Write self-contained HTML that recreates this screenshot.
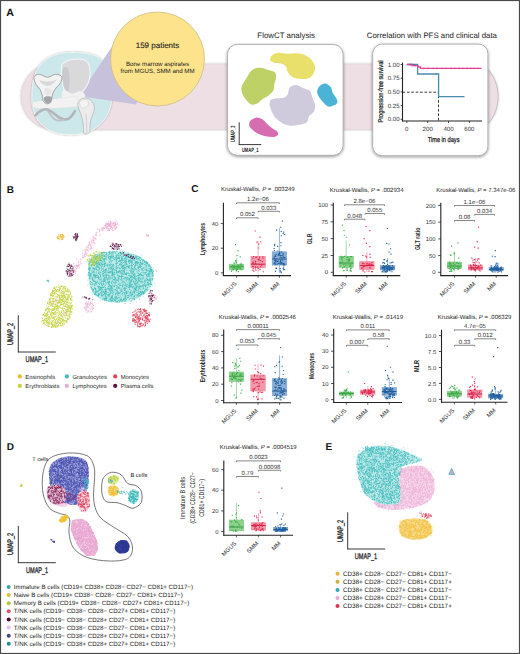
<!DOCTYPE html>
<html><head><meta charset="utf-8"><style>
html,body{margin:0;padding:0;background:#fff;}
body{width:520px;height:654px;overflow:hidden;}
svg{display:block;font-family:"Liberation Sans", sans-serif;text-rendering:geometricPrecision;}
</style></head><body>
<svg width="520" height="654" viewBox="0 0 520 654">
<defs>
<filter id="sh" x="-10%" y="-10%" width="120%" height="120%"><feGaussianBlur in="SourceAlpha" stdDeviation="1.6"/><feOffset dx="0" dy="0.6" result="b"/><feComponentTransfer><feFuncA type="linear" slope="0.45"/></feComponentTransfer><feMerge><feMergeNode/><feMergeNode in="SourceGraphic"/></feMerge></filter>
<filter id="sh2" x="-10%" y="-10%" width="120%" height="120%"><feGaussianBlur in="SourceAlpha" stdDeviation="1.2"/><feComponentTransfer><feFuncA type="linear" slope="0.3"/></feComponentTransfer><feMerge><feMergeNode/><feMergeNode in="SourceGraphic"/></feMerge></filter>
<filter id="soft" x="-5%" y="-5%" width="110%" height="110%"><feGaussianBlur stdDeviation="0.35"/></filter>
</defs>
<text x="6.3" y="15.8" font-size="10.6" text-anchor="start" fill="#111" font-weight="bold">A</text>
<path d="M53.7 64 H474.4 A23.8 32.7 0 0 1 474.4 129.4 H53.7 A32.7 32.7 0 0 1 53.7 64Z" fill="#eedfe5" stroke="#d9cdd2" stroke-width="0.5" filter="url(#sh2)"/>
<path d="M32 95C32.2 89.7 32.7 81.5 34.5 76C36.3 70.5 39.1 65.7 43 62C46.9 58.3 52.2 55.6 58 54C63.8 52.4 71.7 52.3 78 52.6C84.3 52.9 91.2 53.8 96 56C100.8 58.2 104.3 61.3 107 66C109.7 70.7 111.3 77.7 112 84C112.7 90.3 112.3 98 111 104C109.7 110 107.5 115.5 104 120C100.5 124.5 95.7 128.6 90 131C84.3 133.4 76.5 134.6 70 134.6C63.5 134.6 56.2 133.3 51 131C45.8 128.7 41.5 124.8 38.5 121C35.5 117.2 34.1 112.3 33 108C31.9 103.7 31.8 100.3 32 95Z" fill="#cce8ea" stroke="#eef2f2" stroke-width="1" filter="url(#sh2)"/>
<path d="M79 96 L113 45 L160 58 L136 104.5 Z" fill="#c8c1dc"/>
<path d="M61.6 65.5C62.1 63.1 63.5 63.1 65 62.1C66.5 61.1 68.4 60.3 70.4 59.8C72.4 59.3 74.9 59 77.1 59C79.3 59 82 59.2 83.8 59.8C85.6 60.4 86.9 61.2 87.9 62.8C88.9 64.4 89.6 66.8 89.9 69.5C90.2 72.2 90.1 76.1 89.5 78.9C88.9 81.7 87.7 84.2 86.5 86.3C85.3 88.4 84.1 90.2 82.5 91.7C80.9 93.2 79.1 94.4 77.1 95.1C75.1 95.8 72.3 96.2 70.4 95.7C68.5 95.2 66.9 94.1 65.7 92.4C64.5 90.7 63.6 88.3 63 85.6C62.4 82.9 62.1 79.5 61.9 76.2C61.7 72.9 61.1 67.8 61.6 65.5Z" fill="#d9d9dc" stroke="#f5f5f6" stroke-width="1.1"/>
<path d="M62.5 70C63 68.5 64.5 67 65.5 67C66.5 67 67.8 67.8 68.5 70C69.2 72.2 69.5 76.5 69.5 80C69.5 83.5 69.2 89.3 68.5 91C67.8 92.7 66.4 91.2 65.5 90C64.6 88.8 63.7 86.3 63.2 84C62.7 81.7 62.4 78.3 62.3 76C62.2 73.7 62 71.5 62.5 70Z" fill="#c9cacd"/>
<path d="M63.6 90C65.3 89.4 69.3 93.3 72 93.5C74.7 93.7 77.8 90.8 80 91C82.2 91.2 84.3 93 85 95C85.7 97 85.5 101.2 84 103C82.5 104.8 79 105.6 76 106C73 106.4 68.3 107 66 105.5C63.7 104 62.4 99.6 62 97C61.6 94.4 61.9 90.6 63.6 90Z" fill="#f1f1f2"/>
<path d="M32.7 101.8 C45 100 62 97.5 77.1 96.4 L81.1 105.8 C72 107.5 60 108.6 43.5 108.6 C38 108.5 35 108 32.7 107.2Z" fill="#f2f2f3" stroke="#d8d8da" stroke-width="0.4"/>
<path d="M35.4 115.3 C39 111.5 43 108.8 47 109.4 C51 110.5 54 113.5 57 116 C61 119.3 65 120.3 68.5 118.8 C71.5 117 73 113.8 75 111.2" fill="none" stroke="#b3b5b8" stroke-width="2.6" stroke-linecap="round"/>
<path d="M47.5 110.5 C50 114.5 52 117.5 55 119.5 C58 121 61.5 120.8 64 119.5" fill="none" stroke="#bfc1c4" stroke-width="1.8" stroke-linecap="round"/>
<path d="M34 76.9C34.6 75.2 37.1 74.2 39.4 74.3C41.6 74.3 44.8 77.2 47.5 77.2C50.2 77.2 53.2 74.4 55.6 74.3C58 74.2 60.8 75.1 61.6 76.5C62.4 77.9 61.5 80.7 60.6 82.6C59.7 84.5 57.2 86.4 56 88C54.8 89.6 53.9 90.8 53.2 92.4C52.5 94 52.3 96.1 51.8 97.8C51.3 99.5 51.3 101.5 50.4 102.5C49.5 103.5 47.6 104.1 46.4 103.8C45.2 103.5 43.7 102 43 100.5C42.3 99 42.7 96.9 42.2 95.1C41.7 93.3 41 91.3 40 89.5C39 87.7 37 86.4 36 84.3C35 82.2 33.4 78.6 34 76.9Z" fill="#f3f3f4" stroke="#9a9ca0" stroke-width="0.9"/>
<path d="M39 80 C44 82 52 82 57 79.5 C54 84 50 86 47 86 C43.5 85.5 41 83 39 80Z" fill="#d9d9dc"/>
<path d="M44 97.5C44.6 96.6 46.7 96.2 48 96.2C49.3 96.2 51.5 96.2 52 97.2C52.5 98.2 51.8 101 51 102C50.2 103 48.6 103.6 47.5 103.5C46.4 103.4 45.1 102.5 44.5 101.5C43.9 100.5 43.4 98.4 44 97.5Z" fill="#a3a4a8"/>
<path d="M44.5 89C45 88.1 46.8 87.9 48 88C49.2 88.1 51 88.5 51.5 89.5C52 90.5 51.5 93 50.8 94C50.1 95 48.5 95.6 47.5 95.5C46.5 95.4 45.3 94.6 44.8 93.5C44.3 92.4 44 89.9 44.5 89Z" fill="#e6e6e8"/>
<path d="M78.5 101.5C79.3 100.4 80.9 98.8 82.5 98.3C84.1 97.8 86.4 98 88 98.5C89.6 99 91 100.2 92 101.5C93 102.8 94 104.2 94.3 106C94.6 107.8 94.3 110.1 93.8 112C93.3 113.9 92.1 115.5 91.5 117.5C90.9 119.5 90.3 121.5 90 124C89.7 126.5 90.6 130.9 89.6 132.5C88.6 134.1 85 134.8 84 133.5C83 132.2 83.7 127.8 83.3 125C82.9 122.2 82.5 119.5 81.8 117C81.1 114.5 80 112 79.3 110C78.6 108 77.9 106.4 77.8 105C77.7 103.6 77.7 102.6 78.5 101.5Z" fill="#ececee" stroke="#b8b9bc" stroke-width="0.8"/>
<path d="M85.8 114 C86.8 120 86.8 127 86.6 133" fill="none" stroke="#d3d4d7" stroke-width="1.2"/>
<path d="M79.5 102.5C79.8 101.2 81.8 100 83 99.6C84.2 99.2 86.1 99.5 87 100.2C87.9 100.9 88.7 102.8 88.5 104C88.3 105.2 87.2 106.9 86 107.5C84.8 108.1 82.6 108.3 81.5 107.5C80.4 106.7 79.2 103.8 79.5 102.5Z" fill="#f4f4f5" stroke="#c6c7ca" stroke-width="0.5"/>
<path d="M487.6 69.6 A23.8 32.7 0 0 1 487.6 123.8" fill="none" stroke="#c4babf" stroke-width="0.8"/>
<circle cx="157.5" cy="59" r="47" fill="#fde38b" stroke="#cdbd8c" stroke-width="0.8"/>
<text x="157.5" y="47.8" font-size="8" text-anchor="middle" fill="#222" stroke="#222" stroke-width="0.12">159 patients</text>
<text x="157.6" y="65.6" font-size="6.15" text-anchor="middle" fill="#222">Bone marrow aspirates</text>
<text x="157.6" y="72.9" font-size="6.15" text-anchor="middle" fill="#222">from MGUS, SMM and MM</text>
<text x="286.2" y="37.8" font-size="7.9" text-anchor="middle" fill="#222">FlowCT analysis</text>
<rect x="227.4" y="44.4" width="115.7" height="110.9" rx="10" fill="#fff" stroke="#a9a9a9" stroke-width="0.9" filter="url(#sh)"/>
<path d="M271.8 55.4C273 54.2 274.9 53.2 277.5 52.9C280.1 52.6 284 53.7 287.3 53.7C290.6 53.8 294.4 53.1 297.1 53.2C299.8 53.3 301.6 53.7 303.7 54.5C305.8 55.3 307.8 56.4 309.4 57.8C311 59.2 312.6 60.9 313.5 62.7C314.4 64.5 315.2 66.4 315.1 68.4C315 70.5 313.7 73.4 312.6 75C311.5 76.6 310.4 77.5 308.6 78.2C306.8 78.9 304.2 79 302 79C299.8 79 297.4 78.7 295.5 78.2C293.6 77.7 292 77 290.6 75.8C289.2 74.6 288.1 72.5 287.3 70.9C286.5 69.3 286.8 67.2 285.7 66C284.6 64.8 282.7 64 280.8 63.5C278.9 63 276 63.2 274.2 62.7C272.4 62.2 270.5 61.5 270.1 60.3C269.7 59.1 270.6 56.6 271.8 55.4Z" fill="#e9e06c" filter="url(#soft)"/>
<path d="M249.7 72.5C250.8 71.3 252.5 69.2 254.6 68.4C256.6 67.6 259.7 67.6 262 67.9C264.3 68.2 266.3 69.3 268.5 70.1C270.7 70.9 273.8 71.2 275 72.5C276.2 73.8 276 76.2 275.9 78.2C275.8 80.2 274.6 82.8 274.2 84.8C273.8 86.8 274.3 88.7 273.4 90.5C272.4 92.3 270.3 94 268.5 95.4C266.7 96.8 264.7 97.3 262.8 98.7C260.9 100.1 259 102.6 257.1 103.6C255.2 104.5 253.1 105 251.3 104.4C249.5 103.9 247.9 102.1 246.4 100.3C244.9 98.5 243.2 96 242.4 93.8C241.6 91.6 241.1 89.4 241.5 87.2C241.9 85 243.7 82.6 244.8 80.7C245.9 78.8 247.3 77.2 248.1 75.8C248.9 74.4 248.6 73.7 249.7 72.5Z" fill="#bdd166" filter="url(#soft)"/>
<path d="M289.8 87.3C291.2 85.9 293.9 84.9 296.2 85.1C298.5 85.2 301.2 87.2 303.5 88.2C305.8 89.2 308.4 89.3 309.9 91C311.4 92.7 311.7 95.9 312.6 98.3C313.5 100.7 315.2 103.3 315.3 105.6C315.4 107.9 314.6 110.2 313.5 112C312.4 113.8 310 114.8 308.9 116.5C307.8 118.2 308.6 120.6 307.1 122C305.6 123.4 302.5 124.2 299.8 124.8C297.1 125.4 293.4 125.9 290.7 125.7C288 125.5 285.7 124.9 283.4 123.8C281.1 122.7 278.8 121.1 277 119.3C275.2 117.5 273.6 115.2 272.4 112.9C271.2 110.6 270 107.7 269.7 105.6C269.4 103.5 269.4 101.3 270.6 100.1C271.8 98.9 274.7 98.8 277 98.3C279.3 97.8 282.5 98.2 284.3 97.4C286.1 96.6 287 95.4 287.9 93.7C288.8 92 288.4 88.7 289.8 87.3Z" fill="#cfcbdd" filter="url(#soft)"/>
<path d="M321.7 84.6C323.1 83.8 324.8 83.2 326.3 83.7C327.8 84.2 329.8 85.8 330.9 87.3C332 88.8 331.8 91 332.7 92.8C333.6 94.6 335.5 96.6 336.3 98.3C337.1 100 337.8 101.6 337.3 102.8C336.9 104 335.1 105 333.6 105.6C332.1 106.2 329.8 107 328.1 106.5C326.4 106 325 104.2 323.6 102.8C322.2 101.4 321 100 319.9 98.3C318.8 96.6 317.5 94.5 317.2 92.8C316.9 91.1 317.4 89.6 318.1 88.2C318.9 86.8 320.3 85.3 321.7 84.6Z" fill="#4cb4d6" filter="url(#soft)"/>
<path d="M252.3 119.3C253.5 118.5 255.2 117.4 256.9 117.4C258.6 117.4 260.7 118.2 262.4 119.3C264.1 120.4 265.2 122.3 266.9 123.8C268.6 125.3 270.7 127.2 272.4 128.4C274.1 129.6 276.1 130.1 277 131.2C277.9 132.3 278.4 133.8 277.9 134.8C277.4 135.8 276 136.7 274.2 137C272.4 137.3 269.2 137 266.9 136.6C264.6 136.2 262.6 135.7 260.5 134.8C258.4 133.9 255.9 132.6 254.1 131.2C252.3 129.8 250.3 128.1 249.6 126.6C248.8 125.1 249.1 123.2 249.6 122C250.1 120.8 251.1 120.1 252.3 119.3Z" fill="#d66db1" filter="url(#soft)"/>
<line x1="239.2" y1="122.3" x2="239.2" y2="145" stroke="#222" stroke-width="0.9"/>
<line x1="238.8" y1="144.6" x2="261.2" y2="144.6" stroke="#222" stroke-width="0.9"/>
<text x="235.2" y="133.7" font-size="6.3" text-anchor="middle" fill="#222" font-weight="bold" transform="rotate(-90 235.2 133.7)" textLength="16.5" lengthAdjust="spacingAndGlyphs">UMAP_2</text>
<text x="241.9" y="152.4" font-size="6.3" text-anchor="start" fill="#222" font-weight="bold" textLength="16.6" lengthAdjust="spacingAndGlyphs">UMAP_1</text>
<text x="431.9" y="38.2" font-size="7.83" text-anchor="middle" fill="#222">Correlation with PFS and clinical data</text>
<rect x="372.7" y="44.1" width="115.2" height="111.6" rx="9.5" fill="#fff" stroke="#a9a9a9" stroke-width="0.9" filter="url(#sh)"/>
<line x1="402.5" y1="62.5" x2="402.5" y2="121.5" stroke="#222" stroke-width="1.1"/>
<line x1="402" y1="121" x2="482" y2="121" stroke="#222" stroke-width="1.1"/>
<line x1="400.6" y1="64.5" x2="402.5" y2="64.5" stroke="#222" stroke-width="0.8"/>
<text x="399.6" y="66.6" font-size="6.1" text-anchor="end" fill="#333">1.00</text>
<line x1="400.6" y1="78.2" x2="402.5" y2="78.2" stroke="#222" stroke-width="0.8"/>
<text x="399.6" y="80.3" font-size="6.1" text-anchor="end" fill="#333">0.75</text>
<line x1="400.6" y1="91.9" x2="402.5" y2="91.9" stroke="#222" stroke-width="0.8"/>
<text x="399.6" y="94" font-size="6.1" text-anchor="end" fill="#333">0.50</text>
<line x1="400.6" y1="105.6" x2="402.5" y2="105.6" stroke="#222" stroke-width="0.8"/>
<text x="399.6" y="107.7" font-size="6.1" text-anchor="end" fill="#333">0.25</text>
<line x1="400.6" y1="119.3" x2="402.5" y2="119.3" stroke="#222" stroke-width="0.8"/>
<text x="399.6" y="121.4" font-size="6.1" text-anchor="end" fill="#333">0.00</text>
<line x1="406.8" y1="121" x2="406.8" y2="123" stroke="#222" stroke-width="0.8"/>
<text x="406.8" y="131.4" font-size="6.1" text-anchor="middle" fill="#333">0</text>
<line x1="427.7" y1="121" x2="427.7" y2="123" stroke="#222" stroke-width="0.8"/>
<text x="427.7" y="131.4" font-size="6.1" text-anchor="middle" fill="#333">200</text>
<line x1="448.5" y1="121" x2="448.5" y2="123" stroke="#222" stroke-width="0.8"/>
<text x="448.5" y="131.4" font-size="6.1" text-anchor="middle" fill="#333">400</text>
<line x1="469.4" y1="121" x2="469.4" y2="123" stroke="#222" stroke-width="0.8"/>
<text x="469.4" y="131.4" font-size="6.1" text-anchor="middle" fill="#333">600</text>
<text x="443.6" y="141.8" font-size="7.2" text-anchor="middle" fill="#1a1a1a" textLength="31.7" lengthAdjust="spacingAndGlyphs" stroke="#1a1a1a" stroke-width="0.25">Time in days</text>
<text x="383.3" y="91.5" font-size="7.0" text-anchor="middle" fill="#1a1a1a" transform="rotate(-90 383.3 91.5)" textLength="62" lengthAdjust="spacingAndGlyphs" stroke="#1a1a1a" stroke-width="0.25">Progression-free survival</text>
<path d="M402.5 92.2 H438.5 V121" fill="none" stroke="#222" stroke-width="0.9" stroke-dasharray="2.6 1.8"/>
<path d="M406.8 64.5 H417.6 V74 H438.6 V96.6 H464.5" fill="none" stroke="#4d8ab0" stroke-width="1.3"/>
<path d="M406.8 64.5 H412 V65.6 H418 V67 H420.5 V68.4 H481.5" fill="none" stroke="#e4449a" stroke-width="1.4"/>
<path d="M424 67.6v1.6M428 67.6v1.6M433 67.6v1.6M437 67.6v1.6M442 67.6v1.6M446 67.6v1.6M451 67.6v1.6M455 67.6v1.6M459 67.6v1.6M463 67.6v1.6M467 67.6v1.6M471 67.6v1.6M474 67.6v1.6M478 67.6v1.6M410 63.7v1.6M415 64.8v1.6" stroke="#c0307a" stroke-width="0.6"/>
<path d="M411 63.8v1.4M414 63.8v1.4M436 73.3v1.4" stroke="#2a5a80" stroke-width="0.6"/>
<text x="6.8" y="192.7" font-size="10" text-anchor="start" fill="#111" font-weight="bold">B</text>
<path d="M80.4 264h0M70.5 272.5h0M71.2 273.5h0M82.8 257.6h0M82.3 257h0M73.5 263.6h0M82.7 253.8h0M72.1 273h0M75.1 270.7h0M93.7 242.8h0M86.5 250h0M72.8 273.7h0M87.8 247.4h0M85.1 251.2h0M91.9 240.7h0M82.9 250.8h0M89.4 249h0M71 272.2h0M73.8 269.5h0M88.9 245.2h0M93.6 240.6h0M85.1 249.6h0M95.2 239.3h0M90.9 248.4h0M91.1 248h0M76.2 265.3h0M69.7 275.3h0M75.8 272h0M73.6 272h0M95.9 239.4h0M87.6 250.4h0M93.9 240.5h0M83.1 257.9h0M74.7 270.6h0M74.4 266.2h0M79 264.7h0M76.7 258.5h0M87.1 246.1h0M92.2 248.1h0M93.9 240.4h0M80.4 259.6h0M88.3 249h0M76.6 268.3h0M72.4 273.7h0M72.6 271.9h0M93.8 237.8h0M76.2 266.4h0M76.4 266.6h0M82.4 256h0M72.2 272.7h0M93.4 240.7h0M95.7 234.9h0M87.1 253h0M99 232.1h0M76.7 265.5h0M88.9 242.2h0M79.7 264.7h0M99.3 231.3h0M92.8 239.7h0M84.3 254h0M70.6 276h0M91.1 245.8h0M100.2 235.4h0M80.4 261.4h0M76.1 269.7h0M96.2 235.7h0M88.5 247.3h0M90.9 246.1h0M90 243.9h0M90.7 244.6h0M95.9 235.2h0M96.4 234.3h0M75.6 273.4h0M94.4 243.7h0M96.6 232.6h0M85.5 252.6h0M96 232.7h0M93.2 237.2h0M93.4 241.7h0M78.3 265.5h0M76.5 265.3h0M94.4 238.3h0M87.7 250h0M93.7 236.5h0M86.4 253.7h0M78 268.2h0M72.3 269h0M84.7 253.8h0M85.7 251.4h0M85.7 253.2h0M89.6 242.7h0M92.8 242.4h0M85.2 249.6h0M87.5 246.8h0M85.7 254.6h0M95.7 237.9h0M88.5 250.9h0M75.1 271.3h0M72.1 273.5h0M89.5 243.9h0M73.8 267.1h0M77.1 267h0M77.7 266.1h0M86.7 254.9h0M72.8 269.9h0M80 262.7h0M92.2 245.2h0M83.8 257.2h0M86.9 249.1h0M98.6 229.5h0M72.9 271.9h0M91.7 243.3h0M84.3 256.3h0M79.4 267.8h0M85.8 250.8h0M71 272h0M74.1 272h0M95.2 243.1h0M73 271.8h0M76 260.2h0M78.8 265.9h0M77.4 266.3h0M71.8 275.2h0M78.6 261.6h0M84.6 255.8h0M70.5 275.5h0M89.5 244.2h0M84 255.3h0M91.2 241.6h0M91.9 241.3h0M90.7 246.3h0M92.7 238h0M81 259h0M76 271.5h0M77.5 265.6h0M95.2 238.1h0M78 265.2h0M83.8 257.7h0M81.5 263.7h0M85.5 256.6h0M78.6 262.7h0M78.8 259.9h0M75.5 267.4h0M78.8 265.5h0M72.5 274.4h0M74.8 265h0M89.6 241.6h0M93.5 239.1h0M99.1 235.7h0M90.9 249.2h0M93.2 235.8h0M94 242.6h0M85.6 251.8h0M90.2 238.8h0M88.7 245.6h0M71.9 275.8h0M74 269.7h0M85.9 247.3h0M86.6 255h0M89 243.8h0M90.9 248.7h0M78.2 265.7h0M91.2 247.2h0M95.8 234.1h0M82.3 252.9h0M86.9 249h0M74.1 272.3h0M78.3 262.8h0M71.4 275.8h0M88.8 245.1h0M111.2 225.6h0M110.6 222.2h0M115.7 223h0M105.2 225.6h0M110.4 223.7h0M107.5 226.8h0M106.7 226.2h0M114.8 226.1h0M115.6 228h0M107.8 230h0M110.8 221.2h0M105 225.9h0M110.4 224h0M106.7 224.4h0M108.8 229.4h0M116.1 228.1h0M115.8 223.9h0M109.5 224.9h0M109.3 225.3h0M108.4 230.4h0M108 223.7h0M111.1 222.9h0M109.5 230.6h0M115.6 229.1h0M112.6 230.1h0M116.3 226.5h0M113.8 225.5h0M114 227.4h0M108.4 221.5h0M110.7 224.4h0M108.6 228.4h0M112.9 224h0M111.7 224.9h0M107 222.6h0M111 223.2h0M110.4 222.4h0M109.1 221.9h0M107.9 223.6h0M111.8 229.9h0M114 225.1h0M110 226.2h0M109.5 224.4h0M105.7 223.8h0M111 227.3h0M115.4 223.2h0M108.3 223.5h0M109.8 225.5h0M115.7 225.7h0M109.7 230.3h0M114.9 229.6h0M111.3 227.8h0M116.3 228.2h0M112.8 228.6h0M110.5 226.5h0M107.8 230.2h0M112.7 224h0M106.5 223.5h0M112.6 228h0M111.3 226.8h0M109.7 223.2h0M112.2 221.1h0M108.6 225.6h0M116.5 227.4h0M115.6 225.8h0M107.8 223.5h0M111 227.7h0M110 223.6h0M113 230.3h0M109.1 225.2h0M113.2 223h0M114.6 228.4h0M111.1 223.1h0M114.8 223.3h0M107.7 228.6h0M108.5 230.5h0M110.9 222.9h0M107.7 225.2h0M113 230.5h0M106.8 224.9h0M105.7 224.9h0M116.2 224.3h0M113 224.8h0M109.5 224.3h0M108.4 224.5h0M109.3 229.2h0M114.9 225.3h0M105.6 225.7h0M109.5 230.2h0M107.3 224.6h0M109.9 229.1h0M93.2 304.1h0M91.5 311.8h0M87.4 304.3h0M93.6 308.4h0M86.6 309.6h0M87.2 304.3h0M93.2 308.6h0M86.3 306.7h0M87.9 304h0M88.3 306.9h0M92 309.9h0M92.2 310.3h0M90.1 304.9h0M87.2 305.3h0M86 310h0M84.3 307.6h0M86.6 302h0M85 307h0M91.1 306.4h0M86.3 306h0M90.2 309.1h0M91.5 311.2h0M90.6 302.5h0M92.4 304.5h0M89.7 305.5h0M91.4 303.4h0M86.5 303.9h0M89.8 304.9h0M89.1 303.8h0M92.1 308.8h0M88.7 310.8h0M85.2 303.3h0M93.7 308h0M93.3 305.5h0M92.7 306.4h0M86.6 310.3h0M90 308.4h0M86.2 305.4h0M85.4 303.4h0M86.5 308.2h0M90.5 303.4h0M90.8 303.2h0M87.1 303.4h0M92 307.6h0M88 307.6h0M90.4 302.1h0M85.6 309.3h0M88.1 304.4h0M87.1 312.4h0M87.1 307.8h0M87.6 306h0M87.6 303.4h0M91.3 303.4h0M88.2 310.8h0M88.1 311.6h0M88.6 303h0M84.1 307.6h0M90.4 311.9h0M84.9 308.5h0M87.7 307.1h0M85.5 304.4h0M89.2 312.1h0M85.1 306.9h0M86 302.5h0M88.8 301.6h0M93.3 305.7h0M93 308.4h0M92.2 302.9h0M91.9 303.7h0M88 311.2h0M115.3 224.1h0M106 226.7h0M102.3 230.9h0M117.6 223.2h0M115.9 224.5h0M100.9 228.2h0M110.9 226.2h0M108.9 226.1h0M107.8 226.5h0M110.3 225.1h0M114 222.6h0M102.7 228.7h0M101.8 229.2h0M107.6 226.4h0M113.2 225.9h0M113.6 223.8h0M107 228h0M104.9 225.8h0M113.5 223.4h0M114.7 222.3h0M117.6 224.5h0M117.8 223h0M115 226.1h0M105.2 227.2h0M109.8 225.6h0M103.7 227.9h0M101 230.4h0M115.8 220.2h0M103.2 228.1h0M108.8 224.9h0M114.2 222.5h0M118.9 225.2h0M109.6 226.3h0M106.3 227.8h0M106.6 225.8h0M103.2 228.2h0M114.7 225.2h0M116.2 221.2h0M105.9 227.5h0M101.7 228h0M109.7 225.5h0M103.9 228h0M99.7 230.4h0M106.7 228.7h0M111.1 226.9h0M110.4 228.3h0M104.7 228.5h0M112.9 223.4h0M107.2 227h0M110.6 224.4h0M109 225.8h0M113.2 226.7h0M99.6 229.4h0M106.2 228.8h0M97.5 229h0M103.1 230.4h0M107.7 224.2h0M102.8 229.5h0M102.5 228.3h0M115.2 224.4h0M148.2 235.4h0M148.2 235.4h0M146.7 234.3h0M147 236.2h0M148.1 236.5h0M148.1 234.8h0M147.7 235.3h0M148.4 235.6h0M146.8 235.9h0M146.8 234.7h0M67 311.3h0M67.5 311.3h0M65 313.6h0M66.5 312.8h0M65.9 313.4h0M66.8 313.4h0M65.7 312.9h0M66.3 311.2h0M64.8 312.5h0M65.4 310.6h0M155.8 297.8h0M155.8 298.4h0M153.3 297.5h0M154.5 298.9h0M153.4 295.2h0M156.4 298.9h0M155.5 299h0M155.5 295.7h0M156 295.2h0M154.3 296.5h0M154.1 298.3h0M154.5 295.9h0M156.9 297h0M156.4 297.7h0M153.1 296.5h0M54.8 301h0M55.5 299.9h0M58.7 300h0M53.7 303.8h0M56.7 299.7h0M53.2 301.7h0M52.2 303.7h0M56.8 301.6h0M54 304.5h0M56.1 302.4h0M52.9 302.9h0M56.1 298.8h0" stroke="#eeaad2" stroke-width="0.9" stroke-linecap="round"/>
<path d="M54.1 301.7h0M69.9 306.3h0M53.4 323h0M48.9 304.5h0M58.2 317.3h0M65.2 312.6h0M52.5 298.7h0M46.4 321.2h0M62.4 316.8h0M65.9 309.7h0M69.4 294.9h0M63.6 321.2h0M49.3 298.7h0M57.9 291.5h0M51.8 292.7h0M64.6 303.4h0M47.7 312.3h0M54.1 318.9h0M63.3 306.3h0M61.4 304.7h0M46 310.8h0M54.2 316.7h0M70.1 303.2h0M59.6 317.1h0M54.8 294.4h0M64.2 322.8h0M65.9 315h0M68.4 314.1h0M61.7 304.2h0M51.4 311.8h0M66.1 315.5h0M61.3 295.4h0M54.8 304.3h0M61.1 302.3h0M62.8 325h0M47.3 313h0M66 301.4h0M56.9 326.9h0M46.6 318.5h0M71.1 307.1h0M58.5 315.7h0M57.6 312.3h0M67.6 307.2h0M54.4 325.7h0M48.1 314.3h0M53.9 317.7h0M50.1 301.9h0M54.7 314.9h0M52.6 296h0M48.6 316.8h0M71.1 307.4h0M48.4 319.4h0M53.8 293.7h0M45.6 318.3h0M67 312.1h0M56.3 308.9h0M48.6 326.4h0M52.6 312.3h0M67.3 320h0M56.2 297.3h0M58.8 289.9h0M67.8 299.9h0M68.3 296.1h0M53.3 295.5h0M54.9 292.6h0M50.4 295.2h0M51 305.4h0M55 312.2h0M62.3 300.3h0M43.3 320.5h0M45.9 320.7h0M61.4 285.2h0M62.2 295.4h0M48.9 318.3h0M52.4 291.1h0M46.8 323.3h0M60.7 318.5h0M62.6 323.4h0M66.3 321h0M47.7 314.6h0M58.2 316.8h0M55.3 322.9h0M59 296h0M57 287h0M56.2 290.8h0M57 306.2h0M58.5 322h0M41.7 321.1h0M56.2 309h0M62.5 321.1h0M53.3 302.7h0M61.6 312.2h0M63 325h0M51.9 327.2h0M57.6 305.6h0M64.1 311.7h0M52.2 322h0M53 305.1h0M58.1 318h0M48.1 303.4h0M54.8 308.6h0M67.5 297.2h0M67.6 302.1h0M57.4 296.3h0M57.5 326.9h0M62.1 318.9h0M51.9 298.3h0M50.9 310h0M61.5 318.6h0M42.8 315.9h0M69.4 308.2h0M70.5 311h0M62.2 318.8h0M70.2 311.1h0M60.9 311.8h0M63.4 310.4h0M63 293.7h0M62.5 304.4h0M65.5 288.9h0M62.2 300.5h0M67.4 318.7h0M59.2 295.7h0M51 302.8h0M51.5 303.2h0M61.7 325.1h0M67 309.5h0M70.4 303.9h0M60.1 325.3h0M72.4 305.2h0M54.5 288.9h0M61.8 293.7h0M44.3 322.3h0M64.2 295h0M64.6 292.7h0M43.1 318.2h0M64 321.7h0M64.5 288.2h0M61.3 315.4h0M56 325.1h0M49.5 326.4h0M67.2 288h0M51.3 316.2h0M46.7 322h0M56.8 287.1h0M53.1 309.5h0M55.3 313.9h0M46.1 319.2h0M52.9 312.6h0M61.3 302.7h0M53.7 318.7h0M59.4 297.2h0M63.7 320.5h0M52 310.9h0M60.4 297.9h0M55 323.1h0M53.4 314.3h0M60.5 323.5h0M66.9 296.8h0M54.8 310h0M42.8 320.7h0M59.5 296.4h0M68.3 319.6h0M63.1 324.2h0M58.9 319.2h0M47.8 317.1h0M70.8 294.7h0M60.6 314h0M56.2 293.5h0M49.5 317.2h0M66.4 304.5h0M44.3 319.6h0M65.8 294.6h0M59.8 323.5h0M69.4 307.2h0M56.5 310.1h0M47.2 315h0M52.9 309.1h0M54.2 307h0M72.9 300.8h0M44.8 312h0M66.3 291.3h0M60.3 299.5h0M68.8 305.7h0M59.4 295.9h0M66 303h0M59.1 322.4h0M55.9 325.7h0M60.3 301.8h0M49.6 309.1h0M62.6 301.6h0M55.6 291.4h0M49.6 299.8h0M66.3 315.4h0M62.8 297.5h0M60.1 317.5h0M56.7 291.8h0M64.1 293h0M48.4 325.1h0M68 311.8h0M55.7 299.3h0M67.4 305.3h0M61.3 290.7h0M64 308.6h0M46.1 322.4h0M49.9 302.4h0M67.9 299.1h0M46.8 305.9h0M51.5 323.8h0M43.3 323.4h0M62.6 293.7h0M56.5 297h0M53 327.6h0M64.4 297.3h0M66.9 299.3h0M67.7 307.4h0M47.4 303.4h0M70.2 294h0M59.5 290.5h0M47.2 318h0M63.9 293.1h0M60.7 306.1h0M60.8 315.3h0M67.1 309.9h0M64.6 302.3h0M64.2 286.9h0M67 299.1h0M70.2 305.2h0M69 296.1h0M47.4 320.7h0M53.1 291.6h0M53.2 310.4h0M55.5 306.9h0M45.3 315.6h0M51.6 315.4h0M53.5 317.2h0M43.4 322.5h0M71.6 306h0M57.7 307.6h0M58.4 285.4h0M49.4 320h0M63.5 293h0M59.7 307.2h0M63.6 289h0M68.9 315.7h0M57 306.3h0M54.3 290.5h0M60.1 322h0M46.1 309.4h0M65 291.6h0M53.7 302.8h0M68 307.4h0M54 325.4h0M66 299.2h0M49.1 299.1h0M55.2 327.2h0M67.2 321.4h0M49.4 302.9h0M61.4 300.4h0M58.2 287.5h0M55.1 306.5h0M71 312h0M61.7 296.1h0M62.9 296.4h0M58.6 324.7h0M61.1 295.4h0M57.9 303.4h0M71.5 297h0M51.1 312.7h0M45.3 310.4h0M71.6 306.8h0M50 304.8h0M58.3 291h0M50.7 302.2h0M50.6 295.1h0M68 311h0M59.5 312.8h0M47.8 315.4h0M56 308.3h0M60.8 304.9h0M51.3 295h0M48.5 306.8h0M53.6 310h0M68.6 294.9h0M59 305.9h0M50.8 318.1h0M68.9 303.6h0M55.4 316.5h0M52.6 313.9h0M60.9 321.5h0M67.4 307h0M64.8 316.8h0M65.4 305.2h0M66.2 315.3h0M65.6 310h0M57.2 326.4h0M59.5 302.7h0M66.2 322.5h0M60.6 301h0M55.7 304.4h0M64.3 297.2h0M53.8 308.7h0M53.6 298.5h0M66.3 321.5h0M57.2 303.8h0M46.1 309.5h0M59.8 288.3h0M70.5 298.6h0M54.9 324.1h0M59.3 306.1h0M57.8 307h0M63.1 301.4h0M52.8 310.4h0M52.6 325.7h0M62.8 307.3h0M54.1 308.9h0M59.6 322.8h0M71.9 305.7h0M55.4 311.7h0M58.2 320h0M57.6 289.3h0M69.7 314.5h0M69.5 302.8h0M57.6 306.5h0M61.3 310.7h0M61.6 286.3h0M54.5 318.8h0M51.2 314.5h0M68 310h0M62.5 293.1h0M57.2 308.6h0M49.9 312.6h0M59.6 302.4h0M65.4 289.1h0M58 320.3h0M60.8 319.6h0M65.8 298.5h0M64 299.9h0M44.6 323.8h0M59.8 299.7h0M55.7 301.3h0M43.2 323.2h0M59.9 326.2h0M55.3 311.5h0M51.4 323.6h0M67.2 297.7h0M57.1 325.8h0M49.2 301.5h0M64.1 294.1h0M51.2 322.6h0M56.8 319h0M52.8 292.6h0M72.1 297.1h0M59.2 289.5h0M58.3 301.3h0M54.2 287.3h0M45.4 320.4h0M52.6 295.2h0M62.4 299.4h0M46.4 315.2h0M67.8 290.1h0M55.5 320.9h0M66.9 291.4h0M52.6 315.9h0M53.4 326.2h0M48.1 325.9h0M57.4 294.4h0M55.8 290.2h0M63.8 295.8h0M69.8 310.1h0M53.1 295.2h0M60.7 293.7h0M69 289.8h0M57.7 308.1h0M50 318.1h0M53.6 313.1h0M59.4 298h0M53.8 288.2h0M47.1 321.5h0M51.6 313.3h0M52.9 306.3h0M51.3 294.3h0M45.5 315.7h0M50.4 302h0M70.1 318.2h0M62.4 299.8h0M54.5 313.2h0M63.5 295.3h0M68.2 299.8h0M61.3 292.4h0M45.1 324.2h0M64.6 315.5h0M51 301.1h0M61.6 292.3h0M67.9 309.3h0M64.1 295.6h0M55.2 314.3h0M67.8 318.3h0M68.4 310.9h0M45 318.9h0M48.1 324.3h0M65.1 288.2h0M63.4 301.6h0M65 320.6h0M71.3 302.9h0M70.8 314.6h0M64.8 320.6h0M61.3 304.2h0M43.2 314.9h0M55 306.8h0M65.5 286.4h0M63.6 319.5h0M49.7 308.3h0M72 312.2h0M58.6 295.4h0M54.5 293.3h0M63.8 313.7h0M57.7 303.9h0M71 299.8h0M50.9 323h0M46 309h0M52 320h0M58.8 317.6h0M46.8 313.5h0M60.4 304.6h0M65.6 320.7h0M52.9 293.5h0M47.7 315h0M55.6 289.4h0M51.7 304.9h0M52.9 291.8h0M44.1 315.7h0M72.4 309h0M55.2 292.8h0M70.5 312.5h0M61.3 325.2h0M62.1 295.4h0M42.4 318.2h0M67.9 297.4h0M47.4 312.3h0M46.8 318.6h0M67.7 316.8h0M51.8 292.5h0M67.5 298.4h0M53.1 308.5h0M53.1 320.7h0M59.4 311.8h0M67.3 315.2h0M57.1 306.2h0M59.8 288h0M63.2 291.6h0M55.5 326.7h0M55.3 292.8h0M66.3 303h0M50.4 313.3h0M57.7 302.8h0M52.2 303.6h0M62.5 320.4h0M70 291.7h0M50.8 303.8h0M59.2 299.6h0M51.7 304.5h0M71.8 311.5h0M62.8 311h0M50.9 309.3h0M71.5 305.4h0M61.9 297.5h0M52.3 323h0M62.9 304h0M44.2 313.2h0M53.2 309.8h0M54.6 307.6h0M59.3 301.7h0M69.5 308.3h0M45 322h0M58.2 295.4h0M56.9 308.6h0M48.6 309.4h0M60 288h0M54.4 287.7h0M55.3 322.1h0M58.8 315.6h0M65.3 289.5h0M44.7 320.6h0M53.8 291.9h0M71.7 309h0M65.9 290.5h0M65.9 287h0M49 300.7h0M63.8 303h0M69.5 311.5h0M69 309h0M46.8 316.9h0M52.3 317.7h0M62.9 320.4h0M64.2 286.4h0M60.5 288.8h0M58.8 319.4h0M45.1 324.8h0M62.8 295.6h0M47.6 303.9h0M67.9 309.8h0M45 319.3h0M47.3 308.6h0M50.6 314.4h0M53.5 290.8h0M69.1 307.9h0M63.2 319.7h0M52.3 291.1h0M57.3 322.5h0M47.2 320.1h0M62.9 301.6h0M56.5 291.4h0M68.1 301.6h0M69 311.1h0M48.3 323.4h0M60.1 286.4h0M56.2 309.6h0M53.7 299.9h0M56 327.4h0M62.6 296.4h0M50.1 306.3h0M49.8 309.2h0M58.1 326.1h0M59.2 318h0M69 318.2h0M61.4 312.1h0M52.9 296.7h0M66.6 322.5h0M71.1 314.1h0M51.1 317.7h0M64.8 306.6h0M61.5 299.7h0M58.8 302.2h0M51.7 327.5h0M56.7 300.5h0M52.5 290.4h0M55.8 303.9h0M59.4 297.7h0M51 297.9h0M64.4 308.5h0M71 299.3h0M70.5 309.9h0M52.7 318.2h0M55 322.3h0M69.8 296.5h0M63.7 294h0M54.1 293.2h0M60.5 322.1h0M61.9 293.1h0M60.4 287.9h0M47.4 307.9h0M69.1 312.3h0M70.6 293.7h0M51.8 317.1h0M61.9 302.1h0M62.9 299.2h0M52 306h0M60.3 295.7h0M70.6 309h0M60.8 316h0M65.7 288.4h0M67.1 302.9h0M58.5 310.1h0M59 313.1h0M60.4 298.9h0M64.8 295.7h0M63.9 317.7h0M65.9 298h0M55.8 296.6h0M58 325.4h0M56.5 313h0M65.9 300.3h0M65.3 288.4h0M59 292.4h0M71.1 300.4h0M64.7 324.6h0M66 295.1h0M72.4 306.2h0M61.5 299.5h0M66.7 304.5h0M51.7 323.8h0M44.9 316.4h0M54.2 322.1h0M54.4 324.5h0M71.3 311.8h0M49.8 303.4h0M65.4 312.5h0M48.3 309.3h0M46.4 322h0M68.9 296.1h0M65.2 320.3h0M50.4 298.9h0M56.8 323.3h0M46.6 314.2h0M60.3 304.2h0M59.7 322.9h0M48.1 322.9h0M52.9 318.4h0M68.7 292.4h0M46.3 316.5h0M63 288.4h0M52.2 324.5h0M64.1 322.9h0M48.9 319h0M63.2 286.1h0M57.4 294.6h0M55.1 289.1h0M51.5 322.7h0M47.1 314.3h0M46.2 316.6h0M57.3 289.4h0M52.6 306.1h0M70.4 299.7h0M48.3 326.6h0M69.3 316.3h0M54.4 308.7h0M63.2 312.9h0M58.6 308.4h0M69 315.7h0M54.1 298.3h0M54.7 326.8h0M53.7 301.3h0M54.4 290.7h0M60.6 324.8h0M49.5 311.1h0M53.4 295h0M68.1 318.6h0M63.4 298.6h0M61.9 308.4h0M51.4 326.8h0M68.4 306.7h0M48.9 311.9h0M64.9 301h0M63.9 301.6h0M58.1 311.2h0M62.8 298.5h0M61.3 308.1h0M48.5 311.1h0M49.8 324h0M56.4 315.9h0M57.9 305.2h0M70.7 307.5h0M58 307.4h0M67.1 294.9h0M46.9 320.3h0M56 312.4h0M53.5 320.7h0M67.3 289.9h0M66.8 307.2h0M55.8 288.3h0M63.4 304h0M56.6 319.2h0M65.4 291h0M62.9 300.5h0M57.9 294.8h0M53.2 299.3h0M47.8 309.3h0M64.1 296.4h0M51.7 295h0M67.8 288.5h0M61.5 321.9h0M47.9 302.9h0M66.5 311.4h0M55.4 300.5h0M63.9 297.3h0M54.3 312.7h0M67 299.8h0M53.6 309.7h0M70.6 292.8h0M53.2 313.5h0M65.3 301h0M58.1 306.1h0M69.9 317.4h0M56.1 304.6h0M67.9 302.5h0M56.4 323.2h0M55.4 305.9h0M57.6 320.4h0M62.6 316.7h0M62.9 308.6h0M65.7 318h0M43.9 320.1h0M65.2 309.1h0M43.2 314.1h0M63.9 305.5h0M43.2 314.6h0M54.7 309.9h0M69 290.8h0M52 307h0M50.2 295.9h0M51.4 295.6h0M68.6 308.7h0M57.6 302.8h0M68.8 319.4h0M68.5 295.7h0M58.4 300.8h0M56.1 305.8h0M59.9 300.4h0M66.7 293.2h0M70.5 308.7h0M58.3 302.3h0M59.3 298.6h0M50.1 319.1h0M50.7 315.4h0M66.8 310.3h0M55.8 325.2h0M55.5 322.7h0M61.6 286.6h0M60.3 292.3h0M70.6 308.9h0M66.7 306.2h0M62.7 313.9h0M50.8 293.7h0M67.9 290.8h0M70.4 293.5h0M54.6 313.2h0M49.6 323.9h0M63.1 291.2h0M43.3 314.8h0M42.8 320.9h0M50.7 294.6h0M59.8 298.4h0M59.2 291.2h0M70.2 298.6h0M68 291.1h0M53.5 312.4h0M48.5 308.2h0M64.4 303.2h0M62.9 289.5h0M67.6 289.8h0M71.1 307.4h0M50.7 299.6h0M65.1 306.1h0M56.8 322.1h0M60.3 308h0M50 323.3h0M68.1 294.4h0M52.3 325.6h0M62.2 286.7h0M52 304.1h0M49.3 316.8h0M47.1 318.8h0M59.1 288.7h0M58.9 318.8h0M60.3 304.6h0M44.6 312.6h0M45.7 309.6h0M52.6 300.8h0M62.4 291.6h0M46.8 325.5h0M51.9 321.1h0M69 305.4h0M57.1 307.8h0M46.7 307.8h0M57.5 300.5h0M47.7 302.1h0M49.1 322.4h0M57.3 323.2h0M56.9 318.9h0M59.5 314.5h0M48.7 317.1h0M57.8 297.2h0M59.7 294.7h0M60.3 318.6h0M63.9 287.2h0M49.2 310.6h0M61 314.6h0M67.2 299.4h0M67 304.6h0M71.1 302.4h0M54.3 288.3h0M49.2 316.4h0M62.9 291.1h0M52.3 290.6h0M51.9 327h0M56.6 306.1h0M65.2 312.2h0M47.8 311.7h0M68.1 318.7h0M44.4 315.7h0M52.5 291.6h0M65 290.4h0M70 316.9h0M67.7 319.4h0M60.1 303.4h0M67.5 318.6h0M68.9 297.5h0M71.8 307.6h0M49.4 321h0M55.9 294.8h0M57 324h0M63.1 315.4h0M53.8 318.6h0M66.5 314.2h0M54.3 288.3h0M62.1 320.9h0M52.2 310.4h0M67.8 319h0M67.1 302.7h0M60.5 304.4h0M52.1 293.8h0M52.6 321.2h0M61 297.2h0M63.6 303.7h0M62.3 319.6h0M45.3 314.2h0M42.8 320.3h0M71.7 300.3h0M48.6 323.2h0M60.7 323.4h0M53.9 306.2h0M71.6 306.5h0M67.7 291.6h0M47 325.6h0M55.8 319.7h0M49.4 299.8h0M68.7 306.9h0M53.4 324.9h0M69.7 313.5h0M55.5 326.2h0M52.9 313.3h0M61.4 300.9h0M57.9 313.9h0M70.1 306.2h0M53 327h0M43.3 320.8h0M63 308.7h0M55.6 317.2h0M69.6 316.2h0M46.1 310.1h0M59.7 286.5h0M53.9 317h0M61.7 296.7h0M65.5 297.2h0M58.6 302.8h0M66.9 313.9h0M53.5 326.4h0M63.9 314.6h0M59.6 320.4h0M66.5 299.6h0M69.1 291.6h0M64.8 291.9h0M50.9 301.2h0M51.6 303.6h0M53.9 301.3h0M71.9 296.1h0M47.9 324h0M55.7 320.9h0M61.6 318.4h0M65.3 305h0M59.1 313.7h0M65.2 296.5h0M52.9 324.4h0M58.2 297h0M61.4 295.8h0M67.5 309.1h0M52.6 325.4h0M65.2 314h0M54.5 319.6h0M61.5 314.6h0M65.9 301.7h0M52.3 301.6h0M66.9 299.7h0M47.4 322.4h0M58.3 307.2h0M62.6 323.7h0M57.3 321.6h0M62.5 309.6h0M54.2 309.5h0M50.1 321.2h0M66.3 321h0M46.3 313.7h0M65.3 306.3h0M64.9 320.2h0M61.9 322.7h0M45.6 315.1h0M63.7 311.1h0M60.5 320.4h0M66.8 300.1h0M63.5 287.6h0M67.9 298.6h0M59 319.6h0M42.7 320.5h0M61.3 299.3h0M51.9 309.2h0M48.4 319h0M48.1 321h0M67 307.9h0M42.5 318.3h0M54.9 287.2h0M61.3 316h0M59.9 301.9h0M57.6 310.1h0M48.6 322.2h0M71.8 298.8h0M56.6 290.3h0M55.8 314.2h0M63.8 304.3h0M52.3 292.8h0M54.2 296.8h0" stroke="#c2d43c" stroke-width="0.95" stroke-linecap="round"/>
<path d="M88.8 262C89.9 259 92.6 256.7 95 255C97.4 253.3 99.2 252.6 103 252C106.8 251.4 113 251.1 117.5 251.3C122 251.5 126.2 252.1 130 253C133.8 253.9 136.9 255.3 140 257C143.1 258.7 146.2 260.7 148.5 263C150.8 265.3 152.8 267.7 153.5 271C154.2 274.3 153.6 279.5 152.5 283C151.4 286.5 150.1 289.2 147 292C143.9 294.8 138.9 298.2 134 300C129.1 301.8 122.7 302.4 117.5 302.5C112.3 302.6 106.9 301.9 103 300.5C99.1 299.1 96.2 296.6 94 294C91.8 291.4 90.5 288.5 89.5 285C88.5 281.5 88.4 276.8 88.3 273C88.2 269.2 87.6 265 88.8 262Z" fill="#bdeae7" filter="url(#soft)"/>
<path d="M101 289h0M122 273.8h0M101.2 287.3h0M101.1 264.9h0M124.8 287.2h0M135.4 288.1h0M92.4 261.8h0M135.4 283.6h0M105.5 269.5h0M99 283.7h0M91.2 260.3h0M111.5 297.3h0M140.8 274.6h0M95 256.8h0M98.3 291.1h0M119 302h0M119.4 293.4h0M96.7 256.9h0M125 277.3h0M101.9 264.2h0M152.2 273.7h0M136.1 271h0M141.2 294.4h0M102.3 281.3h0M113 251.8h0M142.4 291.5h0M118.5 253.5h0M146.3 278.7h0M92.9 267.9h0M129 296.6h0M119.9 284h0M101.7 263.8h0M147.4 270.9h0M95.1 281.6h0M96.5 261.5h0M118.1 281.3h0M129.8 287.5h0M117 254.8h0M119 271.8h0M132.2 287.8h0M103.9 284.6h0M133.4 275.5h0M127.4 254.5h0M103.2 271.4h0M139.7 293.5h0M129.6 289.3h0M104 299h0M102.6 285.7h0M149 284h0M148.2 264.8h0M137.7 256.6h0M100.5 292.6h0M98.9 277.5h0M95.2 291.6h0M124.5 293.4h0M121.1 283h0M127.1 292.2h0M123.9 266.2h0M114.2 251.7h0M142.4 292.9h0M118.2 257.6h0M130.7 261.9h0M116.3 257h0M152 279.3h0M111.3 256.1h0M135.9 294.8h0M112.3 266.8h0M138 258.9h0M93.2 257.1h0M133.4 282h0M122.2 274.6h0M114.9 282.6h0M130.6 298.2h0M136.1 292.1h0M132.7 294.8h0M116.4 296.3h0M117.1 287.5h0M104.8 266.7h0M111 267.9h0M94.5 274h0M137.4 265.3h0M104.6 272.4h0M89.7 263.1h0M109.7 290.7h0M138.8 296.9h0M140.1 278.5h0M95.1 293.6h0M108.8 283.4h0M112.2 278.8h0M122.9 284.6h0M123.4 299.3h0M114.9 298.1h0M94.1 262.2h0M107 297.7h0M89.2 264.6h0M99.8 273.7h0M133.1 286.7h0M136.9 289.9h0M104.5 264.5h0M101.9 264.6h0M151.2 284.2h0M126.8 284.9h0M127.3 286.9h0M108.1 254.6h0M111.9 258.6h0M95.7 276.6h0M106.1 290.7h0M99.9 256.4h0M108.1 272.2h0M133.3 274.1h0M135.8 256.2h0M149.1 268.8h0M142.3 262.9h0M144 292.4h0M132 265.5h0M131.3 281.4h0M131.4 260.5h0M97.7 256.3h0M152.4 270.9h0M130.8 280.5h0M102.9 254.6h0M112 288.3h0M97.3 291.6h0M104.7 270.1h0M122.4 257h0M104.5 292.1h0M106.9 270.8h0M138.2 262.8h0M100.9 262.5h0M113.3 270h0M130.1 275.5h0M131.6 294.1h0M103.6 252.8h0M116.9 257.2h0M118.3 287.7h0M94.4 257.3h0M119.6 260.2h0M103.3 273.8h0M96 254.8h0M111.8 275.3h0M149.4 279.7h0M93 262.7h0M136.8 280.1h0M149.8 278.2h0M103.9 260h0M144.7 262.2h0M93.7 264.9h0M148.6 274.9h0M117.8 267.6h0M101.7 285.2h0M111.9 257.4h0M152.5 276h0M130.9 277.7h0M89.9 275.4h0M136.6 278.8h0M103.6 276.8h0M127.7 284.6h0M97.8 292.4h0M144.2 270.1h0M103.1 281.9h0M102.4 253.1h0M116.9 258.5h0M100.8 289.6h0M126.3 299.4h0M114.5 286.1h0M103.5 275.7h0M121.7 299.9h0M128.8 262.4h0M142.7 261.6h0M109.3 272.1h0M110.7 285.5h0M89.8 270.4h0M98.9 293.7h0M105.1 274.6h0M124.9 287.7h0M97.3 263.6h0M98 258.3h0M122.3 281.1h0M103.6 259.9h0M126.5 274.5h0M115 296.8h0M131.4 295.3h0M149.7 272.2h0M107.2 266.1h0M115.7 278.4h0M143.6 292.6h0M130.9 277.6h0M95.9 263.8h0M131.2 281.3h0M125.5 260.6h0M133.4 264.4h0M103.7 270.1h0M122.5 286h0M93.1 289.3h0M129 275.5h0M132.1 292.2h0M88.9 275.6h0M132.5 287.6h0M130.5 260.5h0M103.5 273.3h0M115 300.5h0M147 263.2h0M136.2 269.7h0M131.5 290.6h0M96.6 262.7h0M102.3 264.9h0M114.8 272.8h0M93.4 281.1h0M149.7 280.8h0M111.5 287.4h0M116.8 260.3h0M119.7 252.2h0M132.4 259.5h0M112.4 300.6h0M138.3 294.1h0M130.2 283.8h0M101.1 290.5h0M107.9 264.4h0M141.9 282.1h0M126.7 261.5h0M89.3 278.7h0M135.6 265.2h0M99.6 286.9h0M105.6 287.7h0M110.2 278h0M109.2 272.7h0M119.5 264.5h0M98.9 256h0M129 287h0M105.4 291.8h0M135.8 268.8h0M120.4 260.9h0M148.9 280h0M91.6 259.2h0M133.5 271h0M135 263h0M140.3 292.4h0M94.4 281.3h0M100.8 287.5h0M140.7 291.8h0M103.4 256.1h0M131.6 280.2h0M97.3 261.2h0M126.3 256.8h0M129.6 263.6h0M105.2 273h0M123.1 288.4h0M102.7 266.2h0M130 286.7h0M128.4 297.5h0M101.6 267.2h0M131.5 264.7h0M98.6 262.9h0M138.6 293.6h0M140.1 267.2h0M108.9 288.2h0M91.9 282.5h0M121.8 259h0M118.4 261.4h0M96.1 277.2h0M122.3 269.9h0M135 278.4h0M138.9 256.7h0M92.9 271.1h0M119.8 264.2h0M131.9 262.7h0M109 275.7h0M134.7 290.7h0M112.5 274.2h0M128.6 256.7h0M118 283.9h0M106.5 253.2h0M96.7 275.2h0M128.7 266.7h0M92.8 289.7h0M138.6 273.7h0M93.9 271.5h0M91.6 266h0M138.4 258.2h0M95.2 254.9h0M99 278.5h0M142.6 260h0M99.6 290.5h0M116.1 268.6h0M96.3 263.7h0M105.2 289.2h0M119.1 300.3h0M127.7 266.1h0M118.6 288h0M136.2 257.9h0M95.3 292.9h0M110.4 264h0M104.9 275.3h0M144 267.7h0M99.6 289.4h0M110.6 260.9h0M115.6 293.4h0M144.6 280.7h0M127.8 297.3h0M150.4 268h0M143.6 293.2h0M105.6 270h0M112.7 269.4h0M113 256.9h0M103.1 297.9h0M115.1 283.9h0M146.2 290h0M104.2 298.4h0M135.8 289.9h0M141.3 264.3h0M131.1 270.8h0M123.5 268.5h0M141.8 269h0M132.4 284.7h0M124 274.6h0M110.4 291.4h0M139.3 295.8h0M102.3 268.7h0M104.6 256.4h0M109.6 252.6h0M140.2 262.9h0M136.6 261.5h0M118.4 271.9h0M108.5 283.7h0M146.6 275.4h0M147 288.9h0M108.6 296h0M125.7 256.7h0M126.6 293.8h0M122.1 276.1h0M115.5 296.4h0M131.7 261.9h0M111.9 269.9h0M90.6 281.6h0M116.5 288h0M116.3 256h0M122.4 293.3h0M139.7 269.6h0M102.8 289.4h0M140.6 262.5h0M116.6 270.8h0M134.6 298.9h0M101.5 266.8h0M109.8 288.8h0M100.5 279.3h0M120.9 285.5h0M140.1 260.7h0M147.6 279.5h0M137.8 295.8h0M111.9 298.6h0M101.8 252.5h0M121.1 297.3h0M121.6 299.1h0M124.8 258.7h0M129.4 292.4h0M115.9 282.1h0M105.2 265.4h0M115.7 277.6h0M118.8 256h0M88.7 268.7h0M135 289.6h0M103.8 264.4h0M122 260.3h0M127.6 297.6h0M101.5 281.3h0M135.3 289.7h0M134.7 287.7h0M106.1 294.2h0M149.9 274h0M140.3 286h0M97.6 274.9h0M110.2 290.5h0M104.3 261.5h0M98.8 272.3h0M128.6 266.8h0M98.9 262.5h0M93.8 261.2h0M108.9 277.1h0M100.3 275.9h0M117 301.1h0M120 299.7h0M119 261.4h0M126.9 258.7h0M99.3 255.1h0M114.6 269.4h0M116 269.3h0M133.3 271.4h0M98.2 295.6h0M143.7 288.6h0M111.4 283.6h0M148.3 271.9h0M116.5 266.6h0M124.4 285.2h0M97.8 270h0M143.8 291.8h0M126.8 286h0M110.5 299.7h0M124.1 271.9h0M100.2 257.2h0M90 267.8h0M119.6 276.7h0M112 297.1h0M111.1 278.5h0M148.9 284h0M119.4 268.3h0M113.5 282.5h0M139.5 264.6h0M112.5 271.2h0M112 298h0M123.4 265.4h0M110 293.4h0M98.7 286.6h0M89.7 261.2h0M97.9 263h0M92.1 264.8h0M136.1 288.2h0M124.2 298.5h0M116.6 261.2h0M137.1 295.3h0M113.5 256.1h0M145.2 289.9h0M134.5 283.6h0M95.6 259.6h0M100.1 282.5h0M111.8 301.4h0M116.6 271.3h0M104.8 263.2h0M134.3 260.3h0M100 259.1h0M111.2 289h0M92.1 278.4h0M117 291.8h0M125.8 274.4h0M145.8 282.1h0M110.3 271.6h0M147.9 280h0M97.6 260.3h0M113.3 286.7h0M139.5 277.7h0M115.3 285.6h0M125.5 288.6h0M115 300.4h0M128.4 267.5h0M112.9 265.1h0M139.7 293.3h0M109.1 290.1h0M105.4 282.6h0M98.6 295.2h0M120.2 265.4h0M98 290.3h0M125.7 297.7h0M126.5 273.2h0M106.3 257.1h0M145.1 273.9h0M135.7 264.4h0M135.9 284.5h0M94.7 276.6h0M135.4 262.3h0M131 265.5h0M112.5 298.4h0M116.1 280.6h0M141 290.1h0M118 295.5h0M114.5 299.9h0M119.1 257.4h0M137.1 258.7h0M152.7 279h0M136.6 258h0M129.8 270.6h0M104.5 293h0M90.5 275.8h0M118.6 275.3h0M135.2 288.6h0M110.7 299.1h0M100.4 258.3h0M100.4 276.9h0M110.2 259.7h0M148.9 275.6h0M139.5 264.1h0M147.8 262.6h0M147.4 282.7h0M129.4 278.6h0M144 274h0M140.8 286.2h0M136.9 263.2h0M118.5 293.4h0M98.8 286.3h0M124.4 272h0M99.2 258.3h0M119 276.5h0M105.8 270.1h0M124.4 290.3h0M126.7 259.6h0M146.1 270.1h0M97.5 281.1h0M151.3 271h0M124 267.4h0M90.2 261.8h0M96.4 265.9h0M129.3 280.1h0M150.1 286.4h0M111.9 299.9h0M129.6 279.1h0M144.5 285.6h0M111.8 282.3h0M107.9 300.9h0M124.4 261.8h0M121.4 257.3h0M142.9 285.6h0M132.9 298.7h0M91.5 273.1h0M115.4 297.5h0M126.7 293.5h0M89.2 261.7h0M100 293.9h0M105.7 296.4h0M121.9 267.9h0M151.3 272h0M133.8 254.7h0M95.5 289.5h0M105.9 258.9h0M112 285.2h0M130.9 259.5h0M135.6 279.5h0M111.7 297.4h0M104.9 258.6h0M98.6 258.9h0M126.7 292.3h0M98.7 277h0M125.8 280h0M115.2 279.1h0M115.9 263.4h0M137.6 263.7h0M142 263.7h0M94.3 275.7h0M113.6 268.5h0M138.2 262.7h0M132 294h0M117.8 277.1h0M148.5 282.2h0M100.1 254.9h0M93.7 268.3h0M94.1 284.5h0M115.9 267.1h0M121.7 299.3h0M104.2 259.2h0M108.2 267.9h0M147.6 287.5h0M116.3 259.8h0M143.6 284.5h0M98.5 283.3h0M92.1 277.3h0M110.2 256.5h0M136.7 288h0M121.6 259.9h0M132 273.5h0M131.4 256h0M102.8 271.7h0M101.2 255.8h0M110.1 264.9h0M132 262.7h0M114.4 286.5h0M116.4 259.3h0M92.9 279.1h0M94.8 277h0M120.1 261.2h0M132 276.7h0M141 266.2h0M119.2 258.5h0M119.8 257.8h0M133 287h0M91.2 287.9h0M109.3 254.1h0M126.3 288.3h0M111 286.9h0M112.2 287.8h0M116.9 251.5h0M94.3 288.5h0M144.7 283.9h0M98.4 295.9h0M135 257.2h0M113.1 285.7h0M111.4 296.1h0M144.7 281.4h0M151.5 284.3h0M150.1 280.3h0M101.1 277.9h0M119.8 268.6h0M112.7 277.4h0M126.6 262.7h0M106.4 277h0M121.2 272.7h0M131.6 260.8h0M123 265.4h0M138.5 287.3h0M139.2 277.8h0M104.5 298.7h0M121.6 270.5h0M107.2 271.9h0M134.5 293.2h0M119.8 288.7h0M102.2 274.4h0M111.6 267h0M111.7 289.9h0M136.1 261.9h0M103.5 291.5h0M131 285.9h0M129.7 286.8h0M106.1 254.4h0M111.8 253h0M151 278.2h0M140.7 263h0M110.3 256.9h0M140.2 289h0M120.1 270.2h0M105.9 276.2h0M134.7 297.1h0M116.9 272.9h0M108.8 301.2h0M100.3 259.4h0M106.6 298.5h0M143.9 268.3h0M116.2 261.1h0M138.7 270.5h0M117 271.7h0M127.1 264.4h0M89.6 271.3h0M113 251.9h0M112.5 290.3h0M110 286.1h0M129 260.9h0M128.1 266.3h0M101.4 295.1h0M147.6 263.2h0M126.5 280.7h0M109.3 253.2h0M109.5 284.3h0M127.5 277.4h0M96.3 262.2h0M108.6 272.6h0M112 297.5h0M104 295.2h0M104.2 281.4h0M112.9 253.2h0M140.2 292.8h0M105.9 291h0M119.5 301.8h0M91.8 270.8h0M103.2 283.3h0M139 294.4h0M124.1 271.1h0M105.3 289.8h0M117 302.1h0M94.2 274.9h0M94.4 256h0M112.4 273.4h0M121.4 266.1h0M134.1 277.7h0M121.6 276.6h0M112.5 295.4h0M102 296.2h0M111.6 268.5h0M128.4 280.1h0M106.8 255.6h0M150.6 270.2h0M95.8 284.9h0M123 268.1h0M109.7 294.6h0M110.4 272.7h0M150.7 269.8h0M114.5 259.6h0M131.5 285.3h0M117.4 272.1h0M103.5 291.7h0M118.1 293.9h0M112.7 288.9h0M90.2 262.5h0M132.4 276.7h0M119.1 261.4h0M99.6 284.3h0M133.5 264.5h0M130.3 258.3h0M128.3 260.1h0M121.5 267.4h0M124.2 258.2h0M119.8 282.9h0M97.1 267.1h0M132.5 279.3h0M128.5 291.2h0M125.6 262.7h0M117.2 293.8h0M125.2 289.9h0M112 274.3h0M130.9 256.8h0M128.2 253h0M135.8 265h0M143.4 260.4h0M142.3 278h0M117 293.8h0M133.2 278.6h0M144.5 261.7h0M146.9 268.6h0M90 268.5h0M129 257.5h0M98.7 266.3h0M106.5 298.4h0M152.8 273.8h0M140.2 265.7h0M136 263h0M124.3 282.7h0M133.9 275.1h0M139.6 274.6h0M106.6 289.4h0M142.5 264h0M133.6 271.6h0M102.9 262.4h0M150.5 270.2h0M121.5 277h0M136.9 296.1h0M111.6 262h0M111 288.8h0M131.2 272.1h0M122.5 259.2h0M148.2 275.5h0M121.3 291.6h0M101.2 288.3h0M111.3 292.9h0M94.5 265.4h0M129.7 276h0M112.9 280.9h0M102.5 273.7h0M104.9 293.8h0M124.3 282.1h0M129.1 257.7h0M139 266.3h0M144.6 291.6h0M132.5 293h0M116.8 285.8h0M94.9 272.4h0M121.5 258.9h0M102.7 295.7h0M113.6 258.9h0M100.2 280.9h0M100.7 275.6h0M123.4 273.8h0M121.1 294.1h0M101.3 253.3h0M138.3 280.5h0M123.4 262.4h0M139.2 267h0M135.7 263h0M125.6 284.5h0M112.5 275.9h0M92.6 284.2h0M133.4 259.2h0M124.2 288.8h0M94.9 294.3h0M104.5 255.6h0M104.8 255.7h0M120.2 264.1h0M107.9 274.9h0M112.5 291.7h0M135.4 257.1h0M109.8 256.8h0M133.8 291.3h0M115.1 299h0M113.9 267.3h0M121.7 273.9h0M116.8 290.7h0M142.5 275.7h0M99.9 272.1h0M146.4 272.2h0M131.4 280h0M118.4 280.7h0M104.3 279.8h0M112.4 296.4h0M129.2 283.7h0M143.3 275.4h0M96.8 266.7h0M134.8 288.6h0M101.6 284.2h0M131.1 285h0M89.7 273.9h0M109.5 281.9h0M110.3 257.9h0M132 266h0M139.9 267h0M123.9 292.7h0M95.8 288.7h0M112.3 260.5h0M114.1 277h0M115.4 257.6h0M122.4 266.7h0M151.4 270.9h0M116.7 263h0M151.5 267.8h0M130.4 293.9h0M113.9 290h0M106.5 256.9h0M91.1 274.3h0M145.3 261.7h0M117 290.4h0M106.3 259.1h0M122.2 273.1h0M103.8 280h0M115.4 253h0M117.3 298.2h0M108 281.3h0M108 288h0M89.6 270.5h0M96.6 275.5h0M102.8 255.5h0M94.2 261.3h0M122.1 258.3h0M141.8 272.6h0M104.7 263.6h0M136.7 256.3h0M149.9 272.2h0M127.3 295.5h0M133.5 281.4h0M135.3 265.5h0M120.7 260.9h0M116.8 265.7h0M126.5 266.6h0M106.2 284.2h0M93.9 292.3h0M120.6 263h0M95.8 277.3h0M121.2 288.1h0M112.7 272.4h0M146.5 265.3h0M105.1 293h0M128.2 261.7h0M141.1 279.9h0M99.7 264.6h0M128.5 261.2h0M118.5 287.8h0M94.6 285.1h0M95.1 275.7h0M130.6 286.5h0M91.1 261.1h0M150.9 271.3h0M116 270.5h0M133.7 289.2h0M130.7 271.9h0M125.4 277.7h0M153 275.1h0M143 263.6h0M136.7 287.9h0M145.6 265h0M139.6 275.6h0M108.7 270.2h0M140.4 294.4h0M143.4 285.6h0M99.4 259.3h0M125.3 262.2h0M110.2 256.5h0M98.4 288h0M102.9 294.7h0M109.8 294.8h0M108 265h0M114 251.9h0M116.7 270.8h0M104.8 252.5h0M94.8 287.6h0M126.2 277.1h0M104.4 266h0M151.5 270.4h0M96.4 294.7h0M141.1 286.9h0M124.1 292.9h0M98.4 278.9h0M105.6 271.7h0M100.8 287.6h0M125.7 291.2h0M129.3 282h0M125.3 268h0M148.8 270.3h0M95 268.4h0M134.4 299h0M130.4 285.2h0M117.3 274.9h0M137.8 267.6h0M95.5 283h0M141 264h0M132.9 297h0M96.6 258.2h0M120.4 268.4h0M117.4 291.9h0M129.5 260.2h0M93.3 274.5h0M89.5 275.9h0M115.2 300.2h0M115.3 294.8h0M139.1 281.3h0M103.8 266.9h0M120.3 271.5h0M130.4 277.2h0M109.4 282.4h0M110.2 251.9h0M115.9 294.1h0M142.9 281.3h0M113.3 264.7h0M128.8 254.7h0M123.7 270.5h0M120.4 272h0M95 288.8h0M140.5 281.9h0M95.8 282h0M145.6 285.3h0M106.3 298.4h0M104.4 280.8h0M113 266.5h0M137.9 282.9h0M109.9 279.1h0M148.8 280.3h0M147.9 280.3h0M118.3 279.6h0M128.9 275.8h0M129.7 278.6h0M134.3 299.8h0M89.2 267.7h0M130.6 292.3h0M103.8 270.8h0M103.1 287.4h0M122.8 282.3h0M109.5 281.3h0M121.9 271h0M110.9 292.4h0M99.7 279.9h0M89.5 265.2h0M120.4 299.2h0M98.9 294.3h0M114.2 279.3h0M109.8 259.3h0M97 266.8h0M134 281h0M96.2 292.3h0M121.4 258.6h0M141.8 293.3h0M102.4 299.4h0M141.1 263h0M138.3 290.9h0M129.6 293.9h0M108.7 286.3h0M132.9 294.8h0M125.3 265.4h0M104.7 279.1h0M97.1 295.3h0M146.3 263.7h0M133.8 285.8h0M96.2 291.2h0M138.3 267h0M94.7 265.7h0M138.6 275.2h0M141.5 259.5h0M95.2 269.2h0M93.1 289.8h0M94.3 285.5h0M93.7 263.9h0M131.6 296h0M115 274.3h0M90.3 268.7h0M104.1 291.7h0M134.9 291.5h0M123 287.1h0M96.6 271h0M107.4 265.7h0M136.5 262.3h0M109.5 265.8h0M144.6 284h0M119.6 270.7h0M117.6 280.3h0M144.5 264.4h0M105.2 256.6h0M121 290.6h0M98.5 273.4h0M152.9 275.9h0M113.2 294.3h0M146.5 270.6h0M96.4 283.9h0M131.3 267.1h0M121.9 266h0M117.4 275.3h0M148.7 275.8h0M148.4 284.1h0M145.2 272.5h0M143.6 293.3h0M112.7 293.7h0M102.2 289.8h0M118.8 272.3h0M101.1 292.3h0M136 255.9h0M112.8 272.5h0M125.9 296.9h0M149.9 283.7h0M112.1 256.8h0M92.8 277.9h0M126.3 274.2h0M152.4 272.5h0M111.2 272.7h0M126.8 279.1h0M116.1 264.1h0M108.9 276.6h0M117.4 301.4h0M125 261.9h0M91.8 259.4h0M110.8 291.4h0M146.3 263.4h0M139.2 273.9h0M123.3 278.6h0M131.8 286.6h0M113.1 298.4h0M141.8 266.8h0M92.7 279.6h0M131 262.8h0M91.2 276.2h0M129.1 265.6h0M117.4 263.2h0M100.4 260.6h0M141.5 274.5h0M135 269.1h0M140.9 281.8h0M130.9 271.4h0M124.9 261.1h0M123 284h0M94.8 268.4h0M103.3 294.5h0M89.1 274.1h0M144.9 291.4h0M135.2 266.7h0M103.4 287.4h0M107.8 288.3h0M111.1 290.2h0M125.7 293.1h0M152.6 270.7h0M123.9 271.2h0M138.5 267.4h0M101.9 291.4h0M124.2 290h0M120.2 253.2h0M138.6 262.5h0M105.2 285.4h0M138.1 283.9h0M117.2 288.8h0M131.9 261.8h0M123.2 281.9h0M135.8 261.4h0M108.6 268.9h0M94.6 269.1h0M135.9 280.9h0M99.6 288.8h0M95.9 289.8h0M97.9 256.2h0M104.7 277.7h0M105.9 296.6h0M149.5 265.8h0M137.2 286.9h0M124.9 264.4h0M89.2 268.2h0M109.2 261.5h0M116.4 297.3h0M108.4 252h0M147 265.2h0M102.1 257.3h0M112.2 257.4h0M100 264.1h0M126 274.1h0M108.2 278.2h0M138.8 288.4h0M110.7 298.3h0M139.9 280.1h0M119.3 268.2h0M128 256.3h0M103.8 278.7h0M142.7 269.2h0M120.8 285.4h0M100.8 283.4h0M116 301.6h0M100.5 287.7h0M91 265.3h0M96 258.9h0M122.7 260.2h0M128.9 295.4h0M96.6 262.4h0M138.2 275.4h0M149.1 268.6h0M114.2 300.3h0M110.7 300.8h0M146.4 261.6h0M123.9 299.5h0M96 294.8h0M138.8 289.7h0M127.5 256.4h0M139.4 288.3h0M109 286.4h0M115.1 289.7h0M113.4 292.4h0M119 292.9h0M107.9 279.2h0M89.9 276.4h0M132.5 273.1h0M134.2 288.6h0M148.5 273.8h0M127.1 293h0M106.2 252.8h0M148.5 265.2h0M102 258.8h0M146.8 285.3h0M126.3 258h0M115.2 299.8h0M88.5 272.8h0M143.1 288.8h0M91.1 286.9h0M120.4 276.5h0M97.8 277.5h0M140.6 258h0M145.4 272.8h0M105.7 263.5h0M118.3 284.5h0M125.5 296.9h0M121.6 277.5h0M89.4 268.1h0M108.7 257.6h0M115.6 253.1h0M148.3 276.1h0M145.6 287h0M135.9 290.1h0M108 288.6h0M101.7 279.7h0M127.1 291h0M99.2 268.9h0M142 292.5h0M102 256.8h0M135.5 289.5h0M130.6 291.2h0M121.9 280.1h0M148.4 284.5h0M131.1 281.4h0M120.5 290.1h0M125.6 257.9h0M116.1 272.9h0M116.5 280h0M111.9 271.3h0M116.1 270.3h0M114.1 274.3h0M126.9 270.1h0M103.9 252.1h0M106.9 275.1h0M109.4 254.3h0M104 264.3h0M133.8 292.1h0M118.9 271.1h0M103.5 292.2h0M95.8 281.7h0M118.2 258.7h0M92.2 288.8h0M131.7 275.5h0M128.5 256.4h0M126.7 272.9h0M104.6 298.8h0M135.9 257.5h0M103.2 268.8h0M125.7 267.9h0M117 292.9h0M100.2 288.2h0M109.9 299.7h0M150.4 268.1h0M127.8 257h0M115.1 283.2h0M129.9 268.8h0M124.8 260.1h0M108.3 283h0M147 277.7h0M104.9 281.3h0M106.3 291.4h0M98.5 264.7h0M116.9 297.8h0M99.1 261.1h0M96.9 262.2h0M110 271.5h0M137.8 272h0M119.3 271.6h0M116 298.5h0M122.6 286.2h0M113.2 265.2h0M111.7 287.1h0M118.3 278.3h0M101.8 260.4h0M110.2 286.2h0M134.6 273.5h0M92.8 264.6h0M102.1 293.4h0M124.2 268h0M104.5 266.2h0M106.6 269h0M139.9 291.7h0M133.8 296.6h0M130.9 257.1h0M91.2 259.7h0M105.1 278.3h0M141.9 281.3h0M116.3 263.7h0M110.5 253.7h0M130.9 269.5h0M146.3 266.5h0M94.9 261.5h0M130.2 286.2h0M106.7 265.3h0M91.1 282.7h0M111.1 260.9h0M116.7 299h0M104.5 259.7h0M129.3 284.9h0M121.6 260.5h0M99.7 263.7h0M121.8 275.7h0M124.4 288.5h0M146.6 275.3h0M89.5 267.6h0M97.6 282.1h0M139.3 257.9h0M107.5 294.9h0M133.2 256.9h0M133.1 292h0M114.9 259.3h0M131.3 267.6h0M97 259.7h0M114.5 257.8h0M113.4 279.5h0M124.3 272h0M109.8 299.1h0M138.2 278.7h0M139.6 280.6h0M96 264.4h0M109.3 272.2h0M123.4 256.5h0M134.3 292h0M109 258.7h0M138 286.8h0M112.5 268.9h0M98.3 293.9h0M118.3 292.9h0M110.4 267.7h0M121.8 289.5h0M145.9 269.4h0M133.5 272h0M144.5 290.2h0M124.5 269.9h0M106.1 296.6h0M140.5 266.9h0M93.8 261.3h0M141.1 278.4h0M124.4 278.9h0M115 279.8h0M95 258.4h0M132.1 284.1h0M140.9 286.8h0M89 263.4h0M139.1 259.1h0M122.9 290.7h0M98.5 278.3h0M147 289.6h0M114.2 275.8h0M106.4 300.5h0M139.3 286.1h0M108.1 288.8h0M120 292.2h0M112 296.4h0M132.9 274.4h0M125 292.5h0M122.8 300.5h0M134.9 276.4h0M110.3 287.9h0M142 270.4h0M93.3 280.5h0M109.3 264.7h0M117.5 255.3h0M124.7 274.1h0M108.4 282.2h0M110.9 301.2h0M96.4 269h0M96.5 272.9h0M102.8 252.5h0M106.1 254.2h0M122.7 266.7h0M132.2 280h0M127.2 266.7h0M136.2 286.6h0M134.9 275.4h0M118.5 265.9h0M90.9 275.2h0M128.5 260.8h0M144 293.1h0M120.1 260.3h0M106 289.1h0M88.7 269.4h0M111.1 281.9h0M95.6 294.5h0M110.3 297.8h0M109.8 266.9h0M126.7 293.6h0M92.4 279.1h0M123.2 300.3h0M104.8 252.6h0M124.9 269.8h0M126 299.1h0M105 293.3h0M89.5 272.6h0M112.2 281.1h0M103.7 287.6h0M130.8 256.2h0M133.7 269.1h0M97.7 255.3h0M118.2 292h0M123 265.4h0M122.1 301.5h0M135.9 285.6h0M143.3 272.2h0M124.7 294.8h0M101.3 295.3h0M89.9 278.8h0M125.8 258.8h0M148.4 273.8h0M100.4 272.4h0M126.9 273.3h0M134.8 258.1h0M105 292.6h0M137.5 282h0M112.1 252.2h0M116.4 263.4h0M101.9 255.1h0M133.6 256.8h0M102.8 273.8h0M108.9 275.6h0M98.9 271.9h0M134 267.9h0M140.2 260.7h0M94.9 283.4h0M117.8 298.3h0M95.2 289.5h0M132 270.3h0M96.7 282.6h0M137.7 275.5h0M119.1 286.4h0M128 273h0M100.4 275h0M124.1 297.2h0M109.7 262.7h0M129.4 289.1h0M104.5 286.6h0M153.4 271.3h0M149.5 273.7h0M130.8 295.7h0M101.6 269h0M108.3 275.7h0M136.9 283.6h0M148.9 285.6h0M90.7 273.4h0M90.1 278.2h0M129.5 261.7h0M144.1 272.5h0M150.9 269.6h0M128.7 279h0M105.4 291.2h0M109.2 296.5h0M120.9 253.2h0M107.8 282.5h0M139.1 271.3h0M122.5 272.9h0M116.9 302h0M136.3 287.1h0M142.5 285.8h0M129.4 267.3h0M105.7 298.4h0M123 252.3h0M110.5 269.2h0M88.6 272.7h0M95.6 288.5h0M141.1 291.7h0M139.9 257.5h0M143.2 293.8h0M122 263.3h0M152.4 272.5h0M138.6 292.3h0M137.2 262.9h0M109.5 268.8h0M116.7 257.9h0M134.1 277.9h0M138.3 268.5h0M115.3 289.4h0M134.1 296.7h0M108.5 294.7h0M136.4 280.7h0M114.9 280.3h0M108.6 257.6h0M91.5 288h0M136 282.8h0M101.7 288.3h0M142.1 283h0M103.1 280.2h0M114 265.1h0M98 295.6h0M129.5 299.1h0M99.5 264.8h0M121.5 254.3h0M108 279h0M119.7 297.9h0M125.9 283.9h0M126.5 291.5h0M96.6 257h0M102.8 285h0M105.2 270.9h0M105.3 263.8h0M109.4 272.5h0M111.8 267.9h0M136.4 276.5h0M147 274.7h0M101.7 293.3h0M121 280h0M95.9 267.7h0M128.6 285.8h0M129.3 283.1h0M112.9 254.8h0M93.3 290.7h0M99.5 269h0M101.4 295.3h0M141.7 293.9h0M113.2 299.2h0M105.3 280.7h0M132.2 263.3h0M113.2 256.4h0M140.2 260.7h0M97.2 265.5h0M130 283.9h0M122.5 295h0M137.4 262h0M123.2 260h0M104.1 258.8h0M93.3 269.2h0M146.1 284.9h0M94 262.5h0M126.9 278.4h0M125.2 282.1h0M93.5 290.9h0M104 281.5h0M122.8 268.7h0M150 271.6h0M115.9 279h0M138.5 278.9h0M135 284h0M137.9 262.4h0M125.4 273.8h0M103.4 291.3h0M102.7 287.6h0M120.2 273.2h0M134.4 288.4h0M140.5 264.8h0M131.9 276.7h0M149.6 274.2h0M111.6 252.6h0M119 278.6h0M108.4 256.7h0M119.9 254.9h0M99.5 274h0M111 276.9h0M122.9 271.2h0M124.8 301h0M106.6 269.3h0M109.1 289.3h0M120.5 292.1h0M101.7 270.2h0M114.3 271h0M151.3 273.8h0M125.8 300.6h0M130.2 281.7h0M142.3 268.4h0M123.1 281.1h0M92.6 289.4h0M112.7 284.2h0M106.8 298.3h0M112.3 265.4h0M146.6 262.7h0M106 276.2h0M102 292h0M93.2 272.5h0M139.4 287.8h0M140 257.3h0M146.3 269.6h0M141.4 275.4h0M146.4 275.8h0M105.1 259h0M120.7 253.9h0M99 296.1h0M125.7 295.5h0M98.1 275.9h0M118.9 256.8h0M105.5 298.5h0M135.5 277.4h0M128 295.4h0M150.5 281.7h0M99 263.6h0M97.2 277.5h0M126.3 274.9h0M118.9 258.5h0M135.1 278.8h0M108.4 294h0M113.6 274.3h0M105 289.4h0M121.3 300.8h0M146.2 274.4h0M95.1 274.7h0M122 291.5h0M100.4 265.6h0M128.1 256.2h0M137.2 273h0M145.5 263h0M93.3 271.2h0M151.7 269.5h0M121.9 278.9h0M94.7 281h0M117.4 268.1h0M142.4 286.7h0M96.1 256.7h0M91.7 264.8h0M96.4 291.8h0M138 275.5h0M96 262.4h0M96.8 282.6h0M129 295.2h0M105.5 295.7h0M95.6 291.9h0M146.8 280.1h0M127.9 282.7h0M138.6 277.8h0M95.7 262.7h0M130.9 255.4h0M95.3 264.1h0M140.2 279.3h0M111.6 300.6h0M126.2 263.5h0M125.2 295.1h0M112.3 273.5h0M129.9 260.6h0M126.2 267.8h0M119.2 287.8h0M89.6 277.3h0M108.8 282h0M141.8 275.2h0M129.4 266.1h0M105 277.4h0M123 262.7h0M138.2 276.9h0M111.5 264.3h0M92.9 283.6h0M132.6 268.6h0M117.1 286.3h0M98.7 270h0M139.6 286.2h0M126.5 256.6h0M102.5 264.4h0M90.4 284.1h0M125.6 298.6h0M124.4 298.3h0M118.9 277.8h0M106.6 275.1h0M149.4 276.3h0M101.2 283.2h0M121.5 275.7h0M134 281.9h0M130.8 276.9h0M90.6 274.4h0M142.8 282.1h0M147.3 279.2h0M99 287.5h0M130.4 292.6h0M94 275h0M141.1 268.8h0M97.7 295.6h0M92.4 279.8h0M150.5 282.9h0M125.9 260.6h0M109.9 258.9h0M118.5 253.7h0M131.1 284.4h0M147.3 290.6h0M123.7 299.2h0M120.4 255.5h0M134.2 260.2h0M152.5 278.9h0M147.1 276.5h0M109.6 285.2h0M134.6 274.9h0M106.3 272.8h0M134.9 263h0M98.6 276.1h0M131.2 254.7h0M105.7 290.8h0M108.2 255.7h0M120 295.8h0M134.2 283.1h0M119.7 285.3h0M122.3 260.7h0M133.6 257.9h0M108.5 294.9h0M125.3 277.5h0M134.6 276.5h0M113.3 279.6h0M89.8 269.3h0M147.5 284.8h0M98.6 295.1h0M106.8 292.5h0M130.8 282.3h0M136.6 265h0M142.7 279.1h0M137.7 294.3h0M104.9 272.3h0M111.9 255.2h0M145.4 286.4h0M120.2 279.2h0M111.6 286.4h0M123.2 276.8h0M105.2 262.7h0M132 268.8h0M121.8 256.6h0M111.7 255.1h0M121 300.3h0M138 269.9h0M106.3 299h0M150.3 284.4h0M113.7 273.1h0M128 278.3h0M109.6 251.7h0M139.1 284.5h0M131 255.1h0M112 275.5h0M129.7 254.5h0M124.9 289.1h0M98.6 290.2h0M135 279.3h0M142 292.6h0M129.3 285.5h0M99.9 268.6h0M109.5 295.3h0M139.3 266.2h0M92.3 268.1h0M111.7 271.2h0M144 278.6h0M129.4 273.8h0M118.3 300.3h0M106.4 278.2h0M119.5 258.5h0M97.8 277.2h0M140.4 273.4h0M91.2 284.6h0M97.8 264.6h0M115.8 290h0M116.7 272.7h0M114.5 278h0M106.6 300.1h0M100.7 258.1h0M124.1 269.3h0M132.4 270h0M148.8 266.7h0M116.5 267.6h0M123.1 265.7h0M132 272.4h0M134.5 266.2h0M118.1 279.8h0M135.1 284.7h0M116.3 255.7h0M95.6 258.8h0M100.3 260.7h0M131.5 268.8h0M147.5 263.3h0M104.3 260.7h0M97.7 286.2h0M126 264.2h0M141.1 285.9h0M116.2 282.4h0M131.1 273.9h0M94.3 270h0M150 270.4h0M130 255.8h0M138.8 295.5h0M112.6 270.3h0M121.7 264.2h0M102 257.9h0M133.1 277.4h0M145.3 282.8h0M128.7 273.6h0M116 258.8h0M124 265.4h0M125.8 296.2h0M107.5 280.8h0M106.3 293.8h0M101.9 284.5h0M124.5 268h0M93.5 276.2h0M122.4 293.2h0M101.5 260.8h0M108.2 292.4h0M103.4 283.8h0M134.5 276.7h0M95.6 275.5h0M149.6 271.3h0M124.6 272.8h0M121.3 253.5h0M145.9 281h0M110.9 265.9h0M143.1 270.7h0M127.6 279.6h0M101.4 253h0M136.2 259.6h0M130.9 282.7h0M122.3 252h0M150.8 276.3h0M142.8 275.7h0M102.4 272.1h0M93.2 281h0M102.6 287.2h0M99.6 286.6h0M128.6 287.7h0M150.3 266.4h0M132.8 271.6h0M138.1 282h0M105.4 297.8h0M110.4 293.4h0M132.6 294.3h0M140.6 274.6h0M114.1 292h0M131 278.9h0M89.2 275.1h0M94.6 294.4h0M103 258.2h0M137.4 286h0M115.1 281.8h0M124.4 299.9h0M121.4 278.9h0M118.4 272.4h0M133.3 257h0M133.4 298.8h0M137.9 279.1h0M111.3 256.3h0M94.3 278.9h0M100.3 289.7h0M140.9 275.9h0M144.3 260.9h0M110.2 277.6h0M135.7 274.3h0M108 295.7h0M113.9 272.8h0M102.9 276h0M134.3 269.8h0M131.5 276.6h0M107.1 279.2h0M92.5 261.8h0M98.3 294.9h0M122 253.4h0M106 277.5h0M99.7 267h0M147.3 274.1h0M103.5 281.9h0M95.7 277.9h0M130.5 255.8h0M124.1 267.1h0M136.9 282.8h0M147.6 282.4h0M100.2 260.8h0M134.2 292.8h0M92.4 272.6h0M106.7 275.2h0M145.2 280h0M136.8 290.5h0M106.4 283h0M112.8 275.6h0M122.9 285.5h0M99.3 294.2h0M98.8 267.3h0M112.2 300h0M101.4 253.1h0M138 259.6h0M96.4 269.6h0M93.8 275.4h0M110.9 289.1h0M120.4 300.7h0M143.3 260.1h0M125.1 278.3h0M99.4 267.7h0M102.7 261.3h0M128.3 267.9h0M138.4 280.6h0M143.5 277.3h0M129.5 263.5h0M133.7 272.1h0M135.3 281.2h0M97.4 266.7h0M129.5 279.2h0M134.9 268.1h0M119.4 275.7h0M121.6 264.6h0M126.7 264.6h0M101.7 263.2h0M146.6 269.9h0M145.7 289h0M105.8 279.7h0M129.4 257.1h0M122.1 276.7h0M132 266.1h0M147.6 283.2h0M146 266.9h0M134.7 295.3h0M142.9 264h0M140.6 286.5h0M118.7 297.5h0M150.8 280.7h0M136.2 285.6h0M114.4 276.8h0M121.4 262.3h0M105.3 294.5h0M143.5 287h0M133.2 277.4h0M125.7 285.4h0M88.8 274h0M118.8 255.3h0M104.9 293.5h0M140.3 295.7h0M105.1 299h0M112.5 274.4h0M150.3 279.2h0M132.7 257h0M95.2 293.5h0M104.6 300.3h0M132.5 261.1h0M134.6 267.6h0M122.7 255.2h0M142.6 291.6h0M126.2 286.7h0M110.5 257.8h0M109.5 289.2h0M125 258.2h0M104 275.6h0M117.6 258.2h0M137.2 292h0M108.9 279.1h0M113.5 301.3h0M105.2 300.2h0M108.5 272.9h0M108.9 284.7h0M145.8 286.6h0" stroke="#3dbcb9" stroke-width="0.95" stroke-linecap="round"/>
<path d="M149.6 264.7h0M92.8 297.2h0M121.3 249.4h0M91.3 255.5h0M92.2 294.4h0M143.4 296.9h0M100.8 301h0M130.6 303.5h0M111.6 248.9h0M139.7 298.9h0M155.2 286h0M124.7 251.5h0M87.5 280.1h0M90.6 259.3h0M87.5 275.2h0M99 251h0M152.2 285.8h0M120.4 250.4h0M139.2 299.3h0M154.8 283.4h0M131.4 300.7h0M91.1 292.9h0M153.2 268.1h0M136.3 302.2h0M125.4 303.2h0M123 250.2h0M97.8 252.8h0M124.9 303.6h0M141.4 254.9h0M156.7 271.4h0M153.3 274.2h0M141.3 257.1h0M93.7 252.8h0M87.8 285h0M151.9 284.3h0M89.2 258.9h0M156.2 270.3h0M89 283.3h0M131.1 301.6h0M115.4 249.1h0M143.8 294.1h0M92.3 291.7h0M109.2 301.8h0M86 262.1h0" stroke="#3dbcb9" stroke-width="0.8" stroke-linecap="round" stroke-opacity="0.7"/>
<path d="M99.9 252.3h0M94.7 254.9h0M89 255.3h0M98.8 260.4h0M89.1 255.9h0M99.1 258.8h0M90.3 255.4h0M90.1 261.2h0M96.5 259.5h0M99.4 259.7h0M92 261.9h0M102.2 252.3h0M94.8 253.7h0M99 258.2h0M99.8 256.7h0M98.9 260.7h0M98.9 258.5h0M89 260.2h0M91.2 255.6h0M94 258.5h0M93.9 257h0M91.8 262.5h0M98.5 256.5h0M89.2 265.6h0M93.9 255.8h0M93 259.7h0M95.4 256.1h0M88 261.3h0M93.3 264.8h0M87.3 260.1h0M95.4 255h0M95.4 251.6h0M101.2 252.6h0M97.5 259.4h0M95.6 264.5h0M88.9 264.2h0M92.1 265.8h0M99.1 257.6h0M95.4 263.6h0M87.9 259.9h0M96.1 262.6h0M92.5 260.9h0M98.8 257.4h0M92.9 259.7h0M94.7 264.5h0M91.3 255.9h0M93.3 261.6h0M89.5 266.7h0M95 262.8h0M93.2 260.4h0M96.4 258.6h0M92.4 261.6h0M89.8 259h0M91.3 260.3h0M98 259.5h0M99 261.2h0M88.3 261.7h0M94.7 263.3h0M102 256.9h0M100.6 255.1h0M100.2 258.4h0M94.3 259.2h0M93 255.1h0M98.1 261.2h0M87.9 255.7h0M101.9 255.9h0M91.7 260.5h0M102.7 253.5h0M90.6 254.2h0M94.1 255.9h0M88.8 256.3h0M89.1 258.2h0M92.8 262.8h0M93.7 261.5h0M89.1 261h0M99.2 252.5h0M96.9 251.9h0M96.9 257.2h0M92.3 264.1h0M93.8 258.4h0M92 262.7h0M100.7 257.7h0M93.8 263.9h0M95.5 257.5h0M92.8 263.6h0M97.8 261.9h0M94.8 252.9h0M94.6 260.2h0M99.9 259.2h0M94.6 259h0M92.4 263.5h0M93 261.9h0M93 265.4h0M93.1 256.9h0M93.9 260.9h0M87.5 260h0M101.9 252.5h0M93.7 253.3h0M98.5 254.9h0M95 259.5h0M92.8 259.1h0M101.5 254.3h0M99.3 257.4h0M96.6 260.2h0M98.8 256.2h0M97.8 257.2h0M99.5 259.2h0M101.2 257.5h0M92.8 258h0M92.9 256.8h0M93.6 264.6h0M99.6 260.2h0M97.3 256.1h0M93.1 259.2h0M90.5 255.4h0M94.2 261.4h0M92.7 260.4h0M90 259.9h0M92.2 255.6h0M98.8 257.1h0M96.3 262.1h0M96.9 257.8h0M96.5 251.6h0M97 257.9h0M96.2 264.4h0M89.1 264.6h0M92 255.4h0M91.3 259.7h0M102 254.2h0M91.6 257.3h0" stroke="#c2d43c" stroke-width="0.95" stroke-linecap="round"/>
<path d="M144.2 315h0M144.7 311.3h0M132.8 319.2h0M145.8 311h0M132.9 320.9h0M145.1 311.5h0M139.8 309.5h0M133.7 315h0M146.3 320.3h0M143.1 318h0M144.5 317.7h0M139.6 324h0M137.7 316h0M144.9 326.3h0M138.5 316.5h0M139.6 312.4h0M138.7 323.1h0M135.6 317.3h0M137.4 319.2h0M146.7 310.6h0M141.2 312h0M144.3 321h0M136.2 312.8h0M137.8 314.6h0M147 315.8h0M140.7 312.2h0M140.7 326.1h0M133.7 315.8h0M135.7 324.1h0M137.7 317.5h0M133 321.3h0M141.8 323.3h0M145.7 322.3h0M137 313.1h0M143.4 309.4h0M149.8 321.8h0M141.4 315.2h0M133.5 318.8h0M146.7 310.7h0M133.9 321.2h0M140.9 323.1h0M139.8 326.7h0M148.6 314.4h0M142.2 319.4h0M140.6 323.6h0M145.4 323.6h0M136.8 317.8h0M142.3 319.3h0M140.5 311.4h0M148.2 318.8h0M146.1 322.2h0M143.8 325.4h0M133.1 314.7h0M135.1 320.3h0M134.6 311.7h0M142.3 316.9h0M140.8 308.7h0M142 313.2h0M134.9 315.9h0M135.2 317.1h0M135.1 322.1h0M148.6 314.5h0M133.6 320.5h0M146.4 317.4h0M145.7 325.3h0M140.3 318h0M148.1 315.5h0M135.9 311.1h0M149.7 314.2h0M138.7 326.5h0M145.1 316.5h0M134 315.3h0M137.5 326h0M140 326.5h0M137.1 309.4h0M147 319.5h0M137.4 323.9h0M140.2 326.7h0M142.6 326h0M149.7 315.5h0M145.1 322h0M144.4 308.9h0M145.1 322.6h0M135.7 310.3h0M133.3 318.6h0M145.9 316.4h0M135.5 316.4h0M143.5 324.4h0M148.9 314.5h0M132.4 320.8h0M145.1 320.5h0M147.3 323.5h0M143.9 323.7h0M144.7 310.2h0M135.2 320.4h0M137.8 325.8h0M137.3 317.5h0M141.6 325.9h0M137.8 325h0M145.7 319h0M146.2 318.6h0M132.8 312.6h0M144.4 310.7h0M144.2 314.9h0M139.4 323.7h0M148 322.3h0M140.5 318.4h0M143.5 310h0M134.2 320.7h0M135.7 322.4h0M145 311.6h0M147.2 317.3h0M145.2 310h0M139.1 321.5h0M139 311.6h0M140.7 311.1h0M141 310.3h0M145.8 312.4h0M144 320.4h0M135.8 320.1h0M142.4 319.9h0M135.5 317.3h0M147.9 319.9h0M136.6 314.7h0M141.1 318h0M140.6 313.9h0M140.6 309.5h0M146.4 312.1h0M138 309.9h0M138 318.1h0M146.3 317.9h0M142.8 309.3h0M134.6 320.9h0M142.5 319.5h0M134.3 314.7h0M139 322.1h0M146.9 321.4h0M135.4 317h0M138.6 319.9h0M145.1 317h0M142 324h0M133.8 319.6h0M138 322.5h0M145.6 316.2h0M134.9 322.6h0M145.3 318.9h0M136.6 321.3h0M147.3 313.4h0M149.2 314.3h0M150.2 319.3h0M146.9 315.4h0M140.7 319.4h0M147.3 316.2h0M149.1 312.5h0M141.9 311.2h0M135.2 313.9h0M132.9 319h0M143.8 315.8h0M147.2 318.6h0M145 310.1h0M138.3 308.9h0M135 324.2h0M134.6 319.5h0M139.2 320.9h0M139.6 326.8h0M146.5 313.6h0M138.2 318.2h0M148.9 320.9h0M143.3 316h0M139.2 316h0M145.6 316.7h0M145.6 324.7h0M147.5 316h0M140.1 319.6h0M137.5 324.8h0M146.3 313.2h0M139.7 316.2h0M145.5 313.8h0M138.7 317.8h0M136.5 316.4h0M146.2 317.8h0M133.1 315h0M142.8 312.8h0M139.4 318.9h0M138.9 311.9h0M142.5 318.6h0M139.8 320.1h0M148.8 314.4h0M133.1 312.2h0M148.7 319.6h0M146.3 315.7h0M138.2 321.3h0M142.8 325.4h0M135.1 314.8h0M145.1 325.3h0M140.9 323.1h0M134.1 320.3h0M138.3 321.3h0M137.6 312h0M137.1 321.9h0M145.5 325.4h0M139.9 309.7h0M147.4 313.2h0M145.6 317.5h0M140.4 309.1h0M136.3 322.3h0M140.7 324.8h0M147.3 318.4h0M139.6 318.4h0M134.8 319.2h0M137.2 315.6h0M140.8 313.9h0M135.3 320.8h0M143.9 310h0M136.2 313.7h0M138.9 317.6h0M142.9 320h0M136.9 315.1h0M140.5 324.9h0M146.8 317.4h0M133.3 315.1h0M147.5 316.5h0M139.4 320.3h0M132.8 320.5h0M145 310.6h0M139.9 324.3h0M137 318.3h0M138.6 318.7h0M139.4 314.9h0M149.6 321.3h0M140.9 315.3h0M148.5 315.3h0M144.9 311.8h0M142.3 313.5h0M149.4 315.3h0M150.1 319h0M138.5 318.7h0M149.7 321.3h0M147.7 319h0M143.7 311.1h0M147.8 320.3h0M144.3 314.1h0M146.5 318.3h0M138.1 326.8h0M146.7 321.1h0M148 321.4h0M139.3 326.2h0M149.2 320.9h0M140.3 317.8h0M147.8 319.5h0M140.9 323.4h0M132.4 315.9h0M136.8 319.7h0M138.7 319.7h0M149.1 316.1h0M147.9 317.2h0M140.4 309.1h0M138.1 317.3h0M142.9 312.6h0M144.3 320.3h0" stroke="#e0435e" stroke-width="0.95" stroke-linecap="round"/>
<path d="M59 234.5h0M59 235.2h0M58.9 238.6h0M63 238.9h0M57 237.6h0M63.3 237.8h0M61.4 236.5h0M63.1 237.2h0M59.5 237h0M60.4 235h0M61.9 239.1h0M59.9 238.7h0M57.8 237h0M62 237.2h0M62.2 234.9h0M61.4 237.2h0M62.3 234.5h0M63.4 235h0M62.3 236.2h0M62.1 238.3h0M59.9 239.9h0M60.1 236.8h0M62.2 234.8h0M63.6 235.9h0M57.7 237.6h0M58.6 236.6h0M58.3 238.4h0M62.4 238.2h0M61.2 234.3h0M62.2 237.3h0M61.8 239.1h0M60.7 235.7h0M57.3 238.3h0M61.9 237.8h0M60.7 236.7h0M63.8 236.2h0M62.6 239.5h0M64.3 236.6h0M58 237h0M60.5 236.3h0M62.8 235.4h0M59 239.1h0M58.6 238.4h0M58.9 236.4h0M60.4 235.4h0" stroke="#ecb92c" stroke-width="1.0" stroke-linecap="round"/>
<path d="M73.2 236.5h0M77.4 237.4h0M77.1 235.1h0M75.4 233.5h0M75.4 239h0M74.9 234.5h0M76.2 240.2h0M76.9 233.9h0M75.6 234.8h0M77.9 236.3h0M75.7 240h0M74.8 236.6h0M76.2 238.2h0M75 238h0M75.5 239.6h0M76.3 238.8h0M76.4 238.6h0M75.3 234.2h0M75.2 235.6h0M76.1 236.8h0M77.2 233.5h0M73.8 238.7h0M76 240.7h0M78.2 236.3h0M75.1 236.5h0M77.6 236.7h0M77.5 237.1h0M77.5 237h0M76.5 236.4h0M76.4 237.5h0M73.6 237.5h0M77.6 235h0M77.3 235.3h0M76.6 239.2h0M76.1 235h0M74.8 237.4h0M77.4 234.4h0M76.8 236.2h0M77.6 238.8h0M75.2 237.7h0M67.2 271.5h0M71.2 266.3h0M71.3 264.9h0M73.8 270.7h0M73.4 272.4h0M67.7 273.3h0M70.9 268.3h0M71.5 273.6h0M71.4 266.1h0M69.5 276h0M67.5 266.4h0M69.9 265h0M67.9 273.3h0M66.1 271.6h0M69.3 272.9h0M68.1 269.7h0M72.9 268.1h0M68.4 276.1h0M69 270.6h0M67.1 268.8h0M73 274.5h0M67 272.1h0M70.4 268.2h0M71.7 266.1h0M70.9 268.8h0M67.1 273.9h0M67.5 274.2h0M72.1 269.1h0M69.6 265.9h0M67.1 272.7h0M69 270.9h0M68.9 266.7h0M67.3 273.7h0M69.5 265.1h0M67.8 265.2h0M70.5 273.9h0M71.6 274.6h0M69.4 269.1h0M66.8 266.7h0M73 267h0M69.4 274.7h0M68.5 266.4h0M66.2 270.5h0M70.4 266h0M68.1 271.9h0M67.4 274h0M73 268.9h0M67 271h0M68.4 264.5h0M71.7 270.8h0M68.2 266.5h0M71.8 275.8h0M68.8 271.2h0M67.8 269.5h0M70.6 267.3h0M70.8 270.6h0M69.3 265.1h0M70.4 271.3h0M71 275.4h0M70.9 273.8h0M73.4 271.3h0M72.6 270.7h0M69.5 265.2h0M69.8 273h0M72.4 275.5h0M70.1 276.2h0M69 263.3h0M69.4 270.6h0M72.2 266.3h0M67.5 274.9h0M116.8 243.5h0M116.3 247.9h0M117.1 247.2h0M117.2 249h0M116.4 245h0M114.8 245.3h0M120.6 244.5h0M118.3 246.5h0M113.4 248.9h0M113.1 244.6h0M112.3 247.4h0M118.3 245.1h0M111.4 246.7h0M114 246.4h0M112.7 245.5h0M120 244.7h0M117.2 249.3h0M118.7 248.9h0M114.2 249.2h0M120.8 244.4h0M119.3 248.9h0M112.6 245.2h0M119.2 246.5h0M121 245.5h0M115.4 243.7h0M113.3 248.6h0M113.1 248.8h0M119.6 246.5h0M113.4 249.1h0M115.3 245.1h0M118.1 244.5h0M113.2 243.8h0M116.9 244.7h0M112.6 248.6h0M110.1 246.4h0M110.4 246.4h0M110.3 245.8h0M117.4 246.3h0M112.6 248.4h0M114.4 246.3h0M115 248h0M112 244.1h0M115.4 246.3h0M116.2 246.7h0M120.1 244.8h0M117.3 249.2h0M121.7 246.5h0M114.1 247.1h0M118.8 247.3h0M118.1 245.2h0M118.6 245h0M112.8 243.2h0M116.6 243.7h0M113.4 244.6h0M114.5 245.4h0M154.3 297.4h0M151.8 295.4h0M151.8 302h0M151.6 297.2h0M150.6 292h0M151 298.2h0M149.2 301.1h0M151.2 299h0M151.1 301.7h0M152.6 290.9h0M151.8 293.2h0M153 294.9h0M150 303.9h0M148.8 295.6h0M151.1 299.9h0M150.4 290.4h0M150.1 298.9h0M150.1 303.2h0M152 295.4h0M149.8 298.9h0M148.8 297h0M150.2 295.6h0M152.2 300.8h0M152.6 295.9h0M150.5 299h0M151.3 303.9h0M151.7 298.4h0M152.5 296.7h0M151.5 299.6h0M150.3 296.9h0M151.8 293.9h0M149.6 295.7h0M151.1 295.9h0M150 296.7h0M151.9 290.6h0M152.5 300.4h0M149.7 293h0M148.7 296.5h0M152.6 295.6h0M152 298.7h0M151.5 303.8h0M152.7 296.1h0M150.1 291.1h0M152.4 301.2h0M150.9 290.4h0M150.2 300.3h0M153.1 295.4h0M153.8 295.2h0M153.8 300.3h0M149 293.6h0M126.6 255.4h0M132.4 258.4h0M120.7 252.4h0M131.7 256.1h0M130.6 257.2h0M128.5 256.8h0M123.6 252.5h0M124 255.1h0M123.3 253.4h0M133.5 256.6h0M125.9 255.3h0M128.2 254.5h0M134.7 258.5h0M130.6 256.5h0M133.2 257.9h0M126.1 254.7h0M125.2 254.9h0M134.4 258.4h0M128 254.8h0M126.9 255.6h0M124.5 255.1h0M129.9 257.5h0M132.9 256.4h0M131.7 258.5h0M132.2 257.5h0M86.8 298.2h0M84.4 296.9h0M85.9 297.9h0M86.2 298.3h0M88.9 299.3h0M89.9 298.2h0M92.8 299.7h0M86.7 297.3h0M82.8 297.1h0M89.1 299.2h0M85 297h0M85 297.4h0M89.3 298.5h0M88.9 298.5h0M86.1 297.8h0" stroke="#5e1446" stroke-width="0.9" stroke-linecap="round"/>
<path d="M47.5 280.4h0M48.7 282h0M48 280.7h0M48.5 281.4h0M47.7 280.3h0M47.8 280.7h0M46.9 281h0M49 280.3h0" stroke="#36b5bd" stroke-width="0.8" stroke-linecap="round"/>
<line x1="18.3" y1="315.2" x2="18.3" y2="352.3" stroke="#222" stroke-width="0.9"/>
<line x1="17.9" y1="352" x2="55.8" y2="352" stroke="#222" stroke-width="0.9"/>
<text x="13.4" y="334" font-size="8.2" text-anchor="middle" fill="#222" transform="rotate(-90 13.4 334)" textLength="22" lengthAdjust="spacingAndGlyphs" stroke="#222" stroke-width="0.3">UMAP_2</text>
<text x="25.6" y="362.2" font-size="8.2" text-anchor="start" fill="#222" textLength="22.5" lengthAdjust="spacingAndGlyphs" stroke="#222" stroke-width="0.3">UMAP_1</text>
<circle cx="19.8" cy="376.4" r="2.1" fill="#ecb92c"/>
<text x="25.3" y="378.5" font-size="5.85" text-anchor="start" fill="#2a2a2a">Eosinophils</text>
<circle cx="66.9" cy="376.4" r="2.1" fill="#3dbcb9"/>
<text x="72.4" y="378.5" font-size="5.85" text-anchor="start" fill="#2a2a2a">Granulocytes</text>
<circle cx="115.2" cy="376.4" r="2.1" fill="#e0435e"/>
<text x="120.7" y="378.5" font-size="5.85" text-anchor="start" fill="#2a2a2a">Monocytes</text>
<circle cx="19.8" cy="385.9" r="2.1" fill="#c2d43c"/>
<text x="25.3" y="388" font-size="5.85" text-anchor="start" fill="#2a2a2a">Erythroblasts</text>
<circle cx="66.9" cy="385.9" r="2.1" fill="#eeaad2"/>
<text x="72.4" y="388" font-size="5.85" text-anchor="start" fill="#2a2a2a">Lymphocytes</text>
<circle cx="115.2" cy="385.9" r="2.1" fill="#5e1446"/>
<text x="120.7" y="388" font-size="5.85" text-anchor="start" fill="#2a2a2a">Plasma cells</text>
<text x="191.3" y="192.2" font-size="10" text-anchor="start" fill="#111" font-weight="bold">C</text>
<text x="221" y="191.1" font-size="6" fill="#222">Kruskal-Wallis, <tspan font-style="italic">P</tspan> = .003249</text>
<line x1="236.6" y1="258.5" x2="236.6" y2="264.2" stroke="#7fc785" stroke-width="0.7"/>
<line x1="236.6" y1="269.8" x2="236.6" y2="272.3" stroke="#7fc785" stroke-width="0.7"/>
<rect x="229.4" y="264.2" width="14.4" height="5.6" fill="#8fd28f" stroke="#7cc67e" stroke-width="0.6"/>
<line x1="229.4" y1="266.8" x2="243.8" y2="266.8" stroke="#2f8f3a" stroke-width="0.9"/>
<path d="M237.8 271.1h1.15v1.15h-1.15zM237.9 265h1.15v1.15h-1.15zM236.2 269h1.15v1.15h-1.15zM237.4 268.7h1.15v1.15h-1.15zM232.2 267.3h1.15v1.15h-1.15zM235.6 268.6h1.15v1.15h-1.15zM235.7 269.8h1.15v1.15h-1.15zM237.1 268.1h1.15v1.15h-1.15zM232.8 265.8h1.15v1.15h-1.15zM234 267.5h1.15v1.15h-1.15zM235.5 265.8h1.15v1.15h-1.15zM235 260.1h1.15v1.15h-1.15zM235.6 262h1.15v1.15h-1.15zM232.2 264.9h1.15v1.15h-1.15zM231.7 267.2h1.15v1.15h-1.15zM237.1 264.6h1.15v1.15h-1.15zM239.1 267.4h1.15v1.15h-1.15zM231.4 265.8h1.15v1.15h-1.15zM239.4 267.1h1.15v1.15h-1.15zM240.6 269.1h1.15v1.15h-1.15zM237.9 266.6h1.15v1.15h-1.15zM238.5 265.7h1.15v1.15h-1.15zM236.7 266.1h1.15v1.15h-1.15zM233.8 266.3h1.15v1.15h-1.15zM238.3 266.6h1.15v1.15h-1.15zM237.9 266.4h1.15v1.15h-1.15zM232.9 269.1h1.15v1.15h-1.15zM238.2 266.8h1.15v1.15h-1.15zM234.3 265.9h1.15v1.15h-1.15zM240 268.1h1.15v1.15h-1.15zM235.6 266.8h1.15v1.15h-1.15zM236.4 267.7h1.15v1.15h-1.15zM240.5 263.1h1.15v1.15h-1.15zM239.4 264.2h1.15v1.15h-1.15zM232.5 267.5h1.15v1.15h-1.15zM231.5 269.4h1.15v1.15h-1.15zM235.5 260.9h1.15v1.15h-1.15zM233 262.4h1.15v1.15h-1.15zM235.6 270.2h1.15v1.15h-1.15zM233.9 264.9h1.15v1.15h-1.15zM240.1 264.7h1.15v1.15h-1.15zM239.4 266.8h1.15v1.15h-1.15zM241 264.5h1.15v1.15h-1.15zM234.1 262.7h1.15v1.15h-1.15zM230.9 270.8h1.15v1.15h-1.15zM235 244h1.15v1.15h-1.15zM237.6 250.1h1.15v1.15h-1.15zM236.4 255.1h1.15v1.15h-1.15zM239.6 256.3h1.15v1.15h-1.15z" fill="#3aae48" fill-opacity="0.95"/>
<line x1="258.1" y1="240.9" x2="258.1" y2="256.4" stroke="#ee8fa2" stroke-width="0.7"/>
<line x1="258.1" y1="267.7" x2="258.1" y2="272.6" stroke="#ee8fa2" stroke-width="0.7"/>
<rect x="250.9" y="256.4" width="14.4" height="11.3" fill="#f39aaa" stroke="#ec8598" stroke-width="0.6"/>
<line x1="250.9" y1="264.2" x2="265.3" y2="264.2" stroke="#c0183c" stroke-width="0.9"/>
<path d="M262.8 271.2h1.15v1.15h-1.15zM252.1 266.1h1.15v1.15h-1.15zM257.5 267.6h1.15v1.15h-1.15zM259 256.6h1.15v1.15h-1.15zM254.7 268.2h1.15v1.15h-1.15zM252.2 269.7h1.15v1.15h-1.15zM255.1 266.5h1.15v1.15h-1.15zM261.8 260.9h1.15v1.15h-1.15zM259.4 269h1.15v1.15h-1.15zM256.1 256.6h1.15v1.15h-1.15zM252.5 257.4h1.15v1.15h-1.15zM252.6 268h1.15v1.15h-1.15zM255.2 256.7h1.15v1.15h-1.15zM255.2 263.2h1.15v1.15h-1.15zM258.4 259.6h1.15v1.15h-1.15zM252 262.9h1.15v1.15h-1.15zM258.1 243.6h1.15v1.15h-1.15zM254.9 260.8h1.15v1.15h-1.15zM261.3 264.6h1.15v1.15h-1.15zM258.1 247.4h1.15v1.15h-1.15zM257.6 259.1h1.15v1.15h-1.15zM260.2 241.2h1.15v1.15h-1.15zM254.9 262.6h1.15v1.15h-1.15zM255.4 269.6h1.15v1.15h-1.15zM253.1 255.9h1.15v1.15h-1.15zM256.4 241.6h1.15v1.15h-1.15zM262.3 256.2h1.15v1.15h-1.15zM256.8 266.7h1.15v1.15h-1.15zM253 262.6h1.15v1.15h-1.15zM260.7 264.3h1.15v1.15h-1.15zM253.4 270.5h1.15v1.15h-1.15zM252.5 261.6h1.15v1.15h-1.15zM258.2 267.6h1.15v1.15h-1.15zM262.5 257.7h1.15v1.15h-1.15zM258.7 264.1h1.15v1.15h-1.15zM252.7 265.7h1.15v1.15h-1.15zM258.6 258.3h1.15v1.15h-1.15zM254.6 266.2h1.15v1.15h-1.15zM260 266.2h1.15v1.15h-1.15zM260.1 260h1.15v1.15h-1.15zM254.7 230.4h1.15v1.15h-1.15zM259.3 236.6h1.15v1.15h-1.15z" fill="#e6214b" fill-opacity="0.95"/>
<line x1="279.4" y1="227.9" x2="279.4" y2="251.8" stroke="#6e98c8" stroke-width="0.7"/>
<line x1="279.4" y1="265.1" x2="279.4" y2="272.9" stroke="#6e98c8" stroke-width="0.7"/>
<rect x="272.2" y="251.8" width="14.4" height="13.3" fill="#8aaed6" stroke="#7ba0cc" stroke-width="0.6"/>
<line x1="272.2" y1="259" x2="286.6" y2="259" stroke="#1d4f86" stroke-width="0.9"/>
<path d="M274.1 261.9h1.15v1.15h-1.15zM273.6 247.9h1.15v1.15h-1.15zM282.3 263.4h1.15v1.15h-1.15zM279.7 261.9h1.15v1.15h-1.15zM277.9 260.4h1.15v1.15h-1.15zM281.2 262.5h1.15v1.15h-1.15zM280.8 256.9h1.15v1.15h-1.15zM279.1 254.7h1.15v1.15h-1.15zM276.1 229.6h1.15v1.15h-1.15zM284.2 264.3h1.15v1.15h-1.15zM274.8 259.8h1.15v1.15h-1.15zM278.8 253h1.15v1.15h-1.15zM277.4 250.4h1.15v1.15h-1.15zM274.1 243.8h1.15v1.15h-1.15zM284.1 233.9h1.15v1.15h-1.15zM279 263.2h1.15v1.15h-1.15zM278.7 253.7h1.15v1.15h-1.15zM284.1 268.9h1.15v1.15h-1.15zM274.8 263.3h1.15v1.15h-1.15zM283 269.2h1.15v1.15h-1.15zM282.3 257.4h1.15v1.15h-1.15zM282.6 256.2h1.15v1.15h-1.15zM273.5 257.7h1.15v1.15h-1.15zM275.9 267.8h1.15v1.15h-1.15zM282.6 253.1h1.15v1.15h-1.15zM280.7 272.1h1.15v1.15h-1.15zM284.3 256.8h1.15v1.15h-1.15zM275 255.8h1.15v1.15h-1.15zM280.1 254.9h1.15v1.15h-1.15zM278.1 262.8h1.15v1.15h-1.15zM279.1 252.6h1.15v1.15h-1.15zM274.5 257.9h1.15v1.15h-1.15zM274.3 257.9h1.15v1.15h-1.15zM279.8 262.4h1.15v1.15h-1.15zM274.2 259.6h1.15v1.15h-1.15zM279.2 251.4h1.15v1.15h-1.15zM274.7 254.9h1.15v1.15h-1.15zM280.7 230.8h1.15v1.15h-1.15zM279.7 268h1.15v1.15h-1.15zM280.9 262.1h1.15v1.15h-1.15zM274.9 260.6h1.15v1.15h-1.15zM278.7 253.7h1.15v1.15h-1.15zM276.9 261h1.15v1.15h-1.15zM283.4 257.2h1.15v1.15h-1.15zM281.7 259.5h1.15v1.15h-1.15zM283.8 263.8h1.15v1.15h-1.15zM274.9 270.8h1.15v1.15h-1.15zM279.7 260.7h1.15v1.15h-1.15zM277 245.8h1.15v1.15h-1.15zM274.5 260h1.15v1.15h-1.15zM277.7 254.9h1.15v1.15h-1.15zM280.1 259.7h1.15v1.15h-1.15zM281.1 263.1h1.15v1.15h-1.15zM280.4 242h1.15v1.15h-1.15zM280.3 245.2h1.15v1.15h-1.15zM281.2 251.5h1.15v1.15h-1.15zM275.6 267.5h1.15v1.15h-1.15zM281.6 262.4h1.15v1.15h-1.15zM275.6 253.9h1.15v1.15h-1.15zM283.1 266.5h1.15v1.15h-1.15zM277.9 253.8h1.15v1.15h-1.15zM273.6 262.9h1.15v1.15h-1.15zM273.7 256.3h1.15v1.15h-1.15zM282.8 264.4h1.15v1.15h-1.15zM283.3 262.8h1.15v1.15h-1.15zM279.6 270.2h1.15v1.15h-1.15zM279.9 260.8h1.15v1.15h-1.15zM283.2 231.6h1.15v1.15h-1.15zM282.7 268h1.15v1.15h-1.15zM279.7 256.4h1.15v1.15h-1.15zM282.6 233.1h1.15v1.15h-1.15zM276.6 263.5h1.15v1.15h-1.15zM283 263h1.15v1.15h-1.15zM280.3 271.1h1.15v1.15h-1.15zM279 253.8h1.15v1.15h-1.15zM273.8 249.9h1.15v1.15h-1.15zM282.6 254.4h1.15v1.15h-1.15zM275.5 261.4h1.15v1.15h-1.15zM274.7 264.2h1.15v1.15h-1.15zM281.6 254.9h1.15v1.15h-1.15zM276.2 260.2h1.15v1.15h-1.15zM280.7 235.2h1.15v1.15h-1.15zM280.3 263.7h1.15v1.15h-1.15zM274 245.1h1.15v1.15h-1.15zM275.5 267.5h1.15v1.15h-1.15zM281.9 220.6h1.15v1.15h-1.15zM280.1 226.7h1.15v1.15h-1.15z" fill="#1c5e9e" fill-opacity="0.95"/>
<line x1="223.4" y1="202.8" x2="223.4" y2="276.1" stroke="#222" stroke-width="1.1"/>
<line x1="222.9" y1="275.6" x2="291" y2="275.6" stroke="#222" stroke-width="1.1"/>
<line x1="220.8" y1="272.9" x2="223.4" y2="272.9" stroke="#222" stroke-width="0.8"/>
<text x="218.2" y="275" font-size="5.9" text-anchor="end" fill="#333">0</text>
<line x1="220.8" y1="248.2" x2="223.4" y2="248.2" stroke="#222" stroke-width="0.8"/>
<text x="218.2" y="250.3" font-size="5.9" text-anchor="end" fill="#333">20</text>
<line x1="220.8" y1="223.6" x2="223.4" y2="223.6" stroke="#222" stroke-width="0.8"/>
<text x="218.2" y="225.7" font-size="5.9" text-anchor="end" fill="#333">40</text>
<line x1="236.6" y1="275.6" x2="236.6" y2="277.8" stroke="#222" stroke-width="0.7"/>
<line x1="258.1" y1="275.6" x2="258.1" y2="277.8" stroke="#222" stroke-width="0.7"/>
<line x1="279.4" y1="275.6" x2="279.4" y2="277.8" stroke="#222" stroke-width="0.7"/>
<text x="237" y="284.2" font-size="6.0" text-anchor="end" fill="#333" transform="rotate(-45 237 284.2)">MGUS</text>
<text x="258.5" y="284.2" font-size="6.0" text-anchor="end" fill="#333" transform="rotate(-45 258.5 284.2)">SMM</text>
<text x="279.8" y="284.2" font-size="6.0" text-anchor="end" fill="#333" transform="rotate(-45 279.8 284.2)">MM</text>
<path d="M236.6 204 V202.8 H279.4 V204" fill="none" stroke="#555" stroke-width="0.7"/>
<text x="258" y="201.2" font-size="6" text-anchor="middle" fill="#333">1.2e−06</text>
<path d="M258.1 212.5 V211.3 H279.4 V212.5" fill="none" stroke="#555" stroke-width="0.7"/>
<text x="268.8" y="209.7" font-size="6" text-anchor="middle" fill="#333">0.033</text>
<path d="M236.6 219 V217.8 H258.1 V219" fill="none" stroke="#555" stroke-width="0.7"/>
<text x="247.4" y="216.2" font-size="6" text-anchor="middle" fill="#333">0.052</text>
<text x="205.3" y="239" font-size="7.2" text-anchor="middle" fill="#222" font-weight="bold" transform="rotate(-90 205.3 239)" textLength="31.8" lengthAdjust="spacingAndGlyphs">Lymphocytes</text>
<text x="329.8" y="191.7" font-size="6" fill="#222">Kruskal-Wallis, <tspan font-style="italic">P</tspan> = .002934</text>
<line x1="346.2" y1="240.6" x2="346.2" y2="256.3" stroke="#7fc785" stroke-width="0.7"/>
<line x1="346.2" y1="267.5" x2="346.2" y2="271.5" stroke="#7fc785" stroke-width="0.7"/>
<rect x="339" y="256.3" width="14.4" height="11.2" fill="#8fd28f" stroke="#7cc67e" stroke-width="0.6"/>
<line x1="339" y1="263" x2="353.4" y2="263" stroke="#2f8f3a" stroke-width="0.9"/>
<path d="M347.3 256.5h1.15v1.15h-1.15zM340.7 258.4h1.15v1.15h-1.15zM343.1 264.1h1.15v1.15h-1.15zM348.9 244.4h1.15v1.15h-1.15zM346.8 269.5h1.15v1.15h-1.15zM350.3 265h1.15v1.15h-1.15zM341.1 257.8h1.15v1.15h-1.15zM343.6 266.6h1.15v1.15h-1.15zM340.5 261.6h1.15v1.15h-1.15zM343.5 270h1.15v1.15h-1.15zM349 265.8h1.15v1.15h-1.15zM350.6 267.8h1.15v1.15h-1.15zM350.9 256.1h1.15v1.15h-1.15zM349.9 267.7h1.15v1.15h-1.15zM340.4 262.9h1.15v1.15h-1.15zM340.3 264.6h1.15v1.15h-1.15zM346.5 256.5h1.15v1.15h-1.15zM345.1 264.5h1.15v1.15h-1.15zM350.8 270.6h1.15v1.15h-1.15zM348.9 259.8h1.15v1.15h-1.15zM343.8 266.2h1.15v1.15h-1.15zM348.1 258.6h1.15v1.15h-1.15zM348.1 260.5h1.15v1.15h-1.15zM342 267.5h1.15v1.15h-1.15zM347.5 264.3h1.15v1.15h-1.15zM342.7 270.2h1.15v1.15h-1.15zM344 255.8h1.15v1.15h-1.15zM348.9 258.6h1.15v1.15h-1.15zM347.6 260.7h1.15v1.15h-1.15zM344.5 263.2h1.15v1.15h-1.15zM347.3 256.9h1.15v1.15h-1.15zM349.6 269.6h1.15v1.15h-1.15zM349.3 264.4h1.15v1.15h-1.15zM341.9 261.7h1.15v1.15h-1.15zM341.3 256.7h1.15v1.15h-1.15zM346.3 259h1.15v1.15h-1.15zM350 268h1.15v1.15h-1.15zM346.6 267.7h1.15v1.15h-1.15zM342.5 256.5h1.15v1.15h-1.15zM340.4 255.8h1.15v1.15h-1.15zM349.6 270.4h1.15v1.15h-1.15zM349.6 256h1.15v1.15h-1.15zM347.8 259.6h1.15v1.15h-1.15zM341.8 259.4h1.15v1.15h-1.15zM350.1 263.7h1.15v1.15h-1.15zM341.9 224.6h1.15v1.15h-1.15zM343.4 230h1.15v1.15h-1.15zM345.8 236.7h1.15v1.15h-1.15zM343.8 234.7h1.15v1.15h-1.15z" fill="#3aae48" fill-opacity="0.95"/>
<line x1="366.9" y1="252" x2="366.9" y2="261.7" stroke="#ee8fa2" stroke-width="0.7"/>
<line x1="366.9" y1="269.4" x2="366.9" y2="272" stroke="#ee8fa2" stroke-width="0.7"/>
<rect x="359.7" y="261.7" width="14.4" height="7.7" fill="#f39aaa" stroke="#ec8598" stroke-width="0.6"/>
<line x1="359.7" y1="265.5" x2="374.1" y2="265.5" stroke="#c0183c" stroke-width="0.9"/>
<path d="M363.7 265h1.15v1.15h-1.15zM369.7 264.4h1.15v1.15h-1.15zM369.7 265.3h1.15v1.15h-1.15zM371 263.8h1.15v1.15h-1.15zM364.1 271.4h1.15v1.15h-1.15zM370.1 264.6h1.15v1.15h-1.15zM366.5 265.4h1.15v1.15h-1.15zM362.3 254.9h1.15v1.15h-1.15zM361.9 263h1.15v1.15h-1.15zM369.6 256.8h1.15v1.15h-1.15zM363.3 265.1h1.15v1.15h-1.15zM365.3 255.5h1.15v1.15h-1.15zM371.8 271.1h1.15v1.15h-1.15zM369.9 264.4h1.15v1.15h-1.15zM366.1 262.7h1.15v1.15h-1.15zM369.3 263.1h1.15v1.15h-1.15zM364.2 265.9h1.15v1.15h-1.15zM369.3 267.1h1.15v1.15h-1.15zM362.7 270.4h1.15v1.15h-1.15zM369.5 267.5h1.15v1.15h-1.15zM362.7 266h1.15v1.15h-1.15zM361 267.6h1.15v1.15h-1.15zM368.5 264.2h1.15v1.15h-1.15zM371.1 271.1h1.15v1.15h-1.15zM362.2 263h1.15v1.15h-1.15zM371.4 261.9h1.15v1.15h-1.15zM361.5 264.9h1.15v1.15h-1.15zM369.3 253.8h1.15v1.15h-1.15zM362.3 263.2h1.15v1.15h-1.15zM367.1 263.3h1.15v1.15h-1.15zM362.3 269.4h1.15v1.15h-1.15zM365.7 264.2h1.15v1.15h-1.15zM362.2 262.4h1.15v1.15h-1.15zM368.4 270.5h1.15v1.15h-1.15zM363 265.1h1.15v1.15h-1.15zM365.9 256.6h1.15v1.15h-1.15zM371.6 264h1.15v1.15h-1.15zM362.2 267.3h1.15v1.15h-1.15zM363.4 263.2h1.15v1.15h-1.15zM367.9 264.2h1.15v1.15h-1.15zM365.6 225.9h1.15v1.15h-1.15zM369.2 230h1.15v1.15h-1.15zM363.6 238.1h1.15v1.15h-1.15zM369.2 246.1h1.15v1.15h-1.15zM365.8 242.8h1.15v1.15h-1.15z" fill="#e6214b" fill-opacity="0.95"/>
<line x1="387.6" y1="258" x2="387.6" y2="265.6" stroke="#6e98c8" stroke-width="0.7"/>
<line x1="387.6" y1="270" x2="387.6" y2="272.2" stroke="#6e98c8" stroke-width="0.7"/>
<rect x="380.4" y="265.6" width="14.4" height="4.4" fill="#8aaed6" stroke="#7ba0cc" stroke-width="0.6"/>
<line x1="380.4" y1="268" x2="394.8" y2="268" stroke="#1d4f86" stroke-width="0.9"/>
<path d="M384.4 270.3h1.15v1.15h-1.15zM389.5 262.3h1.15v1.15h-1.15zM392 268.2h1.15v1.15h-1.15zM385.4 271.6h1.15v1.15h-1.15zM390.7 268.9h1.15v1.15h-1.15zM386.1 260.7h1.15v1.15h-1.15zM383.4 259h1.15v1.15h-1.15zM386.1 266.4h1.15v1.15h-1.15zM381.9 267h1.15v1.15h-1.15zM382.1 267.3h1.15v1.15h-1.15zM388.7 269h1.15v1.15h-1.15zM387 264h1.15v1.15h-1.15zM387.9 265.3h1.15v1.15h-1.15zM383 270.2h1.15v1.15h-1.15zM386.7 270.6h1.15v1.15h-1.15zM387.8 267.5h1.15v1.15h-1.15zM382.4 271.4h1.15v1.15h-1.15zM386.1 270.1h1.15v1.15h-1.15zM386.4 268.6h1.15v1.15h-1.15zM383.2 267.1h1.15v1.15h-1.15zM385.7 265.2h1.15v1.15h-1.15zM383 265h1.15v1.15h-1.15zM392.3 261.6h1.15v1.15h-1.15zM389.1 269.2h1.15v1.15h-1.15zM383.1 265.2h1.15v1.15h-1.15zM384.8 270.9h1.15v1.15h-1.15zM391.8 267.8h1.15v1.15h-1.15zM387.4 269.4h1.15v1.15h-1.15zM389.4 265.8h1.15v1.15h-1.15zM384.1 259h1.15v1.15h-1.15zM384 265.9h1.15v1.15h-1.15zM388.8 266.1h1.15v1.15h-1.15zM386.1 266.2h1.15v1.15h-1.15zM382.5 265.3h1.15v1.15h-1.15zM382.1 268h1.15v1.15h-1.15zM388.3 268.9h1.15v1.15h-1.15zM386.2 266.8h1.15v1.15h-1.15zM383.2 265.3h1.15v1.15h-1.15zM385.2 265.9h1.15v1.15h-1.15zM383.7 267.7h1.15v1.15h-1.15zM387 268.1h1.15v1.15h-1.15zM386.4 271.1h1.15v1.15h-1.15zM389.1 265.2h1.15v1.15h-1.15zM382.4 266.3h1.15v1.15h-1.15zM386.7 268.9h1.15v1.15h-1.15zM384.3 271.3h1.15v1.15h-1.15zM384.1 268.9h1.15v1.15h-1.15zM386.6 269.1h1.15v1.15h-1.15zM391 269.2h1.15v1.15h-1.15zM384 262.8h1.15v1.15h-1.15zM391.7 265.1h1.15v1.15h-1.15zM392.1 268.9h1.15v1.15h-1.15zM384.5 269.3h1.15v1.15h-1.15zM392.5 266.2h1.15v1.15h-1.15zM386.8 260.1h1.15v1.15h-1.15zM391.4 271.2h1.15v1.15h-1.15zM387.2 266h1.15v1.15h-1.15zM391.1 262.1h1.15v1.15h-1.15zM391.6 267.3h1.15v1.15h-1.15zM390.4 268.5h1.15v1.15h-1.15zM389.1 268.1h1.15v1.15h-1.15zM390.4 267.3h1.15v1.15h-1.15zM385.6 264.9h1.15v1.15h-1.15zM390.9 267.4h1.15v1.15h-1.15zM384.3 267.1h1.15v1.15h-1.15zM381.6 271h1.15v1.15h-1.15zM388 265.6h1.15v1.15h-1.15zM382.4 270.2h1.15v1.15h-1.15zM386.3 267.7h1.15v1.15h-1.15zM384.1 266.6h1.15v1.15h-1.15zM389.4 270.3h1.15v1.15h-1.15zM384.6 266h1.15v1.15h-1.15zM391.6 268.8h1.15v1.15h-1.15zM382.6 266.2h1.15v1.15h-1.15zM389.4 266.7h1.15v1.15h-1.15zM383.1 261.9h1.15v1.15h-1.15zM384.6 265.7h1.15v1.15h-1.15zM383.4 267.2h1.15v1.15h-1.15zM388.5 269h1.15v1.15h-1.15zM384.8 266.4h1.15v1.15h-1.15zM388.7 269.5h1.15v1.15h-1.15zM382.1 262.3h1.15v1.15h-1.15zM383.6 268.5h1.15v1.15h-1.15zM389 267.9h1.15v1.15h-1.15zM391.6 268h1.15v1.15h-1.15zM386.8 227.9h1.15v1.15h-1.15zM386.2 242.8h1.15v1.15h-1.15zM388.5 243.4h1.15v1.15h-1.15zM390 248.2h1.15v1.15h-1.15zM388.5 251.5h1.15v1.15h-1.15zM390.4 253.5h1.15v1.15h-1.15z" fill="#1c5e9e" fill-opacity="0.95"/>
<line x1="333.3" y1="202.8" x2="333.3" y2="276.1" stroke="#222" stroke-width="1.1"/>
<line x1="332.8" y1="275.6" x2="400.3" y2="275.6" stroke="#222" stroke-width="1.1"/>
<line x1="330.7" y1="272.3" x2="333.3" y2="272.3" stroke="#222" stroke-width="0.8"/>
<text x="328.1" y="274.4" font-size="5.9" text-anchor="end" fill="#333">0</text>
<line x1="330.7" y1="255.5" x2="333.3" y2="255.5" stroke="#222" stroke-width="0.8"/>
<text x="328.1" y="257.6" font-size="5.9" text-anchor="end" fill="#333">25</text>
<line x1="330.7" y1="238.6" x2="333.3" y2="238.6" stroke="#222" stroke-width="0.8"/>
<text x="328.1" y="240.7" font-size="5.9" text-anchor="end" fill="#333">50</text>
<line x1="330.7" y1="221.8" x2="333.3" y2="221.8" stroke="#222" stroke-width="0.8"/>
<text x="328.1" y="223.9" font-size="5.9" text-anchor="end" fill="#333">75</text>
<line x1="330.7" y1="205" x2="333.3" y2="205" stroke="#222" stroke-width="0.8"/>
<text x="328.1" y="207.1" font-size="5.9" text-anchor="end" fill="#333">100</text>
<line x1="346.2" y1="275.6" x2="346.2" y2="277.8" stroke="#222" stroke-width="0.7"/>
<line x1="366.9" y1="275.6" x2="366.9" y2="277.8" stroke="#222" stroke-width="0.7"/>
<line x1="387.6" y1="275.6" x2="387.6" y2="277.8" stroke="#222" stroke-width="0.7"/>
<text x="346.6" y="284.2" font-size="6.0" text-anchor="end" fill="#333" transform="rotate(-45 346.6 284.2)">MGUS</text>
<text x="367.3" y="284.2" font-size="6.0" text-anchor="end" fill="#333" transform="rotate(-45 367.3 284.2)">SMM</text>
<text x="388" y="284.2" font-size="6.0" text-anchor="end" fill="#333" transform="rotate(-45 388 284.2)">MM</text>
<path d="M344.4 206 V204.8 H384.5 V206" fill="none" stroke="#555" stroke-width="0.7"/>
<text x="364.4" y="203.2" font-size="6" text-anchor="middle" fill="#333">2.8e−06</text>
<path d="M365 214.7 V213.5 H384.5 V214.7" fill="none" stroke="#555" stroke-width="0.7"/>
<text x="374.8" y="211.9" font-size="6" text-anchor="middle" fill="#333">0.055</text>
<path d="M344.4 220.4 V219.2 H365 V220.4" fill="none" stroke="#555" stroke-width="0.7"/>
<text x="354.7" y="217.6" font-size="6" text-anchor="middle" fill="#333">0.048</text>
<text x="312" y="239" font-size="7.2" text-anchor="middle" fill="#222" font-weight="bold" transform="rotate(-90 312 239)" textLength="10.7" lengthAdjust="spacingAndGlyphs">GLR</text>
<text x="436.3" y="191.7" font-size="6" fill="#222">Kruskal-Wallis, <tspan font-style="italic">P</tspan> = 7.347e-06</text>
<line x1="454.5" y1="252" x2="454.5" y2="262" stroke="#7fc785" stroke-width="0.7"/>
<line x1="454.5" y1="268.5" x2="454.5" y2="271.5" stroke="#7fc785" stroke-width="0.7"/>
<rect x="447.3" y="262" width="14.4" height="6.5" fill="#8fd28f" stroke="#7cc67e" stroke-width="0.6"/>
<line x1="447.3" y1="266" x2="461.7" y2="266" stroke="#2f8f3a" stroke-width="0.9"/>
<path d="M451.2 270.8h1.15v1.15h-1.15zM449.7 262.8h1.15v1.15h-1.15zM451.7 267.6h1.15v1.15h-1.15zM459.2 267.4h1.15v1.15h-1.15zM457.5 269h1.15v1.15h-1.15zM449.1 261.5h1.15v1.15h-1.15zM457.9 263h1.15v1.15h-1.15zM453.8 267h1.15v1.15h-1.15zM448.9 263.6h1.15v1.15h-1.15zM459.1 267.6h1.15v1.15h-1.15zM453.3 252.4h1.15v1.15h-1.15zM449.1 268.4h1.15v1.15h-1.15zM456.6 262h1.15v1.15h-1.15zM449 270.9h1.15v1.15h-1.15zM450.4 270.3h1.15v1.15h-1.15zM457.1 267.8h1.15v1.15h-1.15zM455.7 262.6h1.15v1.15h-1.15zM450.1 264.3h1.15v1.15h-1.15zM454.4 264.6h1.15v1.15h-1.15zM452.3 267.9h1.15v1.15h-1.15zM450.2 265h1.15v1.15h-1.15zM455.6 267.7h1.15v1.15h-1.15zM450.6 265.4h1.15v1.15h-1.15zM449.4 270.8h1.15v1.15h-1.15zM450.6 269h1.15v1.15h-1.15zM450.3 267h1.15v1.15h-1.15zM450.7 264.7h1.15v1.15h-1.15zM448.7 267.9h1.15v1.15h-1.15zM450.3 262.7h1.15v1.15h-1.15zM453.6 267.6h1.15v1.15h-1.15zM457.9 266h1.15v1.15h-1.15zM450.4 254.8h1.15v1.15h-1.15zM458.1 257.5h1.15v1.15h-1.15zM449.7 266.6h1.15v1.15h-1.15zM452.4 262.2h1.15v1.15h-1.15zM458.7 265.7h1.15v1.15h-1.15zM452.9 265.2h1.15v1.15h-1.15zM448.5 263.1h1.15v1.15h-1.15zM457.2 266.1h1.15v1.15h-1.15zM452.9 269.2h1.15v1.15h-1.15zM459.4 263h1.15v1.15h-1.15zM454.3 264.1h1.15v1.15h-1.15zM453 263.3h1.15v1.15h-1.15zM458.2 267.3h1.15v1.15h-1.15zM450.9 264.4h1.15v1.15h-1.15zM457.5 242.3h1.15v1.15h-1.15zM451 245.6h1.15v1.15h-1.15zM453.8 253.3h1.15v1.15h-1.15zM450 254.3h1.15v1.15h-1.15z" fill="#3aae48" fill-opacity="0.95"/>
<line x1="475.5" y1="258" x2="475.5" y2="265" stroke="#ee8fa2" stroke-width="0.7"/>
<line x1="475.5" y1="270" x2="475.5" y2="272" stroke="#ee8fa2" stroke-width="0.7"/>
<rect x="468.3" y="265" width="14.4" height="5" fill="#f39aaa" stroke="#ec8598" stroke-width="0.6"/>
<line x1="468.3" y1="268" x2="482.7" y2="268" stroke="#c0183c" stroke-width="0.9"/>
<path d="M469.6 266.7h1.15v1.15h-1.15zM474.6 266.9h1.15v1.15h-1.15zM473 264.7h1.15v1.15h-1.15zM476 264.9h1.15v1.15h-1.15zM477.2 267.1h1.15v1.15h-1.15zM476.4 266.9h1.15v1.15h-1.15zM478.6 262.3h1.15v1.15h-1.15zM478.4 265.5h1.15v1.15h-1.15zM479.6 270.4h1.15v1.15h-1.15zM473.4 269h1.15v1.15h-1.15zM471.3 268.4h1.15v1.15h-1.15zM469.8 264.5h1.15v1.15h-1.15zM474.1 259h1.15v1.15h-1.15zM475 269.1h1.15v1.15h-1.15zM474.5 270h1.15v1.15h-1.15zM477.2 267.4h1.15v1.15h-1.15zM472.8 267.3h1.15v1.15h-1.15zM471.3 257.6h1.15v1.15h-1.15zM478.7 269.3h1.15v1.15h-1.15zM474.4 269.1h1.15v1.15h-1.15zM476.2 267.7h1.15v1.15h-1.15zM472.9 263.7h1.15v1.15h-1.15zM476.9 259.6h1.15v1.15h-1.15zM472.7 267.6h1.15v1.15h-1.15zM473.7 262.1h1.15v1.15h-1.15zM477.6 258.2h1.15v1.15h-1.15zM474.5 264.5h1.15v1.15h-1.15zM470.5 269.4h1.15v1.15h-1.15zM470.8 267.1h1.15v1.15h-1.15zM476.2 261.4h1.15v1.15h-1.15zM473 265.2h1.15v1.15h-1.15zM474.9 265.4h1.15v1.15h-1.15zM471 268.2h1.15v1.15h-1.15zM477 267h1.15v1.15h-1.15zM470.8 265.5h1.15v1.15h-1.15zM478.2 266.3h1.15v1.15h-1.15zM477.6 266.1h1.15v1.15h-1.15zM480.1 264.6h1.15v1.15h-1.15zM472.5 259.6h1.15v1.15h-1.15zM478.1 265.5h1.15v1.15h-1.15zM478 226.6h1.15v1.15h-1.15zM476.6 241h1.15v1.15h-1.15zM474.1 246.6h1.15v1.15h-1.15zM477.6 247.6h1.15v1.15h-1.15zM478.4 258.3h1.15v1.15h-1.15zM472.4 261.7h1.15v1.15h-1.15z" fill="#e6214b" fill-opacity="0.95"/>
<line x1="496.2" y1="263" x2="496.2" y2="267.5" stroke="#6e98c8" stroke-width="0.7"/>
<line x1="496.2" y1="270.5" x2="496.2" y2="272.2" stroke="#6e98c8" stroke-width="0.7"/>
<rect x="489" y="267.5" width="14.4" height="3" fill="#8aaed6" stroke="#7ba0cc" stroke-width="0.6"/>
<line x1="489" y1="269.5" x2="503.4" y2="269.5" stroke="#1d4f86" stroke-width="0.9"/>
<path d="M501 267.4h1.15v1.15h-1.15zM498.3 270.6h1.15v1.15h-1.15zM495.8 267.1h1.15v1.15h-1.15zM499.5 268.3h1.15v1.15h-1.15zM492.5 267.7h1.15v1.15h-1.15zM500.1 268.5h1.15v1.15h-1.15zM495.1 268.3h1.15v1.15h-1.15zM494.3 267.5h1.15v1.15h-1.15zM493.7 267.5h1.15v1.15h-1.15zM495.4 269.7h1.15v1.15h-1.15zM495.8 267h1.15v1.15h-1.15zM495.3 267.3h1.15v1.15h-1.15zM498.2 268h1.15v1.15h-1.15zM490.7 267.1h1.15v1.15h-1.15zM496.3 268.7h1.15v1.15h-1.15zM498 268h1.15v1.15h-1.15zM492.6 268.5h1.15v1.15h-1.15zM490.2 268.4h1.15v1.15h-1.15zM501 271.3h1.15v1.15h-1.15zM495.3 265.6h1.15v1.15h-1.15zM494.7 269h1.15v1.15h-1.15zM496.8 267.3h1.15v1.15h-1.15zM491.8 271.2h1.15v1.15h-1.15zM491.6 268.8h1.15v1.15h-1.15zM497.1 266.6h1.15v1.15h-1.15zM498.6 268.6h1.15v1.15h-1.15zM496.7 268.9h1.15v1.15h-1.15zM497.5 265.9h1.15v1.15h-1.15zM496.8 269.6h1.15v1.15h-1.15zM491.3 270.5h1.15v1.15h-1.15zM500.8 267.6h1.15v1.15h-1.15zM493.8 269.6h1.15v1.15h-1.15zM493.7 268.7h1.15v1.15h-1.15zM491.2 265.2h1.15v1.15h-1.15zM495.6 267.3h1.15v1.15h-1.15zM497.5 267.9h1.15v1.15h-1.15zM497.6 269.4h1.15v1.15h-1.15zM490.5 269.4h1.15v1.15h-1.15zM500.6 267h1.15v1.15h-1.15zM501 269.4h1.15v1.15h-1.15zM490.4 269.6h1.15v1.15h-1.15zM494.4 271.3h1.15v1.15h-1.15zM495.6 265.9h1.15v1.15h-1.15zM491 267.4h1.15v1.15h-1.15zM492.2 268.5h1.15v1.15h-1.15zM493.4 267.2h1.15v1.15h-1.15zM495.9 267.4h1.15v1.15h-1.15zM492.5 269.6h1.15v1.15h-1.15zM500.7 266.6h1.15v1.15h-1.15zM490.9 269h1.15v1.15h-1.15zM490.5 265.5h1.15v1.15h-1.15zM494 267.2h1.15v1.15h-1.15zM493.7 266h1.15v1.15h-1.15zM496.1 269.9h1.15v1.15h-1.15zM500.2 267.2h1.15v1.15h-1.15zM497.2 269.9h1.15v1.15h-1.15zM495.4 267.3h1.15v1.15h-1.15zM497.1 264.9h1.15v1.15h-1.15zM490.3 268h1.15v1.15h-1.15zM491.1 267.5h1.15v1.15h-1.15zM501.1 269.2h1.15v1.15h-1.15zM492.4 271.3h1.15v1.15h-1.15zM499.5 270.6h1.15v1.15h-1.15zM495.9 267.8h1.15v1.15h-1.15zM498.1 267.7h1.15v1.15h-1.15zM497.3 271.6h1.15v1.15h-1.15zM496.6 268.3h1.15v1.15h-1.15zM496.4 269.7h1.15v1.15h-1.15zM495 264.6h1.15v1.15h-1.15zM495.4 267.9h1.15v1.15h-1.15zM491.4 268.2h1.15v1.15h-1.15zM500.2 269.6h1.15v1.15h-1.15zM495.5 268.7h1.15v1.15h-1.15zM496 267.8h1.15v1.15h-1.15zM490.9 268.6h1.15v1.15h-1.15zM492.2 268.8h1.15v1.15h-1.15zM499.9 269.7h1.15v1.15h-1.15zM498.4 268.5h1.15v1.15h-1.15zM494.2 269h1.15v1.15h-1.15zM496.6 269.1h1.15v1.15h-1.15zM494 268.1h1.15v1.15h-1.15zM495 268.3h1.15v1.15h-1.15zM497 267.8h1.15v1.15h-1.15zM497.3 263.3h1.15v1.15h-1.15zM497.4 268.8h1.15v1.15h-1.15zM494.8 250h1.15v1.15h-1.15zM491.7 255.7h1.15v1.15h-1.15zM494.5 256h1.15v1.15h-1.15zM495.8 262.4h1.15v1.15h-1.15zM496.7 263.4h1.15v1.15h-1.15z" fill="#1c5e9e" fill-opacity="0.95"/>
<line x1="440.8" y1="202.8" x2="440.8" y2="276.1" stroke="#222" stroke-width="1.1"/>
<line x1="440.3" y1="275.6" x2="508" y2="275.6" stroke="#222" stroke-width="1.1"/>
<line x1="438.2" y1="272.3" x2="440.8" y2="272.3" stroke="#222" stroke-width="0.8"/>
<text x="435.6" y="274.4" font-size="5.9" text-anchor="end" fill="#333">0</text>
<line x1="438.2" y1="255.6" x2="440.8" y2="255.6" stroke="#222" stroke-width="0.8"/>
<text x="435.6" y="257.7" font-size="5.9" text-anchor="end" fill="#333">50</text>
<line x1="438.2" y1="238.9" x2="440.8" y2="238.9" stroke="#222" stroke-width="0.8"/>
<text x="435.6" y="241" font-size="5.9" text-anchor="end" fill="#333">100</text>
<line x1="438.2" y1="222.1" x2="440.8" y2="222.1" stroke="#222" stroke-width="0.8"/>
<text x="435.6" y="224.2" font-size="5.9" text-anchor="end" fill="#333">150</text>
<line x1="438.2" y1="205.4" x2="440.8" y2="205.4" stroke="#222" stroke-width="0.8"/>
<text x="435.6" y="207.5" font-size="5.9" text-anchor="end" fill="#333">200</text>
<line x1="454.5" y1="275.6" x2="454.5" y2="277.8" stroke="#222" stroke-width="0.7"/>
<line x1="475.5" y1="275.6" x2="475.5" y2="277.8" stroke="#222" stroke-width="0.7"/>
<line x1="496.2" y1="275.6" x2="496.2" y2="277.8" stroke="#222" stroke-width="0.7"/>
<text x="454.9" y="284.2" font-size="6.0" text-anchor="end" fill="#333" transform="rotate(-45 454.9 284.2)">MGUS</text>
<text x="475.9" y="284.2" font-size="6.0" text-anchor="end" fill="#333" transform="rotate(-45 475.9 284.2)">SMM</text>
<text x="496.6" y="284.2" font-size="6.0" text-anchor="end" fill="#333" transform="rotate(-45 496.6 284.2)">MM</text>
<path d="M454.5 206.7 V205.5 H494.5 V206.7" fill="none" stroke="#555" stroke-width="0.7"/>
<text x="474.5" y="203.9" font-size="6" text-anchor="middle" fill="#333">1.1e−06</text>
<path d="M474.6 215.6 V214.4 H494.5 V215.6" fill="none" stroke="#555" stroke-width="0.7"/>
<text x="484.6" y="212.8" font-size="6" text-anchor="middle" fill="#333">0.034</text>
<path d="M454.5 221.7 V220.5 H474.6 V221.7" fill="none" stroke="#555" stroke-width="0.7"/>
<text x="464.6" y="218.9" font-size="6" text-anchor="middle" fill="#333">0.08</text>
<text x="420.1" y="238.8" font-size="7.2" text-anchor="middle" fill="#222" font-weight="bold" transform="rotate(-90 420.1 238.8)" textLength="22.2" lengthAdjust="spacingAndGlyphs">GLT ratio</text>
<text x="218.8" y="318.5" font-size="6" fill="#222">Kruskal-Wallis, <tspan font-style="italic">P</tspan> = .0002546</text>
<line x1="236.4" y1="358.2" x2="236.4" y2="372" stroke="#7fc785" stroke-width="0.7"/>
<line x1="236.4" y1="381.4" x2="236.4" y2="397.3" stroke="#7fc785" stroke-width="0.7"/>
<rect x="229.2" y="372" width="14.4" height="9.4" fill="#8fd28f" stroke="#7cc67e" stroke-width="0.6"/>
<line x1="229.2" y1="376.2" x2="243.6" y2="376.2" stroke="#2f8f3a" stroke-width="0.9"/>
<path d="M237.5 366.7h1.15v1.15h-1.15zM231.8 378.9h1.15v1.15h-1.15zM235.3 364.4h1.15v1.15h-1.15zM241.3 389.5h1.15v1.15h-1.15zM236.9 372h1.15v1.15h-1.15zM241.3 373.6h1.15v1.15h-1.15zM234.3 374.2h1.15v1.15h-1.15zM231.8 373.8h1.15v1.15h-1.15zM234.3 367.8h1.15v1.15h-1.15zM240.1 380.6h1.15v1.15h-1.15zM236.4 379.6h1.15v1.15h-1.15zM235.1 363.7h1.15v1.15h-1.15zM233 376.8h1.15v1.15h-1.15zM240 360.7h1.15v1.15h-1.15zM238.2 379h1.15v1.15h-1.15zM234.3 365.6h1.15v1.15h-1.15zM231.5 373.6h1.15v1.15h-1.15zM239.4 374.4h1.15v1.15h-1.15zM235.9 376.1h1.15v1.15h-1.15zM232.6 377.9h1.15v1.15h-1.15zM240 383.5h1.15v1.15h-1.15zM232 372.3h1.15v1.15h-1.15zM233.8 372.7h1.15v1.15h-1.15zM234.7 362.8h1.15v1.15h-1.15zM231.3 382h1.15v1.15h-1.15zM232.2 362.1h1.15v1.15h-1.15zM241.1 378.4h1.15v1.15h-1.15zM235.4 378.1h1.15v1.15h-1.15zM234.1 374.4h1.15v1.15h-1.15zM231.3 378.9h1.15v1.15h-1.15zM230.7 378.3h1.15v1.15h-1.15zM237.5 366.1h1.15v1.15h-1.15zM239.6 373.3h1.15v1.15h-1.15zM239.3 357.8h1.15v1.15h-1.15zM236.9 372.1h1.15v1.15h-1.15zM239.6 379.3h1.15v1.15h-1.15zM236 372.8h1.15v1.15h-1.15zM238.1 381.4h1.15v1.15h-1.15zM232.1 375h1.15v1.15h-1.15zM233.6 376.5h1.15v1.15h-1.15zM238.3 370.1h1.15v1.15h-1.15zM234 377.5h1.15v1.15h-1.15zM235 376.6h1.15v1.15h-1.15zM241.2 379.4h1.15v1.15h-1.15zM233.7 394.5h1.15v1.15h-1.15zM235.8 373.5h1.15v1.15h-1.15zM240.4 392.5h1.15v1.15h-1.15zM230.9 385.6h1.15v1.15h-1.15zM239.9 374.5h1.15v1.15h-1.15zM238.8 365.1h1.15v1.15h-1.15zM237.6 348.5h1.15v1.15h-1.15zM236 396.7h1.15v1.15h-1.15zM235.4 397.5h1.15v1.15h-1.15z" fill="#3aae48" fill-opacity="0.95"/>
<line x1="258" y1="363.5" x2="258" y2="375" stroke="#ee8fa2" stroke-width="0.7"/>
<line x1="258" y1="391" x2="258" y2="399.4" stroke="#ee8fa2" stroke-width="0.7"/>
<rect x="250.8" y="375" width="14.4" height="16" fill="#f39aaa" stroke="#ec8598" stroke-width="0.6"/>
<line x1="250.8" y1="379.3" x2="265.2" y2="379.3" stroke="#c0183c" stroke-width="0.9"/>
<path d="M258.2 372.1h1.15v1.15h-1.15zM260.4 364.6h1.15v1.15h-1.15zM253.3 379.6h1.15v1.15h-1.15zM253.9 388.3h1.15v1.15h-1.15zM254.1 374.3h1.15v1.15h-1.15zM255.6 382.2h1.15v1.15h-1.15zM262.3 378.7h1.15v1.15h-1.15zM257.4 398.4h1.15v1.15h-1.15zM256.6 375.4h1.15v1.15h-1.15zM252.6 390.3h1.15v1.15h-1.15zM262.6 375.2h1.15v1.15h-1.15zM258.9 385.5h1.15v1.15h-1.15zM256.6 381.8h1.15v1.15h-1.15zM252.6 380.8h1.15v1.15h-1.15zM257.9 398.6h1.15v1.15h-1.15zM253.5 382.7h1.15v1.15h-1.15zM253.1 396.2h1.15v1.15h-1.15zM259.6 376.4h1.15v1.15h-1.15zM252.6 388.4h1.15v1.15h-1.15zM257.7 392h1.15v1.15h-1.15zM261.5 398.3h1.15v1.15h-1.15zM256.7 385.9h1.15v1.15h-1.15zM262.2 381.8h1.15v1.15h-1.15zM257.9 385.6h1.15v1.15h-1.15zM254.7 368.4h1.15v1.15h-1.15zM259.5 391.3h1.15v1.15h-1.15zM253.8 375.3h1.15v1.15h-1.15zM262 391.7h1.15v1.15h-1.15zM252.5 389.3h1.15v1.15h-1.15zM258.5 383h1.15v1.15h-1.15zM262.9 365.5h1.15v1.15h-1.15zM254.7 387.4h1.15v1.15h-1.15zM257.1 371.2h1.15v1.15h-1.15zM258.1 388.5h1.15v1.15h-1.15zM260.2 373.1h1.15v1.15h-1.15zM261.1 391.8h1.15v1.15h-1.15zM252.7 391.2h1.15v1.15h-1.15zM260.3 377.9h1.15v1.15h-1.15zM256 396.3h1.15v1.15h-1.15zM254.4 364.7h1.15v1.15h-1.15zM257 399.1h1.15v1.15h-1.15z" fill="#e6214b" fill-opacity="0.95"/>
<line x1="279.6" y1="355.4" x2="279.6" y2="378.7" stroke="#6e98c8" stroke-width="0.7"/>
<line x1="279.6" y1="395.6" x2="279.6" y2="400.3" stroke="#6e98c8" stroke-width="0.7"/>
<rect x="272.4" y="378.7" width="14.4" height="16.9" fill="#8aaed6" stroke="#7ba0cc" stroke-width="0.6"/>
<line x1="272.4" y1="391" x2="286.8" y2="391" stroke="#1d4f86" stroke-width="0.9"/>
<path d="M282.7 390.6h1.15v1.15h-1.15zM279.9 396.5h1.15v1.15h-1.15zM279.4 387.4h1.15v1.15h-1.15zM282.5 392.4h1.15v1.15h-1.15zM276.1 395.5h1.15v1.15h-1.15zM280.3 398.8h1.15v1.15h-1.15zM276 364.8h1.15v1.15h-1.15zM277.7 383.2h1.15v1.15h-1.15zM281.4 396.5h1.15v1.15h-1.15zM279.1 378.5h1.15v1.15h-1.15zM282.9 369.9h1.15v1.15h-1.15zM274 394.9h1.15v1.15h-1.15zM281.8 381.5h1.15v1.15h-1.15zM280.7 389.4h1.15v1.15h-1.15zM277.1 388.5h1.15v1.15h-1.15zM280.5 389h1.15v1.15h-1.15zM274.4 390.1h1.15v1.15h-1.15zM283.7 393.1h1.15v1.15h-1.15zM281.7 378h1.15v1.15h-1.15zM279.4 387.1h1.15v1.15h-1.15zM278.3 377.3h1.15v1.15h-1.15zM278.2 387.2h1.15v1.15h-1.15zM280.3 399.4h1.15v1.15h-1.15zM274.9 387.2h1.15v1.15h-1.15zM280.9 392h1.15v1.15h-1.15zM283.8 380.8h1.15v1.15h-1.15zM274.1 366.2h1.15v1.15h-1.15zM277.9 384.9h1.15v1.15h-1.15zM275.1 382.8h1.15v1.15h-1.15zM278.3 386.9h1.15v1.15h-1.15zM275.3 397.4h1.15v1.15h-1.15zM280.9 387.6h1.15v1.15h-1.15zM277.5 390.7h1.15v1.15h-1.15zM276.3 397.8h1.15v1.15h-1.15zM282.8 388.7h1.15v1.15h-1.15zM282.6 373.9h1.15v1.15h-1.15zM276.8 382.3h1.15v1.15h-1.15zM278.9 361.2h1.15v1.15h-1.15zM274.7 378.4h1.15v1.15h-1.15zM282.2 391.6h1.15v1.15h-1.15zM284.4 380.9h1.15v1.15h-1.15zM280 391.6h1.15v1.15h-1.15zM274.6 372h1.15v1.15h-1.15zM274 398.4h1.15v1.15h-1.15zM278.6 361.6h1.15v1.15h-1.15zM279.8 387.5h1.15v1.15h-1.15zM279.3 392.5h1.15v1.15h-1.15zM275.6 386.6h1.15v1.15h-1.15zM281.8 390.3h1.15v1.15h-1.15zM284.2 383h1.15v1.15h-1.15zM280.2 381.3h1.15v1.15h-1.15zM280.8 379.4h1.15v1.15h-1.15zM281 380.5h1.15v1.15h-1.15zM281.8 356.4h1.15v1.15h-1.15zM273.7 379.1h1.15v1.15h-1.15zM283.5 390.5h1.15v1.15h-1.15zM274 380.7h1.15v1.15h-1.15zM275.6 383.6h1.15v1.15h-1.15zM280.5 395.5h1.15v1.15h-1.15zM274.9 389.2h1.15v1.15h-1.15zM276.5 394.8h1.15v1.15h-1.15zM284.5 389.3h1.15v1.15h-1.15zM280.9 380.1h1.15v1.15h-1.15zM277.8 397.8h1.15v1.15h-1.15zM279.5 395.3h1.15v1.15h-1.15zM282.1 393.6h1.15v1.15h-1.15zM280.1 384.6h1.15v1.15h-1.15zM284.4 379.2h1.15v1.15h-1.15zM275.2 380.5h1.15v1.15h-1.15zM275.1 393.5h1.15v1.15h-1.15zM282 394.1h1.15v1.15h-1.15zM280.9 382.9h1.15v1.15h-1.15zM276 396h1.15v1.15h-1.15zM283.3 388.2h1.15v1.15h-1.15zM281.5 382.6h1.15v1.15h-1.15zM273.6 379.9h1.15v1.15h-1.15zM278.6 387.9h1.15v1.15h-1.15zM275.8 381.3h1.15v1.15h-1.15zM279 384.9h1.15v1.15h-1.15zM281.7 365.7h1.15v1.15h-1.15zM274.1 386.4h1.15v1.15h-1.15zM277.8 381.3h1.15v1.15h-1.15zM276.8 393.9h1.15v1.15h-1.15zM277.6 379.3h1.15v1.15h-1.15zM283.4 397.6h1.15v1.15h-1.15zM280 346.9h1.15v1.15h-1.15z" fill="#1c5e9e" fill-opacity="0.95"/>
<line x1="223.7" y1="329.6" x2="223.7" y2="403.2" stroke="#222" stroke-width="1.1"/>
<line x1="223.2" y1="402.7" x2="291" y2="402.7" stroke="#222" stroke-width="1.1"/>
<line x1="221.1" y1="400.5" x2="223.7" y2="400.5" stroke="#222" stroke-width="0.8"/>
<text x="218.5" y="402.6" font-size="5.9" text-anchor="end" fill="#333">0</text>
<line x1="221.1" y1="384.2" x2="223.7" y2="384.2" stroke="#222" stroke-width="0.8"/>
<text x="218.5" y="386.3" font-size="5.9" text-anchor="end" fill="#333">20</text>
<line x1="221.1" y1="367.9" x2="223.7" y2="367.9" stroke="#222" stroke-width="0.8"/>
<text x="218.5" y="370" font-size="5.9" text-anchor="end" fill="#333">40</text>
<line x1="221.1" y1="351.6" x2="223.7" y2="351.6" stroke="#222" stroke-width="0.8"/>
<text x="218.5" y="353.7" font-size="5.9" text-anchor="end" fill="#333">60</text>
<line x1="221.1" y1="335.3" x2="223.7" y2="335.3" stroke="#222" stroke-width="0.8"/>
<text x="218.5" y="337.4" font-size="5.9" text-anchor="end" fill="#333">80</text>
<line x1="236.4" y1="402.7" x2="236.4" y2="404.9" stroke="#222" stroke-width="0.7"/>
<line x1="258" y1="402.7" x2="258" y2="404.9" stroke="#222" stroke-width="0.7"/>
<line x1="279.6" y1="402.7" x2="279.6" y2="404.9" stroke="#222" stroke-width="0.7"/>
<text x="236.8" y="411.3" font-size="6.0" text-anchor="end" fill="#333" transform="rotate(-45 236.8 411.3)">MGUS</text>
<text x="258.4" y="411.3" font-size="6.0" text-anchor="end" fill="#333" transform="rotate(-45 258.4 411.3)">SMM</text>
<text x="280" y="411.3" font-size="6.0" text-anchor="end" fill="#333" transform="rotate(-45 280 411.3)">MM</text>
<path d="M236.4 330.8 V329.6 H279.6 V330.8" fill="none" stroke="#555" stroke-width="0.7"/>
<text x="258" y="328" font-size="6" text-anchor="middle" fill="#333">0.00011</text>
<path d="M258 339.9 V338.7 H279.6 V339.9" fill="none" stroke="#555" stroke-width="0.7"/>
<text x="268.8" y="337.1" font-size="6" text-anchor="middle" fill="#333">0.045</text>
<path d="M236.4 346.2 V345 H258 V346.2" fill="none" stroke="#555" stroke-width="0.7"/>
<text x="247.2" y="343.4" font-size="6" text-anchor="middle" fill="#333">0.053</text>
<text x="204.9" y="365.9" font-size="7.2" text-anchor="middle" fill="#222" font-weight="bold" transform="rotate(-90 204.9 365.9)" textLength="32.5" lengthAdjust="spacingAndGlyphs">Erythroblasts</text>
<text x="332.7" y="318.8" font-size="6" fill="#222">Kruskal-Wallis, <tspan font-style="italic">P</tspan> = .01419</text>
<line x1="346.4" y1="389" x2="346.4" y2="392" stroke="#7fc785" stroke-width="0.7"/>
<line x1="346.4" y1="395.2" x2="346.4" y2="398" stroke="#7fc785" stroke-width="0.7"/>
<rect x="339.2" y="392" width="14.4" height="3.2" fill="#8fd28f" stroke="#7cc67e" stroke-width="0.6"/>
<line x1="339.2" y1="393.5" x2="353.6" y2="393.5" stroke="#2f8f3a" stroke-width="0.9"/>
<path d="M349.5 392.8h1.15v1.15h-1.15zM342.8 391.9h1.15v1.15h-1.15zM342.3 394.8h1.15v1.15h-1.15zM345.4 393.6h1.15v1.15h-1.15zM346.8 392.8h1.15v1.15h-1.15zM351 392.7h1.15v1.15h-1.15zM347.2 392.5h1.15v1.15h-1.15zM344.9 389.8h1.15v1.15h-1.15zM342.8 397h1.15v1.15h-1.15zM344.2 392.4h1.15v1.15h-1.15zM350.4 395.6h1.15v1.15h-1.15zM341.7 394.2h1.15v1.15h-1.15zM349.8 391.5h1.15v1.15h-1.15zM345.4 389.9h1.15v1.15h-1.15zM343.7 389.6h1.15v1.15h-1.15zM349.2 394.4h1.15v1.15h-1.15zM349.5 393.8h1.15v1.15h-1.15zM347.5 391.8h1.15v1.15h-1.15zM345 389.9h1.15v1.15h-1.15zM342.8 392h1.15v1.15h-1.15zM341.6 397.4h1.15v1.15h-1.15zM340.7 393h1.15v1.15h-1.15zM347.9 392.4h1.15v1.15h-1.15zM347.1 392.6h1.15v1.15h-1.15zM349.5 397.4h1.15v1.15h-1.15zM347 393.2h1.15v1.15h-1.15zM344.5 393.3h1.15v1.15h-1.15zM349.9 393.6h1.15v1.15h-1.15zM350.9 396.5h1.15v1.15h-1.15zM349.4 393.3h1.15v1.15h-1.15zM345.9 391.4h1.15v1.15h-1.15zM344.7 395.2h1.15v1.15h-1.15zM346.3 389.8h1.15v1.15h-1.15zM345.3 394.1h1.15v1.15h-1.15zM344.7 390.5h1.15v1.15h-1.15zM340.9 392.4h1.15v1.15h-1.15zM343.6 391.6h1.15v1.15h-1.15zM342.5 397.3h1.15v1.15h-1.15zM345.3 392.6h1.15v1.15h-1.15zM342.1 394h1.15v1.15h-1.15zM347.4 392.3h1.15v1.15h-1.15zM349.7 393h1.15v1.15h-1.15zM341.1 392h1.15v1.15h-1.15zM343 396.5h1.15v1.15h-1.15zM345.7 388.9h1.15v1.15h-1.15zM347.7 371.6h1.15v1.15h-1.15zM346.6 387.7h1.15v1.15h-1.15z" fill="#3aae48" fill-opacity="0.95"/>
<line x1="367.8" y1="386" x2="367.8" y2="390" stroke="#ee8fa2" stroke-width="0.7"/>
<line x1="367.8" y1="394.2" x2="367.8" y2="397" stroke="#ee8fa2" stroke-width="0.7"/>
<rect x="360.6" y="390" width="14.4" height="4.2" fill="#f39aaa" stroke="#ec8598" stroke-width="0.6"/>
<line x1="360.6" y1="392" x2="375" y2="392" stroke="#c0183c" stroke-width="0.9"/>
<path d="M363.8 389.6h1.15v1.15h-1.15zM365 389h1.15v1.15h-1.15zM363.9 392.1h1.15v1.15h-1.15zM370.3 389.1h1.15v1.15h-1.15zM370.9 395.8h1.15v1.15h-1.15zM361.9 392.5h1.15v1.15h-1.15zM372.6 394.9h1.15v1.15h-1.15zM369.5 394.9h1.15v1.15h-1.15zM361.8 392h1.15v1.15h-1.15zM369.5 390.5h1.15v1.15h-1.15zM370.1 387.9h1.15v1.15h-1.15zM364.5 390h1.15v1.15h-1.15zM366.3 392.6h1.15v1.15h-1.15zM365.2 394.6h1.15v1.15h-1.15zM368.1 391.2h1.15v1.15h-1.15zM361.8 393.3h1.15v1.15h-1.15zM372 394.6h1.15v1.15h-1.15zM369.3 389.5h1.15v1.15h-1.15zM369.1 392.9h1.15v1.15h-1.15zM369.2 392.2h1.15v1.15h-1.15zM368.9 390.2h1.15v1.15h-1.15zM363.5 389.6h1.15v1.15h-1.15zM367.5 389.8h1.15v1.15h-1.15zM370 390.7h1.15v1.15h-1.15zM368.3 393.8h1.15v1.15h-1.15zM372.6 387.9h1.15v1.15h-1.15zM365.3 390.4h1.15v1.15h-1.15zM364.5 390.1h1.15v1.15h-1.15zM370.2 392.8h1.15v1.15h-1.15zM368.7 392.6h1.15v1.15h-1.15zM371.2 389.5h1.15v1.15h-1.15zM365.1 390.5h1.15v1.15h-1.15zM371.8 396.3h1.15v1.15h-1.15zM366.9 396h1.15v1.15h-1.15zM363.3 390.4h1.15v1.15h-1.15zM365.2 390h1.15v1.15h-1.15zM371.1 390.7h1.15v1.15h-1.15zM371.1 391.6h1.15v1.15h-1.15zM367.7 392.5h1.15v1.15h-1.15zM370.5 393.2h1.15v1.15h-1.15zM364 382.9h1.15v1.15h-1.15zM370.9 386.1h1.15v1.15h-1.15zM367.8 389.3h1.15v1.15h-1.15z" fill="#e6214b" fill-opacity="0.95"/>
<line x1="389.3" y1="378" x2="389.3" y2="387.5" stroke="#6e98c8" stroke-width="0.7"/>
<line x1="389.3" y1="395.2" x2="389.3" y2="399" stroke="#6e98c8" stroke-width="0.7"/>
<rect x="382.1" y="387.5" width="14.4" height="7.7" fill="#8aaed6" stroke="#7ba0cc" stroke-width="0.6"/>
<line x1="382.1" y1="391.5" x2="396.5" y2="391.5" stroke="#1d4f86" stroke-width="0.9"/>
<path d="M383.6 388.6h1.15v1.15h-1.15zM385.2 397.3h1.15v1.15h-1.15zM386.6 391.3h1.15v1.15h-1.15zM389.4 393.6h1.15v1.15h-1.15zM391.2 392.3h1.15v1.15h-1.15zM388.5 394.3h1.15v1.15h-1.15zM386.5 387.4h1.15v1.15h-1.15zM388.8 390.2h1.15v1.15h-1.15zM383.8 392.2h1.15v1.15h-1.15zM383.5 391.4h1.15v1.15h-1.15zM391.3 393.2h1.15v1.15h-1.15zM391.5 388.2h1.15v1.15h-1.15zM387.8 378.2h1.15v1.15h-1.15zM385.5 392.3h1.15v1.15h-1.15zM392 396.9h1.15v1.15h-1.15zM390.6 383.9h1.15v1.15h-1.15zM387.3 389h1.15v1.15h-1.15zM386.3 396.9h1.15v1.15h-1.15zM394 382.3h1.15v1.15h-1.15zM387 392.6h1.15v1.15h-1.15zM390.6 382h1.15v1.15h-1.15zM385.2 391h1.15v1.15h-1.15zM391.4 390.1h1.15v1.15h-1.15zM390.3 388.4h1.15v1.15h-1.15zM383.4 393.7h1.15v1.15h-1.15zM391.5 393.3h1.15v1.15h-1.15zM387.6 390.9h1.15v1.15h-1.15zM385.7 387.6h1.15v1.15h-1.15zM386.4 379.2h1.15v1.15h-1.15zM390.4 392.3h1.15v1.15h-1.15zM383.4 389.6h1.15v1.15h-1.15zM386.4 396.1h1.15v1.15h-1.15zM384.9 390.7h1.15v1.15h-1.15zM385.3 387.7h1.15v1.15h-1.15zM384.4 389.5h1.15v1.15h-1.15zM387.8 378h1.15v1.15h-1.15zM386.5 387.4h1.15v1.15h-1.15zM386.1 392.2h1.15v1.15h-1.15zM390.2 393.9h1.15v1.15h-1.15zM391.9 388.6h1.15v1.15h-1.15zM392.6 379.7h1.15v1.15h-1.15zM383.5 390.6h1.15v1.15h-1.15zM385.5 388.8h1.15v1.15h-1.15zM386.7 398.2h1.15v1.15h-1.15zM389.6 395.8h1.15v1.15h-1.15zM388.9 393.9h1.15v1.15h-1.15zM389 393h1.15v1.15h-1.15zM388.4 392.4h1.15v1.15h-1.15zM384.9 389.2h1.15v1.15h-1.15zM389.7 394.4h1.15v1.15h-1.15zM389.6 388.4h1.15v1.15h-1.15zM393.2 394.5h1.15v1.15h-1.15zM394 393.1h1.15v1.15h-1.15zM387.4 398.2h1.15v1.15h-1.15zM392 392.2h1.15v1.15h-1.15zM386.9 397.7h1.15v1.15h-1.15zM393.8 396.9h1.15v1.15h-1.15zM392.7 391.7h1.15v1.15h-1.15zM384.8 397.3h1.15v1.15h-1.15zM390.4 389.4h1.15v1.15h-1.15zM384.5 392h1.15v1.15h-1.15zM389.3 389.1h1.15v1.15h-1.15zM385.7 398.2h1.15v1.15h-1.15zM389.7 393.5h1.15v1.15h-1.15zM384.7 384.2h1.15v1.15h-1.15zM388.2 388.6h1.15v1.15h-1.15zM393.1 393.6h1.15v1.15h-1.15zM393.8 394.6h1.15v1.15h-1.15zM393.6 393.7h1.15v1.15h-1.15zM390.1 396h1.15v1.15h-1.15zM388.5 395.9h1.15v1.15h-1.15zM392 388.1h1.15v1.15h-1.15zM387.9 392.3h1.15v1.15h-1.15zM384.2 395.7h1.15v1.15h-1.15zM385.5 388.9h1.15v1.15h-1.15zM393 390.7h1.15v1.15h-1.15zM388.1 396.3h1.15v1.15h-1.15zM386.5 387.9h1.15v1.15h-1.15zM389.8 394.2h1.15v1.15h-1.15zM392 394.4h1.15v1.15h-1.15zM383.6 389.8h1.15v1.15h-1.15zM392.3 395.5h1.15v1.15h-1.15zM389.4 397.6h1.15v1.15h-1.15zM389.8 387.2h1.15v1.15h-1.15zM391.7 390.9h1.15v1.15h-1.15zM389.2 390.3h1.15v1.15h-1.15zM389.9 388.5h1.15v1.15h-1.15zM385.7 388.1h1.15v1.15h-1.15zM384.4 386h1.15v1.15h-1.15zM383.6 390.1h1.15v1.15h-1.15zM386.7 345.7h1.15v1.15h-1.15zM389.9 366.7h1.15v1.15h-1.15zM384.9 370h1.15v1.15h-1.15zM392.4 371.6h1.15v1.15h-1.15zM387 374.8h1.15v1.15h-1.15zM387.5 376.4h1.15v1.15h-1.15zM392.3 379.6h1.15v1.15h-1.15z" fill="#1c5e9e" fill-opacity="0.95"/>
<line x1="333.7" y1="328.8" x2="333.7" y2="403" stroke="#222" stroke-width="1.1"/>
<line x1="333.2" y1="402.5" x2="402" y2="402.5" stroke="#222" stroke-width="1.1"/>
<line x1="331.1" y1="399.6" x2="333.7" y2="399.6" stroke="#222" stroke-width="0.8"/>
<text x="328.5" y="401.7" font-size="5.9" text-anchor="end" fill="#333">0</text>
<line x1="331.1" y1="383.5" x2="333.7" y2="383.5" stroke="#222" stroke-width="0.8"/>
<text x="328.5" y="385.6" font-size="5.9" text-anchor="end" fill="#333">10</text>
<line x1="331.1" y1="367.3" x2="333.7" y2="367.3" stroke="#222" stroke-width="0.8"/>
<text x="328.5" y="369.4" font-size="5.9" text-anchor="end" fill="#333">20</text>
<line x1="331.1" y1="351.2" x2="333.7" y2="351.2" stroke="#222" stroke-width="0.8"/>
<text x="328.5" y="353.3" font-size="5.9" text-anchor="end" fill="#333">30</text>
<line x1="331.1" y1="335" x2="333.7" y2="335" stroke="#222" stroke-width="0.8"/>
<text x="328.5" y="337.1" font-size="5.9" text-anchor="end" fill="#333">40</text>
<line x1="346.4" y1="402.5" x2="346.4" y2="404.7" stroke="#222" stroke-width="0.7"/>
<line x1="367.8" y1="402.5" x2="367.8" y2="404.7" stroke="#222" stroke-width="0.7"/>
<line x1="389.3" y1="402.5" x2="389.3" y2="404.7" stroke="#222" stroke-width="0.7"/>
<text x="346.8" y="411.1" font-size="6.0" text-anchor="end" fill="#333" transform="rotate(-45 346.8 411.1)">MGUS</text>
<text x="368.2" y="411.1" font-size="6.0" text-anchor="end" fill="#333" transform="rotate(-45 368.2 411.1)">SMM</text>
<text x="389.7" y="411.1" font-size="6.0" text-anchor="end" fill="#333" transform="rotate(-45 389.7 411.1)">MM</text>
<path d="M346.4 331.1 V329.9 H389.3 V331.1" fill="none" stroke="#555" stroke-width="0.7"/>
<text x="367.9" y="328.3" font-size="6" text-anchor="middle" fill="#333">0.011</text>
<path d="M367.8 340 V338.8 H389.3 V340" fill="none" stroke="#555" stroke-width="0.7"/>
<text x="378.6" y="337.2" font-size="6" text-anchor="middle" fill="#333">0.58</text>
<path d="M346.4 346.5 V345.3 H367.8 V346.5" fill="none" stroke="#555" stroke-width="0.7"/>
<text x="357.1" y="343.7" font-size="6" text-anchor="middle" fill="#333">0.007</text>
<text x="314.3" y="366" font-size="7.2" text-anchor="middle" fill="#222" font-weight="bold" transform="rotate(-90 314.3 366)" textLength="26.2" lengthAdjust="spacingAndGlyphs">Monocytes</text>
<text x="437.7" y="318.8" font-size="6" fill="#222">Kruskal-Wallis, <tspan font-style="italic">P</tspan> = .006329</text>
<line x1="454.4" y1="387" x2="454.4" y2="391.3" stroke="#7fc785" stroke-width="0.7"/>
<line x1="454.4" y1="396.2" x2="454.4" y2="398.5" stroke="#7fc785" stroke-width="0.7"/>
<rect x="447.2" y="391.3" width="14.4" height="4.9" fill="#8fd28f" stroke="#7cc67e" stroke-width="0.6"/>
<line x1="447.2" y1="393.8" x2="461.6" y2="393.8" stroke="#2f8f3a" stroke-width="0.9"/>
<path d="M453.5 391.4h1.15v1.15h-1.15zM454.7 392.3h1.15v1.15h-1.15zM448.8 388.2h1.15v1.15h-1.15zM453.1 394.9h1.15v1.15h-1.15zM450.8 391.9h1.15v1.15h-1.15zM455.7 392.3h1.15v1.15h-1.15zM449.9 395.7h1.15v1.15h-1.15zM457 397.6h1.15v1.15h-1.15zM449.2 394.1h1.15v1.15h-1.15zM457.6 391.8h1.15v1.15h-1.15zM456.3 396.7h1.15v1.15h-1.15zM455.4 390.3h1.15v1.15h-1.15zM455.8 392.5h1.15v1.15h-1.15zM449.3 393h1.15v1.15h-1.15zM453 394h1.15v1.15h-1.15zM451.5 395.4h1.15v1.15h-1.15zM450.4 393.1h1.15v1.15h-1.15zM458.1 389.7h1.15v1.15h-1.15zM458.3 395.2h1.15v1.15h-1.15zM450 387.2h1.15v1.15h-1.15zM456 391.2h1.15v1.15h-1.15zM452.2 393h1.15v1.15h-1.15zM456.3 395.7h1.15v1.15h-1.15zM452.8 387.7h1.15v1.15h-1.15zM457.6 396.3h1.15v1.15h-1.15zM453.5 387.4h1.15v1.15h-1.15zM452.7 393.5h1.15v1.15h-1.15zM459.2 389.6h1.15v1.15h-1.15zM452.5 397.5h1.15v1.15h-1.15zM452.2 391.3h1.15v1.15h-1.15zM450.2 390.6h1.15v1.15h-1.15zM455.1 392.7h1.15v1.15h-1.15zM458 392h1.15v1.15h-1.15zM456.3 394.5h1.15v1.15h-1.15zM454.8 388.6h1.15v1.15h-1.15zM448.8 396.2h1.15v1.15h-1.15zM456.6 397.2h1.15v1.15h-1.15zM458 396.1h1.15v1.15h-1.15zM454.4 395.4h1.15v1.15h-1.15zM450.1 386.7h1.15v1.15h-1.15zM452.6 394h1.15v1.15h-1.15zM449.1 395.1h1.15v1.15h-1.15zM456.1 387.4h1.15v1.15h-1.15zM451.9 391.9h1.15v1.15h-1.15zM451.4 393.3h1.15v1.15h-1.15zM454.2 384.8h1.15v1.15h-1.15zM452.1 386.1h1.15v1.15h-1.15zM450.8 385.4h1.15v1.15h-1.15z" fill="#3aae48" fill-opacity="0.95"/>
<line x1="474.8" y1="385" x2="474.8" y2="390" stroke="#ee8fa2" stroke-width="0.7"/>
<line x1="474.8" y1="397.1" x2="474.8" y2="399" stroke="#ee8fa2" stroke-width="0.7"/>
<rect x="467.6" y="390" width="14.4" height="7.1" fill="#f39aaa" stroke="#ec8598" stroke-width="0.6"/>
<line x1="467.6" y1="394" x2="482" y2="394" stroke="#c0183c" stroke-width="0.9"/>
<path d="M479.2 397h1.15v1.15h-1.15zM476.6 391.3h1.15v1.15h-1.15zM476.8 386.3h1.15v1.15h-1.15zM472 396.5h1.15v1.15h-1.15zM474.7 389.5h1.15v1.15h-1.15zM473.3 391.5h1.15v1.15h-1.15zM470.8 392h1.15v1.15h-1.15zM469 394.2h1.15v1.15h-1.15zM474 385.7h1.15v1.15h-1.15zM473.2 394.2h1.15v1.15h-1.15zM474.3 392.3h1.15v1.15h-1.15zM473.4 396.4h1.15v1.15h-1.15zM472 395.4h1.15v1.15h-1.15zM470 397.3h1.15v1.15h-1.15zM470.9 391.4h1.15v1.15h-1.15zM473.9 389.1h1.15v1.15h-1.15zM472.1 397.8h1.15v1.15h-1.15zM470.8 393.6h1.15v1.15h-1.15zM471.1 397.7h1.15v1.15h-1.15zM474 398.4h1.15v1.15h-1.15zM468.9 386.7h1.15v1.15h-1.15zM478.8 391.9h1.15v1.15h-1.15zM470.5 396.2h1.15v1.15h-1.15zM469.3 389.5h1.15v1.15h-1.15zM471.2 396.6h1.15v1.15h-1.15zM471.3 396h1.15v1.15h-1.15zM476.4 394.4h1.15v1.15h-1.15zM478.2 396h1.15v1.15h-1.15zM474.7 388.5h1.15v1.15h-1.15zM475.8 396.8h1.15v1.15h-1.15zM472.2 391.8h1.15v1.15h-1.15zM477.1 395.2h1.15v1.15h-1.15zM469 393.1h1.15v1.15h-1.15zM479.3 390.6h1.15v1.15h-1.15zM471.6 393.1h1.15v1.15h-1.15zM472.1 384.5h1.15v1.15h-1.15zM472.8 394.7h1.15v1.15h-1.15zM470.1 386.1h1.15v1.15h-1.15zM470.4 390h1.15v1.15h-1.15zM471.1 393.5h1.15v1.15h-1.15zM471.7 376.5h1.15v1.15h-1.15zM474.4 378.4h1.15v1.15h-1.15zM473.8 381h1.15v1.15h-1.15zM474.1 382.9h1.15v1.15h-1.15z" fill="#e6214b" fill-opacity="0.95"/>
<line x1="495.7" y1="390" x2="495.7" y2="394.2" stroke="#6e98c8" stroke-width="0.7"/>
<line x1="495.7" y1="398" x2="495.7" y2="399.4" stroke="#6e98c8" stroke-width="0.7"/>
<rect x="488.5" y="394.2" width="14.4" height="3.8" fill="#8aaed6" stroke="#7ba0cc" stroke-width="0.6"/>
<line x1="488.5" y1="396" x2="502.9" y2="396" stroke="#1d4f86" stroke-width="0.9"/>
<path d="M489.8 394.2h1.15v1.15h-1.15zM497.4 396.6h1.15v1.15h-1.15zM493 394.9h1.15v1.15h-1.15zM497.5 391.2h1.15v1.15h-1.15zM492.1 393.8h1.15v1.15h-1.15zM499.2 395.3h1.15v1.15h-1.15zM500.6 398.4h1.15v1.15h-1.15zM490.6 393.1h1.15v1.15h-1.15zM496.4 394.2h1.15v1.15h-1.15zM490.5 394h1.15v1.15h-1.15zM494.1 396h1.15v1.15h-1.15zM497.3 396h1.15v1.15h-1.15zM491.5 398h1.15v1.15h-1.15zM491.9 389.6h1.15v1.15h-1.15zM496.5 395.9h1.15v1.15h-1.15zM495.9 395.6h1.15v1.15h-1.15zM497.6 397.5h1.15v1.15h-1.15zM491 395.1h1.15v1.15h-1.15zM498.6 398.3h1.15v1.15h-1.15zM494 394h1.15v1.15h-1.15zM498.5 394h1.15v1.15h-1.15zM490.1 395.1h1.15v1.15h-1.15zM490 398.8h1.15v1.15h-1.15zM492.4 397.3h1.15v1.15h-1.15zM499.8 397.4h1.15v1.15h-1.15zM498.4 396.2h1.15v1.15h-1.15zM493.7 393.6h1.15v1.15h-1.15zM494.5 398.8h1.15v1.15h-1.15zM496.3 395.1h1.15v1.15h-1.15zM500.1 397.1h1.15v1.15h-1.15zM493.1 393.6h1.15v1.15h-1.15zM499.2 396.5h1.15v1.15h-1.15zM492.1 397.2h1.15v1.15h-1.15zM494.6 395.1h1.15v1.15h-1.15zM497.9 397.1h1.15v1.15h-1.15zM492.7 394.5h1.15v1.15h-1.15zM498.2 396.1h1.15v1.15h-1.15zM491.8 389.8h1.15v1.15h-1.15zM494.7 397.2h1.15v1.15h-1.15zM494.7 398.6h1.15v1.15h-1.15zM496.7 396.6h1.15v1.15h-1.15zM500.1 390.6h1.15v1.15h-1.15zM496.7 396.9h1.15v1.15h-1.15zM490.5 396.9h1.15v1.15h-1.15zM498.6 395.5h1.15v1.15h-1.15zM490.6 396.6h1.15v1.15h-1.15zM497.5 395.4h1.15v1.15h-1.15zM497.2 396.9h1.15v1.15h-1.15zM493.9 395.6h1.15v1.15h-1.15zM491.6 390.7h1.15v1.15h-1.15zM498.5 394.6h1.15v1.15h-1.15zM494.2 397.8h1.15v1.15h-1.15zM492.1 393.5h1.15v1.15h-1.15zM500.6 389.7h1.15v1.15h-1.15zM490 397.3h1.15v1.15h-1.15zM498.6 398.7h1.15v1.15h-1.15zM492.2 394.2h1.15v1.15h-1.15zM492.1 393.1h1.15v1.15h-1.15zM493 396h1.15v1.15h-1.15zM490.8 396.9h1.15v1.15h-1.15zM494.8 395.2h1.15v1.15h-1.15zM498.1 392.6h1.15v1.15h-1.15zM498.3 396.7h1.15v1.15h-1.15zM497.7 394.5h1.15v1.15h-1.15zM499.4 391.7h1.15v1.15h-1.15zM498.6 394.6h1.15v1.15h-1.15zM495.9 397.7h1.15v1.15h-1.15zM494 396.4h1.15v1.15h-1.15zM497.3 396.5h1.15v1.15h-1.15zM492.5 396.3h1.15v1.15h-1.15zM493.4 394.3h1.15v1.15h-1.15zM493.1 394h1.15v1.15h-1.15zM495.2 394.9h1.15v1.15h-1.15zM492.9 393h1.15v1.15h-1.15zM499.4 394h1.15v1.15h-1.15zM499.6 398.5h1.15v1.15h-1.15zM490.6 394.3h1.15v1.15h-1.15zM490.6 396.5h1.15v1.15h-1.15zM492 393.9h1.15v1.15h-1.15zM500 396.1h1.15v1.15h-1.15zM490.3 394.5h1.15v1.15h-1.15zM489.6 393.8h1.15v1.15h-1.15zM494.6 395.7h1.15v1.15h-1.15zM490.6 391.5h1.15v1.15h-1.15zM500.4 396.3h1.15v1.15h-1.15zM497.1 347.1h1.15v1.15h-1.15zM493 356.1h1.15v1.15h-1.15zM493.9 386.1h1.15v1.15h-1.15zM494.6 387.3h1.15v1.15h-1.15zM494.6 388.6h1.15v1.15h-1.15z" fill="#1c5e9e" fill-opacity="0.95"/>
<line x1="441.5" y1="329.8" x2="441.5" y2="402.7" stroke="#222" stroke-width="1.1"/>
<line x1="441" y1="402.2" x2="507.5" y2="402.2" stroke="#222" stroke-width="1.1"/>
<line x1="438.9" y1="399.4" x2="441.5" y2="399.4" stroke="#222" stroke-width="0.8"/>
<text x="436.3" y="401.5" font-size="5.9" text-anchor="end" fill="#333">0.0</text>
<line x1="438.9" y1="383.4" x2="441.5" y2="383.4" stroke="#222" stroke-width="0.8"/>
<text x="436.3" y="385.6" font-size="5.9" text-anchor="end" fill="#333">2.5</text>
<line x1="438.9" y1="367.5" x2="441.5" y2="367.5" stroke="#222" stroke-width="0.8"/>
<text x="436.3" y="369.6" font-size="5.9" text-anchor="end" fill="#333">5.0</text>
<line x1="438.9" y1="351.5" x2="441.5" y2="351.5" stroke="#222" stroke-width="0.8"/>
<text x="436.3" y="353.6" font-size="5.9" text-anchor="end" fill="#333">7.5</text>
<line x1="438.9" y1="335.6" x2="441.5" y2="335.6" stroke="#222" stroke-width="0.8"/>
<text x="436.3" y="337.7" font-size="5.9" text-anchor="end" fill="#333">10.0</text>
<line x1="454.4" y1="402.2" x2="454.4" y2="404.4" stroke="#222" stroke-width="0.7"/>
<line x1="474.8" y1="402.2" x2="474.8" y2="404.4" stroke="#222" stroke-width="0.7"/>
<line x1="495.7" y1="402.2" x2="495.7" y2="404.4" stroke="#222" stroke-width="0.7"/>
<text x="454.8" y="410.8" font-size="6.0" text-anchor="end" fill="#333" transform="rotate(-45 454.8 410.8)">MGUS</text>
<text x="475.2" y="410.8" font-size="6.0" text-anchor="end" fill="#333" transform="rotate(-45 475.2 410.8)">SMM</text>
<text x="496.1" y="410.8" font-size="6.0" text-anchor="end" fill="#333" transform="rotate(-45 496.1 410.8)">MM</text>
<path d="M454.4 331.1 V329.9 H495.7 V331.1" fill="none" stroke="#555" stroke-width="0.7"/>
<text x="475" y="328.3" font-size="6" text-anchor="middle" fill="#333">4.7e−05</text>
<path d="M474.8 340 V338.8 H495.7 V340" fill="none" stroke="#555" stroke-width="0.7"/>
<text x="485.2" y="337.2" font-size="6" text-anchor="middle" fill="#333">0.012</text>
<path d="M454.4 346.5 V345.3 H474.8 V346.5" fill="none" stroke="#555" stroke-width="0.7"/>
<text x="464.6" y="343.7" font-size="6" text-anchor="middle" fill="#333">0.33</text>
<text x="418.8" y="365.9" font-size="7.2" text-anchor="middle" fill="#222" font-weight="bold" transform="rotate(-90 418.8 365.9)" textLength="12" lengthAdjust="spacingAndGlyphs">MLR</text>
<text x="219.7" y="449.3" font-size="6" fill="#222">Kruskal-Wallis, <tspan font-style="italic">P</tspan> = .0004519</text>
<line x1="236.4" y1="503" x2="236.4" y2="520" stroke="#7fc785" stroke-width="0.7"/>
<line x1="236.4" y1="530.8" x2="236.4" y2="531.5" stroke="#7fc785" stroke-width="0.7"/>
<rect x="229.2" y="520" width="14.4" height="10.8" fill="#8fd28f" stroke="#7cc67e" stroke-width="0.6"/>
<line x1="229.2" y1="527" x2="243.6" y2="527" stroke="#2f8f3a" stroke-width="0.9"/>
<path d="M230.6 521.1h1.15v1.15h-1.15zM241.1 519h1.15v1.15h-1.15zM232.6 526.8h1.15v1.15h-1.15zM234 519.5h1.15v1.15h-1.15zM232.9 530.6h1.15v1.15h-1.15zM232.5 525.3h1.15v1.15h-1.15zM235.2 529.5h1.15v1.15h-1.15zM231.7 514.7h1.15v1.15h-1.15zM235.2 514.2h1.15v1.15h-1.15zM232.4 526.5h1.15v1.15h-1.15zM234.9 521.1h1.15v1.15h-1.15zM236 512.6h1.15v1.15h-1.15zM237 526.5h1.15v1.15h-1.15zM237 521.7h1.15v1.15h-1.15zM235.7 517.2h1.15v1.15h-1.15zM230.8 525.8h1.15v1.15h-1.15zM241 527.9h1.15v1.15h-1.15zM235.6 521.6h1.15v1.15h-1.15zM231.5 529.8h1.15v1.15h-1.15zM239.1 524.7h1.15v1.15h-1.15zM238.1 523.5h1.15v1.15h-1.15zM231.1 521.4h1.15v1.15h-1.15zM236.2 530.6h1.15v1.15h-1.15zM234.7 530.8h1.15v1.15h-1.15zM231.2 529.4h1.15v1.15h-1.15zM238 505.1h1.15v1.15h-1.15z" fill="#3aae48" fill-opacity="0.95"/>
<line x1="258.4" y1="513" x2="258.4" y2="522.7" stroke="#ee8fa2" stroke-width="0.7"/>
<line x1="258.4" y1="530" x2="258.4" y2="531.5" stroke="#ee8fa2" stroke-width="0.7"/>
<rect x="251.2" y="522.7" width="14.4" height="7.3" fill="#f39aaa" stroke="#ec8598" stroke-width="0.6"/>
<line x1="251.2" y1="525.5" x2="265.6" y2="525.5" stroke="#c0183c" stroke-width="0.9"/>
<path d="M255.1 526h1.15v1.15h-1.15zM255.9 515.4h1.15v1.15h-1.15zM261.5 528.6h1.15v1.15h-1.15zM255.5 523.2h1.15v1.15h-1.15zM261.7 525.8h1.15v1.15h-1.15zM263.1 530.2h1.15v1.15h-1.15zM255.2 524.4h1.15v1.15h-1.15zM253.7 525.5h1.15v1.15h-1.15zM262 529.2h1.15v1.15h-1.15zM257.7 528.4h1.15v1.15h-1.15zM254.5 527.2h1.15v1.15h-1.15zM255.6 525.8h1.15v1.15h-1.15zM259.4 523.4h1.15v1.15h-1.15zM252.9 525.4h1.15v1.15h-1.15zM261.4 522.8h1.15v1.15h-1.15zM255.6 528h1.15v1.15h-1.15zM253.9 515.6h1.15v1.15h-1.15zM261.3 523.9h1.15v1.15h-1.15zM258.8 524.1h1.15v1.15h-1.15zM253.2 524.1h1.15v1.15h-1.15zM254.1 523.7h1.15v1.15h-1.15zM258.9 525.4h1.15v1.15h-1.15zM259.1 527.1h1.15v1.15h-1.15zM253.9 528.4h1.15v1.15h-1.15zM262.3 522.2h1.15v1.15h-1.15zM261.6 516.4h1.15v1.15h-1.15zM262.2 528.9h1.15v1.15h-1.15zM256.9 524.2h1.15v1.15h-1.15zM256.3 517h1.15v1.15h-1.15zM262.5 524.9h1.15v1.15h-1.15zM262.2 527.9h1.15v1.15h-1.15zM257.8 519.5h1.15v1.15h-1.15zM261.2 529h1.15v1.15h-1.15zM259.5 529.5h1.15v1.15h-1.15zM255.9 529.6h1.15v1.15h-1.15zM253.5 524h1.15v1.15h-1.15zM252.5 525.5h1.15v1.15h-1.15zM255.4 530.1h1.15v1.15h-1.15zM258.9 524.4h1.15v1.15h-1.15zM260.2 530.1h1.15v1.15h-1.15zM258.4 491.7h1.15v1.15h-1.15zM260.3 497.9h1.15v1.15h-1.15zM259.7 510.3h1.15v1.15h-1.15zM259.9 512.3h1.15v1.15h-1.15z" fill="#e6214b" fill-opacity="0.95"/>
<line x1="280.6" y1="524" x2="280.6" y2="527.3" stroke="#6e98c8" stroke-width="0.7"/>
<line x1="280.6" y1="530.8" x2="280.6" y2="531.5" stroke="#6e98c8" stroke-width="0.7"/>
<rect x="273.4" y="527.3" width="14.4" height="3.5" fill="#8aaed6" stroke="#7ba0cc" stroke-width="0.6"/>
<line x1="273.4" y1="529.5" x2="287.8" y2="529.5" stroke="#1d4f86" stroke-width="0.9"/>
<path d="M275.8 528h1.15v1.15h-1.15zM284.7 530.3h1.15v1.15h-1.15zM282.2 527.3h1.15v1.15h-1.15zM279.4 528h1.15v1.15h-1.15zM281.8 528.5h1.15v1.15h-1.15zM281.4 530.9h1.15v1.15h-1.15zM278.3 528.5h1.15v1.15h-1.15zM282.2 530.6h1.15v1.15h-1.15zM284.3 530.7h1.15v1.15h-1.15zM284.3 529.2h1.15v1.15h-1.15zM277.6 529.6h1.15v1.15h-1.15zM280.6 529.7h1.15v1.15h-1.15zM277.4 525.4h1.15v1.15h-1.15zM277.3 529.9h1.15v1.15h-1.15zM282.4 528.6h1.15v1.15h-1.15zM283.1 526.9h1.15v1.15h-1.15zM284.7 527.9h1.15v1.15h-1.15zM275.5 529.4h1.15v1.15h-1.15zM282 529.4h1.15v1.15h-1.15zM274.8 530.7h1.15v1.15h-1.15zM277.2 530.3h1.15v1.15h-1.15zM275.6 528.5h1.15v1.15h-1.15zM278.2 527.2h1.15v1.15h-1.15zM283.4 527.1h1.15v1.15h-1.15zM284.3 527.4h1.15v1.15h-1.15zM277.9 530h1.15v1.15h-1.15zM279 528.6h1.15v1.15h-1.15zM283.3 524.8h1.15v1.15h-1.15zM283.8 527.9h1.15v1.15h-1.15zM281.1 523.5h1.15v1.15h-1.15zM279 530.6h1.15v1.15h-1.15zM279.7 530.3h1.15v1.15h-1.15zM283.2 529.8h1.15v1.15h-1.15zM280.5 529.5h1.15v1.15h-1.15zM283 527.6h1.15v1.15h-1.15zM277.4 530.2h1.15v1.15h-1.15zM277.4 529.5h1.15v1.15h-1.15zM276.4 530.8h1.15v1.15h-1.15zM277.5 530.4h1.15v1.15h-1.15zM281.5 529.5h1.15v1.15h-1.15zM283.5 529.1h1.15v1.15h-1.15zM280.3 529.8h1.15v1.15h-1.15zM276.9 529.7h1.15v1.15h-1.15zM274.7 529.2h1.15v1.15h-1.15zM279.5 528.6h1.15v1.15h-1.15zM275.8 529.7h1.15v1.15h-1.15zM275.4 530.4h1.15v1.15h-1.15zM279.6 527.2h1.15v1.15h-1.15zM276 528.3h1.15v1.15h-1.15zM279.4 524.1h1.15v1.15h-1.15zM275.9 529.1h1.15v1.15h-1.15zM275.4 530.5h1.15v1.15h-1.15zM278.5 528.9h1.15v1.15h-1.15zM283.5 530.4h1.15v1.15h-1.15zM275.2 526.1h1.15v1.15h-1.15zM278.7 528.6h1.15v1.15h-1.15zM275.8 528.8h1.15v1.15h-1.15zM285.5 528.2h1.15v1.15h-1.15zM281.9 530.1h1.15v1.15h-1.15zM280.9 529.9h1.15v1.15h-1.15zM283.3 530.6h1.15v1.15h-1.15zM284.8 523.4h1.15v1.15h-1.15zM275.3 529h1.15v1.15h-1.15zM276 530.5h1.15v1.15h-1.15zM284.4 530.4h1.15v1.15h-1.15zM279.4 528.7h1.15v1.15h-1.15zM280.2 530.5h1.15v1.15h-1.15zM275.7 527.9h1.15v1.15h-1.15zM282.1 527.7h1.15v1.15h-1.15zM285.2 527.3h1.15v1.15h-1.15zM281.2 487.6h1.15v1.15h-1.15zM276.7 512.3h1.15v1.15h-1.15zM282.9 513.4h1.15v1.15h-1.15zM282.1 515.4h1.15v1.15h-1.15zM280.9 518.5h1.15v1.15h-1.15z" fill="#1c5e9e" fill-opacity="0.95"/>
<line x1="223.8" y1="460.4" x2="223.8" y2="535.7" stroke="#222" stroke-width="1.1"/>
<line x1="223.3" y1="535.2" x2="293" y2="535.2" stroke="#222" stroke-width="1.1"/>
<line x1="221.2" y1="531.5" x2="223.8" y2="531.5" stroke="#222" stroke-width="0.8"/>
<text x="218.6" y="533.6" font-size="5.9" text-anchor="end" fill="#333">0</text>
<line x1="221.2" y1="510.9" x2="223.8" y2="510.9" stroke="#222" stroke-width="0.8"/>
<text x="218.6" y="513" font-size="5.9" text-anchor="end" fill="#333">20</text>
<line x1="221.2" y1="490.2" x2="223.8" y2="490.2" stroke="#222" stroke-width="0.8"/>
<text x="218.6" y="492.3" font-size="5.9" text-anchor="end" fill="#333">40</text>
<line x1="221.2" y1="469.6" x2="223.8" y2="469.6" stroke="#222" stroke-width="0.8"/>
<text x="218.6" y="471.7" font-size="5.9" text-anchor="end" fill="#333">60</text>
<line x1="236.4" y1="535.2" x2="236.4" y2="537.4" stroke="#222" stroke-width="0.7"/>
<line x1="258.4" y1="535.2" x2="258.4" y2="537.4" stroke="#222" stroke-width="0.7"/>
<line x1="280.6" y1="535.2" x2="280.6" y2="537.4" stroke="#222" stroke-width="0.7"/>
<text x="236.8" y="543.8" font-size="6.0" text-anchor="end" fill="#333" transform="rotate(-45 236.8 543.8)">MGUS</text>
<text x="258.8" y="543.8" font-size="6.0" text-anchor="end" fill="#333" transform="rotate(-45 258.8 543.8)">SMM</text>
<text x="281" y="543.8" font-size="6.0" text-anchor="end" fill="#333" transform="rotate(-45 281 543.8)">MM</text>
<path d="M236.4 462.1 V460.9 H280.6 V462.1" fill="none" stroke="#555" stroke-width="0.7"/>
<text x="258.5" y="459.3" font-size="6" text-anchor="middle" fill="#333">0.0023</text>
<path d="M258.4 471.5 V470.3 H280.6 V471.5" fill="none" stroke="#555" stroke-width="0.7"/>
<text x="269.5" y="468.7" font-size="6" text-anchor="middle" fill="#333">0.00098</text>
<path d="M236.4 477.7 V476.5 H258.4 V477.7" fill="none" stroke="#555" stroke-width="0.7"/>
<text x="247.4" y="474.9" font-size="6" text-anchor="middle" fill="#333">0.79</text>
<text x="185.4" y="498" font-size="7.0" text-anchor="middle" fill="#222" transform="rotate(-90 185.4 498)" textLength="42.2" lengthAdjust="spacingAndGlyphs">Immature B cells</text>
<text x="195" y="498" font-size="7.0" text-anchor="middle" fill="#222" transform="rotate(-90 195 498)" textLength="51.2" lengthAdjust="spacingAndGlyphs">(CD38+ CD28− CD27−</text>
<text x="204.3" y="497.8" font-size="7.0" text-anchor="middle" fill="#222" transform="rotate(-90 204.3 497.8)" textLength="37.7" lengthAdjust="spacingAndGlyphs">CD81+ CD117−)</text>
<text x="6.7" y="450" font-size="10" text-anchor="start" fill="#111" font-weight="bold">D</text>
<path d="M49.6 458.5C53.9 455 62.2 453.4 68.5 453C74.8 452.6 83 453.6 87.3 455.8C91.5 458.1 92.8 462.5 94 466.5C95.2 470.5 94.6 475.4 94.5 480C94.4 484.6 93.4 489.5 93.5 494C93.6 498.5 93.8 503 95 507C96.2 511 97.6 514.6 100.8 518C104 521.4 109.7 524.4 114.2 527.5C118.7 530.6 124.7 533.1 127.7 536.5C130.8 539.9 132.5 544.3 132.5 548C132.5 551.7 131.6 556.3 127.7 558.5C123.8 560.7 115.6 561.2 108.9 561C102.2 560.8 93.2 559.7 87.3 557.5C81.4 555.3 76.5 552.1 73.5 548C70.5 543.9 69.6 537.5 69 533C68.4 528.5 70.1 523.9 69.8 521C69.5 518.1 68.6 516.7 67 515.5C65.4 514.3 63.3 514.9 60.4 513.7C57.5 512.5 52.5 511.6 49.6 508.3C46.7 505 44.3 499.7 43.2 494C42.1 488.3 41.8 479.9 42.9 474C44 468.1 45.3 462 49.6 458.5Z" fill="none" stroke="#555" stroke-width="0.8"/>
<path d="M104.5 476.5C106.1 474.8 108.8 472.6 111.5 472.3C114.2 472 118.3 472.7 121 474.6C123.7 476.5 125.2 481.7 127.7 483.5C130.2 485.3 133.7 484.3 136 485.6C138.3 486.9 140.4 488.7 141.3 491.5C142.2 494.3 142.6 499.7 141.2 502.5C139.8 505.3 135.7 507.7 133 508.2C130.3 508.7 127.7 506.2 125 505.3C122.3 504.4 120.2 503.3 117 502.7C113.8 502.1 108.5 503 106 501.5C103.5 500 102.7 496.6 102 493.5C101.3 490.4 101.6 485.5 102 482.7C102.4 479.9 102.9 478.2 104.5 476.5Z" fill="none" stroke="#555" stroke-width="0.8"/>
<text x="32.3" y="461" font-size="5.6" text-anchor="start" fill="#222">T cells</text>
<text x="130.4" y="477.3" font-size="5.8" text-anchor="start" fill="#222">B cells</text>
<path d="M52 463C53.8 461 57 459.1 60 458C63 456.9 66.7 456.6 70 456.5C73.3 456.4 77.2 456.7 80 457.5C82.8 458.3 85 459.4 86.5 461.5C88 463.6 88.4 466.9 88.7 470C89 473.1 88.8 476.7 88.5 480C88.2 483.3 87.8 487 87 490C86.2 493 85.2 495.8 84 498C82.8 500.2 82 502.3 80 503.5C78 504.7 74.7 505.1 72 505C69.3 504.9 66.7 504 64 503C61.3 502 58.2 500.8 56 499C53.8 497.2 52.1 495.2 51 492C49.9 488.8 49.8 483.7 49.5 480C49.2 476.3 48.6 472.8 49 470C49.4 467.2 50.2 465 52 463Z" fill="#9ea2da" filter="url(#soft)"/>
<path d="M87.2 482.4h0M52.6 479h0M71 496.9h0M52.8 474.1h0M50.7 485.2h0M56.2 467.4h0M61.8 468.5h0M60.7 467.4h0M62.7 485.2h0M71.3 491.9h0M71.7 471.7h0M57.3 476.3h0M86.6 485.6h0M77.5 458.6h0M70.6 490.4h0M83.3 493.4h0M67.7 501.5h0M52.3 487.9h0M53.7 477.1h0M54.2 471.1h0M51.1 482.7h0M52.6 468.3h0M79.9 470.7h0M72 498.5h0M74.3 496.2h0M86 468.4h0M85.4 472.1h0M58 498.4h0M57.9 493.8h0M54.1 480.8h0M71.8 483.6h0M77.1 497.9h0M69.7 467.9h0M80.7 477.4h0M59.4 494h0M79.3 496.5h0M68.6 457.2h0M49.9 483.3h0M50.5 486.6h0M54.3 494.1h0M67.8 481.6h0M82.7 470.2h0M87.6 470.8h0M50.5 470.1h0M63.6 485.5h0M79.9 492.7h0M76.2 498h0M56.1 476.5h0M67.7 496.8h0M59 485.7h0M78.6 473.1h0M59.6 460.6h0M73.9 476.4h0M56.9 472h0M61.7 462.6h0M72.5 464h0M57.6 474h0M57.4 497.5h0M86.3 472.5h0M80.7 487h0M71 500.4h0M75.6 487.9h0M86.2 478.6h0M77.7 479.3h0M59.1 466.2h0M71.8 457.5h0M60.8 477.9h0M56.8 489.8h0M79.1 496.9h0M70.7 493.1h0M80.6 491.8h0M61.6 484.4h0M81.7 468.5h0M72.9 462.1h0M66.7 465.6h0M78.3 485h0M68.2 488h0M81.2 465.7h0M70.5 469.6h0M56.4 467.1h0M80.3 501.8h0M66.2 465h0M56 471.4h0M63.8 499.4h0M69.9 480.3h0M73.9 465.1h0M63.7 477.9h0M51.6 471.3h0M71.7 485.7h0M59.6 460h0M71.7 464h0M78 501.9h0M61.6 493.9h0M82.8 487h0M50.3 469.8h0M63.9 477.8h0M71.7 465.5h0M65 462.2h0M82.5 467.5h0M69.2 484.5h0M50.6 483h0M80.8 468.1h0M74 491.6h0M71.3 473.8h0M69.3 488.9h0M66.4 492.2h0M78.7 492.9h0M66.2 463.6h0M55.9 470.9h0M71.3 459.4h0M61.3 463.7h0M70.3 466.2h0M81.7 459.6h0M63.2 492.7h0M82.1 475.5h0M71.3 472.5h0M56.7 489.9h0M51.4 488h0M58.1 465.6h0M73.4 475.4h0M80.4 475.3h0M80 486.5h0M72.8 468.3h0M61.9 488.4h0M74.8 490.1h0M82.2 461.9h0M56 479.5h0M60.1 462.8h0M66 463h0M76.9 487.8h0M62.7 495.5h0M50.8 476.8h0M54.9 479.8h0M62.9 459.8h0M82.3 494.9h0M72.3 476.7h0M71.1 480.8h0M71.6 472h0M81.4 481.7h0M58.4 484.9h0M79.9 480.7h0M61.9 482.9h0M76.4 465.4h0M84.2 476.4h0M65.6 481.7h0M79.2 464.8h0M56.3 480.2h0M49.6 477.6h0M54.1 466.1h0M63.5 500h0M73.3 470.1h0M74.3 481.2h0M76.9 495.6h0M69.4 475h0M66.7 496.2h0M66.3 482.8h0M79.1 498.6h0M72.2 482.1h0M53 474.7h0M56.6 494h0M75.6 463.1h0M72 498.9h0M82.7 474.8h0M63.5 482.2h0M86.6 474h0M59.4 485.6h0M64.8 466.6h0M52.3 475.6h0M81.7 495.5h0M67 476.1h0M54.5 495.2h0M79.1 467.1h0M75.6 499.8h0M63.3 467.7h0M78.6 486.7h0M61.9 490.7h0M56.4 479.8h0M79.6 473.4h0M54 489.3h0M76.2 486h0M85 474.5h0M69.3 478.4h0M83 472.5h0M58.6 474.4h0M81.7 492.5h0M56.4 496.1h0M88.2 472.8h0M80.3 490.1h0M73.5 467.7h0M62.2 496.4h0M82.9 498.1h0M78.1 491.7h0M61.8 501.2h0M52.6 465.4h0M83.4 483h0M86.9 472.6h0M84.1 495.7h0M66 488.2h0M60.2 466.2h0M68.3 479.7h0M68.4 491.4h0M56.3 495.1h0M61.9 475.9h0M84.6 492.4h0M77.9 495h0M65.8 473.3h0M69.7 497.6h0M55.9 490.5h0M67.9 502.3h0M77.2 501.2h0M65.4 478.9h0M58.9 466.6h0M61.4 466.9h0M73.8 484.1h0M78.3 492.9h0M87.5 482.1h0M73.4 482.2h0M68 473h0M61.3 472.6h0M69.2 478.1h0M70.7 488.9h0M88.3 471.9h0M73.2 484.7h0M66.9 478.8h0M68 473.3h0M62.3 484.5h0M65.5 488.6h0M71.1 482.3h0M69.6 470h0M78.4 472.3h0M62.1 487.8h0M77 496.9h0M86.9 483.5h0M50.8 488.8h0M63.1 485.9h0M55.9 475.8h0M58.7 489.4h0M86.6 474.3h0M69 487.4h0M79.3 473.9h0M59.6 488.2h0M61.3 480.6h0M74 483.5h0M87.6 473.4h0M57.5 476.2h0M51.4 464.9h0M58.4 494.3h0M76.5 464.5h0M80.4 498.5h0M81.4 473.4h0M81.5 469.1h0M86 463.3h0M64.6 471.3h0M81.6 493.6h0M70.1 482.6h0M60.6 485h0M86.9 478.6h0M67.4 484.9h0M64.1 501.5h0M57.5 480.1h0M76.4 492.7h0M61.2 462.4h0M76.4 462.6h0M84 496h0M69.1 499.7h0M79.9 489.1h0M59.3 460.9h0M75.8 490.5h0M86.5 475.1h0M63.4 498.3h0M65.4 495.2h0M57.3 482.8h0M78.9 491.4h0M76.6 460.8h0M81.5 483.9h0M73.7 467.3h0M80.3 493.4h0M65.5 498.2h0M58.2 474.6h0M54.6 463.9h0M69.5 479.9h0M74.2 481.6h0M59.9 476.8h0M85.1 477.1h0M69 501.2h0M64.8 497.9h0M51.7 490.9h0M53.8 469.8h0M84.5 495h0M68.8 461.9h0M69.7 500.1h0M72.4 457.6h0M77.3 486.8h0M75.9 493.6h0M61.9 464.1h0M59.9 467.6h0M71.1 469.8h0M58.1 486.8h0M66.8 460.5h0M64.4 470.1h0M80.7 468.1h0M74.4 489.2h0M65.6 458.7h0M70.2 461.8h0M84.6 469.7h0M62.7 473h0M74.2 471.2h0M67.6 488.1h0M59.9 463h0M74.9 488.1h0M82.6 485.3h0M75.8 503.8h0M57.1 475.7h0M72.3 498.9h0M75.1 473h0M77.2 469.6h0M69 486.9h0M79.8 468.4h0M78.9 482.8h0M73.9 461.1h0M69.9 461h0M74 494.9h0M64.2 477.5h0M73.8 483.6h0M76.2 473.4h0M51.2 489.3h0M57.9 490.7h0M74.9 498.2h0M51.4 479.9h0M62.5 473.1h0M59.2 496.9h0M67.1 483.2h0M53.7 483.5h0M74.1 462.5h0M62.4 469.4h0M70.9 460.4h0M88 475.4h0M78.8 500.1h0M66.5 474.7h0M73.7 471.3h0M74.5 480.7h0M67.3 495.1h0M78.4 470.1h0M61.4 476.4h0M51.2 476.8h0M53.6 488.8h0M62.2 472.3h0M57.7 468.6h0M58.1 499.5h0M67.1 483h0M72.8 464.7h0M57.5 477.3h0M85.1 494h0M80.2 484.6h0M56.8 488.1h0M72 463.8h0M51.3 482h0M85.4 472.4h0M74.3 461.6h0M60.9 491.4h0M78.4 477.4h0M60.4 462.2h0M81.8 492.3h0M58.1 488.5h0M69.3 484h0M65.5 484h0M71.2 472h0M63.6 464.4h0M74 496.3h0M58.1 485.1h0M64.5 465.3h0M78.5 463h0M60.2 481.2h0M56.8 484.7h0M67.8 467.3h0M75.9 487.5h0M86.7 472.8h0M79.8 486.7h0M71.7 458.3h0M61.2 477.3h0M81.7 461.9h0M71.2 468.1h0M69.9 475.5h0M59.6 478.7h0M67.3 462.7h0M78.5 464.5h0M78.5 494.1h0M85.6 481.7h0M78.7 494.9h0M81.4 485.9h0M84.5 492.6h0M64.2 474.4h0M64 501.3h0M80.5 490.2h0M62.4 469.8h0M60.5 489.8h0M67.4 467.3h0M54.8 495.8h0M56.6 464.8h0M70.1 459.1h0M65.1 466.4h0M83.1 483.4h0M68.6 479.2h0M71.4 494.6h0M83.8 469.2h0M66.2 461.8h0M77 478.8h0M61.5 466.8h0M66.1 470.5h0M68.4 484.2h0M65.1 485.3h0M65.4 480.7h0M68.3 497.4h0M84.5 484.9h0M79.1 471.1h0M55.5 471.8h0M54.5 493.6h0M85.4 487.6h0M57.7 462.8h0M79.6 484.3h0M78.9 503.2h0M55.3 473.3h0M70.3 487.4h0M55 469.7h0M79.7 503.4h0M67.9 501.7h0M56.5 475.1h0M75.3 495.9h0M82 462.3h0M75.9 457.7h0M61.3 459h0M69.3 462.6h0M75.2 476.3h0M81.2 472.2h0M52.2 480.8h0M68.9 497.5h0M58.7 477.5h0M81.6 488.7h0M58.4 475.3h0M79.5 483.5h0M53.3 474h0M50 478.6h0M58.2 471.1h0M62.5 498.5h0M54.2 477.3h0M66.3 501.6h0M77.9 469.5h0M54.2 483.1h0M82 467.4h0M79.4 474.2h0M55.9 495.6h0M72.5 475.3h0M69.6 500.4h0M68.1 483.9h0M68.6 457.7h0M79.1 461.6h0M71.5 468.9h0M76.2 486.8h0M78.6 496.3h0M58.1 480h0M85.8 475.7h0M57.2 481.9h0M61.5 460.3h0M81.1 478.6h0M82.5 461.6h0M62.4 462.2h0M82.6 478.2h0M73 459h0M66.5 475.3h0M77 468h0M88.1 472.5h0M69.4 479.3h0M62.6 459.3h0M54.3 465.9h0M61.7 458.1h0M62.6 470.2h0M62 497.1h0M61.2 459.9h0M79.3 491.8h0M81.4 474.5h0M81.3 461.3h0M77.7 490.1h0M71.5 486.3h0M67.4 477.3h0M67.9 486h0M82.6 472.8h0M71.1 475.4h0M55.8 490.7h0M78.6 477.6h0M60.9 480.2h0M86 487.8h0M63.3 502.5h0M58.7 461.1h0M78.1 495.4h0M80.6 475.7h0M76.1 466.7h0M70.9 490.9h0M63.4 475.8h0M85.8 492.6h0M86.3 463.8h0M65.4 501h0M84.2 469.3h0M77.3 461.6h0M67.2 457.1h0M66.2 465.9h0M65.3 489h0M75.8 499.3h0M86.1 471.4h0M62.2 476.8h0M59.1 497.4h0M80.5 488.7h0M74.7 470.7h0M60 493.4h0M54.7 466.6h0M79.2 500.7h0M69.2 462.6h0M70.7 467.7h0M74.7 487h0M83.2 489.2h0M78 498.6h0M82.2 480.5h0M56.8 466.8h0M73.4 483h0M65.8 480.7h0M57.3 476.7h0M72.6 493h0M77 461.5h0M57.3 479.9h0M79.7 469.9h0M78.3 467.6h0M61 497.7h0M56.8 497.3h0M70.9 457.7h0M67.7 482.7h0M54 474.6h0M68.3 479.5h0M85.6 475.3h0M84.6 470.7h0M78.6 464h0M72.2 492.7h0M81.8 459h0M78.5 464h0M87.4 471.3h0M82.9 464.5h0M80.4 491.6h0M66 467.7h0M74.3 497.7h0M78.3 491h0M51.5 478.9h0M60.5 482.4h0M75.5 485.6h0M49.1 471.4h0M60.3 476.9h0M60.3 465.8h0M57.8 480.3h0M84 467h0M87.2 488.7h0M78.9 500.9h0M56.7 487.1h0M63.3 464.6h0M59.9 487.9h0M82.6 496h0M71.9 477.9h0M77.9 485.1h0M78.1 461.7h0M81.2 494.1h0M64.1 501.5h0M74.1 481.3h0M50.6 480h0M64.1 477.7h0M62.7 497.7h0M63.7 461.2h0M59 497.1h0M69.5 473.5h0M65.5 463.2h0M61.8 461.9h0M83.7 491h0M61.8 488h0M55.9 478.8h0M74.7 478h0M70 478.7h0M65.3 484.3h0M64.7 470.9h0M65.5 494.4h0M55.1 479.4h0M49.3 473.4h0M58.4 492.2h0M68.9 461.1h0M60.3 476.4h0M70.8 488.9h0M73.6 495.9h0M63.7 488h0M57.6 467.5h0M59.6 476.1h0M60.8 485.5h0M50.6 471.8h0M73 495h0M80.3 477.4h0M73.8 457.7h0M85.7 488.8h0M80.5 461.7h0M65.4 471h0M82.4 493.4h0M57.2 463h0M71.3 477.8h0M85 491.1h0M61.6 463.9h0M77 458h0M60.6 460.5h0M82.6 483.2h0M74.6 487.1h0M80.2 496.8h0M59 462h0M74.9 458.8h0M80.8 469h0M70 459.1h0M66.7 496.4h0M56.8 464.2h0M63.1 473.5h0M62.2 472.2h0M51.8 487.6h0M68.5 486.2h0M61.9 500.3h0M79.7 483.4h0M64.2 497.8h0M66.3 476.7h0M71.5 459.3h0M68.7 460.5h0M53.8 466.8h0M75.4 482.9h0M65.1 476.3h0M58 476.4h0M58.5 466.1h0M63.1 485.2h0M81.6 483.6h0M79.2 487.1h0M49.3 474.3h0M54.2 489.8h0M63.4 477.5h0M60 463.3h0M63.8 471.9h0M56.5 490.3h0M86.7 462.4h0M70.7 493.7h0M80.5 490.2h0M53.8 469.5h0M74.5 473.5h0M71.5 480.8h0M59.4 482.5h0M87 464.5h0M66.3 485.3h0M76.2 494h0M62.1 493h0M63.3 494.3h0M69.2 484.3h0M84.5 465.1h0M68.8 473.3h0M56.8 464.5h0M54.4 494.3h0M77 472.4h0M68.4 473.8h0M68.6 458.4h0M61.7 490.5h0M73.6 479.1h0M73.7 490.2h0M71.8 494.6h0M60.9 467.6h0M67.3 494.7h0M68.8 456.8h0M67.4 499.9h0M55.6 484.3h0M60.3 482.8h0M79.3 472.5h0M55.9 478.2h0M61.1 467.1h0M67.8 494.6h0M71.3 485h0M57.9 482.3h0M78.7 472.6h0M69.1 503.3h0M73.2 473h0M79.3 484.4h0M49.7 471.1h0M65.8 461h0M67.7 479.3h0M57.1 482h0M81.6 471.2h0M58.2 479.7h0M86 466.8h0M49.4 471.2h0M78.8 489.4h0M52.4 478.9h0M68.1 464.5h0M54.2 471.6h0M64.9 502.7h0M62 499.8h0M49.8 479.2h0M60.5 490.2h0M73.1 470.5h0M77.9 490.6h0M83.3 490h0M75.1 462.6h0M83.4 480.4h0M77.9 501.4h0M52.4 478.7h0M83.1 486.3h0M50.2 474.5h0M72.2 469.2h0M68.1 502.6h0M57.6 490h0M76.9 496.7h0M83.3 469.5h0M64.3 462h0M69.1 498.3h0M60.8 499.2h0M59.5 479.3h0M75.3 495.9h0M86.4 473.8h0M64.5 493.3h0M80.6 494.8h0M59.6 498.4h0M79.3 485.2h0M62.3 491.6h0M51.7 492.4h0M65.6 493.4h0M72.3 473.9h0M61.6 480.9h0M54.4 469.1h0M74.3 466h0M85.5 482.1h0M61.7 465.1h0M60 475.7h0M54.4 471.5h0M76.9 503.3h0M74.4 476.4h0M55.7 488.1h0M87.7 478h0M77.7 498h0M83.5 483.5h0M83.7 473.6h0M81.8 477.6h0M57.5 496.6h0M80.5 487.3h0M67.7 469.2h0M82.4 488.8h0M75.6 496.3h0M82.9 463.3h0M59.4 482.4h0M85.9 465.9h0M68.6 459.4h0M83.6 498.2h0M66.3 495h0M55 495.6h0M81.1 491.9h0M50.3 471h0M75.3 496.9h0M68.5 489.8h0M67.1 484.8h0M60.3 466.2h0M83.6 483.3h0M61.8 470.8h0M62.4 481.6h0M55.3 478.4h0M62.9 475.3h0M63.5 458.7h0M84.1 471.2h0M78.7 502.3h0M64.1 473.4h0M75.9 502.2h0M70.2 487.9h0M53.3 471.7h0M67 488.2h0M64.1 492.3h0M82.3 468.5h0M69.9 461.4h0M61.7 484.5h0M81.9 465.8h0M80.8 488.5h0M81.7 459.7h0M69.5 463.5h0M79.8 489.4h0M84.6 475.4h0M57.6 494h0M62.5 498.3h0M60 497.9h0M63 485.1h0M61.5 486.6h0M51.3 474.1h0M63 485.2h0M80.8 480.4h0M86.8 464h0M78.1 475.8h0M57.4 472.7h0M63.9 480.1h0M68.5 494.9h0M80.5 475.9h0M79.5 485.4h0M84.1 487.5h0M69.1 500.6h0M51.2 481.5h0M57.1 479.1h0M72.9 467.2h0M51.6 480.5h0M76 481.9h0M87.6 472.8h0M66.8 484.5h0M79.5 503.3h0M64.3 480.8h0M69.7 461.5h0M59.2 488.3h0M62.3 481.2h0M65.3 469.3h0M55.8 471.6h0M51.3 470.1h0M74.6 480.6h0M61.8 489.4h0M62.6 497.1h0M82.6 467.9h0M69.5 474.1h0M88 467.9h0M50.5 467.3h0M86.4 486.6h0M78.1 480.2h0M77 477.3h0M69.9 488.1h0M80.5 502.2h0M74.3 496.5h0M55.4 466.4h0M67.2 468.3h0M70.6 471.2h0M84.9 461.5h0M65.1 495.6h0M73.5 467.4h0M69.6 462.6h0M61.3 460.1h0M69.2 498.5h0M67.2 471.4h0M68.4 474h0M56.9 467.1h0M69.2 475.3h0M53.8 486.1h0M84 483h0M62.4 480.7h0M61.1 475.1h0M79.8 476.3h0M83.7 462.2h0M61.4 465.1h0M80.3 464.6h0M71.3 481h0M78.1 482h0M68.2 464.4h0M70.6 481.4h0M68.7 491.3h0M63.3 487.7h0M59.3 491.7h0M80.6 482.4h0M85.5 476.3h0M64 493.6h0M79.6 477.4h0M66.7 485.9h0M51.2 481.8h0M82.6 462.6h0M52.1 480.6h0M73.2 474.8h0M65.5 501.9h0M55.8 472h0M59.5 500.5h0M73.5 483.5h0M87.8 467.6h0M82.5 467.9h0M75.8 478h0M62.6 492.3h0M74.4 475.3h0M87.6 476.7h0M59.3 467.5h0M50.4 478.4h0M86 491.9h0M62.8 471.2h0M80.9 496.4h0M61.4 468.6h0M59.4 495.9h0M68 489.2h0M75.9 495.3h0M70.5 457.7h0M75.3 468.2h0M82.9 484.8h0M76.3 489.8h0M82.8 496.1h0M59.1 492.7h0M63 493h0M71.1 484.3h0M52.7 465.3h0M62.9 478.6h0M71.8 490.2h0M77.7 472.5h0M74.4 483.6h0M68.1 481.6h0M81.3 476.1h0M79.4 485.1h0M84.1 461.6h0M50.1 482.8h0M67.1 465.4h0M55.2 466.2h0M84.4 483.7h0M65.5 484.1h0M66.2 480.4h0M72.2 491.6h0M84.7 461.4h0M51.4 467.3h0M55.8 466h0M64.6 496.8h0M72.5 491.5h0M68.8 501.4h0M83.9 462.8h0M75.8 502.6h0M81.5 483.2h0M64.7 460.8h0M59.8 460.9h0M69 474.3h0M77.2 472h0M85.3 467.7h0M56.9 467.2h0M67.2 467.5h0M72.7 467.4h0M69.9 492.6h0M65.7 500.2h0M84.5 465.3h0M63 460.1h0M61 462.4h0M68.1 469h0M63.1 482.5h0M81.5 460.7h0M63.6 468h0M57.3 467h0M58.5 488h0M84.5 481.2h0M84.6 481.9h0M65.6 499.6h0M85 471.8h0M79.1 494.3h0M75.5 467.7h0M51.1 472.6h0M59.7 481.8h0M63 475.9h0M61.5 463.2h0M60.1 488.8h0M60.2 499.9h0M83.6 478.8h0M60.8 488.2h0M84.3 496.1h0M57.4 466.8h0M60.1 475.6h0M79.4 470.6h0M77.7 457.3h0M65.1 457.8h0M81.6 470.4h0M81.3 493.2h0M53.4 471h0M80.5 489.7h0M65.7 462.9h0M55.7 473.4h0M68.5 488.2h0M83.5 490h0M71.1 482.1h0M73.3 459h0M50.7 482.9h0M66.1 498.5h0M58.2 473.4h0M59 488.2h0M80.9 461.4h0M64.3 489.5h0M78.3 493.8h0M55.5 491.5h0M66.9 499.5h0M56.8 497.2h0M85.4 486h0M55.7 473.3h0M63.6 499.3h0M55.8 476.6h0M63.7 482.3h0M77.9 458h0M58.3 460.5h0M68.6 487.9h0M80.2 491.7h0M74 487.8h0M64.5 489.5h0M66.9 471.7h0M61.4 477.3h0M53.3 491.1h0M55.7 484.6h0M81.5 465.5h0M58 469.8h0M75.9 504.1h0M57.5 480.7h0M60.4 491.6h0M60.9 465.1h0M81.8 491.8h0M80.3 499.1h0M67 477.3h0M80.5 480.5h0M58.7 486.3h0M66.4 493.5h0M83.6 494.9h0M51.7 483.3h0M66.7 458.7h0M77 466.9h0M56.1 498.5h0M59.7 489.8h0M75.3 487.2h0M52.1 467h0M81.7 475.4h0M61 480.5h0M79.7 503.4h0M61.5 490h0M67.3 502.8h0M70.5 483.9h0M71.8 465.5h0M64.5 480.9h0M80.2 483.7h0M52.1 465.1h0M67.5 475.9h0M81.7 467.7h0M80.8 460.2h0M72.6 502.1h0M73 468.3h0M57.5 495.6h0M66.1 461.4h0M77.9 492.3h0M63.7 480.3h0M85.3 461.1h0M66.1 473.5h0M73.8 478.4h0M61.7 480h0M70.6 458.5h0M61.7 468.7h0M60 473.8h0M59.9 474.3h0M76.2 467.8h0M60.7 491.7h0M75 471.3h0M60.3 491.2h0M63.9 495.6h0M85 463.8h0M75.7 467.8h0M71.5 499.9h0M74.2 499h0M62.5 470.3h0M70.5 474h0M69.8 468.8h0M57.3 486h0M53.5 467.7h0M52.6 489.9h0M55.3 469.8h0M83 481.8h0M67.5 472.4h0M69.5 494.2h0M63.3 463.2h0M56.3 490.5h0M68 501.6h0M57.8 491.1h0M64.5 470.2h0M77.5 472h0M57.8 478.3h0M65.9 460.6h0M88.1 475.8h0M63.4 462.7h0M54.9 465.4h0M51.8 483.1h0M74.7 497.7h0M59.4 495.5h0M78.7 459.3h0M56.8 466.3h0M83.6 492.7h0M51.5 468.3h0M55.4 486.9h0M66 502.3h0M82.2 470.3h0M59.8 480.8h0M65.1 495h0M56.6 498.5h0M72.4 475.6h0M87.4 473.4h0M79.6 503.2h0M66.6 494.1h0M82.1 470.9h0M67 501.1h0M80 471.3h0M79.7 462.1h0M64.6 484.3h0M71.8 486.3h0M75.3 464.6h0M70.6 458.3h0M57.1 480.7h0M63.9 489.7h0M54.3 481.5h0M65.8 466h0M87.3 468.7h0M84.8 473.4h0M60.8 495.6h0M71 485.2h0M77.2 481.8h0M81.5 483.5h0M68.1 500.4h0M68.3 490.1h0M70.1 501.7h0M52 470.2h0M60.4 468.5h0M73 490.9h0M59.1 496.6h0M66.9 480.6h0M63.5 478.6h0M87.4 470.5h0M61.3 461h0M83.5 475.9h0M74.7 471h0M54 467.1h0M79.4 482.7h0M75.3 491.9h0M71.7 489.5h0M56.7 465.4h0M66.4 497.3h0M57.9 494.3h0M81.8 492.2h0M53.3 462.7h0M81.1 467.1h0M76.7 496.4h0M77.4 485.4h0M63.3 501.4h0M59.6 478.5h0M53.4 484.4h0M76.3 481.5h0M63.9 458.7h0M74.2 458.6h0M79.1 486.5h0M83.2 488.5h0M79.2 470.1h0M86.3 484.9h0M70.8 475.1h0M82.5 487.2h0M71 486.2h0M60.3 477.6h0M78.2 495.9h0M62.6 471.4h0M70.1 479.8h0M65 471.1h0M62.9 500.8h0M73.9 461.8h0M56.1 474.7h0M56.8 461.6h0M79.4 480.4h0M55 481.5h0M76 497.1h0M66.3 466.8h0M50.5 485.1h0M58.8 459.1h0M70 490.2h0M58.3 469.9h0M56.5 497.5h0M71.8 469.8h0M63.3 468.9h0M79.5 471.8h0M62.7 501.6h0M59.5 490.5h0M85.4 471.3h0M80.1 471.9h0M55.9 490.3h0M62.7 478.6h0M83 464.2h0M58 486.4h0M58.3 478.4h0M57.7 487.3h0M75 458.9h0M80.3 502h0M60.9 494.7h0M61.2 500.1h0M65.3 473.3h0M86 490.8h0M85.4 472.7h0M52.3 479.7h0M82.2 488h0M65.3 480.1h0M58.6 475.4h0M73.3 490.8h0M61.9 487.7h0M65.1 492.3h0M79.4 463.2h0M80 466.8h0M77.3 458.9h0M80.7 473.4h0M76.3 459.9h0M68.8 475.2h0M54.8 477h0M87.2 473h0M80.9 496h0M72.1 486.4h0M87.5 478.1h0M81.1 479.9h0M78.5 465h0M77.6 503.2h0M79.3 501h0M76.7 491.9h0M63.6 464.9h0M64.1 461.6h0M84.9 477.3h0M67.1 485.8h0M63.7 490.9h0M84.3 482.6h0M61.9 494.6h0M53.1 471.2h0M68.6 498.1h0M72.3 478.9h0M73.9 501.7h0M63.9 465.6h0M70.4 463h0M58.7 488.5h0M66.9 465.1h0M82.5 487.3h0M71.2 479.7h0M86.6 487.9h0M75.1 501.4h0M58.2 480.5h0M71.6 472.2h0M72.4 484.8h0M85.7 478.9h0M65.2 483.2h0M83.4 493.2h0M59.3 486.3h0M55 482.6h0M69.9 489.4h0M52.7 491.7h0M58.4 472.3h0M84.4 490.4h0M53.4 485.9h0M60.8 495.3h0M53.2 491.5h0M64.9 464.2h0M59.1 495.3h0M73.9 475.4h0M70.3 467h0M70.2 460.4h0M56.1 480h0M74.4 461.9h0M68.6 483.3h0M70.3 470.4h0M57.8 471.1h0M55.7 466.5h0M50.3 475.5h0M71.1 488.4h0M57.7 486.1h0M81.7 462.4h0M70.5 501.7h0M65.2 487.5h0M79.4 474.2h0M53.3 490.1h0M68.1 483.4h0M54.7 482.5h0M66.5 488.2h0M52.7 470.4h0M70.5 494h0M75.3 457.8h0M86.3 475.7h0M74.3 504.2h0M82.2 473.9h0M59.2 481.1h0M68.9 463h0M73.2 497.4h0M56.1 486.4h0M70.4 466.8h0M83 463.2h0M80 460.1h0M84.3 469.7h0M76.7 488.7h0M75.8 493.9h0M59.8 477.9h0M72.5 491h0M65.2 473.7h0M73.8 461h0M70.4 475.9h0M76.1 472.4h0M51.2 490.3h0M61.7 459.9h0M69 463.3h0M51.5 483.6h0M66.2 458.7h0M70.5 481.1h0M72 461.8h0M64.5 498.5h0M70 463.6h0M54.8 496.3h0M58.1 485.4h0M62.9 471.3h0M63.6 486.5h0M63.3 472.8h0M63.3 497.7h0M79.2 475h0M77.9 489.1h0M88.2 468.2h0M77.1 471.9h0M87.6 466.1h0M74.5 497.8h0M88.1 475.2h0M78 463.4h0M68.9 463.1h0M79.8 482.4h0M68.6 497.9h0M85.4 485h0M66.4 489.5h0M68.8 465.3h0M85.4 491.2h0M70.1 497.2h0M62.2 470.1h0M80.2 499.4h0M71.2 482.1h0M73.4 475.4h0M65.9 459.9h0M72.3 495.5h0M63 490.5h0M78 489.8h0M55.9 478.1h0M72.9 499.3h0M56.6 494.9h0M55.2 482.5h0M61 490.1h0M65.9 469.7h0M70.1 499.8h0M83.3 482.4h0M77.4 501.3h0M77.1 486.5h0M79.6 462h0M71.7 469.2h0M68.8 460.6h0M60.4 481.6h0M81.1 475.4h0M53.8 471.4h0M75.8 483.8h0M53.5 467h0M76.3 502.1h0M66.7 481.6h0M84.6 492.4h0M75.7 482.8h0M81.4 472.3h0M76 461.3h0M86.3 479h0M67.2 460.3h0M54.9 495.6h0M77.1 484.2h0M70 473.8h0M52.5 469.4h0M79.7 490h0M80.1 463.1h0M65.2 479.3h0M55.5 480.7h0M79.5 460.9h0M63.4 461.1h0M76.3 477.4h0M73.4 472.9h0M54.9 476.4h0M57.7 481h0M58.9 491.7h0M83 489.4h0M60.3 459.1h0M78.8 475.9h0M73.4 498.1h0M61.3 475.6h0M87.2 475.9h0M84.8 480.2h0M82 471.3h0M58.3 478.9h0M65.3 472.6h0M57.1 496.9h0M75.4 483.7h0M51.9 471.8h0M84.6 474h0M74.8 468.6h0M74.5 482.4h0M72.3 459.1h0M58.2 470.2h0M69.6 471.6h0M63.9 480.6h0M71.4 473.9h0M62.7 484.3h0M73.8 492.4h0M74 462.4h0M63.1 487.5h0M77.3 500.5h0M78 485.5h0M73.2 469.5h0M71.8 474.2h0M62.2 467.2h0M61.2 481.4h0M59.6 497.8h0M58.3 481.4h0M76.4 485.4h0M85 492.1h0M68 475.4h0M64.7 478.5h0M61.1 490.4h0M63 499.4h0M58.4 494h0M83.1 472.3h0M71.4 494.1h0M86.4 484.3h0M87.5 466.4h0M67.1 486.3h0M73.3 461.5h0M71.8 501.1h0M70.5 465.3h0M61.2 500.6h0M65.7 460.5h0M60.3 484.3h0M55.5 480.3h0M68.2 488.7h0M60 465.6h0M67.5 465.3h0M71.2 475.6h0M82.8 465.5h0M70 470h0M54.5 463.1h0M71.2 481.7h0M73.6 489.5h0M86.2 469.1h0M55.7 495h0M52.4 487.6h0M54.3 480.3h0M54 462.7h0M77.4 494.7h0M55 470.8h0M58.9 468.8h0M72.7 457.1h0M81 496.1h0M87 487.9h0M54.3 470.5h0M73 491.2h0M79.5 492.9h0M87.4 465.4h0M63.5 479.4h0M73.2 480.8h0M58.9 471.8h0M75.8 460.2h0M81.8 460.7h0M65.9 498.9h0M56.3 481.7h0M57.3 462h0M73.3 500.1h0M65.3 501h0M61.9 489.4h0M83.5 465.1h0M78 470.2h0M64.7 463.5h0M84.6 470.5h0M64.8 497.5h0M65.2 484.5h0M72.3 494.7h0M66.8 499.4h0M69.6 499h0M79.6 476.6h0M60 497.5h0M72.8 466.6h0M71.9 485.6h0M50.9 481.9h0M72.7 465.6h0M84.6 474.7h0M71.2 471.9h0M64.1 479.1h0M59.2 476.2h0M86.1 463.5h0M79.6 499.9h0M75.6 502.1h0M59.8 500.8h0M80 489.5h0M67.3 491.6h0M86.5 465.1h0M54.3 477.3h0M51.5 490.6h0M57.1 464.3h0M76.8 490.4h0M66.2 466.4h0M56.6 460.5h0M52.6 470.2h0M70.9 459.9h0M71.3 480.7h0M61.1 460.3h0M65 497.8h0M78.3 490.9h0M61 464.8h0M79.6 460.7h0M67.3 473.9h0M61 484.3h0M68.9 496h0M74.4 503.2h0M58 471.2h0M63 463.5h0M60.1 480.8h0M64.4 470.6h0M79.9 491.8h0M85.6 482.9h0M72.1 485.4h0M85.7 472.5h0M82.9 481.1h0M79.5 494.5h0M60.5 485.3h0M67 464.5h0M64.2 502.8h0M62.4 462.8h0M76.3 479.4h0M73.2 462.7h0M69.8 478.2h0M71.7 479.5h0M71 504.5h0M62.9 462.3h0M56.4 466.8h0M52.1 475.4h0M69.9 466.3h0M62.4 490.7h0M76.1 495.1h0M76.7 472.7h0M75.4 495.1h0M76.9 485.8h0M65.2 458.8h0M66.8 461.9h0M60.7 493.6h0M72.3 499.8h0M83.2 491.5h0M86.2 463.9h0M78.4 487.2h0M70.8 462.4h0M68.8 500.4h0M77.3 501.6h0M79.9 459.7h0M64.9 497.5h0M77.6 480.3h0M67.1 475.6h0M63.6 473.7h0M67.7 485.2h0M55.1 464.7h0M74 484.3h0M68.5 481.7h0M60.8 482.3h0M60.9 485.7h0M61.1 477h0M50.9 473h0M67 486.4h0M79.7 459h0M61.8 468.3h0M67.3 500.5h0M85.9 491.6h0M86.1 480.8h0M73.5 463h0M77.7 469.4h0M71 467.8h0M69.3 475.7h0M83.9 481.9h0M79.4 469h0M69 482.1h0M61.3 476.6h0M62.1 489.5h0M72.1 491.1h0M52.6 467.1h0M85.8 463.1h0M55.9 483.5h0M67.3 498.8h0M83 484.8h0M66.9 478h0M68.2 493.5h0M75.6 461.1h0M81.2 501.5h0M78.6 464.9h0M84.6 463.5h0M76.4 494.3h0M70 459.9h0M50.5 487.8h0M79.2 473.3h0M79.3 474.9h0M67.1 489.8h0M76.3 487.9h0M54.5 489.9h0M80 493h0M74 485.3h0M87.6 469.1h0M75.1 493h0M67.8 470.5h0M63 464.1h0M80.9 481.7h0M70.8 461.7h0M51.6 480.6h0M53.8 487.2h0M74.7 458.9h0M83.2 489.6h0M57.6 474.7h0M75.8 499.8h0M64.8 495.7h0M73.6 496.3h0M52 491.1h0M82.8 473.3h0M82.7 473.5h0M82.1 472.5h0M71 486.7h0M62.9 477.4h0M74.4 503.1h0M86.4 462.6h0M77.1 462.2h0M84.5 490.9h0M69.6 484.5h0M73.8 461.6h0M67.9 500.6h0M51.9 482.4h0M51.5 477.2h0M66.5 471.4h0M63.5 467.1h0M54.6 496.8h0M80.5 478.8h0M76.4 483.2h0M79.1 496.3h0M74.9 503.6h0M51.1 486.2h0M78.6 460h0M70.2 496.2h0M75.7 475h0M81.5 500.9h0M58.1 468.6h0M81.6 493.1h0M64.1 460.8h0M49.5 475.5h0M66.2 460.6h0M57.9 498.5h0M78.6 473.9h0M84.9 493.5h0M76.1 489.7h0M59.7 483.6h0M56.4 461.9h0M77.8 478h0M61.6 494.4h0M74.4 489.2h0M84.9 465.5h0M66.9 459.9h0M78.2 492.9h0M50.3 473.1h0M73 468.5h0M76.8 501.7h0M83.7 475.3h0M49.9 474.4h0M59.5 490.8h0M62.1 497.6h0M60.1 499.8h0M85.9 482.8h0M83 463h0M77.9 461h0M61.6 470.5h0M55.2 487.7h0M88.2 480.9h0M86.4 469.4h0M54.1 470.2h0M81.5 472.3h0M62.8 498.7h0M73.2 475.7h0M83.6 463.4h0M57 486.4h0M68.6 489.7h0M81.3 489.7h0M55.9 491.6h0M58.3 461.1h0M60.8 475.1h0M69 462.2h0M74.2 475h0M88.3 479.8h0M82 495.7h0M73 488.7h0M52.2 466.9h0M61.5 465h0M59.2 461.2h0M72.3 498.8h0M62.3 497h0M83.4 484.3h0M83.3 468.8h0M73.3 487.7h0M59.3 481.6h0M80.4 479.7h0M83.5 480.4h0M79 463.6h0M74.8 460.7h0M68.5 502.7h0M50.1 480.8h0M66.8 495.4h0M82.5 482.5h0M72 482.7h0M75.7 504h0M75.2 467.4h0M58.2 480.3h0M75.5 495h0M59.8 465.7h0M52.6 493.4h0M66.5 495.6h0M87.9 469.4h0M62.9 461.8h0M54.3 466h0M80.5 490.9h0M76.8 494.1h0M70.1 469.4h0M81 468.5h0M82.4 472.8h0M87.4 485.2h0M70.6 470.3h0M84.8 486.2h0M60.5 471.6h0M60.9 472.4h0M86.2 484.5h0M73.9 492.6h0M51.5 485.8h0M80.1 460.4h0M86 480.3h0M65.2 496.6h0M59.9 480.3h0M60.9 491h0M63.4 479.7h0M65.3 494.2h0M70.5 475.2h0M83.6 477.8h0M52.7 490.3h0M62.6 491.8h0M77.6 483.4h0M76.3 498.8h0M72 474.9h0M57.2 472.7h0M81.4 498.1h0M63.4 467.9h0M64.4 476.3h0M76.7 458.4h0M76 458.4h0M57.2 477.9h0M79.4 465.8h0M75 457.7h0M55.2 471.4h0M71.8 496.7h0M67.6 483.5h0M61.5 487.6h0M82.7 476.2h0M62.7 493.5h0M80.9 500.6h0M65 472.9h0M69 485.4h0M75.7 496.7h0M74 468.7h0M79.7 494.1h0M82.2 461.3h0M64.9 497.9h0M64.5 464.3h0M50.2 473.3h0M67.2 464.8h0M67.1 492.2h0M51.9 472.2h0M75.5 486.6h0M71.3 470.3h0M63.1 501.8h0M68.1 470.5h0M67.7 462.1h0M71.7 502.2h0M82.5 466.1h0M50.4 470h0M70.1 456.6h0M88.3 476.2h0M55.3 462.1h0M63.5 475h0M79.5 470.3h0M74 479.7h0M80.8 468.2h0M73.8 484h0M74.9 457.6h0M84.3 480.2h0M56.9 473.9h0M77.6 494.6h0M57.6 475.2h0M64.6 502.8h0M77.6 481.7h0M66.8 459.9h0M78.9 473h0M52.5 479.2h0M76.6 482.8h0M64.7 492.4h0M58.7 490.5h0M65.7 503.3h0M82.9 467.3h0M84.4 478h0M62.5 463.7h0M57.8 475.3h0M76.2 500.4h0M76.4 503.2h0M60.5 458.6h0M72.5 474.3h0M86.5 470.2h0M76 491.8h0M68 494h0M82.4 462.5h0M81.7 485.2h0M72.7 461.2h0M71.3 470.9h0M59.3 466.1h0M83.1 482.5h0M83.8 464.9h0M84.8 476.8h0M84.1 486.1h0" stroke="#4a52b0" stroke-width="0.95" stroke-linecap="round"/>
<path d="M47 488C47.8 485.7 50.7 485.3 53 485C55.3 484.7 58.8 484.8 61 486C63.2 487.2 65.2 489.8 66 492C66.8 494.2 66.7 497 66 499C65.3 501 64 503.1 62 504C60 504.9 56.3 505.3 54 504.5C51.7 503.7 49.2 501.8 48 499C46.8 496.2 46.2 490.3 47 488Z" fill="#d8bcd6" filter="url(#soft)"/>
<path d="M53.5 491.9h0M49.1 495.8h0M51.9 491.2h0M54.3 494.3h0M53.7 495.6h0M56.8 502h0M57.3 498h0M59.7 492.3h0M55.4 489.1h0M59.8 487.3h0M63 493h0M54.9 500.4h0M52.6 498.3h0M61.9 498h0M50.2 487.4h0M61.3 496.9h0M53.9 503.3h0M57.5 504.3h0M50.5 501.2h0M50.8 494.2h0M53.1 496.5h0M48.8 487.2h0M53.5 500.4h0M58.1 488.2h0M58.3 504.2h0M60.3 486.7h0M63.4 491.3h0M59 502.8h0M55.5 491.2h0M48.1 498h0M59.8 498.3h0M48.6 491.6h0M52.2 488h0M49.1 489.4h0M63.3 501.9h0M58.6 491.3h0M53.2 502.6h0M49.6 487.2h0M48.9 491.3h0M63.3 501.7h0M58.6 495.3h0M55.4 491.7h0M64.8 492.7h0M49.1 496.4h0M54.1 491.2h0M64.9 498h0M55.8 503h0M50.5 488.5h0M61.1 490.6h0M60.7 491.3h0M51 499h0M61.3 490.8h0M47.7 491.9h0M57.4 490.9h0M61.6 494.2h0M51.1 495.6h0M49.6 498.8h0M50.4 496.3h0M51.6 487.2h0M56.6 488.6h0M59.9 494.8h0M57.4 500.4h0M61.9 490h0M51.2 490.6h0M56.7 499.4h0M49.3 490.1h0M64.7 496.5h0M58.1 493.4h0M53.2 492.3h0M56.1 491.6h0M58.7 488h0M54.3 503.1h0M56.5 500.9h0M50.4 501h0M61.6 498.3h0M61.7 491.4h0M62.4 503h0M59.1 498.3h0M51.5 492.8h0M60.5 496.5h0M57.4 487.6h0M54.9 500.6h0M57.8 497.5h0M48.3 487.6h0M58.7 503.5h0M59.1 496.2h0M60.4 500.4h0M52.5 487.2h0M52.9 497.3h0M51.1 491.9h0M55.8 491.7h0M59.3 503.3h0M57.2 500.6h0M56.3 497.4h0M56.4 487.1h0M55.5 503.8h0M59.8 493.2h0M47.7 493.2h0M53.2 499.2h0M54.3 486.1h0M54.4 485.5h0M58.2 503.2h0M59.6 503.7h0M57.7 495.8h0M53 494.1h0M57.3 502.5h0M60.4 491.6h0M65.7 496.9h0M48.4 495.2h0M52.6 492.8h0M58.6 501.4h0M60.7 503.5h0M57.9 487.2h0M58.1 502.1h0M48.3 496.9h0M51.3 496.4h0M51.5 495.3h0M64.5 495h0M50.2 495.7h0M49.8 497.5h0M51.9 487.4h0M48.4 490.5h0M61.5 495.4h0M58 488.1h0M59.8 487.4h0M62.3 500.3h0M64.9 493.4h0M54.1 502.1h0M55.1 498.1h0M61.3 489h0M57.7 500.7h0M53.4 494h0M59.6 499.5h0M54.9 487.7h0M54.7 487.4h0M58.9 486.3h0M52.2 486.1h0M56.5 502.9h0M60 487.4h0M49.6 498h0M48.7 496.6h0M63.8 492.8h0M53.1 486h0M60.9 495.8h0M60.6 486.9h0M54.3 491.2h0M57 494.7h0M60.7 493.8h0M56 488.5h0M54.7 489.5h0M55.2 497.7h0M56.1 489.4h0M61.3 487.6h0M62.8 502.2h0M50.8 488.5h0M57.6 485.7h0M56.7 494.6h0M62 488.7h0M61.2 486.5h0M56.8 493.2h0M54.1 494.4h0M53.4 498.8h0M55.1 490.8h0M59.5 501.2h0M61.8 502.6h0M64.6 495.7h0M55.2 487.4h0M56.4 488h0M52.6 488.5h0M62.7 496.5h0M55 492.4h0M52.7 488.7h0M62.5 491.3h0M54.7 501.8h0M58.3 485.8h0M58.8 486.9h0M56.5 489.8h0M61.8 496.1h0M55.6 499.8h0M64.2 493.1h0M60.3 488h0M59.4 492.5h0M48.9 487.5h0M54.6 487.9h0M61.5 502.1h0M55.6 488.6h0M47.8 496h0M54.8 498.2h0M52.9 490.5h0M59.1 502.7h0M55.6 500h0M61.8 493.5h0M48.6 497.4h0M65.6 492.2h0M49.5 495.3h0M59 494.3h0M48.4 492.3h0M56.2 490.8h0M56.1 498.3h0M58.9 495.7h0" stroke="#8a1446" stroke-width="0.95" stroke-linecap="round"/>
<path d="M68.5 494.9h0M72.4 496.8h0M66.5 493.8h0M74.5 499.5h0M69.2 500.3h0M64.8 496.6h0M74.4 497.3h0M73.6 499.2h0M70.7 496.3h0M70.8 500.2h0M68 493.5h0M70.5 493.8h0M68.3 494.4h0M64.6 496.2h0M66.8 495.8h0M68.1 499.4h0M68.9 494.3h0M71.1 496.9h0M64.9 496.8h0M67.5 495h0M69.9 500.1h0M69.1 499.9h0M70.1 495.4h0M67.8 500.2h0M75.1 495h0M71 495.7h0M66.9 498.8h0M73.3 494.2h0M67.9 495.6h0M67.4 499.1h0M69.2 500.8h0M73.4 498h0M68.9 493.2h0M69.8 493h0M65.1 497.1h0M74.8 496.2h0M70.1 494.1h0M71.4 500.3h0M66.9 496.7h0M69.7 500.3h0M72.6 497.7h0M66.1 498.4h0M70 498.5h0M67.9 496.3h0M70.1 499.3h0M70.3 494.6h0M69.8 497.6h0M64.6 497.7h0M70.7 498.1h0M72.1 499.1h0M65 495.5h0M67.3 498.1h0M74.7 495.9h0M67 497.3h0M74.8 498.9h0M67.2 500.5h0M65.9 497.6h0M66.4 493.9h0M67.9 498.6h0M72.3 494.3h0M68.2 500.7h0M71.1 499.5h0M73.8 495.5h0M73.7 498.5h0M68 498.5h0M73.5 497.1h0M70.5 494.6h0M73.7 499.9h0M69.6 493.9h0M75 497.3h0" stroke="#7a3a8a" stroke-width="0.9" stroke-linecap="round"/>
<path d="M64 505.8h0M63.8 505.4h0M61.1 505.3h0M59.6 505.7h0M65.5 505h0M66 505.1h0M59.5 504.3h0M60.8 504.5h0M61.1 503.9h0M58.4 504.9h0M57.8 504.8h0M58.7 504.9h0M58.6 504.1h0M63.1 506.2h0M66.2 503.7h0M60.7 505.2h0M65.8 506.5h0M63.5 503.7h0M57.4 505.3h0M67.5 504.1h0M65.3 505.9h0M62.9 504h0M58.3 505.5h0M58.8 505.4h0M60 503.6h0M62.7 506h0M66.1 504.3h0M60.9 505.2h0M63.5 503.5h0M65.9 503.5h0M63.7 503.7h0M58.2 505.1h0M62.9 504.8h0M65.7 505.2h0M62.1 506.4h0M59.5 505.1h0M59.4 505.2h0M65.4 503.5h0M58.1 505h0M64.3 503.9h0M61.1 506.6h0M64.8 503.8h0M64.4 504.2h0M59.8 505.8h0M66.2 503.8h0M65.7 504.6h0M62.4 505.9h0M60.6 504.9h0M64.3 506.6h0M63.4 504.4h0M62.6 504.8h0M62.1 506.4h0M62.9 505.8h0M63.1 506.5h0M67 504.3h0M66.6 505.7h0M62.3 503.7h0M58.2 504.5h0M64.5 506.3h0M61.6 505.7h0" stroke="#f2c6e6" stroke-width="0.9" stroke-linecap="round"/>
<path d="M86.6 488.3h0M87.4 481h0M86.7 478.1h0M86 487.7h0M86.5 488h0M87.1 481.1h0M86.4 486.4h0M86.1 481h0M88.7 482.1h0M85.7 483.7h0M86.7 479.5h0M87.2 482.9h0M88.7 482.1h0M84.7 489h0M87 481.7h0M86 487.1h0M84.8 478.6h0M86.1 480.8h0M84.7 485.4h0M86.1 482.6h0M86.4 481.5h0M84.1 481h0M88.5 483.4h0M84.1 488.6h0M83.7 484.5h0M84.1 479.1h0M85.9 488h0M84.3 489.4h0M87.7 483.8h0M84.9 481.3h0M83.2 480.3h0M88.1 481.9h0M87.1 481h0M85.6 478.9h0M84.4 481.7h0M86 481.7h0M86.8 482.9h0M84.9 482.1h0M85.7 481.2h0M85.2 483.1h0M88.2 487.2h0M88.2 483.1h0M88.1 485.6h0M85 484.8h0M87 481.7h0M85 487h0M84.8 483.8h0M84.9 481.4h0M86.4 487.7h0M87.8 482.1h0M83.9 479.7h0M87.9 479.9h0M84.5 486.8h0M84.5 482.6h0M85.6 489.1h0M86.2 479h0M84.9 479.7h0M84.7 479.3h0M87 486.8h0M87.8 483.6h0" stroke="#3fb0c4" stroke-width="0.9" stroke-linecap="round"/>
<path d="M79.7 492.9h0M83.5 488.4h0M85.1 492.5h0M83.1 489.4h0M81.6 494.4h0M83.3 487.9h0M82 491.4h0M84 491.2h0M80.2 492.3h0M82.5 492.2h0M81 492.8h0M80.2 489.9h0M80.3 493.3h0M83.3 493.3h0M84 488.8h0M84.4 493.2h0M82 493h0M81.1 488.2h0M82.6 488h0M81.4 494h0M85.4 492.7h0M81.7 488.5h0M82.7 488.1h0M84.6 493.1h0M79.2 489.7h0M82.7 490.2h0M84.5 492.1h0M82.2 488.6h0M85 491.7h0M80.6 489.5h0M81.8 490.5h0M83.4 488.7h0M83.3 492h0M85.4 493.2h0M84.6 491.6h0M83.7 491.7h0M81.4 488.1h0M82.2 490.3h0M85.7 490.9h0M81.1 490.3h0M82.5 491.8h0M84.5 492.5h0M85.9 490h0M80.8 493.4h0M85.9 492.6h0M80.8 491.1h0M83.1 489.4h0M83.1 494.4h0M83.2 491.7h0M82.1 489.3h0" stroke="#f2c6e6" stroke-width="0.9" stroke-linecap="round"/>
<path d="M78 494C79.1 492 82.2 491.2 84 491C85.8 490.8 87.5 491.5 88.5 493C89.5 494.5 89.8 497.7 90 500C90.2 502.3 90.2 505 89.5 507C88.8 509 87.6 511.3 86 512C84.4 512.7 81.4 512.5 80 511C78.6 509.5 77.8 505.8 77.5 503C77.2 500.2 76.9 496 78 494Z" fill="#f8d4de" filter="url(#soft)"/>
<path d="M88.1 492.9h0M83.4 503.9h0M89.4 504.6h0M78.1 497.7h0M85.7 509.7h0M78.1 500.2h0M88.2 493.9h0M81.8 503.9h0M88.3 495.6h0M84.6 504.5h0M83.3 504.2h0M84.4 504h0M85.5 498.9h0M84.9 499.2h0M86.7 501.8h0M78.2 498.9h0M78.5 500.3h0M86.7 499.8h0M82.7 496.3h0M87.8 495.6h0M89.4 505.4h0M80.4 499.8h0M84.8 494.4h0M86 501.7h0M88 492.8h0M79.2 502.8h0M80.7 496.2h0M81.5 507.1h0M84.2 494.1h0M85.6 494.4h0M82.3 501.3h0M80.5 494.1h0M87.8 493.3h0M84.1 507.9h0M81.9 504.9h0M80.9 504.6h0M86 500.6h0M85.2 507.9h0M88.6 501.3h0M81.7 495h0M81.1 505.8h0M78.6 503.9h0M80.3 500.4h0M88.2 506.7h0M79 505.1h0M80.4 503.9h0M83.4 501.5h0M85.5 499.8h0M87.3 504.1h0M80.7 495.4h0M85.6 502.6h0M79.5 500.1h0M89 499.8h0M81.2 504.1h0M78.2 498.5h0M79.2 498.3h0M83.9 503.8h0M84.3 504.3h0M80.5 504.3h0M82 507h0M82.7 503.9h0M86 500.1h0M80.2 506.7h0M83.4 502h0M81.8 502.4h0M85.1 508.4h0M86.3 502.6h0M88.1 507.1h0M87.2 493h0M89.1 500.5h0M80.8 506.7h0M79.7 504h0M78.2 505.2h0M87.3 506.3h0M84.2 507.4h0M80.1 501h0M84.5 496.9h0M84.5 491.4h0M81.5 506.3h0M84.1 506.1h0M84.5 507.7h0M83.7 506.7h0M87.9 496.3h0M83.2 492.6h0M88.5 506.5h0M78.2 498h0M86.3 495.6h0M79.8 497.6h0M82.4 501.6h0M80.5 497.1h0M80 495.4h0M83.7 504.5h0M83.6 510.8h0M83.5 493.2h0M79 503.6h0M86.3 496.3h0M82 494.1h0M83.3 497.1h0M87.7 493.7h0M83.6 499.6h0M87.7 499.4h0M82.8 498.9h0M82.6 506.4h0M81.8 502.1h0M82.7 505.4h0M81.6 510.9h0M80.5 495.4h0M79 494.6h0M83.1 507.3h0M86.8 504.4h0M84.8 503.7h0M78.4 504.3h0M85.1 509.5h0M87.1 501.3h0M85.2 496.8h0M80.5 494.3h0M84.9 497.2h0M80.3 506.3h0M82.9 505.3h0M88 503.9h0M84.2 492.3h0M88.8 496.9h0M85.5 492.2h0M87.7 495h0M78.3 497.3h0M86 503.4h0M81.1 499.7h0M79.9 504.7h0M85.6 492.7h0M87.1 507.8h0M87 493.1h0M78.3 504.8h0M89.5 506.2h0M78.8 495.2h0M82.5 505.6h0M81.8 496.5h0M86.8 498.3h0M82.2 492.8h0M81 506.9h0M77.7 501.9h0M81.1 504.7h0M80.5 501.1h0M85.6 510.6h0M79.2 501.6h0M79.2 495.6h0M80.2 500.3h0M78.7 502.9h0M84 493.6h0M83.8 510.5h0M83.5 500.3h0" stroke="#e23a55" stroke-width="0.95" stroke-linecap="round"/>
<path d="M72 521C73 519.2 75 519.2 77 519C79 518.8 82 518.7 84 519.5C86 520.3 87.5 521.9 89 524C90.5 526.1 91.7 529.2 93 532C94.3 534.8 96.2 538.2 97 541C97.8 543.8 98.4 546.6 98 549C97.6 551.4 96.3 554.4 94.5 555.5C92.7 556.6 89.4 556.6 87 555.5C84.6 554.4 82 551.6 80 549C78 546.4 76.5 543.2 75 540C73.5 536.8 71.5 533.2 71 530C70.5 526.8 71 522.8 72 521Z" fill="#f4d0e8" filter="url(#soft)"/>
<path d="M80 541.8h0M80.3 544.3h0M85.5 541.1h0M81.9 522.5h0M91.6 530.3h0M72.8 532.4h0M86.9 522.8h0M90.8 533.8h0M87.1 529.8h0M75.1 531.2h0M86.9 554.9h0M88.9 537.4h0M91.2 546.5h0M81.3 520.7h0M75.5 530.2h0M89.8 534.5h0M82.2 524.7h0M92 545.9h0M88 551.8h0M91.9 536.4h0M92.3 553.6h0M78.4 520.3h0M93.1 551.5h0M92.2 538.8h0M86.4 522.4h0M88.9 529.4h0M76.2 528.7h0M85.4 530.4h0M81.2 537h0M75 538.5h0M87.2 538.2h0M93.7 548.3h0M83.6 526.9h0M74.8 535.3h0M88.5 542.6h0M79.4 540.5h0M95.2 546.8h0M83.2 520.5h0M73.2 526.3h0M89 553.2h0M89.7 529.2h0M81.7 537h0M83.7 522.6h0M79.8 546.4h0M91.1 550.5h0M95.4 541.9h0M96.3 544.8h0M84.2 523.2h0M81.6 519.7h0M86.3 538.4h0M79.2 532.9h0M85.8 550.9h0M86.1 531.3h0M74.7 537.7h0M80.8 543.5h0M86.2 546.5h0M80.4 523.8h0M83 525.9h0M81.6 526.5h0M90.7 531.8h0M86.9 548.3h0M78 527.1h0M92.1 546.5h0M90 540.3h0M89 530.2h0M78.6 522.5h0M71.8 525.3h0M79.3 537.6h0M95.9 549.8h0M83.3 522.8h0M87.5 544.1h0M93.9 537.2h0M81.9 542.6h0M73.8 525.6h0M87.8 525.7h0M76.5 531.1h0M92.1 541.1h0M92.2 545.3h0M91.1 538.2h0M96.8 546h0M84.8 541.4h0M84.2 531.7h0M89 549.3h0M81.5 534.2h0M78.7 521.4h0M71.9 531.9h0M82.3 539.4h0M83.1 545.4h0M73.8 527.4h0M77.2 538.8h0M91 548.2h0M80.6 519.9h0M73.7 532.3h0M73.5 529.6h0M92.4 536.5h0M79.1 534.1h0M93.7 555.1h0M93.1 551.1h0M83.1 524.9h0M89.3 548.7h0M97.5 549.1h0M77.3 525.1h0M96.5 550.6h0M96.9 545.7h0M86.5 540.7h0M83.7 549.8h0M83.6 551.4h0M82.9 536.2h0M82.4 527.3h0M82.1 520.6h0M82.1 532.6h0M91 540.4h0M87.3 547.8h0M78.6 520.4h0M81.8 533.7h0M84.8 536.7h0M92.3 546h0M92.7 538.1h0M73.5 526.1h0M87.2 533.8h0M96 547h0M80.6 523.5h0M85.7 542.2h0M74.9 530.8h0M91.2 552.6h0M73.7 531.7h0M84.9 553.4h0M95.1 548h0M82.1 537.6h0M76 524.8h0M80 537.8h0M78.3 538h0M81.4 543.8h0M93.3 552.1h0M80.5 529.4h0M92.3 542.1h0M75 530.1h0M86.7 549.3h0M87.4 543.3h0M87.6 541h0M78.6 539.8h0M79.6 533.5h0M76.1 534h0M83.5 534.2h0M86.7 554.7h0M87 526.6h0M79.7 524.2h0M88.1 552.2h0M72.7 528.8h0M93.4 533.6h0M85.5 541h0M96.8 547.7h0M86.5 540.7h0M79.4 524.7h0M83.4 528.2h0M84.5 528.4h0M81.8 522.4h0M85.9 530.4h0M82.9 531.6h0M81.6 537.7h0M79.7 541.3h0M91.4 551.3h0M82.3 540.2h0M75 537.9h0M77.8 532.7h0M85.8 533.2h0M77.6 538.7h0M79.6 545.1h0M84.9 549.7h0M86.1 534.4h0M92 546.1h0M90 555h0M87.5 552.2h0M79.6 547.4h0M93 536.8h0M89.8 546.3h0M88.9 549.8h0M80.7 538.2h0M84.6 546.5h0M85.5 539.3h0M87.5 554.6h0M73.2 534.8h0M92 532h0M89.5 545.7h0M91.2 546.3h0M72.8 522.1h0M88.5 531.2h0M77.6 534.1h0M97.2 543.6h0M87.2 526.3h0M92.7 533.8h0M81.5 534.3h0M95.6 546.1h0M75.2 531.2h0M90.5 531.5h0M80.5 534.5h0M95.6 540.5h0M87.1 545.1h0M87.2 539.4h0M89.9 540.4h0M93.3 537.9h0M79.7 525.3h0M79 533h0M79.7 538.9h0M87.5 531.4h0M83.6 544.3h0M92.1 546.2h0M80.2 521.7h0M80.8 549.2h0M76.9 543.2h0M78.8 545.5h0M85.4 534.3h0M88.5 542.2h0M79.5 540.4h0M82.6 541.7h0M78.3 539.9h0M92.9 539.9h0M93.4 552.8h0M79.9 533.2h0M84.9 550.9h0M73.6 535.5h0M85.5 550.9h0M82.8 532.6h0M82.7 521.8h0M95.4 539.3h0M94.3 543.4h0M72.8 532h0M75.2 529.9h0M91.7 547.3h0M87.5 548.5h0M92.2 536.4h0M87.4 534.5h0M84 528h0M81.6 541.3h0M78.3 531.7h0M92.4 555.2h0M83.5 533.3h0M80.8 541.6h0M86.6 521.9h0M79.5 541.3h0M84.8 530.3h0M78.8 535.3h0M88.7 539.7h0M83.3 521.9h0M90.1 552.4h0M79.1 523.5h0M72.4 526.6h0M91.5 551.1h0M78.2 524.1h0M93.1 546.9h0M78 544.6h0M88.2 530.3h0M84.1 548h0M74.5 529.1h0M82.5 530.8h0M88.7 550.1h0M93.2 542.1h0M85.5 543.2h0M78.7 544.7h0M91.7 546h0M83.7 540.8h0M83.3 543.1h0M78.5 530h0M90.2 527.3h0M90 528.1h0M95 537.9h0M74.9 524.1h0M82 539h0M86.9 552.5h0M83.9 538.8h0M89.7 553.9h0M81.3 522.9h0M75.4 526.3h0M83.5 541h0M94.7 551.3h0M94.2 549.3h0M83.8 537.2h0M82.4 519.5h0M94.4 546.2h0M88.9 527h0M76.7 538.7h0M90 532.4h0M93.2 551h0M84 546.2h0M80.3 545.7h0M74.7 537.2h0M75.6 537.7h0M95 554.3h0M89.9 544.4h0M82.4 542.7h0M85.4 533.8h0M80.1 536.1h0M87.4 531.4h0M90.7 546h0M83.9 538.9h0M73.6 520.5h0M90.7 533.7h0M91.8 550.7h0M72.8 524.5h0M83.1 522.5h0M87.6 545.5h0M74.2 524.5h0M90.3 535.9h0M85.4 522.9h0M74.3 533.1h0M85 534.1h0M93.4 545.6h0M90.5 543h0M80.1 540.6h0M81.4 541.3h0M90.8 545.3h0M74.6 520.6h0M78.7 538.3h0M79.5 528.9h0M76.2 536.1h0M87.3 551.9h0M78.7 537.9h0M84.2 549.6h0M82 542.2h0M78.2 542.7h0M74.9 522.1h0M78.5 537.7h0M78.1 540.3h0M95.2 549.3h0M80.3 534.4h0M75.4 527.6h0M84.8 530.2h0M86.3 540h0M85.8 528.3h0M75.7 528.6h0M96.5 551.4h0M90.7 529.4h0M95 542.6h0M82 550.7h0M81.7 535.7h0M95.8 544.5h0M73.4 533.6h0M83.1 528.5h0M81.8 536.1h0M87.2 549.8h0M91 540.3h0M92.7 546.4h0M79.2 522.8h0M95.7 545.5h0M76.7 538.9h0M82.5 530.6h0M78.1 521.6h0M81.5 530.9h0M84.2 529.1h0M93.3 536.4h0M81.4 537h0M87.2 548.5h0M89.6 531.6h0M85 547.5h0M73.5 524.1h0M86.5 539.5h0M91.6 553.4h0M90 526.4h0M85.5 549.8h0M85.6 553h0M75.5 537.2h0M73.2 524.3h0M90.9 534h0M87.8 555.4h0M78.5 538.5h0M85.8 527.5h0M84.7 553.2h0M80 532.6h0M90.3 547.7h0M87.1 554.9h0M89.7 536h0M85.3 544.2h0M84.4 550.8h0M77.8 541h0M89.1 547.3h0M89.8 537.1h0M76.4 526.8h0M88.1 548.8h0M76.8 542.7h0M89.4 553.2h0M78.4 520.4h0M89.4 551.2h0M94 553.1h0M75.4 533.3h0M91.2 547.4h0M91.9 555.1h0M96.2 544.4h0M79.9 536.6h0M73.2 534h0M80.6 531.9h0M82.2 531.9h0M80 544h0M86.7 551.3h0M91.7 547.1h0M95.3 553.2h0M87 527.8h0M77.2 542h0M88.2 526.3h0M71.3 528.9h0M88.2 529.2h0M87.4 539.4h0M71.6 529.3h0M93.2 532.6h0M82.1 550h0M97.3 548.8h0M94.6 538.8h0M82.8 533.4h0M73.5 534.4h0M82 519.5h0M86.1 532.7h0M87.1 551.1h0M86.5 554.2h0M78.4 524.9h0M86.6 532.6h0M93.5 553.3h0M72.2 526.5h0M85.8 546.6h0M84.8 550.9h0M80.8 537.8h0M83.8 549.3h0M86.5 535.9h0M83.1 520.1h0M90.8 532h0M75.1 531.4h0M77.5 537.4h0M90.2 540.4h0M82.5 549.8h0M80.5 525h0M94.1 537h0M82.5 539.9h0M91.6 542.7h0M96.7 541.7h0M75.1 539.3h0M77.1 535.6h0M87.4 525.3h0M88.7 552.3h0M91.9 552.4h0M79.3 529h0M74.5 523.6h0M90 533.3h0M76.2 529.8h0M78 532.9h0M86 554.3h0M91.8 539.5h0M85.2 524.4h0M85.7 530.3h0M83.9 523.8h0M79.9 541.9h0M73.8 535h0M85.9 524.4h0M74.5 524.6h0M94.2 542.1h0M94.4 540.9h0M86.5 535.4h0M79.8 537.4h0M83.6 527.2h0M94.1 552.2h0M95.3 538.6h0M80 519.6h0M88.7 538.7h0M95.3 543.1h0M94.6 544.2h0M89.8 553.6h0M86.8 528.2h0M93.6 546.8h0M77.7 536.4h0M90.9 544.2h0M77.6 523.8h0M85.8 535.5h0M88.2 534.2h0M90 526.3h0M86.7 542.6h0M76.4 527.5h0M92.8 532.4h0M81.3 537.9h0M80.1 523.3h0M79.6 532.8h0M80 520.5h0M92.5 551.6h0M90 547h0M93.1 532.8h0M80.2 549.1h0M90.8 535.4h0M83.2 541.2h0M74.7 523.8h0M86.8 540.7h0M78.8 519.7h0M91.2 551.1h0M94.5 551.6h0M76.8 538.5h0M92.6 547.5h0M95.5 540.1h0M93.8 544.7h0M95.4 542.2h0M76.5 537.2h0M79.4 520h0M82.1 527.4h0M87.5 549.6h0M88.5 532.5h0M95.2 552.1h0M93 541.5h0M88.2 554.5h0M92.2 545.5h0M90.1 547.4h0M84.5 524.7h0M79.8 547.4h0M97.2 543.2h0M92.8 554.9h0M93.6 540.7h0M79.5 533.2h0M94.1 555h0M97 541.7h0M79.6 536.9h0M79.6 538h0M95.8 549.7h0M85.4 526.5h0M84 528.6h0M82.8 529h0M85.8 540.8h0M82.8 535.5h0M78.5 529h0M91.2 533.5h0M89.3 547.3h0M94.9 544.3h0M82.8 534h0M91 543.4h0M83.6 525.9h0M95.2 538.2h0M78.6 534.9h0M89 529.3h0M83.3 545.4h0M88.6 538.3h0M88.9 531.2h0M93.5 544h0M72.7 531.8h0M88.2 543.3h0M87.4 555.5h0M85 527.5h0M88.4 539.2h0M96.8 547h0M97.7 547.7h0M88 524h0M75.4 532.2h0M80.5 525.6h0M88.4 551.7h0M85.8 546.7h0M81.1 532.9h0M88.3 524.6h0M90.4 544.3h0M92.8 545.2h0M83.3 539.7h0M88 555.3h0M88.3 528.5h0M93.9 540.8h0M83.1 541.3h0M83.9 533.3h0M85.4 550.2h0M95.1 553.1h0M83.7 532.8h0M91.8 549.1h0M85.8 540.4h0M75.3 538.7h0M79 526.3h0M88.5 545.4h0M95.1 543.7h0M84.5 529.7h0M79.5 531.9h0M83.8 549.9h0M77.1 537.1h0M74.2 524.5h0M83.3 533.4h0M80.1 528.4h0M91.2 531.4h0M74 537.2h0M73.4 528.5h0M91.1 545.2h0M84.8 533.9h0M82.8 524.7h0M90.6 527.8h0M77.9 530.6h0M86 538h0M91.1 533.9h0M82.5 534.3h0M79.1 546.9h0M91.6 549.7h0M90.1 550.9h0M78.7 544.1h0M86.9 528h0M87.6 542.3h0M72.7 521.6h0M82.9 545.2h0M77.6 529.8h0M91.9 533.6h0M79.2 528.7h0M96.7 542.2h0M77.3 527h0M94.1 553.4h0M83.9 538.1h0M82.1 527.8h0M96.2 549.6h0M85.9 524.1h0M85.7 552.3h0M86.7 550h0M79.8 538h0M81.5 542.2h0M89.2 530.2h0M84 546.7h0M78.1 529.7h0M90 552h0M76.7 519.5h0M73.3 524.7h0M75.6 535.1h0M92.6 548h0M81.1 541.5h0M81.9 528.7h0M81.3 531.9h0M95.6 545h0M80.6 538.8h0M80.7 542.1h0M93.1 532.7h0M79.4 543.3h0M71.9 530.7h0M76.9 537h0M82 527.2h0M86.2 521.6h0M79.4 525.9h0M86.5 523.7h0M73.3 520.8h0M85 521.3h0M86.8 541.5h0M88.8 539.2h0M80 535.6h0M93 541.2h0M79.5 522.5h0M93.3 544h0M88.7 532.3h0M83.8 546.9h0M89.9 554.7h0M81.2 523h0M84.9 534.9h0M84.9 552.9h0M91.6 531.4h0M87.8 543.7h0M79.7 538.1h0M80.1 532.4h0M88.4 535.4h0M80.2 524.1h0M87.1 536.3h0M86.9 530.9h0M95.4 544.6h0M74.4 526.2h0M81.9 549.1h0M75.5 522.7h0M76.9 534.5h0M88.5 534.2h0M88 536.4h0M76.8 534h0M78.5 535.2h0M88.8 555.1h0M86.5 544.8h0M84.6 539.4h0M85.2 543.3h0M72.9 526.6h0M80.8 530.6h0M97.4 550h0M91.6 542.2h0M93.2 548h0M78.7 532.6h0M92 555.3h0M89.9 554.1h0M90.4 543.3h0M85.7 534h0M77.5 533.4h0M89.6 555.4h0M87.3 549.7h0M93.5 544.2h0M77.4 530.2h0M80.3 539.5h0M89.7 552.4h0M80.1 525.8h0M88.1 525.1h0M81.3 548.9h0M85.8 530.3h0M75.1 523.9h0M87.7 528.6h0M80.6 526.6h0M73 529.6h0M84.3 531.6h0M91.6 536h0M88.3 544.7h0M94.4 545.3h0M75.1 524.8h0M80.5 532.3h0M77.7 526.7h0M77.5 540.8h0M71.6 528.4h0M91.1 538.9h0M77.2 523.1h0M82.9 547.7h0M79.7 530.3h0M72.7 527.1h0M88.9 539.4h0M86.8 532.6h0M82.2 529h0M84.1 550.6h0M88.6 538.7h0M74 520.9h0M76.7 539.5h0M81.6 548.3h0M83.9 550.1h0M91 538.6h0M91.4 543.3h0M86.5 530.7h0M76 526.7h0M86.4 540.6h0M91.2 551.1h0M72.9 530.5h0M87 549.3h0M89.7 553.8h0M83.4 548.2h0M76 539.8h0M95.3 546.3h0M96 548h0M90.7 554.5h0M90.5 547.9h0M73.3 535.7h0M80.3 526.5h0M89.9 541.4h0M87.4 554.4h0M88.5 528.5h0M86.7 554.8h0M72.4 521h0M90.4 541.7h0M85.5 534.2h0M95 542.9h0M93.2 548.3h0M85.9 554h0M82.2 529.5h0M84.9 551.7h0M88.4 545.8h0M89.3 531.5h0M92.3 540.7h0M74.7 525.2h0M73.9 534.8h0M75.3 539.8h0M94.4 548.5h0M78.5 544.3h0M80.6 533h0M82.8 526.2h0M78.6 526.7h0M84.7 550.1h0M89.4 541.1h0M86.3 522.9h0M95.3 538.1h0M84.9 527h0M78.5 540.6h0M77.7 543.2h0M91.4 554.6h0M90.6 537h0M91.3 532.4h0M88.7 524.6h0M79.5 529.9h0M96 540.9h0M74.6 536.7h0M78.2 537.1h0M81 541.1h0M73.9 527.1h0M78.9 537.3h0M84.6 532.9h0M89.2 549h0M84.7 549.1h0M79.9 522.3h0M81.3 521.4h0M80 520h0M79.8 533.6h0M88.7 551.8h0M86.2 548.8h0M76.8 525.2h0M93.3 548.1h0M82.8 547.2h0M78.2 535.3h0M87.4 527.1h0M83.2 539.3h0M74.1 535h0M96 547.2h0M86.8 529.2h0M81.6 532.6h0M92.7 550.3h0M94.5 542.9h0M74.7 532.7h0M85.8 543h0M74.2 532.7h0M72.9 531.7h0M78.9 538.2h0M96.5 547.3h0M89.8 536.5h0M83.8 538.2h0M93.8 548.1h0M80.1 522.1h0M80.1 535.3h0M78.4 545.5h0M82.1 528.7h0M89.7 531h0M81.2 548.1h0M83 551.4h0M76.8 526.3h0M75.9 527.2h0M76 539h0M83.8 552.5h0M85.6 552.3h0M81.3 549.6h0M76.9 523.6h0M83.2 548.7h0M95.1 542.7h0M81.8 531.8h0M78.5 533.3h0M94.9 542.2h0M95.2 541.8h0M82.1 546h0M87.7 536.5h0M78.2 537.3h0M84.9 522.3h0M90 540.1h0M89 527.6h0M77.2 543.3h0M71.9 523.3h0M73.7 525.7h0M96 540.3h0M89.3 533.5h0M79.6 526.4h0M91 532.5h0M82 549.1h0M86.4 531.6h0M94 555.1h0M75.8 528.3h0M79.1 531h0M93.8 542.2h0M88.3 541.5h0M86.1 533.9h0M81.9 519.9h0M84.3 536.4h0M81 526.3h0M86.7 535.5h0M76.8 527.3h0M75.7 519.9h0M89.4 532.7h0M73.8 526.9h0M90.5 530.9h0M86.2 522.1h0M89.5 551.8h0M94.5 547.6h0M89.4 541.7h0M72.5 530h0M80 527.5h0M78.1 525.4h0M91.8 529.9h0M78.9 525h0M87.4 523.1h0M82.6 542.2h0M74.6 520.4h0M90.1 539.7h0M82.5 541h0M93.9 551h0M80.9 527.4h0M86.3 533h0M76.1 528.8h0M77.7 537h0M87.1 546.3h0M85.7 546.8h0M76.7 531.6h0M87.3 522.8h0M93.1 548.6h0M90.4 531h0M76 526h0M77.1 542h0M77.4 539.6h0M91.8 551.3h0M91.2 531h0M90.6 553.7h0M85.4 536.3h0M71.4 529.6h0M94.1 536.2h0M95.9 550.1h0M83.8 538.6h0M74.9 538.6h0M83.9 544.4h0M90.1 552.7h0M95.1 549.7h0M75 535.2h0M90 534.3h0M75.6 527.4h0M77 533.8h0M91.2 541.1h0M81.8 532.8h0M83.4 531.6h0M91.2 539.2h0M82.8 540.6h0M92.1 536.3h0M88.9 529.4h0M89.2 527.4h0M89.7 542.4h0M79.1 539.9h0M79 527h0M88.4 523.9h0M80.6 531.4h0M88.1 551.1h0M91.6 538.9h0M80.5 522h0M79.1 535.8h0M83.1 531.7h0M91 553h0M86.6 535.8h0M92.6 541.4h0M87.6 528.2h0M86.1 544.3h0M87.3 539.8h0M89.9 552.9h0M90.4 545.2h0M85.2 535.4h0M81.2 532.8h0M81.9 526.4h0M92.9 540.3h0M88 552.3h0M82.3 546.8h0M77.8 532h0M81.9 540.8h0M78.1 524.9h0M71.7 525.1h0M94.5 550.1h0M79.3 535.5h0M81.9 539.5h0M77.5 520.5h0M86 554.2h0M93.4 541.4h0M74.2 534.2h0M87.7 545.1h0M83.7 546.2h0M96.6 543.6h0M82 550.2h0M71.3 527.9h0M87.6 549.1h0M78.5 544.4h0M95.5 548h0M84.8 548.2h0M94.6 535.7h0M77.4 531.4h0M75.9 525.3h0M81.1 534.6h0M80.4 530.6h0M74.9 538.2h0M80.4 529.5h0M81.2 543.9h0M89.9 548.8h0M93.3 544h0M84.8 531.3h0M73.8 522.8h0M96.3 544h0M85.9 531.3h0M85.9 551.3h0M75.3 537.8h0M73.1 523.4h0M80.3 537.4h0M79 532.1h0M83.5 524.7h0M91.1 545.7h0M75.1 524.6h0M75.6 534.1h0M82.8 538.6h0M80 524.3h0M96.4 546.2h0M84.5 532h0M86.8 532.2h0M80.7 544.1h0M72.8 522.7h0M75.3 534.5h0M82.1 536.2h0M89.6 545.6h0M89.9 531h0M88.7 539.4h0M86.7 528.8h0M90.2 526.5h0M72.1 521.4h0M84.6 522.3h0M85.6 524h0M95.6 544.6h0M96 549.7h0M92 540.9h0M80.5 523.2h0M74.9 521.4h0M95.1 545.9h0M82.2 550.6h0M85.4 544h0M78.4 532.4h0M81.4 536h0M88.9 528.8h0M86.8 536.2h0M78.1 542.8h0M82.5 541h0M85.7 535.3h0M90.8 548.4h0M72 521.5h0M84.8 546.8h0M90.9 544.8h0M80.2 538.2h0M86.2 522.6h0M85 535.2h0M84.1 549.9h0M90.2 540.9h0M83.9 543.7h0M88.5 528.3h0M82.8 525h0M86.4 551.2h0M82.6 534h0M80.9 539.2h0M89.7 538.7h0M85.8 540.9h0M89.3 530.5h0M75.7 531.6h0M80.3 538h0M87.8 528.4h0M82.3 539.8h0M91.8 549.2h0M90.1 552.5h0M86.1 530.7h0M80.2 542.7h0M90.4 542.1h0M72.9 529.2h0M82 546.5h0M87 545h0M96.6 543.7h0M91.5 529.3h0M90.6 550.8h0M89.6 529.6h0M86.7 532.4h0M83.6 549.6h0M87.1 551.7h0M95.4 553.4h0M89.3 542.4h0M81 536.1h0M71.8 526h0M90.6 535.2h0M87.4 536.5h0M78.9 542.5h0M75.2 529h0M89.3 546.6h0M92.5 541.5h0M91.7 531.6h0M81.2 530.5h0M92.2 537h0M82.9 535h0M81.4 532h0M83.8 523h0M78.3 539.1h0M83.2 520.5h0M83.9 535.8h0M79.9 521.1h0M83.2 551.2h0M76.8 520.7h0M76.2 534.9h0M86.6 535.1h0M91.9 543.2h0M96.4 550.1h0M84.1 540.6h0M89.3 540.9h0M89.1 526.4h0M83.7 536.1h0M73.7 525.7h0M88.5 535.7h0M94.9 539.3h0M87.6 547.9h0M83.8 522.2h0M78.9 526.1h0M94.3 542h0M74.6 532.9h0M78.6 524.1h0M83.6 529.4h0M92.6 535.5h0M88.5 524.3h0M71.2 530.3h0M82.1 523.2h0M92.4 541.6h0M96.4 548.2h0M71.4 528.3h0M95.7 539.9h0M82.3 541.9h0M82.2 533.4h0M85.3 546.8h0M86.6 522.3h0M84.9 540.4h0M84.4 526.4h0M82.2 530.1h0M74.2 528.2h0M73.4 531.8h0M89.7 540.4h0M83.1 526.2h0M94.5 539.3h0M92.5 539.2h0M94.3 553.1h0M90.1 549.2h0M86.9 524.3h0M77.8 533.5h0M86.8 534h0M84.4 532.1h0M87.4 541h0M89.8 544.4h0M97.1 547.9h0M90.7 528.7h0M81 538h0M77.1 527h0M77.7 539.4h0M88.7 528.1h0M89.6 531.6h0M74.1 523h0M78.2 544.9h0M94.2 536.2h0M92.4 534.4h0M81.1 544.5h0M96.6 540.8h0M82.6 533.5h0M81.4 530.8h0M95.7 541.1h0M77.1 533.3h0M85.5 536.4h0M85.4 550h0M77.8 539.1h0M75.4 537h0M73.1 523.2h0M86 545.9h0M88.3 549.4h0M90.3 535.9h0M72.8 531.4h0M80.9 534.5h0M91.1 536.3h0M75.1 522.8h0M89.7 537.4h0M71.8 527h0M75.2 532.7h0M91.6 532.7h0M83.6 536.8h0M82.3 524.3h0M92.6 535h0M78.8 539.8h0M86.7 550.2h0M80 541.3h0M78.4 543.6h0M85.6 532.7h0M82.4 549.5h0M78.6 534.9h0M88.3 531.1h0M84 551.4h0" stroke="#e9a6d2" stroke-width="0.95" stroke-linecap="round"/>
<path d="M59 520.5C59.2 519.5 60.8 517.4 62 516.5C63.2 515.6 65.5 515 66.5 515.2C67.5 515.4 68.2 516.5 68 517.5C67.8 518.5 66.7 520.5 65.5 521.3C64.3 522.1 62.1 522.6 61 522.5C59.9 522.4 58.8 521.5 59 520.5Z" fill="#f5cf55" filter="url(#soft)"/>
<path d="M63.6 518.2h0M60.5 521.6h0M59.2 520.5h0M64.2 520.4h0M63.6 517.1h0M61.2 521.7h0M62 516.5h0M61.9 520.3h0M64.6 520h0M63.7 517.5h0M63.7 520.2h0M63.2 519.5h0M65.3 519.9h0M64.1 516h0M59.7 519.8h0M61.9 517.5h0M61.8 517.9h0M65.7 517.3h0M62.9 518.9h0M63.9 518.5h0M60.9 519.6h0M64.1 520.9h0M64.3 520.2h0M62.5 520.4h0M61.2 520.5h0M64.6 517.9h0M63.2 516.5h0M66.1 517.5h0M66.5 516.8h0M64.5 519.7h0M66.7 515.8h0M59.4 520.3h0M63.1 516.9h0M64 518.7h0M65.2 518.2h0M62.3 519.4h0M63.9 517.7h0M62.4 520.7h0M62.6 518.8h0M63.9 517.7h0M64.4 521h0M60.2 519h0M67.1 517h0M62.4 519.7h0M65.8 517.7h0M61.2 521.5h0M64.7 516.2h0M65.5 515.9h0M66.1 520.2h0M66.9 518.1h0M61.2 522h0M62 520.4h0M64.6 516h0M67.1 517.4h0M64.1 517.8h0M61.4 522h0M61 520.8h0M63.2 521.7h0M60.7 519.9h0M63.6 517.8h0" stroke="#f1bf2a" stroke-width="0.95" stroke-linecap="round"/>
<path d="M116 543.5C117 542 119.2 540.7 121 540.3C122.8 539.9 125.6 540 127 541C128.4 542 129.4 544.2 129.5 546C129.6 547.8 129.1 550.8 127.5 552C125.9 553.2 122.1 553.9 120 553.5C117.9 553.1 115.7 551.2 115 549.5C114.3 547.8 115 545 116 543.5Z" fill="#3a44a0" filter="url(#soft)"/>
<path d="M121 550.4h0M128.4 544.1h0M122.6 551.7h0M122.6 541h0M123.5 542.4h0M126.4 542.3h0M122.9 544.1h0M125.7 545h0M122.5 548.9h0M118.6 546.9h0M122.4 542.2h0M125.1 542.6h0M124.5 552.4h0M123.5 551.9h0M123.4 545.7h0M121.9 551h0M126.5 547.3h0M123.5 544.2h0M117.5 547.4h0M117 544.3h0M116.1 548.3h0M128.4 546.3h0M122.3 546.2h0M118 551.7h0M125.4 545.5h0M123.3 551.5h0M124.2 542h0M119.2 552.8h0M123.3 542.7h0M123.3 548.4h0M126.2 550.2h0M124.9 544h0M118.4 542.2h0M118.9 544.6h0M121 542.6h0M124.6 551h0M122.9 546h0M118 550.8h0M117.3 543.1h0M119.8 550.9h0M122.7 542.9h0M126.6 547.3h0M127 543.2h0M115.9 548.2h0M122.7 550.5h0M122 543.8h0M127.5 549.3h0M119.5 542.9h0M123.2 545.4h0M120 546.9h0M127.2 547.8h0M117.3 551h0M120.6 541.6h0M117 544.4h0M120.9 541.2h0M125.7 550.6h0M124.1 546.9h0M122 549.5h0M128.9 545.1h0M122.1 546.5h0M118.6 550.8h0M123.5 546h0M119.1 551.6h0M126 544.4h0M126.3 551.4h0M126.4 545.2h0M121.5 543.6h0M125.3 542h0M125.9 543.2h0M115.6 547.7h0M118.1 548.1h0M126.1 546.8h0M127.8 544.1h0M123.1 543.4h0M127.9 548.8h0M121.5 541.1h0M122.7 549.3h0M126.1 545.1h0M120 542.8h0M120.2 546.5h0M118.1 549.5h0M122.3 549.5h0M123.7 551.2h0M126.6 546.1h0M125.7 546.5h0M126.1 540.9h0M119.6 545.3h0M120.1 552.8h0M125.7 545.7h0M120.3 551.5h0M118 544.9h0M126.1 548h0M125.3 543.8h0M122 546.1h0M121.3 543.7h0M126.5 541.9h0M122.9 544.8h0M116.8 548.7h0M128.1 548.7h0M121.7 544.6h0M118.8 542.5h0M126.5 548.7h0M118.3 548.8h0M125.9 549.2h0M116.2 543.7h0M128.2 545.3h0M124.5 547.3h0M127.1 546.1h0M124.5 548.1h0M119.9 545h0M115.8 546.7h0M120.1 543.6h0M123.4 548.7h0M123.3 543.3h0M123.7 547.8h0M117 549h0M121.2 550.2h0M124.8 549.5h0M121.9 542.2h0M116.8 548.9h0M118.4 546.8h0M122.4 551.6h0M124.3 541.1h0M123.3 545.7h0M124.9 541.9h0M123 549.6h0M121.8 542.4h0M127.4 545h0M121.2 542.7h0M119.9 543.7h0M128 545.4h0M124.8 547.8h0M122.1 540.5h0M126.8 549.6h0M122.6 542.4h0M126.4 545.5h0M122.8 548h0M121.2 540.8h0M127.8 550.7h0M125.6 546.4h0M118.8 545.7h0M119.1 543.8h0M122.5 549.1h0M125.1 552.2h0M125.3 547.8h0M128 548.9h0M129 546.8h0M116.2 546.8h0M128.1 549.7h0M122 547.7h0M118.5 545.6h0M115.5 547.3h0M120.9 540.4h0M116.9 550.2h0M115.7 549.5h0M120.6 547.5h0M125.1 544.3h0M125.5 543.3h0M122.1 547.4h0M120.5 547.2h0M126.5 547.5h0M120.9 548.2h0M123.8 541.8h0M120.2 544.1h0M118 548.5h0M129.2 546.6h0M120.8 550.6h0M116 546.7h0M127.1 551.5h0M126.6 548.3h0M124.5 545h0M128 547.9h0M116.5 546.8h0M116.3 544.3h0M120.3 552.8h0M127.2 546.3h0M125.6 546.7h0M118.9 545.7h0M123.8 549.9h0M127.4 544.1h0M117.6 546.2h0M116.8 546.5h0M125.8 544.3h0M124.6 550.1h0M117.8 546.3h0M121.4 546.6h0M118.7 548.3h0M126.1 547.8h0M127.4 545.3h0M123.2 543.2h0M124 547.3h0M127.1 543.5h0M118 550.8h0M121.4 543h0M118.1 547.4h0M120.1 543h0M125.3 542.4h0M119.1 550.7h0M120.1 548.6h0M120.4 544.2h0M127 541.3h0M124.7 543.8h0M126.2 546.3h0M123.2 547.6h0M116.9 546.4h0M124 548h0M118.8 545.3h0M126.2 546.9h0M125.8 549.6h0M126.4 548.1h0M124.8 551.7h0M123.8 545.2h0M128.4 545h0M124.9 542.3h0M126.4 541.4h0M122.8 546.9h0M126.7 550.4h0M121.4 551.8h0M125.5 544.3h0M122.7 549.3h0" stroke="#2c3794" stroke-width="0.95" stroke-linecap="round"/>
<path d="M108 478C108.8 476.7 111.3 475.4 113 475.2C114.7 474.9 117.1 475.4 118 476.5C118.9 477.6 119 480.2 118.3 481.5C117.6 482.8 115.7 484.1 114 484.3C112.3 484.6 109.3 484.1 108.3 483C107.3 481.9 107.2 479.3 108 478Z" fill="#e2eba6" filter="url(#soft)"/>
<path d="M117.4 480h0M110.4 483.5h0M118 477.2h0M111.8 481.8h0M117.8 479h0M109 478.6h0M108.8 482.6h0M110.3 477.4h0M115.4 479h0M114.7 476.4h0M116.7 478.5h0M117.3 478.5h0M112.5 481.7h0M110.3 480.8h0M115.8 480.5h0M108.6 481h0M114.8 483.5h0M109 482.6h0M109.6 482.5h0M116.8 478.2h0M113.5 476.7h0M113.8 484.2h0M116.2 477.1h0M117.9 478.5h0M114 483.6h0M111.2 478.7h0M113.3 483.2h0M108.7 480.6h0M113.4 478.8h0M110 479.3h0M114.1 476.3h0M115.5 479.6h0M111.7 478.2h0M114.6 477.1h0M114.5 479.3h0M110.4 476.8h0M113.9 477.6h0M111.8 481.9h0M109.6 477.6h0M109.1 478.4h0M109 479.9h0M110 479.6h0M113.1 477.4h0M111.9 481.4h0M113.7 476h0M109.1 477.9h0M113.9 478.1h0M113.5 476.2h0M114.7 479.3h0M109.2 482.3h0M111.4 477.1h0M108.6 478.5h0M114.4 484h0M111.2 482.5h0M118 478.8h0M110.6 477.2h0M114.1 478.2h0M115.5 480.4h0M114.1 481.2h0M112.2 481.2h0M108.7 479.3h0M112.7 479.3h0M115.9 480.8h0M108.6 479.8h0M111.3 483.5h0M111.4 482.6h0M116.8 477.3h0M114.6 479.8h0M113.6 476.8h0M111.3 479.8h0" stroke="#bcd03c" stroke-width="0.95" stroke-linecap="round"/>
<path d="M110.6 480.3h0M111.3 482h0M110.5 479.7h0M112.1 480.5h0M111.1 480h0M110.1 481.5h0M110.3 479.8h0M110 480.8h0M112.3 481.6h0M108.6 481h0M112.2 480.7h0M110.8 480.4h0M109.2 481.8h0M110.9 482h0M111 480.5h0" stroke="#3fb0c4" stroke-width="0.8" stroke-linecap="round"/>
<path d="M108.5 487C109.4 485.6 112.3 485.3 114 485.5C115.7 485.7 117.8 486.6 118.5 488C119.2 489.4 119.2 492.6 118.3 494C117.4 495.4 114.6 496.5 113 496.5C111.4 496.5 109.5 495.6 108.8 494C108 492.4 107.6 488.4 108.5 487Z" fill="#f8e09a" filter="url(#soft)"/>
<path d="M116.7 491.4h0M113.8 489.1h0M116 493.4h0M112.4 487.9h0M110 486.6h0M114.4 491.9h0M113.8 494.3h0M112.6 490.8h0M111.5 490.8h0M116.5 491.7h0M110.3 492.3h0M114.9 486.3h0M109.9 488.3h0M114.7 486.1h0M112.8 493.5h0M109.1 492.4h0M113.3 492.5h0M112.3 492.1h0M109.5 489.9h0M110.8 488.6h0M117.8 490.9h0M111.9 495h0M111.4 488.2h0M109.8 488.4h0M109 490.4h0M111.9 493.7h0M110.9 488.1h0M113.1 489.2h0M108.8 491.1h0M110.1 489.4h0M115.7 493.6h0M113.8 494.2h0M113.4 489.4h0M109.4 490.6h0M115.1 493.4h0M108.8 492.5h0M115.6 490h0M111.7 493.8h0M113.6 488.2h0M114.2 486.6h0M112.3 494h0M110.9 488.3h0M113.8 490h0M115.5 492.9h0M112.5 488.9h0M115 488.7h0M110 494.7h0M114.8 487.3h0M114.4 494.7h0M113.6 490.9h0M110.6 486.6h0M113.7 495.7h0M113.7 491.3h0M113.9 495.1h0M115.6 491.3h0M116.9 492.5h0M113.5 492.1h0M116 487.4h0M113.5 493.9h0M117.3 492.5h0M116.6 492.2h0M116.7 493.1h0M118.3 489.9h0M117.9 490.9h0M114.5 494.1h0M113.2 490.3h0M112.5 488.9h0M115.5 487h0M114.3 487.6h0M110.5 492h0M113.5 486.9h0M110 493.7h0M115 493.1h0M111.8 492h0M111.8 490h0M111.6 487.3h0M113.4 487.8h0M117.9 488.4h0M113.7 492.2h0M116.9 493h0M112.6 492.1h0M112.4 494.4h0M117.6 491.7h0M110.8 490.7h0M113.4 493h0M110 494.6h0M112.5 490.7h0M111 494.8h0M113.7 488.7h0M108.9 490.5h0M117.1 488.4h0M113 495.9h0M116.2 494.5h0M117.5 494h0M116.8 487.8h0M114.6 493.1h0M111.8 492.3h0M117.6 492h0M111.8 486.2h0M111.7 492.6h0M111.3 493.4h0M113.8 494.1h0M110.5 490.9h0M110 491.8h0M108.9 488h0M109.3 494.1h0M112 490.4h0M109 487.6h0M115.6 493.6h0M111.5 492.7h0" stroke="#f1bf2a" stroke-width="0.95" stroke-linecap="round"/>
<path d="M124 492.4h0M119.1 491.9h0M117.9 492.4h0M120.7 491.7h0M119.5 493.2h0M117.8 491.1h0M120.6 493.5h0M124.1 492h0M123.9 491.2h0M125.6 494.2h0M123.3 491.9h0M117.8 491.6h0M121.2 491h0M126.6 491.8h0M126.1 493.7h0M121.8 491.6h0M124.3 492.7h0M122.3 493.6h0M121.6 493.2h0M116.6 490.2h0M122 487.6h0M121.4 492.1h0M127.3 492.2h0M118 491.6h0M119.6 491.9h0" stroke="#2fb3b3" stroke-width="0.8" stroke-linecap="round"/>
<path d="M129 492C129.9 490.1 132.4 489.5 134 489.5C135.6 489.5 137.8 490.4 138.5 492C139.2 493.6 139.2 497 138.5 499C137.8 501 135.7 503.7 134 504C132.3 504.3 129.3 503 128.5 501C127.7 499 128.1 493.9 129 492Z" fill="#b5e6e6" filter="url(#soft)"/>
<path d="M134.5 498.1h0M136.9 495.9h0M128.8 500.7h0M133.2 494.6h0M137.5 492.3h0M129 493.3h0M134.6 500.2h0M134.8 498.7h0M134 497.1h0M133.5 496h0M135 492.3h0M133.5 501.5h0M136.7 492h0M137.2 495h0M133.3 496.5h0M132.6 502.1h0M130.7 496.9h0M133.1 493.6h0M129.3 500.4h0M133.4 497h0M135.3 492.1h0M137.8 499.7h0M133.8 500.3h0M135.5 495.9h0M133.2 490h0M136.8 499.3h0M129.2 498.5h0M135.9 492.2h0M137 499.5h0M131.8 497.4h0M135.9 501.7h0M136.8 493.7h0M133.9 503.1h0M136.1 492.1h0M128.8 498.4h0M137.8 493.2h0M132.9 494.4h0M132.8 490.2h0M137.2 496h0M130.2 495.6h0M133.5 491.6h0M134.7 500.1h0M129.3 498.1h0M136.7 499.8h0M129.6 499.2h0M134.9 494.8h0M130.4 494.8h0M129.4 499h0M133.7 503.7h0M131.2 494.2h0M133 500.9h0M136.7 496.9h0M131 498h0M138.3 492.2h0M133.6 503.6h0M129.8 496.1h0M131.4 493.3h0M134 499.9h0M134.7 501.3h0M130.3 492.5h0M129.3 498.5h0M138 492.2h0M131.7 496.9h0M130.3 501.9h0M130.8 499.9h0M132.4 496.2h0M132.6 497.6h0M131.3 497.1h0M134.2 491.2h0M132.6 501.8h0M132.5 498.2h0M129.2 494.7h0M137.9 496.3h0M131.2 500.7h0M132.9 495.6h0M130.9 493.4h0M129.8 496.9h0M132.7 496.7h0M132.3 498.2h0M131.5 492h0M133.8 494h0M128.8 497.8h0M133 495.1h0M130.4 501.5h0M135.7 496.5h0M134.6 494.8h0M132.1 499.3h0M137.2 493.9h0M130.1 496.6h0M135.3 492.7h0M131.4 499.2h0M130.4 491.6h0M135.2 498.4h0M134 497.1h0M133.3 493.9h0M134.1 497.8h0M134.9 491.4h0M133.3 501.3h0M129.8 499.5h0M130.8 500.5h0M133.9 497.2h0M136.7 494h0M134 502.8h0M138.2 494.9h0M133.2 491.1h0M133.8 499.6h0M129.7 499.6h0M134.8 498.6h0M132.7 491.6h0M136.4 500.8h0M135.4 499.5h0M135.9 498.7h0M128.9 494.1h0M133.5 503.3h0M133.6 498.4h0M131.1 493.7h0M134 492.1h0M135.7 499.7h0M132.4 493.5h0M131.7 496.8h0" stroke="#2fb3b3" stroke-width="0.95" stroke-linecap="round"/>
<path d="M21.6 484.4h0M20.7 486.2h0M21.6 485.4h0M21.4 485.7h0M22.4 485.5h0M20.8 486.4h0M21.1 486h0M21.6 485.6h0M21.9 484.4h0M21.7 485.6h0M20.3 485.8h0M21.7 486.3h0M20.8 485.6h0M21.3 484.9h0" stroke="#bcd03c" stroke-width="0.9" stroke-linecap="round"/>
<path d="M51.3 540h0M51.9 539.4h0M54.3 541.6h0M51.8 539.9h0M54.6 541.9h0M54.1 541.3h0M54.1 542.5h0M53 541.6h0M53.4 542h0M53.4 541.3h0M50.6 539.8h0M54.3 541.3h0M52.5 541.3h0M54 542.2h0" stroke="#2c3794" stroke-width="0.9" stroke-linecap="round"/>
<line x1="18.3" y1="525.8" x2="18.3" y2="562.9" stroke="#222" stroke-width="0.9"/>
<line x1="17.9" y1="562.7" x2="55.8" y2="562.7" stroke="#222" stroke-width="0.9"/>
<text x="13.4" y="544" font-size="8.2" text-anchor="middle" fill="#222" transform="rotate(-90 13.4 544)" textLength="22" lengthAdjust="spacingAndGlyphs" stroke="#222" stroke-width="0.3">UMAP_2</text>
<text x="26" y="572.9" font-size="8.2" text-anchor="start" fill="#222" textLength="22.2" lengthAdjust="spacingAndGlyphs" stroke="#222" stroke-width="0.3">UMAP_1</text>
<circle cx="8.7" cy="586.9" r="2" fill="#3aa3a6"/>
<text x="13.8" y="589" font-size="6.17" text-anchor="start" fill="#222">Immature B cells (CD19+ CD38+ CD28− CD27− CD81+ CD117−)</text>
<circle cx="8.7" cy="595" r="2" fill="#e1bf3a"/>
<text x="13.8" y="597.1" font-size="6.17" text-anchor="start" fill="#222">Naive B cells (CD19+ CD38− CD28− CD27− CD81+ CD117−)</text>
<circle cx="8.7" cy="603.2" r="2" fill="#b2c83e"/>
<text x="13.8" y="605.3" font-size="6.17" text-anchor="start" fill="#222">Memory B cells (CD19+ CD38− CD28− CD27+ CD81+ CD117−)</text>
<circle cx="8.7" cy="611.3" r="2" fill="#e0506e"/>
<text x="13.8" y="613.4" font-size="6.17" text-anchor="start" fill="#222">T/NK cells (CD19− CD38− CD28− CD27+ CD81+ CD117−)</text>
<circle cx="8.7" cy="619.4" r="2" fill="#4d0a2a"/>
<text x="13.8" y="621.5" font-size="6.17" text-anchor="start" fill="#222">T/NK cells (CD19− CD38− CD28+ CD27− CD81+ CD117−)</text>
<circle cx="8.7" cy="627.5" r="2" fill="#e4bce4"/>
<text x="13.8" y="629.6" font-size="6.17" text-anchor="start" fill="#222">T/NK cells (CD19− CD38− CD28− CD27− CD81+ CD117−)</text>
<circle cx="8.7" cy="635.7" r="2" fill="#3f4690"/>
<text x="13.8" y="637.8" font-size="6.17" text-anchor="start" fill="#222">T/NK cells (CD19− CD38− CD28+ CD27+ CD81+ CD117−)</text>
<circle cx="8.7" cy="643.8" r="2" fill="#1f8a94"/>
<text x="13.8" y="645.9" font-size="6.17" text-anchor="start" fill="#222">T/NK cells (CD19− CD38+ CD28+ CD27+ CD81+ CD117−)</text>
<text x="325.5" y="450" font-size="10" text-anchor="start" fill="#111" font-weight="bold">E</text>
<path d="M398 470C399.8 468.4 406 467.2 410 466.5C414 465.8 418.7 465.1 422 466C425.3 466.9 428 469.7 430 472C432 474.3 433.2 477 434 480C434.8 483 435.2 486.7 434.5 490C433.8 493.3 432.4 497.3 430 500C427.6 502.7 424.2 504.5 420 506C415.8 507.5 410 508.3 405 509C400 509.7 394.5 510.3 390 510C385.5 509.7 380.7 508.3 378 507C375.3 505.7 372.7 502.7 374 502C375.3 501.3 382.2 503.3 386 503C389.8 502.7 394.8 502.3 397 500C399.2 497.7 398.7 493 399 489C399.3 485 399.2 479.2 399 476C398.8 472.8 396.2 471.6 398 470Z" fill="#f6d6ea" filter="url(#soft)"/>
<path d="M422.9 492.9h0M414.6 490.1h0M427 477.6h0M421.3 496.7h0M378.5 504.7h0M416.6 503.3h0M407 480.4h0M399.7 483.2h0M399.1 472.9h0M382.5 505.7h0M400 500.9h0M404.1 479.7h0M409.9 497.2h0M411.9 470.3h0M433.6 483.2h0M430.1 474h0M388.3 505.9h0M433.7 479.6h0M425.4 490.1h0M413.9 507.2h0M423.3 476.6h0M414.9 482.7h0M411.5 501.1h0M420.2 488.8h0M376.6 504.4h0M420.5 483.4h0M408 467.8h0M408.1 479.8h0M422.1 491.2h0M421.7 476.1h0M401.8 508.5h0M413 493.6h0M426.4 477.9h0M396.2 507h0M401.4 482h0M378.6 507.1h0M407.6 505.2h0M424.6 502.5h0M404.8 498.3h0M416 466.4h0M401.3 485.9h0M419.1 492.5h0M427.2 497.2h0M414.1 498.3h0M395 509.2h0M430.8 479.4h0M389.1 508.8h0M416.2 500.3h0M409 498.2h0M404.8 484.1h0M419.7 494.9h0M411.7 504.9h0M382.8 503.8h0M432.4 481.7h0M389.5 508h0M418.5 486.8h0M413.1 470.6h0M425.6 495.7h0M411.6 471.1h0M413.8 503h0M386.2 505.3h0M426.6 478.6h0M428.5 472.5h0M409.3 499.7h0M428.2 494.4h0M414.3 488h0M430.1 489.8h0M417.4 486.7h0M400.2 479.9h0M417.3 477.6h0M425.4 494.7h0M414.1 500.7h0M409.7 498.4h0M421.3 469.1h0M415.1 503.1h0M403.5 491.5h0M425.7 476.5h0M378.7 506.1h0M410 478h0M409.2 497.2h0M384.3 507.4h0M402.1 472.4h0M413.5 488.2h0M391.4 504.7h0M410.8 472.7h0M403 469.5h0M420.4 466.6h0M412.6 493.3h0M429.9 498.1h0M420.4 471.5h0M408.5 496.8h0M411.3 477.6h0M416.5 480.5h0M424.2 490.4h0M420.8 490.4h0M423.7 502.8h0M397.9 502.2h0M415.5 496.9h0M417.9 497h0M389.3 503.6h0M418.8 502.8h0M394.5 503h0M405.7 494h0M426.4 482.2h0M405.6 487.5h0M409.6 469.6h0M408.9 481.5h0M425.1 496.2h0M424.5 473.7h0M382.6 502.7h0M404.8 485.4h0M425.9 479.9h0M427 497.3h0M414.1 501.8h0M404.7 482.3h0M416.1 473.6h0M418 470.8h0M403.3 485.7h0M405 470.8h0M425.7 494.5h0M418 502.6h0M416.1 473.8h0M407.4 488.6h0M408.8 470.8h0M419.3 504.1h0M409.9 492.3h0M381.5 505.4h0M416.5 479.7h0M427.5 489.8h0M378.4 505.4h0M419.3 498.9h0M422.2 471.1h0M428.4 473.4h0M416.8 483.1h0M413.2 488.9h0M413.2 491.3h0M429.7 499.2h0M397.5 499.1h0M415.2 477.3h0M415.7 491.1h0M406.8 488.8h0M423.6 496.8h0M428.2 473.3h0M427 478.4h0M411 488.2h0M406.6 483.2h0M398.4 492.6h0M432.9 478.1h0M419.3 490h0M420.5 474.7h0M424.2 486.7h0M411.2 494.4h0M417.7 472.8h0M400.2 489.4h0M407.9 473.2h0M413.6 497.4h0M427.8 496.8h0M422 475h0M431.1 497.2h0M396.6 500.9h0M416.1 472.2h0M427 497.9h0M401.7 501h0M402.8 505.5h0M415.6 487.9h0M404.8 479.9h0M402 500.2h0M405.3 502.7h0M420.8 504.7h0M430.7 481.7h0M416 486.6h0M405.5 488.4h0M429.4 482.7h0M413.8 488.6h0M422.5 489h0M431.4 490.3h0M381.4 507.3h0M411.6 469.9h0M411.5 496.9h0M416.1 492h0M403 494.4h0M406.6 495.6h0M409.5 502.4h0M413.7 483.4h0M400.3 505.3h0M402.2 484h0M416.9 488.9h0M376.6 505h0M406.2 503.8h0M415 490.1h0M431.1 489.3h0M391.9 502.7h0M429.5 495.3h0M418 480.1h0M431.6 486.6h0M415.5 494.6h0M413 471.6h0M401.2 486h0M405.7 470.8h0M415.1 475.8h0M422.4 480.2h0M418.1 492.3h0M427 479.8h0M428.8 475.7h0M425.1 502.4h0M416.7 476.3h0M401.4 508.8h0M400.3 469.8h0M425 472.2h0M424 478.7h0M384.3 502.9h0M411.3 502.1h0M409.8 487.7h0M418 501.8h0M400.8 499.6h0M410.6 468.2h0M395.3 507.6h0M432.2 480.6h0M423 478.9h0M401.8 495.9h0M417 506.2h0M401.4 497.8h0M377.5 503.7h0M403 487.4h0M425.1 482.6h0M423.3 497.4h0M406.1 498.5h0M402.2 480.7h0M402.7 471.4h0M408.5 494.4h0M406.9 500.6h0M425.3 494.2h0M401.3 482.1h0M394.7 506.8h0M415.3 490.1h0M405.3 482.9h0M404.4 497.3h0M408.2 496h0M402.4 472.1h0M429.6 478.9h0M409.7 485h0M406 480.2h0M405.7 472.8h0M405.3 493.1h0M408.7 479.7h0M412.6 485h0M430.2 481.6h0M392.7 502.3h0M403 499.6h0M413.3 469.8h0M379.1 505.4h0M431 482.7h0M424 482.2h0M418.3 496.9h0M415.7 488.7h0M390 505.8h0M399.7 499.3h0M431.8 487h0M427.1 481.5h0M396.1 503.7h0M417.6 473.9h0M404.4 472.4h0M412.2 504.5h0M378.5 503.1h0M404.1 498.7h0M418 480.7h0M415.3 469.2h0M434.1 488.7h0M406.8 469.9h0M420.2 491h0M398.4 499.7h0M427.2 473.8h0M411.1 475.2h0M422.5 500.3h0M377.7 503.1h0M417.9 490.7h0M416.4 468.6h0M399.2 494.4h0M409.5 477.8h0M398.9 495.8h0M382.3 506.3h0M416.9 491.3h0M382.5 507.4h0M420.6 475.7h0M420.2 472.5h0M405.5 486.7h0M417.5 483.9h0M392.4 503.5h0M404.9 471.2h0M427 472.2h0M406.8 488.8h0M405.9 477.1h0M407.8 505.6h0M415 468.3h0M420.9 495.2h0M398 507.9h0M419.2 488.9h0M419.2 497.8h0M413.5 486.1h0M430 475.5h0M428.2 492h0M418.9 483h0M426.6 485.9h0M412.2 485.2h0M402.7 493h0M426.7 483.9h0M409.3 492.8h0M413.2 491.9h0M401.9 482.5h0M413.2 493.8h0M424.7 493.1h0M431.4 487.1h0M398.8 507h0M420.6 487.4h0M416.4 504.6h0M397.4 501.3h0M431 475.9h0M419.3 474.5h0M431.5 486.2h0M392 509.7h0M402.8 469.9h0M410.7 475.4h0M420.2 473.2h0M424.5 478.6h0M400.2 482.8h0M424.1 478.8h0M405.7 486.2h0M405.5 496.6h0M426.4 485.7h0M420.5 481.6h0M418.7 491.9h0M395.1 507.3h0M409.4 470.7h0M403.9 488.7h0M425.1 479.2h0M421.8 496.5h0M410.9 496.5h0M426.2 501.2h0M411 468.8h0M406.3 489.4h0M415.3 482.3h0M420.9 503.8h0M400.6 503.5h0M400.8 474.1h0M411.6 482.9h0M417.3 495.5h0M424.3 493.2h0M405.4 467.9h0M427.6 496.5h0M422.1 490h0M399.8 472h0M427.6 482.8h0M409 476.9h0M413.3 493.2h0M404.2 474.8h0M421.1 504.6h0M415.2 492.3h0M426.3 491.4h0M412.2 499.2h0M423.4 499.7h0M417.3 492h0M419.5 485.9h0M429.5 496.6h0M410.2 487.2h0M411.4 499.8h0M418.7 493.2h0M414.7 504.2h0M406.9 495.5h0M400.6 476.4h0M402.7 502.2h0M417.6 483.5h0M402.6 471.3h0M422.1 468.4h0M401.5 486.7h0M416.1 490h0M426.2 471.4h0M413.6 485.6h0M388.7 502.3h0M429 479.8h0M387.7 504.9h0M385.7 504.6h0M408.2 478.7h0M428.6 490.9h0M389.2 507.1h0M410 476.3h0M414.1 476.6h0M411.2 495.4h0M416.4 475.6h0M398.2 505.1h0M412.2 487.9h0M423.7 497.2h0M406.6 495.6h0M411.7 475.1h0M410.3 473.2h0M419.2 499.1h0M407.4 467.3h0M417.1 481.9h0M405.4 499.4h0M407.6 473.8h0M412.4 492.4h0M421.6 485.9h0M402.1 475.4h0M416.5 468.6h0M402 502.5h0M411.6 469.2h0M427.8 488.3h0M399.6 491.4h0M411.4 476.2h0M423.6 482.5h0M417.7 481.4h0M416.2 468.7h0M428.9 474h0M406.8 483.6h0M415 475.8h0M404.9 477.4h0M421.4 478.6h0M422.6 483.9h0M403.3 505.7h0M410.2 503.2h0M405 472h0M400.7 480.5h0M403.9 468.7h0M406.3 480.3h0M405.9 482.5h0M421.1 485.4h0M411.9 474.2h0M412.5 478.3h0M429.5 487.6h0M391.7 502.5h0M423.8 480.9h0M426.4 488.2h0M401.4 476.3h0M403.8 475.2h0M433 488.2h0M433.5 490.4h0M421.3 466.4h0M405.7 506.5h0M404 495.1h0M425.5 468.9h0M408 475.6h0M422.5 501.5h0M425.5 489.5h0M413.6 493.7h0M419.7 498.3h0M416.2 466.5h0M412 469.7h0M432.5 485.3h0M399.7 474.9h0M402.5 498.3h0M416.3 499.8h0M407.1 501.9h0M419 499.6h0M405 476h0M421.7 475.5h0M405.8 482.5h0M420.5 497.3h0M420.3 480.9h0M403.2 470.1h0M420.3 501.6h0M411.2 474.4h0M423.2 496.7h0M424.8 488.9h0M404.1 486.5h0M414.5 480.4h0M422.5 467h0M424.1 496h0M428 496.2h0M408.6 474h0M382.9 503.7h0M424 475.1h0M421.4 499.6h0M408.6 482.4h0M423.7 479.8h0M403.7 509.1h0M427.5 494.9h0M420.4 467.1h0M420.9 492.1h0M415.4 469h0M412.2 467.6h0M421.4 487h0M422.9 498.5h0M423.9 478.3h0M409.8 506h0M406.5 475.8h0M413.4 507.1h0M403.5 504.1h0M411.4 483.9h0M415.6 494.4h0M383.5 506.3h0M414 498.8h0M424.6 485.2h0M410.1 499.1h0M407.9 489.1h0M418.2 468.8h0M400.8 492.5h0M400.9 474.8h0M426.9 483.2h0M410.2 489.5h0M416.4 470.3h0M411.7 501.4h0M408.6 492.2h0M399.1 489.9h0M415.2 473.1h0M412.6 470.9h0M416 503.8h0M399.3 474.2h0M423.3 478.7h0M415.1 482.8h0M412.8 488.6h0M426.7 483.1h0M420.8 476.2h0M414.2 492.5h0M406.1 501.8h0M417.4 496.1h0M412.1 503.4h0M409.2 502.5h0M432.9 481.2h0M422.3 502.6h0M429.4 476.9h0M420.9 468.8h0M409.5 506.2h0M410.1 481.2h0M414 470.8h0M428 497.8h0M408.7 501.1h0M416.9 468.2h0M400.3 480.7h0M414.2 490.2h0M388.4 503.1h0M430.7 481.1h0M432.9 491.1h0M416.2 484.1h0M413.9 486h0M401.8 486.4h0M425.1 474.2h0M425.2 488h0M421.5 489.9h0M402 491.8h0M405.2 487.3h0M416.8 478.5h0M428.4 477h0M429.3 486.2h0M395.5 501.7h0M422.8 477.4h0M425.8 480.3h0M407.5 488.3h0M418 479.7h0M404.1 490.9h0M403.3 497.8h0M426.9 501.2h0M389.6 504.5h0M432 480.4h0M421.7 481h0M418.6 503.4h0M390.5 502.2h0M417.4 503.6h0M398.6 498.1h0M428.9 479.1h0M410.9 486.6h0M428.5 476.6h0M412 494.5h0M422.8 500.3h0M422 471.3h0M407.4 476.1h0M402.2 470.1h0M424.4 479.3h0M410.5 496.5h0M420 491.2h0M427.6 493.1h0M432 484.9h0M411.7 469.3h0M417.4 468.9h0M426.4 485.3h0M423.8 478.1h0M419.2 501.6h0M400.4 500.5h0M417.9 471h0M399.4 473.3h0M391.3 504.3h0M392.9 505.7h0M389.6 506.7h0M429.7 475.9h0M410.6 497.3h0M377.1 504.6h0M428.8 495.1h0M402.8 497h0M399.8 482.1h0M411.3 491.1h0M420.2 499.7h0M429.7 491.2h0M430.1 498.2h0M399 504.7h0M399.8 487.1h0M416.1 466.3h0M415.3 504.3h0M411.9 486.1h0M416.2 467.8h0M420.4 497.4h0M427 474.8h0M382.3 505.7h0M431.7 479.8h0M407.9 480.6h0M431.9 493.3h0M416.5 497.9h0M399 471.3h0M401.6 507.7h0M408.4 487.8h0M407.7 470.9h0M415.6 478.7h0M405.9 485.1h0M417.3 491.5h0M409.5 490.9h0M411.3 501.1h0M424.5 486.9h0M427.5 488h0M400.8 488.5h0M398.6 492.9h0M421.3 486.9h0M422.2 471.8h0M403.3 496h0M374.9 502.2h0M429.9 472h0M394.2 507.9h0M417.1 501.7h0M404.5 470.8h0M428.8 474h0M419.8 501.5h0M411.4 466.7h0M430.8 478.8h0M417.1 481h0M402.1 492h0M417.5 479.8h0M394.3 503h0M412.1 491.5h0M422.9 471.1h0M416.3 503h0M418.7 487.8h0M419.6 466.5h0M409.3 470.1h0M404.4 469.7h0M423.8 503.5h0M423.3 486.5h0M412.1 480.9h0M408.8 469.6h0M428.6 474.7h0M418 468.8h0M393.1 509.5h0M418.3 494.7h0M419.8 473.5h0M423.8 487.6h0M398.3 509.4h0M403.8 488h0M407.2 489.9h0M403.2 501.4h0M411.4 475h0M406.2 506.2h0M427.7 486h0M386.7 503.2h0M387.3 504.8h0M413.8 503.7h0M431.1 493.8h0M405.9 503.7h0M402 502.7h0M396.8 504.9h0M395.3 508.4h0M424.6 478.8h0M416.4 467.9h0M423.4 497.3h0M415.6 487.5h0M409.1 506.6h0M411.7 469.4h0M385.5 506.5h0M417.6 498.5h0M384.2 507.6h0M417.5 480.3h0M422.8 469.2h0M395.9 509.2h0M422.4 495.9h0M420.6 498.7h0M432.4 481.7h0M403.3 494.5h0M422.7 470.4h0M384.9 503.6h0M402.9 491.6h0M433.3 492.5h0M411.4 498.6h0M391.2 502.8h0M418.9 492.2h0M422.3 468.2h0M412.7 485.2h0M419.1 487.1h0M413.1 472.7h0M413.2 480.1h0M398.9 491h0M408.9 472.8h0M402 471.3h0M433.7 481h0M418 478.8h0M420.9 478.6h0M432.7 492.4h0M415.4 506.4h0M410.5 506.7h0M410.5 478.1h0M430 474.1h0M430.1 493.2h0M414 470.4h0M404.4 471.7h0M415.3 489.7h0M406.4 477.9h0M404.6 497.2h0M415.3 494.7h0M406.5 469.7h0M375.6 502.9h0M421.3 497h0M409.6 485.5h0M430.7 478.7h0M412.5 507.4h0M385.1 507.7h0M422.9 487.4h0M376.1 503.2h0M403.9 489.3h0M410 495.5h0M433.3 490.1h0M418.4 491.2h0M429.8 474.2h0M424.7 473.1h0M430.1 479.8h0M412.7 490.1h0M424.7 469.8h0M413.7 490.2h0M413 501h0M425.4 471h0M400.4 471.9h0M398.9 470.4h0M402.3 488.1h0M401.1 503.8h0M411.7 479.5h0M432 493.9h0M398.9 505.4h0M393.9 504.7h0M431.3 482.6h0M403.9 483h0M398.6 501h0M429.2 471.7h0M429.5 490.8h0M406.1 473.5h0M401.9 493.1h0M410.8 502.8h0M402.3 505.6h0M421.1 480.8h0M425.9 479.3h0M407.3 474.3h0M408.1 489.2h0M385.4 504.1h0M398.3 506.4h0M431.2 475.7h0M415.7 470.4h0M398.8 470.8h0M424.3 480.9h0M403 472.5h0M400.9 470.6h0M410.9 495.1h0M412.1 484.6h0M406.2 480.4h0M428.2 486.2h0M417.3 496.3h0M400.5 472.9h0M397.6 497.6h0M400.7 497.7h0M414.3 478.3h0M394.1 503.8h0M420.1 489.7h0M386.2 505.3h0M431.4 495.9h0M416.4 467.8h0M429.9 486.3h0M433.6 483.3h0M408.5 484.8h0M405.5 476h0M429.1 479.9h0M421.1 504.9h0M413.9 487.4h0M413.9 497.1h0M424.1 467.7h0M402.3 488.2h0M420 468.8h0M400.8 500.4h0M421.8 501.7h0M379.7 506.4h0M394.6 508.3h0M430.8 494.4h0M399.7 498h0M424 468.9h0M429.1 491.2h0M402.9 490.5h0M422.8 484.6h0M415.8 474.4h0M403.6 471.3h0M407.2 503.5h0M423.6 482.8h0M391.8 508h0M416.6 489.5h0M414.4 468h0M419.5 490.7h0M420.7 473.4h0M404 474.2h0M421.9 474.5h0M402 477h0M396.4 505.8h0M382.1 506.5h0M418.2 499.4h0M410.3 467.9h0M415 471.1h0M408.2 467.2h0M413.9 489.9h0M427.9 490.4h0M411.5 492h0M425.4 496.6h0M427.4 482.4h0M401 473.9h0M409.9 492.4h0M411.1 503.1h0M401.1 505.1h0M401.4 494.3h0M403.2 498.4h0M409.9 470.9h0M404.2 499.2h0M418.6 468.6h0M382.2 505.1h0M430.2 487.2h0M427 494.7h0M414.9 491.6h0M397.4 508.1h0M416.3 486.2h0M426.2 492.6h0M417.7 472.1h0M419.2 485.1h0M413.3 497.6h0M421.6 504.5h0M428.1 495.6h0M432.3 485.9h0M406.6 470.2h0M422.4 474.7h0M394.3 504.1h0M426.9 470.1h0M395.4 501.3h0M424.3 471.5h0M432.5 489h0M415.7 499.9h0M404.5 473.6h0M404.7 501.3h0M427.7 470.8h0M423.6 493.7h0M410.3 476h0M412.7 480.2h0M411.8 476.5h0M379 503h0M400.7 487.2h0M397.7 496.8h0M399.6 496.8h0M422.6 468.9h0M406.5 502.4h0M432.6 478h0M403.4 477.3h0M410.6 493h0M420.2 470.2h0M389.8 503.3h0M408.7 482h0M426.6 480.5h0M398.7 506.4h0M424 478.3h0M426.4 492.5h0M405.1 489.7h0M403.2 497h0M427.5 496.2h0M409.6 489.8h0M426.8 470.9h0M398.9 499.4h0M427.2 487.1h0M391.5 503.6h0M398.3 503.1h0M409.1 489.1h0M410.4 469.9h0M430.5 477.6h0M406.7 489.2h0M380 504.8h0M420.2 495h0M424.9 492.6h0M407.6 492.3h0M419.7 499.6h0M407.6 495.1h0M408.8 478.7h0M405.8 481.8h0M398.3 506.3h0M413.2 495.4h0M426.2 484.3h0M403.5 505.6h0M417.3 482.4h0M407.1 492.7h0M430.2 476.9h0M408.7 467h0M403.6 486h0M407.2 478.5h0M405.1 504.4h0M409.1 488.3h0M422.3 494.7h0M422.2 493.5h0M397.8 497.7h0M411.8 477h0M403.9 477.6h0M394.2 504.6h0M426.5 473.3h0M413.6 467.8h0M413.3 479.1h0M419.2 502.5h0M431.6 486.6h0M414.5 498h0M431.5 475.2h0M431.8 478.8h0M422.1 468.3h0M417.5 476.3h0M422.3 488.8h0M422.3 484.7h0M400.8 475.3h0M415.1 478.2h0M410.7 474.4h0M402.4 485h0M400 488.5h0M410.2 507.6h0M429.7 487.9h0M395.3 506.5h0M398.8 497.4h0M392.6 501.7h0M418.6 479.1h0M430.2 481.5h0M399 508.1h0M379 504.1h0M413.6 475h0M425.9 469.7h0M418.6 470h0M421.9 499.5h0M418.9 478.9h0M420.4 489.3h0M419 488.8h0M427.6 480.3h0M407.7 467.8h0M394.3 506h0M410.6 483.1h0M406.9 491.3h0M395.8 508.2h0M411.5 491.5h0M420 467.8h0M412.4 483.7h0M433.3 490.1h0M414.2 497.8h0M423.6 482.7h0M414.6 471.6h0M423.7 493.6h0M416.8 489.7h0M421.2 484h0M420.5 493.3h0M424.2 474h0M414.1 473h0M424 477.4h0M402.2 497.4h0M411.5 493.7h0M413.1 481.1h0M396.5 502.6h0M408.9 501.5h0M397.5 505.4h0M394.6 504.3h0M427.3 501.1h0M425.7 479.7h0M414.2 505.7h0M429.2 493.3h0M378.7 507h0M406.3 492.4h0M403.8 479.9h0M394.6 505.5h0M418.8 478.8h0M404.9 474.6h0M423.3 475.3h0M419.1 499.1h0M429.7 475.1h0M419 503.3h0M395.6 505.7h0M410.7 471h0M410.1 499.3h0M413.6 471.3h0M404 501.5h0M411 502.3h0M415.1 494.7h0M416.4 489.8h0M419.1 476.8h0M384.4 503.5h0M422.6 477.6h0M427.1 496.1h0M427.9 485.8h0M416.3 474.3h0M405 468.9h0" stroke="#efb0d8" stroke-width="0.95" stroke-linecap="round"/>
<path d="M435 491.3h0M425.1 505.4h0M405 510.8h0M411.9 508.8h0M427.7 503.1h0M383.7 510.2h0M377.9 509.8h0M426.4 466.9h0M388.5 510.6h0M411.2 464.8h0M372 505.4h0M435.7 489.6h0M372 503.6h0M436.4 482.6h0M413.6 466.2h0M417.5 464.8h0M433.2 471.6h0M431.7 473.6h0M433.6 494.2h0M428.2 468.5h0M409.7 509.5h0M374.7 508.7h0M433 472.5h0M377.2 506.9h0M398.1 489.9h0M431.9 475.2h0M431.5 469h0M427.6 501.5h0M401.8 466.9h0M434.4 479.4h0M400.1 466.7h0" stroke="#efb0d8" stroke-width="0.8" stroke-linecap="round" stroke-opacity="0.7"/>
<path d="M358.5 454.6C360.8 452 364.9 448.3 370 446.9C375.1 445.5 382.8 445.2 389.2 446.2C395.6 447.2 403.1 450.3 408.5 452.7C413.9 455.1 422.9 458.1 421.9 460.4C420.9 462.6 406.5 463.3 402.7 466.2C398.9 469.1 399.1 473.2 398.8 477.7C398.5 482.2 400.8 488.9 400.8 493.1C400.8 497.3 401.4 500.8 398.8 502.7C396.2 504.6 389.6 504.9 385.4 504.6C381.2 504.3 377.3 502.7 373.8 500.8C370.3 498.9 366.8 497 364.2 493.1C361.6 489.2 359.8 482.8 358.5 477.7C357.2 472.6 356.5 466.1 356.5 462.3C356.5 458.5 356.2 457.2 358.5 454.6Z" fill="#bbe9e8" filter="url(#soft)"/>
<path d="M380.3 463.7h0M384.4 471.8h0M394.3 485h0M372.3 491.1h0M385.7 495.9h0M388.1 483h0M359.5 460.2h0M391.1 458.3h0M421 459.9h0M384.3 496.9h0M383.4 457.5h0M393.3 501.5h0M368.6 490.9h0M390 481.9h0M396.7 501h0M395.1 499.2h0M393.8 498.3h0M383.1 489.9h0M371.5 467.8h0M393.9 449.1h0M375.7 490.2h0M376.1 450.3h0M370 450.5h0M383.8 484.7h0M399 474h0M396.6 493.6h0M359.5 479.6h0M399.8 492h0M377.3 483.8h0M390.3 470.5h0M379.3 455.9h0M363.5 479.1h0M396.9 451.3h0M398.5 486.9h0M401 461.3h0M395.1 479.9h0M390.7 493.1h0M382.2 486.7h0M358.9 473.8h0M360.5 474h0M370.8 462.7h0M390.4 483.7h0M375.1 495.9h0M374.2 461.9h0M374.9 458.9h0M366.5 459.8h0M402.6 455.4h0M359.8 465.2h0M377.1 480.9h0M403.2 457.4h0M388.2 479h0M387.5 503.7h0M392.5 480h0M385.2 454.6h0M389.6 493.7h0M398.6 486.4h0M382.4 497h0M385.4 456.7h0M389.2 485h0M369.1 456.3h0M367.9 478.7h0M372.4 452.8h0M388.8 464.8h0M361.9 458.7h0M365.4 471.5h0M383.9 478.4h0M388 458h0M392.5 464.3h0M398.5 478.6h0M361.8 478.3h0M381.8 478.6h0M395.5 502.6h0M384.8 481.9h0M384.1 449h0M392.9 495.1h0M393.4 457.9h0M390.5 451.8h0M379.6 494.2h0M392.8 492.5h0M393.6 478.8h0M397.8 481.7h0M384.6 468.5h0M364 484.6h0M360.9 457.7h0M388.5 452.6h0M396.3 464.8h0M407.2 454.3h0M393.9 451.9h0M385.3 484.5h0M395.7 463.4h0M387.1 489.5h0M394.2 470.6h0M366.4 489.2h0M367.6 483.7h0M387.7 460.7h0M405.3 456.3h0M375.3 474.9h0M397 469.5h0M391.5 459.3h0M369.2 470.4h0M414.4 456.4h0M359.9 466.5h0M391.9 477h0M373.3 476.9h0M370.5 488.7h0M381.2 472.9h0M364.6 466.1h0M380.2 478.2h0M394.8 456.5h0M390.4 473.4h0M365 451.6h0M382.8 472.9h0M376.3 489.7h0M369.3 494.3h0M364.6 490.1h0M381 492.1h0M379.4 493h0M364.1 460.3h0M365.5 450.6h0M373.2 459.8h0M361.1 469h0M399.2 492.6h0M363.9 474.4h0M375.1 459.4h0M391 467.1h0M401.7 468.9h0M390.2 495.1h0M376.7 489.1h0M392.6 473.5h0M367.9 493.5h0M389.7 503.3h0M391.2 500.9h0M387.3 467.1h0M379.1 446.6h0M369.2 469.9h0M364.8 473.7h0M397.9 454.3h0M370.1 487.6h0M371.4 467.7h0M389.2 449.1h0M358.4 456.2h0M374.4 457.1h0M384.8 469h0M382.5 496.8h0M380.8 496.3h0M366.2 472.9h0M400.5 461.8h0M397.4 481.9h0M385.3 455.2h0M373.4 496h0M384.9 482.9h0M376.1 500.2h0M398.4 452.1h0M381.1 490.7h0M380.8 490.1h0M374.7 459.5h0M369 452.3h0M397.3 450.5h0M376.6 469h0M385.3 483.6h0M373.4 449.7h0M396.3 490.3h0M389.7 466.3h0M372.1 499.3h0M397.8 455.6h0M366 483.9h0M371.5 483h0M376.1 459.9h0M400.5 462.2h0M391.6 470.6h0M383.5 453.3h0M384.1 447.2h0M371.1 449.9h0M389 499.4h0M360 475.5h0M369.4 461.9h0M390.6 496.2h0M374.1 467.4h0M369.7 480.2h0M394.8 452.5h0M378.9 461.3h0M375.3 452.4h0M395.8 475.5h0M409.9 462.9h0M397.3 488.1h0M391.3 491.1h0M371.4 464.3h0M401.1 469.2h0M363 453.3h0M366.8 459.5h0M397 490.7h0M371.3 488.8h0M369.4 484.9h0M385.3 463.8h0M394.2 492.6h0M392.5 500.6h0M358.1 464.5h0M364.5 481.9h0M381.7 479.2h0M382.7 452.4h0M397.1 497.7h0M393.2 451.9h0M377.6 473.2h0M389.1 495.3h0M399.4 498.7h0M388.2 462.6h0M396.9 452.8h0M362.1 487.4h0M367 461.7h0M396 461.1h0M388.1 498.1h0M369.8 485h0M409.1 456.3h0M383 458.1h0M366.1 478.6h0M389.4 457.6h0M361 458.6h0M375.7 476h0M394.4 470.9h0M394.9 454.1h0M381.9 453.5h0M372 465.9h0M390.6 491.4h0M370.7 467.4h0M382.9 468.6h0M386.5 459.1h0M358.8 478.3h0M363.8 478h0M380.8 487.7h0M359 457.8h0M363.8 478.2h0M389.6 494.9h0M382 499.1h0M359.4 468.8h0M383.7 471.5h0M362.9 453.6h0M389.4 460.1h0M388.9 453.5h0M365.2 491h0M378 459.5h0M379.1 500.5h0M382.4 488.7h0M379.9 495.8h0M370.1 474.1h0M406 455.7h0M400.9 459h0M379 468.7h0M383.4 501.4h0M380.6 471.6h0M391.1 498h0M388.9 485.3h0M389.9 447.4h0M379.3 483.2h0M366.7 488.3h0M397.3 485.8h0M385.4 475.1h0M366.4 491.5h0M397 462.7h0M394.3 491.3h0M364.7 486.1h0M369.1 482.5h0M397.9 485.9h0M363.9 483.1h0M359.1 467.6h0M363 472.3h0M391.1 463.2h0M367 471.9h0M397.8 455.9h0M377 476.3h0M383.7 483.1h0M373.1 447.5h0M398.9 461h0M364.4 461.6h0M388.4 480.5h0M392.3 484.1h0M387 478.8h0M378.1 447.6h0M397.1 476.4h0M393.1 455.3h0M369.7 461.2h0M367.3 482.2h0M364.3 457h0M400 466.1h0M364.6 474h0M371 476h0M382.4 495.3h0M367.5 481.4h0M379.5 469.3h0M376.8 498.5h0M405.9 452.5h0M404.2 456.8h0M381.2 456.9h0M394.2 457h0M389.1 477.1h0M388 499.5h0M391 453.4h0M375.8 470.9h0M359.1 456.8h0M394 495.3h0M384.1 479.3h0M387.6 494.7h0M375.8 476.4h0M390 457.3h0M387.6 481.4h0M370.2 475.5h0M395.5 465.9h0M373.3 449.1h0M384.1 497.1h0M386.1 459.1h0M368 456.9h0M397.6 484.6h0M368.6 476.2h0M359.8 454.3h0M385.2 486.4h0M382.8 493.2h0M386.6 478.1h0M391.7 470.6h0M384.4 463.6h0M396.2 459.1h0M369.7 484.5h0M387.1 502.4h0M363.2 484.2h0M386 473.9h0M368 480.8h0M393.6 453.7h0M389.9 447h0M390.4 457.8h0M398.8 496.5h0M416.7 457.8h0M370.3 473.7h0M395.1 450.6h0M385.4 494.3h0M369 462.1h0M401.7 452.5h0M381.6 450h0M395.7 477.7h0M387.5 473.3h0M374.5 499.4h0M385.8 502.5h0M381.2 454.8h0M408 456.8h0M379.1 483h0M382.1 450.7h0M370.2 453.8h0M386.4 493.9h0M380 492.8h0M371.3 493.1h0M390.8 463.5h0M374.7 497.1h0M400.1 471.9h0M375 478.4h0M393 483.2h0M379.8 492h0M389.9 465.2h0M371 484.4h0M373.2 479h0M378.3 448.6h0M392.9 498.3h0M375.5 469.7h0M368.4 451.2h0M370 475.9h0M387.2 457.2h0M375.6 489.4h0M361 455.6h0M367.9 488.9h0M382.9 493.6h0M391.3 494.6h0M362.2 465.5h0M383.7 466.8h0M375.6 453.6h0M390.3 474.8h0M367.7 459.1h0M380.7 452.8h0M374.4 471.6h0M358.9 457.5h0M398.5 473.2h0M369.9 470.5h0M386.7 467.7h0M388.8 502.9h0M366.2 463.9h0M387.8 454.1h0M360.2 464.2h0M399.2 473.3h0M360.9 454.6h0M402.5 460.7h0M398.4 501h0M374.9 451.1h0M373.5 491.5h0M388.6 485.1h0M384.4 449.7h0M396.3 457h0M373.8 495.1h0M394.4 497.4h0M376.5 470.9h0M381.4 492.9h0M381.5 494h0M362.2 476.4h0M358.8 464.1h0M396.5 449h0M362.6 484.2h0M393.7 460.8h0M380.8 448.2h0M372 468.1h0M396 460h0M394.3 478.9h0M396.9 452.9h0M373.5 448.2h0M392.5 493.6h0M394.2 496.9h0M386.9 473.1h0M386.6 455.9h0M388.6 467.3h0M379.3 450.8h0M367 490.8h0M399.9 487.4h0M380.9 490.1h0M377.6 471.7h0M395.8 502h0M388.8 451.8h0M376.1 449.5h0M393.7 464.3h0M362 454h0M411.7 460.6h0M365.7 489.8h0M378.5 491.8h0M375.3 463.1h0M378.3 461.5h0M369.1 484.7h0M368.8 487.5h0M406.5 464.4h0M369.1 469h0M401.7 465.1h0M370.3 462.4h0M382.1 490.3h0M368 473.8h0M398.5 500.7h0M381.2 502.2h0M363.4 465.9h0M389.5 483.1h0M369.5 448.2h0M414 462.3h0M362.6 456.1h0M371.4 455h0M379.8 502.2h0M381.6 484.7h0M382.9 499.4h0M383.4 497h0M408.8 458.7h0M392.1 476.7h0M399.4 462.9h0M404.5 451.4h0M367.4 473.4h0M390.5 475.3h0M394.6 474.8h0M373.9 460.1h0M387.6 481.5h0M383.6 478.6h0M370.1 488h0M410.3 461.3h0M380.8 487h0M379.1 489.2h0M389.9 481.8h0M383.2 493.1h0M387.9 473.8h0M376.5 453.7h0M378.8 467.4h0M362 470.2h0M359.1 456.3h0M372.8 456.3h0M369 464h0M387.5 451.9h0M359.8 479.4h0M374.6 461h0M391.7 463.6h0M382.3 467.3h0M399.7 489.9h0M385.1 463.7h0M368 464h0M383.3 459.5h0M394.8 503.2h0M394 473.9h0M370.5 449h0M379.4 461.6h0M379.8 471.1h0M370.7 480.5h0M402 461.9h0M401.7 455h0M374.5 488h0M382.4 497.6h0M366.4 473.3h0M365.9 456.8h0M374.8 488.2h0M365.6 487.2h0M371.1 491.8h0M369.4 454.9h0M386.7 470.7h0M385 449.3h0M371.3 480.7h0M394.4 451.2h0M383.1 468.6h0M371.5 465h0M381.6 487h0M373.4 480h0M401.2 464.7h0M368.8 486.9h0M395.7 486.9h0M401.6 459.9h0M394.6 481.7h0M391.4 502.6h0M381.5 487h0M365.2 489.1h0M374.7 494.1h0M371.5 463.1h0M366.8 489.4h0M397.6 459.1h0M362.5 467.5h0M390.9 493.8h0M393.5 462.8h0M368.2 454.8h0M389.7 461.4h0M397.5 449.9h0M387.9 449.6h0M375.6 462.2h0M382.5 449.3h0M383.6 495.7h0M383.1 493.1h0M368.9 458.7h0M371.8 469.8h0M390.8 469.9h0M407.5 456.9h0M395.9 449.7h0M386.7 454.4h0M367.8 490.8h0M399.4 453.2h0M386.3 490.7h0M399.7 453.5h0M365.2 487.2h0M372.5 472.1h0M379.8 466.3h0M365.7 472.7h0M374.6 497.6h0M366.9 471.3h0M402.7 462h0M382.4 484.2h0M394.7 458.8h0M380.1 502.7h0M403.1 465.9h0M394.2 494.9h0M384.4 498.6h0M389 446.7h0M382 475.6h0M383.9 477h0M358.6 457.3h0M371.1 464.4h0M394.8 450.2h0M374.3 447.9h0M358.7 477.3h0M395.5 456.8h0M392 495.5h0M372.9 455.7h0M359.4 472.9h0M378.9 501.5h0M383.8 478.9h0M367.8 454h0M382.4 452.9h0M387.6 465.2h0M390.2 477.9h0M405 455.1h0M390.9 456.7h0M367.8 452.7h0M368.7 469.3h0M395.7 474.4h0M385.7 460.7h0M364.4 456.6h0M398.1 462.6h0M382.4 491.8h0M395.7 453.9h0M372.1 473.2h0M367 465.3h0M380.9 478.4h0M384.2 450.5h0M372.9 470.7h0M402.7 458.5h0M413.7 461h0M369.8 496.8h0M377.6 451.5h0M395.9 487.1h0M361.5 457.9h0M366.8 490.2h0M396.1 450.1h0M379.8 463.4h0M372.6 477.3h0M371.3 454.4h0M393.4 496.3h0M362.1 463.7h0M392.5 475.5h0M399.8 495.4h0M367.6 461.7h0M369.3 489.8h0M367.9 451.9h0M384.4 448.6h0M394.3 454.5h0M391.5 459h0M382.8 463.4h0M394.8 469.9h0M390.9 455.5h0M412.5 460h0M385.5 451.3h0M374.1 468.4h0M388.4 450.8h0M386.5 460.3h0M400 488.2h0M371.1 492.1h0M371.3 492.6h0M374.6 494.8h0M390.5 465.5h0M398.7 496.1h0M403.1 460.2h0M368.6 487.7h0M368.9 484h0M362.2 456.9h0M385.3 456.5h0M398.6 498h0M365.7 485.9h0M360.4 454.6h0M366 471.7h0M387.8 463.1h0M367.5 467.9h0M371.9 492.9h0M388.3 477.1h0M361.6 463.9h0M387.3 485.4h0M356.8 462h0M374.9 459.2h0M389 473.9h0M366.3 474.9h0M384.1 489.5h0M404.7 460h0M399.5 498.7h0M373.2 467.9h0M368.9 455.2h0M397.7 450.4h0M390.1 496.7h0M389.9 477.5h0M371.9 497h0M394.7 485.4h0M398.4 487.9h0M388.4 464.3h0M363.9 467.9h0M391.5 502.8h0M357 464.5h0M414.6 456.5h0M381.8 474.4h0M391.8 502.5h0M387.7 497.8h0M396.9 476.4h0M377 483.5h0M396.2 467.7h0M372.8 463.1h0M376.4 478.5h0M388.6 478.1h0M374.2 491.4h0M377.6 493.5h0M386.2 496.1h0M407.7 458.3h0M398.6 464.4h0M382.7 491.3h0M371.3 471.1h0M372.6 499.6h0M390.5 482.3h0M393.4 469.3h0M379.7 497.6h0M381.7 455.2h0M375.6 470.6h0M400.5 464.5h0M388.9 479.3h0M374.6 495.6h0M378.1 477.3h0M405.5 458.7h0M393.8 472.4h0M362.1 464.3h0M363.2 481.3h0M394.7 478.7h0M379 449.1h0M392.1 447.5h0M411.3 455.6h0M369.1 482.3h0M376.8 461.2h0M389.8 458.7h0M398.8 480.7h0M381.2 456.5h0M395.5 457.3h0M363.8 480.7h0M366.1 462.8h0M376.2 460.5h0M396.1 473.2h0M387.9 460.5h0M393.5 463.9h0M375.4 474.5h0M363.5 483.4h0M377.9 500.8h0M374.4 468.4h0M365.5 492.4h0M386.5 481.4h0M406.2 461.3h0M364.6 489.3h0M390.6 497.2h0M384.5 469.2h0M369.3 467.7h0M381.2 485.7h0M387.8 503.3h0M384 481.3h0M388.2 490.8h0M376.5 471.8h0M371.7 485.1h0M383.5 496.2h0M403.3 454.4h0M386.1 475.7h0M369.3 490.8h0M404.2 457h0M368.4 449.7h0M368.8 476.7h0M358 457.4h0M399.2 458.3h0M358.9 472.2h0M392.4 487.8h0M379 483.6h0M391.6 451.1h0M361.3 463.4h0M389.1 472.4h0M405.4 461.6h0M395 468.9h0M398.5 502h0M386.7 484.1h0M384.2 502.3h0M367 490.3h0M391.2 488.4h0M365.5 486h0M375.6 479.1h0M372.1 460.9h0M394.4 450.2h0M365.5 476.7h0M388.6 479.3h0M384.6 504h0M375.8 486.7h0M378.1 453.1h0M400 465.7h0M393.5 455.4h0M368.7 492.4h0M389.4 489.7h0M396.8 456.3h0M373 499.1h0M392.6 486.1h0M397.6 474h0M378.3 494.7h0M369.5 454.1h0M406.4 464.6h0M393.5 502.6h0M376.3 490.9h0M362.1 456.9h0M384.3 498.7h0M387.6 501.7h0M362.4 472.9h0M375.5 477.9h0M399 450.4h0M381.1 450h0M408.2 453.7h0M393.2 456.7h0M387.4 453h0M367.9 479.9h0M371.3 455h0M365.6 462.7h0M397.8 457.1h0M359.6 459.5h0M396.8 462.2h0M389.8 458.4h0M377.1 498.3h0M397 494.8h0M390.3 447h0M373.2 459.4h0M393.5 452.5h0M374.2 463.5h0M388.2 491.6h0M364.4 493.1h0M379.3 477.7h0M382.8 497.3h0M385.7 470.4h0M380 463.9h0M357.2 464.4h0M386.6 486.9h0M372.7 470.7h0M368.9 456.2h0M357.9 460.2h0M381.4 467.4h0M378.9 467.7h0M397.8 499.1h0M388 496.5h0M377.4 475.9h0M388.4 483.5h0M386 491h0M395.5 491.9h0M360.9 468.1h0M390.5 485.9h0M395 494.8h0M365.3 480.9h0M383.1 481.7h0M371.6 487.1h0M368.4 476h0M395.2 484.9h0M388.4 480.9h0M378.3 453.5h0M391.3 450h0M372.6 447.7h0M389 490.6h0M377.8 498.3h0M370.2 460.7h0M372.2 459.4h0M403.6 464.9h0M394.1 472.4h0M376.2 490.6h0M360.8 467.7h0M376.3 466.7h0M377.6 470.9h0M369.3 469.9h0M399.3 472.9h0M371.9 450.1h0M368.7 492.4h0M366.4 470.4h0M377.1 456.7h0M381.8 498.1h0M359.4 476h0M412.5 455.4h0M379.6 475.9h0M371.4 472.8h0M390.9 460.1h0M372.5 448.3h0M394.4 471.9h0M400.1 472h0M383.4 484h0M396.7 497.1h0M371.5 476.2h0M375 495.7h0M360.6 454.6h0M378.2 466.9h0M376.2 459.3h0M414.7 457.8h0M389.6 501.7h0M372.6 492.5h0M362 487h0M379.6 462.1h0M381.3 449.7h0M373.4 485.5h0M364.6 491.8h0M366.8 450.9h0M371.8 476.5h0M393.3 456.5h0M396.4 476.2h0M389.9 453.7h0M369.7 472.4h0M400.8 467h0M382 452.7h0M389.5 472.1h0M387.4 465.7h0M383 474.6h0M392.2 492.5h0M387.6 489.6h0M389.3 485h0M387.2 457.3h0M370.8 459.7h0M376.4 485.9h0M388.2 474.7h0M374.4 448.6h0M361.5 471.2h0M373.3 447.5h0M397.4 497.3h0M398.5 486.3h0M404.9 464.9h0M380.7 454.5h0M381.7 448.2h0M381.5 470.4h0M384.7 481.6h0M376.8 471.2h0M379 485.4h0M370.8 462.5h0M371.7 453.7h0M389.8 476.9h0M382.7 483.3h0M385.6 473h0M367.8 489.7h0M416.5 462h0M376.6 481.1h0M369.1 482h0M391.7 480.2h0M394.7 501.7h0M362.5 467.3h0M363 451.8h0M369.8 451.1h0M365.2 483.6h0M378.2 469.3h0M375.7 484.2h0M388.2 503.3h0M393.9 468.3h0M380.1 501h0M370.7 468.1h0M360.6 477.5h0M376.8 499.1h0M389 460.6h0M373.8 487.4h0M381.9 485.7h0M383.5 456.7h0M372.5 471.6h0M371.9 468.8h0M388.4 475.6h0M366.1 480.6h0M393.3 464.8h0M374.2 469.9h0M389.8 497.7h0M360.9 463.5h0M374.6 499.5h0M383 463.6h0M391.9 468.8h0M394.8 471.3h0M396.9 490.2h0M389.8 473.2h0M389.9 472.7h0M408.5 454.4h0M391.4 500.1h0M384 484.3h0M380.8 453.9h0M403.9 464h0M391 460.8h0M402 452.3h0M370 491.2h0M392.1 450.5h0M397.2 483.8h0M391.1 454.7h0M367.6 474.4h0M359.8 467.1h0M376.1 449.8h0M378.4 472.2h0M388.6 489h0M368.3 454.6h0M362.5 483.2h0M372.2 487.7h0M389 459h0M390.4 476.4h0M397.3 482.7h0M358.5 469.2h0M363.1 467.3h0M383.2 457.6h0M396.6 452.1h0M373 492.5h0M384.6 457h0M372.9 452.3h0M374.1 500.1h0M359.8 464.1h0M374.7 497.3h0M407.3 453.6h0M387.1 451.6h0M410.1 460.6h0M373.4 475.3h0M360.5 463.7h0M370.6 449.5h0M385.4 488.5h0M404.1 458.2h0M364.7 469.5h0M388.2 461.2h0M367.7 492.4h0M388.2 476h0M394.4 497.4h0M371.4 447h0M358.6 454.9h0M371.1 491.7h0M379.3 448.8h0M369.1 477.2h0M358.8 473h0M381.8 480.6h0M401 456.2h0M376.3 481.9h0M376 462.2h0M387 452h0M387.1 477.1h0M378.7 469.5h0M395.3 479.4h0M386.3 463h0M390.4 501.7h0M363.1 453.3h0M367.3 465.7h0M371.3 483.2h0M378.3 465.3h0M383.2 472.9h0M393.5 463.4h0M389.2 464.6h0M367.4 449.6h0M390.7 499.1h0M371.2 460h0M400 452.8h0M403.5 454.7h0M408.6 460.1h0M365.4 461.6h0M371.9 452.3h0M391.3 464.4h0M381.3 493.6h0M397 459.5h0M370.8 452.8h0M393.8 460h0M359.6 462.8h0M367.4 464.3h0M404.4 451.4h0M383.1 469.9h0M391.1 491.6h0M370.8 478.7h0M394.5 455h0M385.2 475.6h0M381.4 490.5h0M385.4 459.4h0M392.3 491.6h0M397.3 493.2h0M386.7 496.3h0M383.5 469.4h0M404.5 458.2h0M385.3 459.5h0M394.4 499h0M374.5 472.1h0M362.3 480.2h0M363.7 484.6h0M365.3 479.6h0M388.9 470.5h0M387.1 497.8h0M399.6 498.2h0M364.8 477.8h0M386 497.1h0M383.6 493.2h0M376 461.5h0M369.3 467.1h0M399.2 460.8h0M385.4 486.9h0M383.1 498.2h0M399.5 461h0M375 492.7h0M402.8 459.2h0M393.3 448h0M389.2 451.9h0M387.8 460.2h0M378.2 474.9h0M383.5 472h0M397.5 464.3h0M393.4 452.7h0M377.2 479.8h0M398.9 494.6h0M362 482.4h0M393.5 478h0M383.4 469h0M366.3 461.1h0M372.4 465.2h0M396.1 474.6h0M361.5 461.1h0M378.7 478.7h0M376 450.5h0M391.5 495.6h0M388.5 498h0M396.4 451.5h0M385.3 474.9h0M383.4 488.3h0M360.4 466.9h0M390.5 474.7h0M381.1 490h0M394.8 503h0M364 481.8h0M367.8 481.8h0M379.7 470h0M378 484.1h0M387.4 487.9h0M365.5 472.4h0M357.7 468.2h0M413.5 456h0M378 489.5h0M395.5 449.1h0M382 501.2h0M385.9 495.3h0M383.4 469h0M377 460.8h0M391.1 481.4h0M388.8 463h0M373.6 453.1h0M419.2 459.9h0M388.1 492.4h0M370.4 474.9h0M365.4 466.2h0M361.6 459.8h0M405.3 453.5h0M374 468.1h0M365 480.4h0M374.2 468h0M378.5 453h0M396.4 467.2h0M398.7 455.1h0M362.2 452.3h0M385.3 477.7h0M378.1 495.9h0M374 476.5h0M378.1 489.4h0M383.5 493.3h0M381 449h0M390.2 472.9h0M381.2 474.5h0M398.1 473.3h0M372.8 496.3h0M371.2 450.6h0M385.4 467.7h0M400.1 490.1h0M405 463.2h0M405.1 455.7h0M362.4 485.9h0M371.2 466.4h0M365.9 480.8h0M374.9 483.8h0M376.6 479h0M372.3 479.5h0M406.6 459.9h0M382.8 479.4h0M377.4 474.3h0M374.3 464.8h0M400.7 455.5h0M379.6 476.5h0M364 489h0M386.9 473.6h0M368.9 476.9h0M397.5 502.5h0M370.2 492.3h0M393.9 461.9h0M385.6 491.1h0M382.8 454.9h0M397.5 476.9h0M391.6 500.7h0M380.5 457h0M398.1 470.9h0M365.8 465h0M369.3 455.8h0M389.9 478.4h0M392.4 486.7h0M380 481.2h0M368.9 493.1h0M389.3 498.3h0M368.1 482.4h0M381.6 484.2h0M382.3 491.6h0M380.3 466.4h0M374.6 495.8h0M409.3 459.2h0M394.3 498h0M387.8 493.7h0M361.5 466.5h0M391.9 449.1h0M369.8 454.1h0M395.2 453.3h0M358.9 472.4h0M357.5 463h0M379.4 500h0M373.1 470h0M377.4 464.4h0M405.4 455.4h0M396.6 480.3h0M363.7 482.5h0M385 474.5h0M387 485.2h0M379.4 456h0M358.7 469.5h0M371.9 448.2h0M368.9 472.2h0M389.8 482h0M404.9 462.6h0M384.9 469.5h0M371.7 447h0M411.8 457.6h0M363.4 474.2h0M389.5 474.9h0M364.2 455.4h0M399.4 495.5h0M366.5 479.6h0M374.2 482.7h0M389 466.1h0M383.4 454.7h0M368.4 490h0M382.3 485.1h0M393.3 464.8h0M386.2 500.2h0M399.5 491.6h0M383.1 466.4h0M397.8 460.8h0M375.6 458h0M372.7 469.5h0M376.7 473.7h0M382.1 496.6h0M372.4 458.2h0M387 493.7h0M369.1 462.1h0M391.6 488.7h0M382.3 501.8h0M385.4 494.4h0M393.1 492.9h0M390.8 484.7h0M367.6 475.4h0M379.2 476.8h0M385 461.8h0M412.5 460.3h0M364.3 485.6h0M363.6 478.3h0M389.5 480h0M370.4 451.5h0M395.8 459.4h0M390.3 457.3h0M399.1 459.8h0M364.2 487h0M362.9 462.3h0M364.9 488.6h0M376.3 448.2h0M393 490.3h0M374.6 453.5h0M375.9 481.4h0M396.9 492.6h0M406.3 462.5h0M368 461h0M384 453.1h0M384.9 470.3h0M399.1 474.8h0M384.7 472h0M376.7 467.2h0M375.1 489.8h0M363.3 470.3h0M385.4 449.5h0M388.2 497.6h0M391.6 488.2h0M391.2 498.6h0M378.4 496.5h0M385.5 466.4h0M361.9 469.9h0M378.5 449h0M382.3 503.2h0M384.8 482.9h0M412.9 458.1h0M383.9 491.1h0M395.6 482.7h0M369.7 482.7h0M389.3 449.4h0M378.3 485.9h0M376.4 491.6h0M381.7 456.2h0M380.9 466.7h0M365.6 450h0M393.5 459.8h0M392.5 479.3h0M374 462.1h0M359.6 458h0M391.7 499.6h0M367.7 469.9h0M403.4 461.5h0M389.1 454.3h0M396.7 488.9h0M390.1 497h0M381 478h0M390.8 450.6h0M383.7 463.9h0M399.2 475.3h0M398.1 457.6h0M404.1 457.5h0M374.5 469.7h0M395.3 453.7h0M386.8 469.2h0M391 501.8h0M369.1 476.2h0M370.3 456.5h0M395.8 476h0M396.3 481.8h0M378.4 477.7h0M419.1 460h0M402.9 456.4h0M393.3 485.4h0M380.1 491.5h0M387.3 462.9h0M362.6 476.5h0M377.1 461.1h0M384.3 474.6h0M390.5 477.9h0M398.3 466.5h0M401.2 465.7h0M395.1 469.4h0M382.5 494.4h0M367.1 456.9h0M389.9 452.5h0M368 474.6h0M380.9 467h0M377.1 477.8h0M395.4 456.6h0M389.3 482.2h0M394.2 490.7h0M371.8 454.6h0M394.3 473.3h0M386.4 455.9h0M407 464.8h0M397.2 496.3h0M373.8 460.9h0M368 489.2h0M387.9 464.9h0M378.4 487.2h0M391.2 457h0M372.5 468.4h0M380.8 464.6h0M371 475.3h0M376.5 484.3h0M395.7 482.8h0M385.9 485.3h0M388.8 491.8h0M383.9 473h0M387.3 494.7h0M390 459.1h0M398.4 464.6h0M416.9 461.5h0M389.3 475.8h0M385.7 485.6h0M396.7 456.2h0M366 487.3h0M384.3 500.9h0M365.6 478.1h0M374.9 460.3h0M398.5 493.6h0M386.2 494.6h0M358.2 465h0M371 453.3h0M385.3 486.7h0M389.7 494.2h0M408.8 459.1h0M397 468.2h0M405.8 452.8h0M379.8 465.7h0M391.3 498.4h0M394.8 474.9h0M390.8 479.3h0M396.5 487.2h0M388.7 486.5h0M398.8 466.8h0M385.4 474.6h0M377.2 453.4h0M389.1 448.9h0M396.9 494.8h0M388 484.2h0M362.9 460.1h0M386.9 470.3h0M361.7 485.3h0M372.7 491.2h0M362.9 477.2h0M383.6 480.5h0M378.9 491.1h0M395.2 462.9h0M380.8 482.2h0M406 461.6h0M383.4 500.1h0M371.2 495.9h0M417.6 460.4h0M361.7 472h0M418.3 460.2h0M360.2 479.9h0M385.5 447.1h0M390.6 497.8h0M367.9 454.7h0M373.9 465.3h0M392.2 492.4h0M407.8 456.7h0M362.5 468.6h0M398.4 479.7h0M374 483.1h0M375.9 456.7h0M386.2 481.3h0M381.1 447.2h0M379.7 454.7h0M395.2 492.7h0M396.6 485.5h0M384.7 470.2h0M375.5 488.4h0M398.7 480.2h0M395.6 469h0M379.3 486.7h0M406.1 463.5h0M399.9 474.1h0M363.7 491.6h0M364.4 459.9h0M387.1 500.3h0M391.3 475.3h0M370.4 456.6h0M380.9 463.9h0M364.5 467h0M394.5 450.6h0M380.7 489.5h0M386.2 503.3h0M374.1 459.2h0M389.8 463.9h0M384.7 487.9h0M393.9 449.7h0M369.7 470.7h0M374 467.7h0M386.8 465h0M377.9 473h0M394.2 463.2h0M360.1 470.3h0M383.7 475.4h0M393.1 495.5h0M366.6 493.8h0M382.3 491h0M368.6 483.6h0M391.2 449.7h0M378.1 499.9h0M374.8 470.6h0M390.3 483.8h0M375.5 481.8h0M399.2 484.7h0M369.4 448.8h0M366.5 459.7h0M398.6 480.5h0M382.8 465.5h0M378.5 480.5h0M402.3 465.2h0M358.2 469.1h0M379.7 453.4h0M368.5 481.3h0M400.1 455.1h0M381.6 471.4h0M375.4 480.4h0M376.5 452.6h0M361.7 467.9h0M369.2 488.9h0M397.6 462.5h0M371.4 479.1h0M386.4 467h0M365.9 461.3h0M396.5 469.3h0M365.3 461h0M383.5 468.2h0M391.7 481.3h0M392.5 487.1h0M381.6 447.3h0M389.1 499.9h0M384.9 491.1h0M386.3 484.5h0M357.3 463.3h0M388.4 448.2h0M380.2 487.7h0M375.6 486.5h0M386.7 479.5h0M358.4 468.5h0M395.9 470.9h0M365.1 474h0M397.8 467.2h0M372.1 491.7h0M383.7 452.7h0M388.1 467.7h0M378.6 483.4h0M371.3 487.9h0M384.3 481.4h0M398.1 488.4h0M364.6 453.3h0M366.7 471.5h0M394.6 454.8h0M386.1 479.1h0M394.7 490.4h0M390.9 480.2h0M372.9 497.8h0M394.7 472.9h0M390.2 494.3h0M376.5 456.1h0M400.5 464.8h0M371.5 447.9h0M377.4 463.6h0M363.4 478.4h0M389.9 453.8h0M361.1 468.2h0M361.1 464.7h0M412.2 456.2h0M386.3 463.1h0M382.5 502.5h0M384.9 453.6h0M399.6 486.4h0M416.5 458.1h0M371 468.9h0M381.2 465.7h0M371.5 479.2h0M359.9 459.5h0M393.2 483.1h0M396 472.2h0M407.4 462.1h0M389.6 481.4h0M369.9 474.2h0M373.2 490.5h0M382.6 469.4h0M386.8 484.2h0M368.9 465.7h0M384.9 478.4h0M395.8 482.2h0M365.9 459.4h0M405.6 454.5h0M363.8 473h0M386.9 497.4h0M396.9 459h0M390.5 486.6h0M379 494.8h0M391.1 503.4h0M363.4 455.3h0M398.2 488.3h0M401.5 463.1h0M392.6 460.1h0M389.5 463.9h0M385.1 448.2h0M387.4 460.9h0M369.2 470.3h0M368.6 467.7h0M363.8 487.2h0M403 458.1h0M389.1 470.5h0M372.2 463.8h0M385 499.4h0M398.5 485.4h0M381.6 467.4h0M373.2 488.5h0M368.9 456.4h0M370.5 452.4h0M359.1 454.5h0M380.8 452.4h0M391.5 497.3h0M397.6 478.5h0M370 476.7h0M373 484.1h0M403.5 451.2h0M358.2 472.8h0M364.7 490.7h0M370.3 484.6h0M382.8 481h0M392 469h0M392.4 480.3h0M365.3 488.3h0M365.9 458.6h0M399.4 473.9h0M360.1 458.7h0M380 487.5h0M363.6 458.6h0M397.8 458.5h0M397.1 465.6h0M394.3 460.2h0M384 484.2h0M361.6 479.2h0M392.2 454.9h0M380.1 483.2h0M392.6 495.1h0M367.1 495.2h0M404.7 453.5h0M382.4 495.7h0M405.1 456.1h0M378.9 486.1h0M395.7 487.1h0M389 469h0M371.8 466.6h0M395.7 489.3h0M366.4 470h0M387.4 464.7h0M400.2 494.1h0M375.7 475.5h0M385.5 461.7h0M369.8 473.8h0M374.5 482h0M368.1 449.5h0M380.9 468.7h0M385.7 465.5h0M404.7 451.9h0M369.9 469.3h0M363 467.1h0M407.7 458.1h0M375.1 455.8h0M381 468.5h0M384.2 448.9h0M358.5 457.5h0M390.6 450.8h0M374.9 499.2h0M386 478.5h0M378.1 470.6h0M395.1 490.6h0M379.3 475.3h0M390.6 488.2h0M368.2 472.9h0M388.4 488.1h0M367.7 480.5h0M392.5 483.5h0M391.5 448.9h0M369.9 490.5h0M396.9 458.5h0M390.9 498.8h0M383.4 495.3h0M359.8 460.6h0M374.1 464.8h0M389.7 493.5h0M389.2 467.7h0M365.4 493.4h0M400.1 451.5h0M373.4 486.3h0M408.4 453.9h0M379.7 482.2h0M381 476.8h0M360.9 477.8h0M371.1 485.7h0M398.1 483.2h0M361.3 466.8h0M367.8 495.7h0M397.6 475.5h0M388.5 448.8h0M382.7 450.3h0M379.8 452.2h0M393.1 476.3h0M377.2 465h0M393.8 465h0M388.5 488.5h0M375 470.6h0M369.9 477.5h0M361.3 468.1h0M377.4 487.9h0M361.5 484.4h0M384.1 476.9h0M368.7 478.2h0M370.9 471.3h0M369.6 481.5h0M383.3 456.8h0M382.5 492.3h0M385.7 478.7h0M398.5 450h0M404.8 455.3h0M390.9 497.1h0M401 458.7h0M390.1 482h0M395.9 457.3h0M385.8 488.4h0M357.9 471.6h0M389.6 493.3h0M377.2 483.9h0M383.6 449.3h0M396.6 468.8h0M362.6 486.2h0M375.3 482.1h0M386.6 489.8h0M364.5 474.7h0M367.1 468.9h0M371.1 482.3h0M383.1 470.3h0M401.8 456.1h0M401.9 454.8h0M394 448.7h0M411.5 460.2h0M405.2 460h0M399.5 461.4h0M386.8 461.1h0M406.9 464h0M379.7 490.3h0M397 486.5h0M373.1 468.6h0M406.7 452.2h0M412.3 463.3h0M400.7 452.8h0M369 465.5h0M380.4 453.6h0M384.1 495h0M391.5 479.3h0M370 467.7h0M374 465.2h0M376.2 457.1h0M392.4 458.3h0M397.4 462.5h0M392.7 463.7h0M379.4 457.7h0M387.9 466.1h0M372.8 451.8h0M393.6 457.7h0M394.8 488h0M365.9 452.8h0M382.5 465.7h0M381.5 458.4h0M377.6 479.3h0M376.4 482h0M383.5 464.8h0M386 472.1h0M381.2 459.7h0M361.3 468.6h0M359.9 471.4h0M397.9 488.7h0M378.7 462.3h0M368.1 485.7h0M385.8 492.3h0M384.5 498.6h0M377.7 449.6h0M393 466.3h0M373 486.5h0M396 494.1h0M359.7 461.5h0M361.1 453.2h0M379.4 475.8h0M392.2 500.4h0" stroke="#45bec0" stroke-width="0.95" stroke-linecap="round"/>
<path d="M408.3 452h0M379.5 506h0M381.5 506.8h0M403.6 447.6h0M385.5 443.1h0M400.9 472.3h0M385.7 444.3h0M415.1 454.8h0M379.1 502.6h0M376.4 501.7h0M365.3 495h0M391.6 445.3h0M401.7 448.9h0M400.1 501.9h0M354.9 456.8h0M361.2 451.2h0M356.6 466.8h0M365.6 449.6h0M421.5 458.1h0M355.7 472.8h0M393.1 445.5h0M388.6 444.7h0M397.7 504.7h0M384.2 505.7h0M362.8 490h0M395.4 504.7h0M357.9 456.1h0M412 451.2h0M384.6 443.4h0M372.8 445.3h0M359.5 450.6h0M401.1 500.7h0M401.4 471.5h0M356.7 475.3h0M360.7 491.6h0M367 448h0M365.6 448.9h0M397.4 504.8h0M358.4 451.2h0" stroke="#45bec0" stroke-width="0.8" stroke-linecap="round" stroke-opacity="0.7"/>
<path d="M402 520.5C404.5 519.1 410 518.6 414 518.5C418 518.4 423.1 518.8 426 520C428.9 521.2 430.5 523.8 431.5 526C432.5 528.2 433.2 530.9 432 533C430.8 535.1 427.7 537.4 424 538.5C420.3 539.6 413.8 540.1 410 539.5C406.2 538.9 402.8 537.1 401 535C399.2 532.9 398.8 529.4 399 527C399.2 524.6 399.5 521.9 402 520.5Z" fill="#f8dc90" filter="url(#soft)"/>
<path d="M424.2 526.8h0M408.3 533.6h0M422.7 537.9h0M417.3 530.9h0M406.2 536.5h0M413.1 524.8h0M419.1 537.3h0M428.7 528.3h0M430.4 530.3h0M403.8 531.9h0M406.1 526.4h0M430.2 533.3h0M421.2 529.2h0M411 535.5h0M407.2 525.1h0M422.8 526.1h0M405.3 535.5h0M415.5 524.9h0M419.3 537.5h0M428.7 527.1h0M406.3 530.9h0M424.5 519.9h0M406.6 526h0M420.2 533.7h0M413.4 527.5h0M402.3 529.1h0M418.2 523.4h0M405.6 531.3h0M415.9 529.9h0M422.9 526.6h0M419.4 526.7h0M410.8 521.3h0M425.2 528.1h0M410.2 526.7h0M400.1 531.3h0M404.3 524.2h0M429.4 526.3h0M402.2 535.1h0M421.6 538.2h0M427.3 532.9h0M414.3 527.4h0M415.6 523.1h0M416.1 526.9h0M409.1 537.7h0M405 534.7h0M418.9 522.6h0M417.3 522.4h0M426.3 524.1h0M415.1 525.3h0M417.5 538.4h0M404.7 526.8h0M415.9 533.7h0M406.1 524.4h0M408.3 528.5h0M416.4 531.7h0M405.4 534.5h0M402.1 532.1h0M410.5 536.5h0M416.4 521.8h0M417.1 536.3h0M417 529.1h0M425.8 536.9h0M427.7 529.2h0M405.9 520.1h0M430.9 530.9h0M430.1 528.1h0M412.1 537.4h0M428 531h0M414.4 529.1h0M402.3 524.6h0M416.4 521h0M403.1 521.1h0M416 522.5h0M429.1 529.9h0M419.9 537.2h0M427.7 534.3h0M426.7 521.9h0M415.1 538.8h0M400.8 527.4h0M417.1 534.8h0M428.5 526.7h0M416.7 536.1h0M430.4 525.1h0M423.7 537.8h0M416.3 530.5h0M417.7 531.2h0M424.9 537.7h0M424.1 526.4h0M408.5 531.9h0M408.1 523.4h0M406.2 533.2h0M425.9 521.5h0M409 532.8h0M416.4 532.3h0M427 523.4h0M412.8 526h0M425 535.7h0M427.7 522.1h0M410.4 530.1h0M417.6 522.1h0M414.3 536.7h0M402.2 532.6h0M419.3 521.9h0M421.2 528.7h0M411.2 521.2h0M418.5 530.8h0M408.1 537.2h0M413.1 526.2h0M399.3 526.7h0M414.2 519.2h0M415.8 528.7h0M424.8 521.3h0M427.3 530.5h0M419.1 524.7h0M405.8 520h0M428.4 531h0M410.2 527h0M426.9 528.1h0M419.1 529.7h0M411 531.4h0M423.8 531.3h0M402.7 522h0M410.2 530.2h0M407.1 519.7h0M406.8 522.1h0M421.6 527.2h0M409.2 527.1h0M430.6 530.4h0M423.2 532.5h0M405.9 522.7h0M415.1 535.2h0M422.2 523h0M418.2 520.5h0M425 533.3h0M407.9 528.5h0M422.5 532.3h0M421 530.2h0M418.6 535.4h0M429.4 532.4h0M414.9 530.6h0M409.1 522.4h0M401 526h0M417.6 524.5h0M415.4 525.1h0M405.8 525h0M426 527h0M428.3 534h0M421.8 523.9h0M411 525.2h0M408.5 536.2h0M422 537.2h0M419.6 531.5h0M416 537.8h0M409.9 532.2h0M422.8 520.7h0M418.9 537.2h0M410.1 536.6h0M418.8 528.4h0M410.1 529.7h0M423.6 532.9h0M412.5 523.6h0M415 536.9h0M423 527.3h0M406.3 534.5h0M419.8 519.5h0M420.2 531.7h0M430.6 526.4h0M407.7 532.3h0M420.7 529.9h0M429.4 524.9h0M410.9 531.4h0M403.7 534.5h0M427.6 535.2h0M406.2 528.3h0M415.9 536.9h0M418.9 537.3h0M421 520.1h0M402.1 527.7h0M422.4 529.9h0M405.9 531.3h0M413.3 526.2h0M428.6 528.8h0M414.2 520.3h0M415 520.6h0M419.1 531.5h0M422.5 520.2h0M405.8 528.2h0M420.8 537.5h0M418.3 530.7h0M427.2 521.7h0M416 529.4h0M424.5 533.9h0M417.6 529.7h0M431.5 532.8h0M401 531.8h0M412.8 536.9h0M410.3 532.7h0M405.7 535.5h0M404.8 522.6h0M421.9 526.5h0M413.3 533.3h0M410.8 534h0M429.9 528.3h0M402.8 525.7h0M426.8 522.9h0M414.1 520.3h0M405.2 529.9h0M428.2 525.1h0M412.3 525.5h0M411.7 526.6h0M430.4 526.6h0M408.4 525.8h0M425.5 529h0M410.8 534.7h0M412.8 538.8h0M412 520.8h0M415.9 525.9h0M402.1 532.6h0M405.4 531h0M420.9 520.6h0M408.1 525.9h0M419.2 538.1h0M406 525.6h0M430.4 527.3h0M404.4 526.7h0M410 524h0M427.9 529.6h0M427.2 522.2h0M402.8 522.2h0M420 521h0M423.6 521.1h0M419.4 530.4h0M430 532.7h0M414 520.8h0M424.5 528h0M425 527.1h0M415 528.9h0M423.3 537.3h0M407.4 528.8h0M406.6 523h0M418.5 524.4h0M414.8 529.5h0M423.7 528h0M404.4 522h0M404.6 521.7h0M417.8 530.8h0M429.7 529.9h0M425 531.3h0M422.7 520.6h0M424.8 526.7h0M407.1 526.2h0M420.6 535.7h0M421.9 528.5h0M429.9 534h0M405 526.5h0M426.3 526h0M411.6 527.8h0M405.8 527.1h0M401.3 528.3h0M429.2 533h0M400.8 530h0M426.6 527.5h0M417.9 522.9h0M424.3 536.6h0M416.5 533.9h0M402.3 533.5h0M405.9 526.7h0M430.1 528.2h0M417.1 536h0M425.7 535.7h0M405.9 526.4h0M405.8 521.8h0M415.5 523.5h0M406.5 529.2h0M421.6 528.9h0M411.6 527.5h0M410.5 528.1h0M410 526.5h0M412 532.9h0M429 528.8h0M404.8 527.9h0M412.4 531.2h0M424.5 530.7h0M412.7 526.9h0M406.6 523.7h0M420.5 525.2h0M405 533.5h0M430.1 526.9h0M409 534.5h0M399.7 526.4h0M411.8 520.1h0M408.2 527.5h0M402.2 532.1h0M428.4 525.5h0M412.1 538.7h0M417 531.7h0M401.3 523.1h0M424.6 521.8h0M407.4 524.1h0M414.7 530.8h0M406.3 525.3h0M410.4 533.1h0M425.9 524.9h0M421.7 524.3h0M422.2 524.5h0M424 521.4h0M404.9 530.1h0M423.3 527.8h0M415.7 528.4h0M427.3 530h0M431.8 532.7h0M404.3 521.4h0M409.4 530.8h0M420.7 538.6h0M424.4 525.8h0M419.6 520.7h0M409.2 527.2h0M416.2 536.3h0M409.8 535.3h0M410.7 528h0M409.2 531.6h0M420.4 532.4h0M419.3 530h0M426.9 531.9h0M413.6 524.9h0M408.4 535.4h0M422.9 525.3h0M409.4 525.4h0M427 533.2h0M423.6 535.4h0M406.4 525.1h0M412.4 536.6h0M409.9 530.4h0M401.4 523.5h0M405.6 524.8h0M417 535.1h0M407.2 531.8h0M427.9 527.4h0M413.5 525.5h0M407.4 537.3h0M401.7 532.4h0M409.4 520.5h0M400.4 529.1h0M422.7 525.3h0M413.6 537.2h0M426.7 536.1h0M403.6 535.9h0M415.2 534.7h0M419.8 523.2h0M412.3 521.9h0M404.5 530.7h0M418.6 532.3h0M431 526.4h0M423.8 524.6h0M419.1 526.3h0M420.3 538.3h0M403.4 534.3h0M413.4 538.9h0M410.2 531.9h0M423.2 525.2h0M416.9 521h0M406.7 537.2h0M413.5 526h0M411.2 532h0M427.2 532.9h0M425.9 523.8h0M409 528.7h0M407.2 524h0M408.4 536.5h0M427.2 532.2h0M425 527.7h0M400.6 526.1h0M422.1 536.2h0M427.2 523h0M429.7 524.6h0M412.6 534.8h0M415 523.5h0M400.2 526.1h0M404.4 532.2h0M414.9 537.7h0M416.6 537.6h0M419 519.7h0M423.7 537.2h0M421.6 528.9h0M407.1 530.4h0M414.6 525.7h0M415.6 534.8h0M420.6 533.3h0M415.5 525.5h0M422.3 522.3h0M410.7 533.3h0M410.8 536h0M414.9 532.1h0M411.8 534.5h0M408.3 529.7h0M415.5 534.9h0M403.7 524.5h0M424.9 528.7h0M412 532.4h0M400 527.4h0M414.5 527h0M416 521.2h0M424.2 529.4h0M421.9 530h0M426 526.6h0M411.6 525.2h0M408.7 536.2h0M413.5 521.3h0M422.9 535.6h0M409.6 537.9h0M406.1 535.5h0M422.9 525.4h0M424.7 536.2h0M407.9 529.7h0M421.4 530.1h0M400.2 525.5h0M424.2 519.9h0M424.3 531.8h0M403.8 531.8h0M417.5 524.5h0M405.4 524.7h0M412.9 521.8h0M406.4 527h0M409.4 524.5h0M420.7 529.4h0M421.1 536.8h0M419.4 531.2h0M425.9 531.4h0M424.7 535.4h0M404 535.5h0M423.2 532.4h0M427.3 535.8h0M410.8 521.3h0M428.4 524.8h0M413.9 531.4h0M409.6 524.9h0M403.7 524.9h0M418.5 528.4h0M402.6 529.6h0M416.5 526.4h0M408.6 520h0M405.8 523.1h0M415.7 531.3h0M421.8 535.1h0M404.8 536.7h0M418.2 530.2h0M429.8 526.1h0M416.7 533.4h0M406.5 525.2h0M415.7 537.7h0M405.7 527.5h0M424.6 520.6h0M413.6 527.7h0M404.6 529.2h0M421.9 537.1h0M402.4 533h0M417.1 537.5h0M409.2 534.2h0M421.7 531.7h0M417.1 535.2h0M404.4 526.6h0M405.6 529.6h0M413.7 536.2h0M399.8 526.2h0M427.3 530.3h0M426.8 529.7h0M411.1 536.4h0M408.3 525.4h0M430.8 533.4h0M410.1 535.3h0M413.3 526.6h0M415 526.7h0M413.3 536.6h0M420.4 530.4h0M408.6 536.1h0M419.6 519.5h0M412.2 536.5h0M418.1 528h0M422.2 534.4h0M422.9 523.1h0M403.5 520.5h0M419.8 535.2h0M424 530.7h0M415.7 530.1h0M426.9 524.2h0M411 533.4h0M405.3 535h0M410.8 529.9h0M411.1 524.2h0M420.2 535h0M404.7 520.6h0M417.5 535.9h0M406.6 519.9h0M403.8 527.4h0M403 522.7h0M402.1 535h0M425.7 526.2h0M410.2 528.5h0M405.1 521.7h0M423.7 520.1h0M427.6 530.6h0M426.6 532.7h0M429 534.5h0M415.1 522.1h0M420.2 527.3h0M426.1 537h0M422.3 526h0M403.8 528.7h0M419.3 535.3h0M402.1 526h0M427.6 527.6h0M414.8 529.2h0M425.8 532.1h0M400.1 526.8h0M402.1 527.6h0M426.5 527.8h0M409.1 524.4h0M411.4 524.4h0M401.9 534.2h0M410.9 534.7h0M425 536.2h0M418.9 538.8h0M421.9 535.6h0M429.5 526.2h0M400.5 530.6h0M417.7 533.1h0M403.4 530h0M426 520.7h0M403.7 525.6h0M427.8 529.4h0M407.8 534.9h0M401.8 534.9h0M421.2 522.3h0M429.2 527.4h0M428.3 532.9h0M417.8 534.3h0M414 530.9h0M421.2 528.4h0M402.7 532.6h0M423.5 523.2h0M409.9 532.6h0M411.2 522h0M410 533.6h0M420.3 525.6h0M414 526.6h0M403 532.8h0M425.5 520.3h0M418.2 521.9h0M420.9 531.6h0M431 532.6h0M425.9 528.4h0M407.2 537h0M421.9 524.5h0M425.6 520.2h0M420.1 524.9h0M401.5 533.5h0M425.5 521.1h0M424.3 530.4h0M428.8 526.9h0M425.8 534.3h0" stroke="#f2c445" stroke-width="0.95" stroke-linecap="round"/>
<path d="M397.6 528h0M426.7 537.7h0M413.9 517.8h0M400.4 521.4h0M433 526.6h0M412.6 518.4h0M415.9 518.6h0M399.3 522h0M401.7 535.9h0M432.2 526.6h0M426.7 536.9h0M402.5 519.9h0M430.1 535.6h0M400.5 533.5h0M398.9 532.6h0M398.1 525.6h0M400 520.6h0M401.3 536.7h0M414.2 539.7h0M404.3 536.8h0M431 535.1h0M400.1 522.2h0M424.6 519.8h0M420.2 539.5h0" stroke="#f2c445" stroke-width="0.8" stroke-linecap="round" stroke-opacity="0.7"/>
<path d="M423.7 513.5h0M422.1 515.6h0M422.6 516.3h0M428.3 513.9h0M428 516.6h0M427.7 517.3h0M428.3 515.7h0M426.4 513.8h0M425.3 515.1h0M429.8 514h0M431.2 516h0M426.4 518.3h0M429.1 517.2h0M425.3 515.7h0M430.1 515.1h0M425.4 513.8h0M426.4 514.9h0M425.2 514h0M426.6 515.1h0M429.2 515.6h0M430 516.4h0M425.7 515.8h0M424.5 516.9h0M428.4 518h0M422 516.9h0M431.3 516.2h0M424.3 517.1h0M430.8 515h0M426 514.6h0M425.5 516.5h0M430.6 515.3h0M423 514.6h0M427.3 518h0M422.9 516.2h0M421.9 514.3h0M428.3 514.5h0M427.6 516h0M425.9 516.2h0M426.5 517.8h0M427.7 517h0M425.9 515.8h0M426.6 515.4h0M431.1 516h0M425.4 515h0M424.5 514.9h0" stroke="#e0405a" stroke-width="0.9" stroke-linecap="round"/>
<path d="M420.9 511.4h0M420.6 513.6h0M421.7 513h0M421.4 513.1h0M420.6 513.2h0M419.7 513.1h0M420.8 513.3h0M419.7 512.8h0M421.6 513.5h0M419.5 513h0" stroke="#c8a0d0" stroke-width="0.8" stroke-linecap="round"/>
<path d="M362.7 447.9h0M365.4 449.3h0M382.9 448.6h0M372.1 450.9h0M369.4 450.5h0M367.6 446.6h0M374.8 447.9h0M378.9 449.5h0M365.4 446.6h0M377.6 450h0M382.3 448.3h0M369.8 450.4h0M367.8 447.5h0M382.5 449.5h0M371.2 448.2h0M378.3 447.1h0M377.3 450.1h0M368.9 449.6h0M367.8 448.1h0M369.8 450.3h0M366.4 450.6h0M368.2 447.1h0M376.8 447.3h0M372.1 451.4h0M369.6 448.8h0M372.8 449h0M365.4 447.6h0M371.2 449.2h0M372.2 451.7h0M376.1 449.5h0M376.8 447.2h0M367.2 450.7h0M373.6 451.8h0M367.4 450.8h0M366.2 447.2h0M365.5 447.5h0M378.2 451.3h0M367.8 448.7h0M367.1 448.8h0M372.9 451.4h0M367.5 449.2h0M363.8 448.5h0M367.5 446.3h0M372.9 450.5h0M370.5 449.7h0M366.5 448.4h0M365.7 448h0M371.2 448.4h0M363.2 450.6h0M365.8 448.2h0M366.7 448.8h0M366.8 451.2h0M366.1 449.6h0M378.9 449h0M372.6 450.3h0M376.5 447.5h0M375.3 451.6h0M381.5 449h0M382.1 448.9h0M369.3 449.5h0" stroke="#45bec0" stroke-width="0.8" stroke-linecap="round"/>
<path d="M448.8 474.5 L451.6 468.3 L454.6 474.5Z" fill="#c9a6d6" stroke="#4fb3c0" stroke-width="0.8"/>
<line x1="347.7" y1="512.3" x2="347.7" y2="549.2" stroke="#222" stroke-width="0.9"/>
<line x1="347.3" y1="549" x2="385.2" y2="549" stroke="#222" stroke-width="0.9"/>
<text x="342.5" y="531" font-size="8.2" text-anchor="middle" fill="#222" transform="rotate(-90 342.5 531)" textLength="22" lengthAdjust="spacingAndGlyphs" stroke="#222" stroke-width="0.3">UMAP_2</text>
<text x="354.8" y="559.4" font-size="8.2" text-anchor="start" fill="#222" textLength="22.3" lengthAdjust="spacingAndGlyphs" stroke="#222" stroke-width="0.3">UMAP_1</text>
<circle cx="337.5" cy="573.7" r="2" fill="#e8b52c"/>
<text x="342.9" y="575.9" font-size="6.3" text-anchor="start" fill="#222">CD38+ CD28− CD27− CD81+ CD117−</text>
<circle cx="337.5" cy="581.8" r="2" fill="#c9b532"/>
<text x="342.9" y="584" font-size="6.3" text-anchor="start" fill="#222">CD38+ CD28− CD27− CD81+ CD117+</text>
<circle cx="337.5" cy="589.9" r="2" fill="#2fa8b8"/>
<text x="342.9" y="592.1" font-size="6.3" text-anchor="start" fill="#222">CD38+ CD28− CD27+ CD81+ CD117−</text>
<circle cx="337.5" cy="597.9" r="2" fill="#eaa9d4"/>
<text x="342.9" y="600.1" font-size="6.3" text-anchor="start" fill="#222">CD38+ CD28+ CD27− CD81+ CD117−</text>
<circle cx="337.5" cy="606" r="2" fill="#d93553"/>
<text x="342.9" y="608.2" font-size="6.3" text-anchor="start" fill="#222">CD38+ CD28+ CD27− CD81+ CD117+</text>
<rect x="0.5" y="0.5" width="519" height="653" fill="none" stroke="#4a4a4a" stroke-width="1.2"/>
</svg>
</body></html>
